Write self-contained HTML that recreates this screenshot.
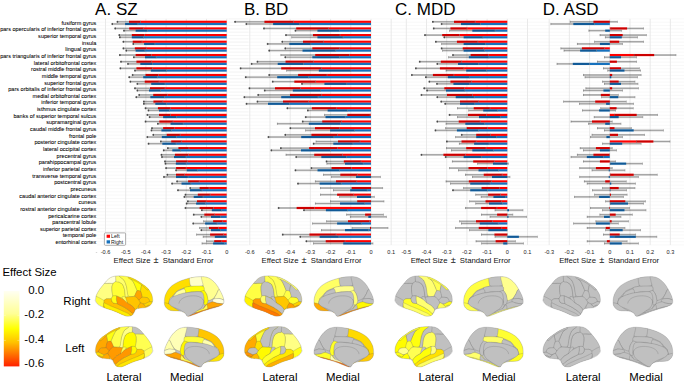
<!DOCTYPE html>
<html><head><meta charset="utf-8"><style>html,body{margin:0;padding:0;background:#fff}body{width:685px;height:385px;overflow:hidden}svg{display:block}text{font-family:"Liberation Sans",sans-serif}</style></head><body>
<svg width="685" height="385" viewBox="0 0 685 385" font-family="Liberation Sans, sans-serif">
<rect width="685" height="385" fill="#fff"/>
<path d="M97 18.9H248M97 22.22H248M97 25.55H248M97 28.88H248M97 32.2H248M97 35.52H248M97 38.85H248M97 42.17H248M97 45.5H248M97 48.83H248M97 52.15H248M97 55.48H248M97 58.8H248M97 62.12H248M97 65.45H248M97 68.78H248M97 72.1H248M97 75.43H248M97 78.75H248M97 82.08H248M97 85.4H248M97 88.72H248M97 92.05H248M97 95.38H248M97 98.7H248M97 102.03H248M97 105.35H248M97 108.68H248M97 112H248M97 115.33H248M97 118.65H248M97 121.97H248M97 125.3H248M97 128.62H248M97 131.95H248M97 135.28H248M97 138.6H248M97 141.93H248M97 145.25H248M97 148.58H248M97 151.9H248M97 155.23H248M97 158.55H248M97 161.88H248M97 165.2H248M97 168.53H248M97 171.85H248M97 175.18H248M97 178.5H248M97 181.83H248M97 185.15H248M97 188.48H248M97 191.8H248M97 195.13H248M97 198.45H248M97 201.78H248M97 205.1H248M97 208.43H248M97 211.75H248M97 215.08H248M97 218.4H248M97 221.73H248M97 225.05H248M97 228.38H248M97 231.7H248M97 235.03H248M97 238.35H248M97 241.68H248M97 245H248" stroke="#f3f3f3" stroke-width="0.6"/>
<path d="M105.5 18.9V245.0M125.7 18.9V245.0M145.9 18.9V245.0M166.1 18.9V245.0M186.3 18.9V245.0M206.5 18.9V245.0M226.7 18.9V245.0" stroke="#e6e6e6" stroke-width="0.9"/>
<rect x="129" y="20.7" width="97.7" height="2.2" fill="#ff0000"/>
<rect x="117.5" y="20.85" width="23" height="1.9" fill="#000" fill-opacity="0.21"/>
<rect x="117.5" y="21.25" width="11.5" height="1.0" fill="#000" fill-opacity="0.2"/>
<rect x="117.25" y="20.7" width="0.5" height="2.2" fill="#666"/>
<rect x="140.25" y="20.7" width="0.5" height="2.2" fill="#888"/>
<rect x="116.6" y="21" width="1.6" height="1.6" fill="#333" fill-opacity="0.8"/>
<rect x="125.1" y="22.9" width="101.6" height="2.2" fill="#1671bd"/>
<rect x="112.3" y="23.05" width="25.6" height="1.9" fill="#000" fill-opacity="0.21"/>
<rect x="112.3" y="23.45" width="12.8" height="1.0" fill="#000" fill-opacity="0.2"/>
<rect x="112.05" y="22.9" width="0.5" height="2.2" fill="#666"/>
<rect x="137.65" y="22.9" width="0.5" height="2.2" fill="#888"/>
<rect x="111.4" y="23.2" width="1.6" height="1.6" fill="#333" fill-opacity="0.8"/>
<rect x="129.2" y="27.35" width="97.5" height="2.2" fill="#ff0000"/>
<rect x="115.2" y="27.5" width="28" height="1.9" fill="#000" fill-opacity="0.21"/>
<rect x="115.2" y="27.9" width="14" height="1.0" fill="#000" fill-opacity="0.2"/>
<rect x="114.95" y="27.35" width="0.5" height="2.2" fill="#666"/>
<rect x="142.95" y="27.35" width="0.5" height="2.2" fill="#888"/>
<rect x="114.3" y="27.65" width="1.6" height="1.6" fill="#333" fill-opacity="0.8"/>
<rect x="135.6" y="29.55" width="91.1" height="2.2" fill="#1671bd"/>
<rect x="124" y="29.7" width="23.2" height="1.9" fill="#000" fill-opacity="0.21"/>
<rect x="124" y="30.1" width="11.6" height="1.0" fill="#000" fill-opacity="0.2"/>
<rect x="123.75" y="29.55" width="0.5" height="2.2" fill="#666"/>
<rect x="146.95" y="29.55" width="0.5" height="2.2" fill="#888"/>
<rect x="123.1" y="29.85" width="1.6" height="1.6" fill="#333" fill-opacity="0.8"/>
<rect x="131.8" y="34" width="94.9" height="2.2" fill="#ff0000"/>
<rect x="119.3" y="34.15" width="25" height="1.9" fill="#000" fill-opacity="0.21"/>
<rect x="119.3" y="34.55" width="12.5" height="1.0" fill="#000" fill-opacity="0.2"/>
<rect x="119.05" y="34" width="0.5" height="2.2" fill="#666"/>
<rect x="144.05" y="34" width="0.5" height="2.2" fill="#888"/>
<rect x="118.4" y="34.3" width="1.6" height="1.6" fill="#333" fill-opacity="0.8"/>
<rect x="131.8" y="36.2" width="94.9" height="2.2" fill="#1671bd"/>
<rect x="119.9" y="36.35" width="23.8" height="1.9" fill="#000" fill-opacity="0.21"/>
<rect x="119.9" y="36.75" width="11.9" height="1.0" fill="#000" fill-opacity="0.2"/>
<rect x="119.65" y="36.2" width="0.5" height="2.2" fill="#666"/>
<rect x="143.45" y="36.2" width="0.5" height="2.2" fill="#888"/>
<rect x="119" y="36.5" width="1.6" height="1.6" fill="#333" fill-opacity="0.8"/>
<rect x="132.7" y="40.65" width="94" height="2.2" fill="#ff0000"/>
<rect x="123.4" y="40.8" width="18.6" height="1.9" fill="#000" fill-opacity="0.21"/>
<rect x="123.4" y="41.2" width="9.3" height="1.0" fill="#000" fill-opacity="0.2"/>
<rect x="123.15" y="40.65" width="0.5" height="2.2" fill="#666"/>
<rect x="141.75" y="40.65" width="0.5" height="2.2" fill="#888"/>
<rect x="122.5" y="40.95" width="1.6" height="1.6" fill="#333" fill-opacity="0.8"/>
<rect x="144.1" y="42.85" width="82.6" height="2.2" fill="#1671bd"/>
<rect x="133.3" y="43" width="21.6" height="1.9" fill="#000" fill-opacity="0.21"/>
<rect x="133.3" y="43.4" width="10.8" height="1.0" fill="#000" fill-opacity="0.2"/>
<rect x="133.05" y="42.85" width="0.5" height="2.2" fill="#666"/>
<rect x="154.65" y="42.85" width="0.5" height="2.2" fill="#888"/>
<rect x="132.4" y="43.15" width="1.6" height="1.6" fill="#333" fill-opacity="0.8"/>
<rect x="134.8" y="47.3" width="91.9" height="2.2" fill="#ff0000"/>
<rect x="123.4" y="47.45" width="22.8" height="1.9" fill="#000" fill-opacity="0.21"/>
<rect x="123.4" y="47.85" width="11.4" height="1.0" fill="#000" fill-opacity="0.2"/>
<rect x="123.15" y="47.3" width="0.5" height="2.2" fill="#666"/>
<rect x="145.95" y="47.3" width="0.5" height="2.2" fill="#888"/>
<rect x="122.5" y="47.6" width="1.6" height="1.6" fill="#333" fill-opacity="0.8"/>
<rect x="135.6" y="49.5" width="91.1" height="2.2" fill="#1671bd"/>
<rect x="126.3" y="49.65" width="18.6" height="1.9" fill="#000" fill-opacity="0.21"/>
<rect x="126.3" y="50.05" width="9.3" height="1.0" fill="#000" fill-opacity="0.2"/>
<rect x="126.05" y="49.5" width="0.5" height="2.2" fill="#666"/>
<rect x="144.65" y="49.5" width="0.5" height="2.2" fill="#888"/>
<rect x="125.4" y="49.8" width="1.6" height="1.6" fill="#333" fill-opacity="0.8"/>
<rect x="135.6" y="53.95" width="91.1" height="2.2" fill="#ff0000"/>
<rect x="119.9" y="54.1" width="31.4" height="1.9" fill="#000" fill-opacity="0.21"/>
<rect x="119.9" y="54.5" width="15.7" height="1.0" fill="#000" fill-opacity="0.2"/>
<rect x="119.65" y="53.95" width="0.5" height="2.2" fill="#666"/>
<rect x="151.05" y="53.95" width="0.5" height="2.2" fill="#888"/>
<rect x="119" y="54.25" width="1.6" height="1.6" fill="#333" fill-opacity="0.8"/>
<rect x="145" y="56.15" width="81.7" height="2.2" fill="#1671bd"/>
<rect x="133.9" y="56.3" width="22.2" height="1.9" fill="#000" fill-opacity="0.21"/>
<rect x="133.9" y="56.7" width="11.1" height="1.0" fill="#000" fill-opacity="0.2"/>
<rect x="133.65" y="56.15" width="0.5" height="2.2" fill="#666"/>
<rect x="155.85" y="56.15" width="0.5" height="2.2" fill="#888"/>
<rect x="133" y="56.45" width="1.6" height="1.6" fill="#333" fill-opacity="0.8"/>
<rect x="136.4" y="60.6" width="90.3" height="2.2" fill="#ff0000"/>
<rect x="121" y="60.75" width="30.8" height="1.9" fill="#000" fill-opacity="0.21"/>
<rect x="121" y="61.15" width="15.4" height="1.0" fill="#000" fill-opacity="0.2"/>
<rect x="120.75" y="60.6" width="0.5" height="2.2" fill="#666"/>
<rect x="151.55" y="60.6" width="0.5" height="2.2" fill="#888"/>
<rect x="120.1" y="60.9" width="1.6" height="1.6" fill="#333" fill-opacity="0.8"/>
<rect x="140.3" y="62.8" width="86.4" height="2.2" fill="#1671bd"/>
<rect x="128" y="62.95" width="24.6" height="1.9" fill="#000" fill-opacity="0.21"/>
<rect x="128" y="63.35" width="12.3" height="1.0" fill="#000" fill-opacity="0.2"/>
<rect x="127.75" y="62.8" width="0.5" height="2.2" fill="#666"/>
<rect x="152.35" y="62.8" width="0.5" height="2.2" fill="#888"/>
<rect x="127.1" y="63.1" width="1.6" height="1.6" fill="#333" fill-opacity="0.8"/>
<rect x="136.4" y="67.25" width="90.3" height="2.2" fill="#ff0000"/>
<rect x="120.4" y="67.4" width="32" height="1.9" fill="#000" fill-opacity="0.21"/>
<rect x="120.4" y="67.8" width="16" height="1.0" fill="#000" fill-opacity="0.2"/>
<rect x="120.15" y="67.25" width="0.5" height="2.2" fill="#666"/>
<rect x="152.15" y="67.25" width="0.5" height="2.2" fill="#888"/>
<rect x="119.5" y="67.55" width="1.6" height="1.6" fill="#333" fill-opacity="0.8"/>
<rect x="150.8" y="69.45" width="75.9" height="2.2" fill="#1671bd"/>
<rect x="135" y="69.6" width="31.6" height="1.9" fill="#000" fill-opacity="0.21"/>
<rect x="135" y="70" width="15.8" height="1.0" fill="#000" fill-opacity="0.2"/>
<rect x="134.75" y="69.45" width="0.5" height="2.2" fill="#666"/>
<rect x="166.35" y="69.45" width="0.5" height="2.2" fill="#888"/>
<rect x="134.1" y="69.75" width="1.6" height="1.6" fill="#333" fill-opacity="0.8"/>
<rect x="145.5" y="73.9" width="81.2" height="2.2" fill="#ff0000"/>
<rect x="132.7" y="74.05" width="25.6" height="1.9" fill="#000" fill-opacity="0.21"/>
<rect x="132.7" y="74.45" width="12.8" height="1.0" fill="#000" fill-opacity="0.2"/>
<rect x="132.45" y="73.9" width="0.5" height="2.2" fill="#666"/>
<rect x="158.05" y="73.9" width="0.5" height="2.2" fill="#888"/>
<rect x="131.8" y="74.2" width="1.6" height="1.6" fill="#333" fill-opacity="0.8"/>
<rect x="143.2" y="76.1" width="83.5" height="2.2" fill="#1671bd"/>
<rect x="129.2" y="76.25" width="28" height="1.9" fill="#000" fill-opacity="0.21"/>
<rect x="129.2" y="76.65" width="14" height="1.0" fill="#000" fill-opacity="0.2"/>
<rect x="128.95" y="76.1" width="0.5" height="2.2" fill="#666"/>
<rect x="156.95" y="76.1" width="0.5" height="2.2" fill="#888"/>
<rect x="128.3" y="76.4" width="1.6" height="1.6" fill="#333" fill-opacity="0.8"/>
<rect x="144.7" y="80.55" width="82" height="2.2" fill="#ff0000"/>
<rect x="130.4" y="80.7" width="28.6" height="1.9" fill="#000" fill-opacity="0.21"/>
<rect x="130.4" y="81.1" width="14.3" height="1.0" fill="#000" fill-opacity="0.2"/>
<rect x="130.15" y="80.55" width="0.5" height="2.2" fill="#666"/>
<rect x="158.75" y="80.55" width="0.5" height="2.2" fill="#888"/>
<rect x="129.5" y="80.85" width="1.6" height="1.6" fill="#333" fill-opacity="0.8"/>
<rect x="151.2" y="82.75" width="75.5" height="2.2" fill="#1671bd"/>
<rect x="137.4" y="82.9" width="27.6" height="1.9" fill="#000" fill-opacity="0.21"/>
<rect x="137.4" y="83.3" width="13.8" height="1.0" fill="#000" fill-opacity="0.2"/>
<rect x="137.15" y="82.75" width="0.5" height="2.2" fill="#666"/>
<rect x="164.75" y="82.75" width="0.5" height="2.2" fill="#888"/>
<rect x="136.5" y="83.05" width="1.6" height="1.6" fill="#333" fill-opacity="0.8"/>
<rect x="150" y="87.2" width="76.7" height="2.2" fill="#ff0000"/>
<rect x="135" y="87.35" width="30" height="1.9" fill="#000" fill-opacity="0.21"/>
<rect x="135" y="87.75" width="15" height="1.0" fill="#000" fill-opacity="0.2"/>
<rect x="134.75" y="87.2" width="0.5" height="2.2" fill="#666"/>
<rect x="164.75" y="87.2" width="0.5" height="2.2" fill="#888"/>
<rect x="134.1" y="87.5" width="1.6" height="1.6" fill="#333" fill-opacity="0.8"/>
<rect x="149" y="89.4" width="77.7" height="2.2" fill="#1671bd"/>
<rect x="137.4" y="89.55" width="23.2" height="1.9" fill="#000" fill-opacity="0.21"/>
<rect x="137.4" y="89.95" width="11.6" height="1.0" fill="#000" fill-opacity="0.2"/>
<rect x="137.15" y="89.4" width="0.5" height="2.2" fill="#666"/>
<rect x="160.35" y="89.4" width="0.5" height="2.2" fill="#888"/>
<rect x="136.5" y="89.7" width="1.6" height="1.6" fill="#333" fill-opacity="0.8"/>
<rect x="153.2" y="93.85" width="73.5" height="2.2" fill="#ff0000"/>
<rect x="139.2" y="94" width="28" height="1.9" fill="#000" fill-opacity="0.21"/>
<rect x="139.2" y="94.4" width="14" height="1.0" fill="#000" fill-opacity="0.2"/>
<rect x="138.95" y="93.85" width="0.5" height="2.2" fill="#666"/>
<rect x="166.95" y="93.85" width="0.5" height="2.2" fill="#888"/>
<rect x="138.3" y="94.15" width="1.6" height="1.6" fill="#333" fill-opacity="0.8"/>
<rect x="150.3" y="96.05" width="76.4" height="2.2" fill="#1671bd"/>
<rect x="136.3" y="96.2" width="28" height="1.9" fill="#000" fill-opacity="0.21"/>
<rect x="136.3" y="96.6" width="14" height="1.0" fill="#000" fill-opacity="0.2"/>
<rect x="136.05" y="96.05" width="0.5" height="2.2" fill="#666"/>
<rect x="164.05" y="96.05" width="0.5" height="2.2" fill="#888"/>
<rect x="135.4" y="96.35" width="1.6" height="1.6" fill="#333" fill-opacity="0.8"/>
<rect x="153.4" y="100.5" width="73.3" height="2.2" fill="#ff0000"/>
<rect x="143.9" y="100.65" width="19" height="1.9" fill="#000" fill-opacity="0.21"/>
<rect x="143.9" y="101.05" width="9.5" height="1.0" fill="#000" fill-opacity="0.2"/>
<rect x="143.65" y="100.5" width="0.5" height="2.2" fill="#666"/>
<rect x="162.65" y="100.5" width="0.5" height="2.2" fill="#888"/>
<rect x="143" y="100.8" width="1.6" height="1.6" fill="#333" fill-opacity="0.8"/>
<rect x="155.3" y="102.7" width="71.4" height="2.2" fill="#1671bd"/>
<rect x="143.9" y="102.85" width="22.8" height="1.9" fill="#000" fill-opacity="0.21"/>
<rect x="143.9" y="103.25" width="11.4" height="1.0" fill="#000" fill-opacity="0.2"/>
<rect x="143.65" y="102.7" width="0.5" height="2.2" fill="#666"/>
<rect x="166.45" y="102.7" width="0.5" height="2.2" fill="#888"/>
<rect x="143" y="103" width="1.6" height="1.6" fill="#333" fill-opacity="0.8"/>
<rect x="157.9" y="107.15" width="68.8" height="2.2" fill="#ff0000"/>
<rect x="145.6" y="107.3" width="24.6" height="1.9" fill="#000" fill-opacity="0.21"/>
<rect x="145.6" y="107.7" width="12.3" height="1.0" fill="#000" fill-opacity="0.2"/>
<rect x="145.35" y="107.15" width="0.5" height="2.2" fill="#666"/>
<rect x="169.95" y="107.15" width="0.5" height="2.2" fill="#888"/>
<rect x="144.7" y="107.45" width="1.6" height="1.6" fill="#333" fill-opacity="0.8"/>
<rect x="159" y="109.35" width="67.7" height="2.2" fill="#1671bd"/>
<rect x="148.5" y="109.5" width="21" height="1.9" fill="#000" fill-opacity="0.21"/>
<rect x="148.5" y="109.9" width="10.5" height="1.0" fill="#000" fill-opacity="0.2"/>
<rect x="148.25" y="109.35" width="0.5" height="2.2" fill="#666"/>
<rect x="169.25" y="109.35" width="0.5" height="2.2" fill="#888"/>
<rect x="147.6" y="109.65" width="1.6" height="1.6" fill="#333" fill-opacity="0.8"/>
<rect x="159" y="113.8" width="67.7" height="2.2" fill="#ff0000"/>
<rect x="147.4" y="113.95" width="23.2" height="1.9" fill="#000" fill-opacity="0.21"/>
<rect x="147.4" y="114.35" width="11.6" height="1.0" fill="#000" fill-opacity="0.2"/>
<rect x="147.15" y="113.8" width="0.5" height="2.2" fill="#666"/>
<rect x="170.35" y="113.8" width="0.5" height="2.2" fill="#888"/>
<rect x="146.5" y="114.1" width="1.6" height="1.6" fill="#333" fill-opacity="0.8"/>
<rect x="163.1" y="116" width="63.6" height="2.2" fill="#1671bd"/>
<rect x="149.7" y="116.15" width="26.8" height="1.9" fill="#000" fill-opacity="0.21"/>
<rect x="149.7" y="116.55" width="13.4" height="1.0" fill="#000" fill-opacity="0.2"/>
<rect x="149.45" y="116" width="0.5" height="2.2" fill="#666"/>
<rect x="176.25" y="116" width="0.5" height="2.2" fill="#888"/>
<rect x="148.8" y="116.3" width="1.6" height="1.6" fill="#333" fill-opacity="0.8"/>
<rect x="159.3" y="120.45" width="67.4" height="2.2" fill="#ff0000"/>
<rect x="145.6" y="120.6" width="27.4" height="1.9" fill="#000" fill-opacity="0.21"/>
<rect x="145.6" y="121" width="13.7" height="1.0" fill="#000" fill-opacity="0.2"/>
<rect x="145.35" y="120.45" width="0.5" height="2.2" fill="#666"/>
<rect x="172.75" y="120.45" width="0.5" height="2.2" fill="#888"/>
<rect x="144.7" y="120.75" width="1.6" height="1.6" fill="#333" fill-opacity="0.8"/>
<rect x="170.5" y="122.65" width="56.2" height="2.2" fill="#1671bd"/>
<rect x="157.9" y="122.8" width="25.2" height="1.9" fill="#000" fill-opacity="0.21"/>
<rect x="157.9" y="123.2" width="12.6" height="1.0" fill="#000" fill-opacity="0.2"/>
<rect x="157.65" y="122.65" width="0.5" height="2.2" fill="#666"/>
<rect x="182.85" y="122.65" width="0.5" height="2.2" fill="#888"/>
<rect x="157" y="122.95" width="1.6" height="1.6" fill="#333" fill-opacity="0.8"/>
<rect x="163.1" y="127.1" width="63.6" height="2.2" fill="#ff0000"/>
<rect x="152" y="127.25" width="22.2" height="1.9" fill="#000" fill-opacity="0.21"/>
<rect x="152" y="127.65" width="11.1" height="1.0" fill="#000" fill-opacity="0.2"/>
<rect x="151.75" y="127.1" width="0.5" height="2.2" fill="#666"/>
<rect x="173.95" y="127.1" width="0.5" height="2.2" fill="#888"/>
<rect x="151.1" y="127.4" width="1.6" height="1.6" fill="#333" fill-opacity="0.8"/>
<rect x="161.4" y="129.3" width="65.3" height="2.2" fill="#1671bd"/>
<rect x="151.5" y="129.45" width="19.8" height="1.9" fill="#000" fill-opacity="0.21"/>
<rect x="151.5" y="129.85" width="9.9" height="1.0" fill="#000" fill-opacity="0.2"/>
<rect x="151.25" y="129.3" width="0.5" height="2.2" fill="#666"/>
<rect x="171.05" y="129.3" width="0.5" height="2.2" fill="#888"/>
<rect x="150.6" y="129.6" width="1.6" height="1.6" fill="#333" fill-opacity="0.8"/>
<rect x="166.7" y="133.75" width="60" height="2.2" fill="#ff0000"/>
<rect x="153.3" y="133.9" width="26.8" height="1.9" fill="#000" fill-opacity="0.21"/>
<rect x="153.3" y="134.3" width="13.4" height="1.0" fill="#000" fill-opacity="0.2"/>
<rect x="153.05" y="133.75" width="0.5" height="2.2" fill="#666"/>
<rect x="179.85" y="133.75" width="0.5" height="2.2" fill="#888"/>
<rect x="152.4" y="134.05" width="1.6" height="1.6" fill="#333" fill-opacity="0.8"/>
<rect x="161.8" y="135.95" width="64.9" height="2.2" fill="#1671bd"/>
<rect x="147.4" y="136.1" width="28.8" height="1.9" fill="#000" fill-opacity="0.21"/>
<rect x="147.4" y="136.5" width="14.4" height="1.0" fill="#000" fill-opacity="0.2"/>
<rect x="147.15" y="135.95" width="0.5" height="2.2" fill="#666"/>
<rect x="175.95" y="135.95" width="0.5" height="2.2" fill="#888"/>
<rect x="146.5" y="136.25" width="1.6" height="1.6" fill="#333" fill-opacity="0.8"/>
<rect x="171.2" y="140.4" width="55.5" height="2.2" fill="#ff0000"/>
<rect x="160.9" y="140.55" width="20.6" height="1.9" fill="#000" fill-opacity="0.21"/>
<rect x="160.9" y="140.95" width="10.3" height="1.0" fill="#000" fill-opacity="0.2"/>
<rect x="160.65" y="140.4" width="0.5" height="2.2" fill="#666"/>
<rect x="181.25" y="140.4" width="0.5" height="2.2" fill="#888"/>
<rect x="160" y="140.7" width="1.6" height="1.6" fill="#333" fill-opacity="0.8"/>
<rect x="162.3" y="142.6" width="64.4" height="2.2" fill="#1671bd"/>
<rect x="148.6" y="142.75" width="27.4" height="1.9" fill="#000" fill-opacity="0.21"/>
<rect x="148.6" y="143.15" width="13.7" height="1.0" fill="#000" fill-opacity="0.2"/>
<rect x="148.35" y="142.6" width="0.5" height="2.2" fill="#666"/>
<rect x="175.75" y="142.6" width="0.5" height="2.2" fill="#888"/>
<rect x="147.7" y="142.9" width="1.6" height="1.6" fill="#333" fill-opacity="0.8"/>
<rect x="178.4" y="147.05" width="48.3" height="2.2" fill="#ff0000"/>
<rect x="167.9" y="147.2" width="21" height="1.9" fill="#000" fill-opacity="0.21"/>
<rect x="167.9" y="147.6" width="10.5" height="1.0" fill="#000" fill-opacity="0.2"/>
<rect x="167.65" y="147.05" width="0.5" height="2.2" fill="#666"/>
<rect x="188.65" y="147.05" width="0.5" height="2.2" fill="#888"/>
<rect x="167" y="147.35" width="1.6" height="1.6" fill="#333" fill-opacity="0.8"/>
<rect x="172.3" y="149.25" width="54.4" height="2.2" fill="#1671bd"/>
<rect x="163.8" y="149.4" width="17" height="1.9" fill="#000" fill-opacity="0.21"/>
<rect x="163.8" y="149.8" width="8.5" height="1.0" fill="#000" fill-opacity="0.2"/>
<rect x="163.55" y="149.25" width="0.5" height="2.2" fill="#666"/>
<rect x="180.55" y="149.25" width="0.5" height="2.2" fill="#888"/>
<rect x="162.9" y="149.55" width="1.6" height="1.6" fill="#333" fill-opacity="0.8"/>
<rect x="174.9" y="153.7" width="51.8" height="2.2" fill="#ff0000"/>
<rect x="161.5" y="153.85" width="26.8" height="1.9" fill="#000" fill-opacity="0.21"/>
<rect x="161.5" y="154.25" width="13.4" height="1.0" fill="#000" fill-opacity="0.2"/>
<rect x="161.25" y="153.7" width="0.5" height="2.2" fill="#666"/>
<rect x="188.05" y="153.7" width="0.5" height="2.2" fill="#888"/>
<rect x="160.6" y="154" width="1.6" height="1.6" fill="#333" fill-opacity="0.8"/>
<rect x="174" y="155.9" width="52.7" height="2.2" fill="#1671bd"/>
<rect x="162" y="156.05" width="24" height="1.9" fill="#000" fill-opacity="0.21"/>
<rect x="162" y="156.45" width="12" height="1.0" fill="#000" fill-opacity="0.2"/>
<rect x="161.75" y="155.9" width="0.5" height="2.2" fill="#666"/>
<rect x="185.75" y="155.9" width="0.5" height="2.2" fill="#888"/>
<rect x="161.1" y="156.2" width="1.6" height="1.6" fill="#333" fill-opacity="0.8"/>
<rect x="176.1" y="160.35" width="50.6" height="2.2" fill="#ff0000"/>
<rect x="165" y="160.5" width="22.2" height="1.9" fill="#000" fill-opacity="0.21"/>
<rect x="165" y="160.9" width="11.1" height="1.0" fill="#000" fill-opacity="0.2"/>
<rect x="164.75" y="160.35" width="0.5" height="2.2" fill="#666"/>
<rect x="186.95" y="160.35" width="0.5" height="2.2" fill="#888"/>
<rect x="164.1" y="160.65" width="1.6" height="1.6" fill="#333" fill-opacity="0.8"/>
<rect x="175.8" y="162.55" width="50.9" height="2.2" fill="#1671bd"/>
<rect x="165.5" y="162.7" width="20.6" height="1.9" fill="#000" fill-opacity="0.21"/>
<rect x="165.5" y="163.1" width="10.3" height="1.0" fill="#000" fill-opacity="0.2"/>
<rect x="165.25" y="162.55" width="0.5" height="2.2" fill="#666"/>
<rect x="185.85" y="162.55" width="0.5" height="2.2" fill="#888"/>
<rect x="164.6" y="162.85" width="1.6" height="1.6" fill="#333" fill-opacity="0.8"/>
<rect x="176.1" y="167" width="50.6" height="2.2" fill="#ff0000"/>
<rect x="166.1" y="167.15" width="20" height="1.9" fill="#000" fill-opacity="0.21"/>
<rect x="166.1" y="167.55" width="10" height="1.0" fill="#000" fill-opacity="0.2"/>
<rect x="165.85" y="167" width="0.5" height="2.2" fill="#666"/>
<rect x="185.85" y="167" width="0.5" height="2.2" fill="#888"/>
<rect x="165.2" y="167.3" width="1.6" height="1.6" fill="#333" fill-opacity="0.8"/>
<rect x="186.8" y="169.2" width="39.9" height="2.2" fill="#1671bd"/>
<rect x="176.1" y="169.35" width="21.4" height="1.9" fill="#000" fill-opacity="0.21"/>
<rect x="176.1" y="169.75" width="10.7" height="1.0" fill="#000" fill-opacity="0.2"/>
<rect x="175.85" y="169.2" width="0.5" height="2.2" fill="#666"/>
<rect x="197.25" y="169.2" width="0.5" height="2.2" fill="#888"/>
<rect x="175.2" y="169.5" width="1.6" height="1.6" fill="#333" fill-opacity="0.8"/>
<rect x="176" y="173.65" width="50.7" height="2.2" fill="#ff0000"/>
<rect x="167.4" y="173.8" width="17.2" height="1.9" fill="#000" fill-opacity="0.21"/>
<rect x="167.4" y="174.2" width="8.6" height="1.0" fill="#000" fill-opacity="0.2"/>
<rect x="167.15" y="173.65" width="0.5" height="2.2" fill="#666"/>
<rect x="184.35" y="173.65" width="0.5" height="2.2" fill="#888"/>
<rect x="166.5" y="173.95" width="1.6" height="1.6" fill="#333" fill-opacity="0.8"/>
<rect x="176" y="175.85" width="50.7" height="2.2" fill="#1671bd"/>
<rect x="164" y="176" width="24" height="1.9" fill="#000" fill-opacity="0.21"/>
<rect x="164" y="176.4" width="12" height="1.0" fill="#000" fill-opacity="0.2"/>
<rect x="163.75" y="175.85" width="0.5" height="2.2" fill="#666"/>
<rect x="187.75" y="175.85" width="0.5" height="2.2" fill="#888"/>
<rect x="163.1" y="176.15" width="1.6" height="1.6" fill="#333" fill-opacity="0.8"/>
<rect x="188.1" y="180.3" width="38.6" height="2.2" fill="#ff0000"/>
<rect x="177.1" y="180.45" width="22" height="1.9" fill="#000" fill-opacity="0.21"/>
<rect x="177.1" y="180.85" width="11" height="1.0" fill="#000" fill-opacity="0.2"/>
<rect x="176.85" y="180.3" width="0.5" height="2.2" fill="#666"/>
<rect x="198.85" y="180.3" width="0.5" height="2.2" fill="#888"/>
<rect x="176.2" y="180.6" width="1.6" height="1.6" fill="#333" fill-opacity="0.8"/>
<rect x="181.5" y="182.5" width="45.2" height="2.2" fill="#1671bd"/>
<rect x="172.1" y="182.65" width="18.8" height="1.9" fill="#000" fill-opacity="0.21"/>
<rect x="172.1" y="183.05" width="9.4" height="1.0" fill="#000" fill-opacity="0.2"/>
<rect x="171.85" y="182.5" width="0.5" height="2.2" fill="#666"/>
<rect x="190.65" y="182.5" width="0.5" height="2.2" fill="#888"/>
<rect x="171.2" y="182.8" width="1.6" height="1.6" fill="#333" fill-opacity="0.8"/>
<rect x="199.6" y="186.95" width="27.1" height="2.2" fill="#ff0000"/>
<rect x="190.2" y="187.1" width="18.8" height="1.9" fill="#000" fill-opacity="0.21"/>
<rect x="190.2" y="187.5" width="9.4" height="1.0" fill="#000" fill-opacity="0.2"/>
<rect x="189.95" y="186.95" width="0.5" height="2.2" fill="#666"/>
<rect x="208.75" y="186.95" width="0.5" height="2.2" fill="#888"/>
<rect x="189.3" y="187.25" width="1.6" height="1.6" fill="#333" fill-opacity="0.8"/>
<rect x="190" y="189.15" width="36.7" height="2.2" fill="#1671bd"/>
<rect x="178" y="189.3" width="24" height="1.9" fill="#000" fill-opacity="0.21"/>
<rect x="178" y="189.7" width="12" height="1.0" fill="#000" fill-opacity="0.2"/>
<rect x="177.75" y="189.15" width="0.5" height="2.2" fill="#666"/>
<rect x="201.75" y="189.15" width="0.5" height="2.2" fill="#888"/>
<rect x="177.1" y="189.45" width="1.6" height="1.6" fill="#333" fill-opacity="0.8"/>
<rect x="197.8" y="193.6" width="28.9" height="2.2" fill="#ff0000"/>
<rect x="185.5" y="193.75" width="24.6" height="1.9" fill="#000" fill-opacity="0.21"/>
<rect x="185.5" y="194.15" width="12.3" height="1.0" fill="#000" fill-opacity="0.2"/>
<rect x="185.25" y="193.6" width="0.5" height="2.2" fill="#666"/>
<rect x="209.85" y="193.6" width="0.5" height="2.2" fill="#888"/>
<rect x="184.6" y="193.9" width="1.6" height="1.6" fill="#333" fill-opacity="0.8"/>
<rect x="193.7" y="195.8" width="33" height="2.2" fill="#1671bd"/>
<rect x="184.4" y="195.95" width="18.6" height="1.9" fill="#000" fill-opacity="0.21"/>
<rect x="184.4" y="196.35" width="9.3" height="1.0" fill="#000" fill-opacity="0.2"/>
<rect x="184.15" y="195.8" width="0.5" height="2.2" fill="#666"/>
<rect x="202.75" y="195.8" width="0.5" height="2.2" fill="#888"/>
<rect x="183.5" y="196.1" width="1.6" height="1.6" fill="#333" fill-opacity="0.8"/>
<rect x="197" y="200.25" width="29.7" height="2.2" fill="#ff0000"/>
<rect x="187.9" y="200.4" width="18.2" height="1.9" fill="#000" fill-opacity="0.21"/>
<rect x="187.9" y="200.8" width="9.1" height="1.0" fill="#000" fill-opacity="0.2"/>
<rect x="187.65" y="200.25" width="0.5" height="2.2" fill="#666"/>
<rect x="205.85" y="200.25" width="0.5" height="2.2" fill="#888"/>
<rect x="187" y="200.55" width="1.6" height="1.6" fill="#333" fill-opacity="0.8"/>
<rect x="196.1" y="202.45" width="30.6" height="2.2" fill="#1671bd"/>
<rect x="186.7" y="202.6" width="18.8" height="1.9" fill="#000" fill-opacity="0.21"/>
<rect x="186.7" y="203" width="9.4" height="1.0" fill="#000" fill-opacity="0.2"/>
<rect x="186.45" y="202.45" width="0.5" height="2.2" fill="#666"/>
<rect x="205.25" y="202.45" width="0.5" height="2.2" fill="#888"/>
<rect x="185.8" y="202.75" width="1.6" height="1.6" fill="#333" fill-opacity="0.8"/>
<rect x="199.6" y="206.9" width="27.1" height="2.2" fill="#ff0000"/>
<rect x="185.5" y="207.05" width="28.2" height="1.9" fill="#000" fill-opacity="0.21"/>
<rect x="185.5" y="207.45" width="14.1" height="1.0" fill="#000" fill-opacity="0.2"/>
<rect x="185.25" y="206.9" width="0.5" height="2.2" fill="#666"/>
<rect x="213.45" y="206.9" width="0.5" height="2.2" fill="#888"/>
<rect x="184.6" y="207.2" width="1.6" height="1.6" fill="#333" fill-opacity="0.8"/>
<rect x="211.8" y="209.1" width="14.9" height="2.2" fill="#1671bd"/>
<rect x="201.9" y="209.25" width="19.8" height="1.9" fill="#000" fill-opacity="0.21"/>
<rect x="201.9" y="209.65" width="9.9" height="1.0" fill="#000" fill-opacity="0.2"/>
<rect x="201.65" y="209.1" width="0.5" height="2.2" fill="#666"/>
<rect x="221.45" y="209.1" width="0.5" height="2.2" fill="#888"/>
<rect x="201" y="209.4" width="1.6" height="1.6" fill="#333" fill-opacity="0.8"/>
<rect x="204.3" y="213.55" width="22.4" height="2.2" fill="#ff0000"/>
<rect x="193.8" y="213.7" width="21" height="1.9" fill="#000" fill-opacity="0.21"/>
<rect x="193.8" y="214.1" width="10.5" height="1.0" fill="#000" fill-opacity="0.2"/>
<rect x="193.55" y="213.55" width="0.5" height="2.2" fill="#666"/>
<rect x="214.55" y="213.55" width="0.5" height="2.2" fill="#888"/>
<rect x="192.9" y="213.85" width="1.6" height="1.6" fill="#333" fill-opacity="0.8"/>
<rect x="211" y="215.75" width="15.7" height="2.2" fill="#1671bd"/>
<rect x="201.4" y="215.9" width="19.2" height="1.9" fill="#000" fill-opacity="0.21"/>
<rect x="201.4" y="216.3" width="9.6" height="1.0" fill="#000" fill-opacity="0.2"/>
<rect x="201.15" y="215.75" width="0.5" height="2.2" fill="#666"/>
<rect x="220.35" y="215.75" width="0.5" height="2.2" fill="#888"/>
<rect x="200.5" y="216.05" width="1.6" height="1.6" fill="#333" fill-opacity="0.8"/>
<rect x="213.1" y="220.2" width="13.6" height="2.2" fill="#ff0000"/>
<rect x="203.7" y="220.35" width="18.8" height="1.9" fill="#000" fill-opacity="0.21"/>
<rect x="203.7" y="220.75" width="9.4" height="1.0" fill="#000" fill-opacity="0.2"/>
<rect x="203.45" y="220.2" width="0.5" height="2.2" fill="#666"/>
<rect x="222.25" y="220.2" width="0.5" height="2.2" fill="#888"/>
<rect x="205.1" y="222.4" width="21.6" height="2.2" fill="#1671bd"/>
<rect x="193.2" y="222.55" width="23.8" height="1.9" fill="#000" fill-opacity="0.21"/>
<rect x="193.2" y="222.95" width="11.9" height="1.0" fill="#000" fill-opacity="0.2"/>
<rect x="192.95" y="222.4" width="0.5" height="2.2" fill="#666"/>
<rect x="216.75" y="222.4" width="0.5" height="2.2" fill="#888"/>
<rect x="192.3" y="222.7" width="1.6" height="1.6" fill="#333" fill-opacity="0.8"/>
<rect x="209" y="226.85" width="17.7" height="2.2" fill="#ff0000"/>
<rect x="199.6" y="227" width="18.8" height="1.9" fill="#000" fill-opacity="0.21"/>
<rect x="199.6" y="227.4" width="9.4" height="1.0" fill="#000" fill-opacity="0.2"/>
<rect x="199.35" y="226.85" width="0.5" height="2.2" fill="#666"/>
<rect x="218.15" y="226.85" width="0.5" height="2.2" fill="#888"/>
<rect x="211" y="229.05" width="15.7" height="2.2" fill="#1671bd"/>
<rect x="201.4" y="229.2" width="19.2" height="1.9" fill="#000" fill-opacity="0.21"/>
<rect x="201.4" y="229.6" width="9.6" height="1.0" fill="#000" fill-opacity="0.2"/>
<rect x="201.15" y="229.05" width="0.5" height="2.2" fill="#666"/>
<rect x="220.35" y="229.05" width="0.5" height="2.2" fill="#888"/>
<rect x="200.5" y="229.35" width="1.6" height="1.6" fill="#333" fill-opacity="0.8"/>
<rect x="210.1" y="233.5" width="16.6" height="2.2" fill="#ff0000"/>
<rect x="196.7" y="233.65" width="26.8" height="1.9" fill="#000" fill-opacity="0.21"/>
<rect x="196.7" y="234.05" width="13.4" height="1.0" fill="#000" fill-opacity="0.2"/>
<rect x="196.45" y="233.5" width="0.5" height="2.2" fill="#666"/>
<rect x="223.25" y="233.5" width="0.5" height="2.2" fill="#888"/>
<rect x="214.8" y="235.7" width="11.9" height="2.2" fill="#1671bd"/>
<rect x="203.1" y="235.85" width="23.4" height="1.9" fill="#000" fill-opacity="0.21"/>
<rect x="203.1" y="236.25" width="11.7" height="1.0" fill="#000" fill-opacity="0.2"/>
<rect x="202.85" y="235.7" width="0.5" height="2.2" fill="#666"/>
<rect x="226.25" y="235.7" width="0.5" height="2.2" fill="#888"/>
<rect x="214.2" y="240.15" width="12.5" height="2.2" fill="#ff0000"/>
<rect x="206.6" y="240.3" width="15.2" height="1.9" fill="#000" fill-opacity="0.21"/>
<rect x="206.6" y="240.7" width="7.6" height="1.0" fill="#000" fill-opacity="0.2"/>
<rect x="206.35" y="240.15" width="0.5" height="2.2" fill="#666"/>
<rect x="221.55" y="240.15" width="0.5" height="2.2" fill="#888"/>
<rect x="213.1" y="242.35" width="13.6" height="2.2" fill="#1671bd"/>
<rect x="202" y="242.5" width="22.2" height="1.9" fill="#000" fill-opacity="0.21"/>
<rect x="202" y="242.9" width="11.1" height="1.0" fill="#000" fill-opacity="0.2"/>
<rect x="201.75" y="242.35" width="0.5" height="2.2" fill="#666"/>
<rect x="223.95" y="242.35" width="0.5" height="2.2" fill="#888"/>
<text x="105.5" y="253.9" font-size="5.6" text-anchor="middle" fill="#222">-0.6</text>
<text x="125.7" y="253.9" font-size="5.6" text-anchor="middle" fill="#222">-0.5</text>
<text x="145.9" y="253.9" font-size="5.6" text-anchor="middle" fill="#222">-0.4</text>
<text x="166.1" y="253.9" font-size="5.6" text-anchor="middle" fill="#222">-0.3</text>
<text x="186.3" y="253.9" font-size="5.6" text-anchor="middle" fill="#222">-0.2</text>
<text x="206.5" y="253.9" font-size="5.6" text-anchor="middle" fill="#222">-0.1</text>
<text x="226.7" y="253.9" font-size="5.6" text-anchor="middle" fill="#222">0</text>
<text y="263.3" font-size="7.75" fill="#111"><tspan x="113.6">Effect Size</tspan><tspan x="153.6" font-size="9.2">±</tspan><tspan x="162.8">Standard Error</tspan></text>
<text x="95.1" y="15.2" font-size="17" fill="#000">A. SZ</text>
<path d="M229 18.9H392M229 22.22H392M229 25.55H392M229 28.88H392M229 32.2H392M229 35.52H392M229 38.85H392M229 42.17H392M229 45.5H392M229 48.83H392M229 52.15H392M229 55.48H392M229 58.8H392M229 62.12H392M229 65.45H392M229 68.78H392M229 72.1H392M229 75.43H392M229 78.75H392M229 82.08H392M229 85.4H392M229 88.72H392M229 92.05H392M229 95.38H392M229 98.7H392M229 102.03H392M229 105.35H392M229 108.68H392M229 112H392M229 115.33H392M229 118.65H392M229 121.97H392M229 125.3H392M229 128.62H392M229 131.95H392M229 135.28H392M229 138.6H392M229 141.93H392M229 145.25H392M229 148.58H392M229 151.9H392M229 155.23H392M229 158.55H392M229 161.88H392M229 165.2H392M229 168.53H392M229 171.85H392M229 175.18H392M229 178.5H392M229 181.83H392M229 185.15H392M229 188.48H392M229 191.8H392M229 195.13H392M229 198.45H392M229 201.78H392M229 205.1H392M229 208.43H392M229 211.75H392M229 215.08H392M229 218.4H392M229 221.73H392M229 225.05H392M229 228.38H392M229 231.7H392M229 235.03H392M229 238.35H392M229 241.68H392M229 245H392" stroke="#f3f3f3" stroke-width="0.6"/>
<path d="M249.8 18.9V245.0M270 18.9V245.0M290.2 18.9V245.0M310.4 18.9V245.0M330.6 18.9V245.0M350.8 18.9V245.0M371 18.9V245.0M391.2 18.9V245.0" stroke="#e6e6e6" stroke-width="0.9"/>
<rect x="264.4" y="20.7" width="106.6" height="2.2" fill="#ff0000"/>
<rect x="235.1" y="20.85" width="58.6" height="1.9" fill="#000" fill-opacity="0.21"/>
<rect x="235.1" y="21.25" width="29.3" height="1.0" fill="#000" fill-opacity="0.2"/>
<rect x="234.85" y="20.7" width="0.5" height="2.2" fill="#666"/>
<rect x="293.45" y="20.7" width="0.5" height="2.2" fill="#888"/>
<rect x="234.2" y="21" width="1.6" height="1.6" fill="#333" fill-opacity="0.8"/>
<rect x="273.1" y="22.9" width="97.9" height="2.2" fill="#1671bd"/>
<rect x="246.4" y="23.05" width="53.4" height="1.9" fill="#000" fill-opacity="0.21"/>
<rect x="246.4" y="23.45" width="26.7" height="1.0" fill="#000" fill-opacity="0.2"/>
<rect x="246.15" y="22.9" width="0.5" height="2.2" fill="#666"/>
<rect x="299.55" y="22.9" width="0.5" height="2.2" fill="#888"/>
<rect x="245.5" y="23.2" width="1.6" height="1.6" fill="#333" fill-opacity="0.8"/>
<rect x="296.2" y="27.35" width="74.8" height="2.2" fill="#ff0000"/>
<rect x="264" y="27.5" width="64.4" height="1.9" fill="#000" fill-opacity="0.21"/>
<rect x="264" y="27.9" width="32.2" height="1.0" fill="#000" fill-opacity="0.2"/>
<rect x="263.75" y="27.35" width="0.5" height="2.2" fill="#666"/>
<rect x="328.15" y="27.35" width="0.5" height="2.2" fill="#888"/>
<rect x="263.1" y="27.65" width="1.6" height="1.6" fill="#333" fill-opacity="0.8"/>
<rect x="317.4" y="29.55" width="53.6" height="2.2" fill="#1671bd"/>
<rect x="295.5" y="29.7" width="43.8" height="1.9" fill="#000" fill-opacity="0.21"/>
<rect x="295.5" y="30.1" width="21.9" height="1.0" fill="#000" fill-opacity="0.2"/>
<rect x="295.25" y="29.55" width="0.5" height="2.2" fill="#666"/>
<rect x="339.05" y="29.55" width="0.5" height="2.2" fill="#888"/>
<rect x="294.6" y="29.85" width="1.6" height="1.6" fill="#333" fill-opacity="0.8"/>
<rect x="313" y="34" width="58" height="2.2" fill="#ff0000"/>
<rect x="286" y="34.15" width="54" height="1.9" fill="#000" fill-opacity="0.21"/>
<rect x="286" y="34.55" width="27" height="1.0" fill="#000" fill-opacity="0.2"/>
<rect x="285.75" y="34" width="0.5" height="2.2" fill="#666"/>
<rect x="339.75" y="34" width="0.5" height="2.2" fill="#888"/>
<rect x="285.1" y="34.3" width="1.6" height="1.6" fill="#333" fill-opacity="0.8"/>
<rect x="317.4" y="36.2" width="53.6" height="2.2" fill="#1671bd"/>
<rect x="291.8" y="36.35" width="51.2" height="1.9" fill="#000" fill-opacity="0.21"/>
<rect x="291.8" y="36.75" width="25.6" height="1.0" fill="#000" fill-opacity="0.2"/>
<rect x="291.55" y="36.2" width="0.5" height="2.2" fill="#666"/>
<rect x="342.75" y="36.2" width="0.5" height="2.2" fill="#888"/>
<rect x="303" y="40.65" width="68" height="2.2" fill="#ff0000"/>
<rect x="282.3" y="40.8" width="41.4" height="1.9" fill="#000" fill-opacity="0.21"/>
<rect x="282.3" y="41.2" width="20.7" height="1.0" fill="#000" fill-opacity="0.2"/>
<rect x="282.05" y="40.65" width="0.5" height="2.2" fill="#666"/>
<rect x="323.45" y="40.65" width="0.5" height="2.2" fill="#888"/>
<rect x="281.4" y="40.95" width="1.6" height="1.6" fill="#333" fill-opacity="0.8"/>
<rect x="289.3" y="42.85" width="81.7" height="2.2" fill="#1671bd"/>
<rect x="267.7" y="43" width="43.2" height="1.9" fill="#000" fill-opacity="0.21"/>
<rect x="267.7" y="43.4" width="21.6" height="1.0" fill="#000" fill-opacity="0.2"/>
<rect x="267.45" y="42.85" width="0.5" height="2.2" fill="#666"/>
<rect x="310.65" y="42.85" width="0.5" height="2.2" fill="#888"/>
<rect x="266.8" y="43.15" width="1.6" height="1.6" fill="#333" fill-opacity="0.8"/>
<rect x="312.3" y="47.3" width="58.7" height="2.2" fill="#ff0000"/>
<rect x="285.3" y="47.45" width="54" height="1.9" fill="#000" fill-opacity="0.21"/>
<rect x="285.3" y="47.85" width="27" height="1.0" fill="#000" fill-opacity="0.2"/>
<rect x="285.05" y="47.3" width="0.5" height="2.2" fill="#666"/>
<rect x="339.05" y="47.3" width="0.5" height="2.2" fill="#888"/>
<rect x="284.4" y="47.6" width="1.6" height="1.6" fill="#333" fill-opacity="0.8"/>
<rect x="302.5" y="49.5" width="68.5" height="2.2" fill="#1671bd"/>
<rect x="269.2" y="49.65" width="66.6" height="1.9" fill="#000" fill-opacity="0.21"/>
<rect x="269.2" y="50.05" width="33.3" height="1.0" fill="#000" fill-opacity="0.2"/>
<rect x="268.95" y="49.5" width="0.5" height="2.2" fill="#666"/>
<rect x="335.55" y="49.5" width="0.5" height="2.2" fill="#888"/>
<rect x="268.3" y="49.8" width="1.6" height="1.6" fill="#333" fill-opacity="0.8"/>
<rect x="315.2" y="53.95" width="55.8" height="2.2" fill="#ff0000"/>
<rect x="280.9" y="54.1" width="68.6" height="1.9" fill="#000" fill-opacity="0.21"/>
<rect x="280.9" y="54.5" width="34.3" height="1.0" fill="#000" fill-opacity="0.2"/>
<rect x="280.65" y="53.95" width="0.5" height="2.2" fill="#666"/>
<rect x="349.25" y="53.95" width="0.5" height="2.2" fill="#888"/>
<rect x="312.3" y="56.15" width="58.7" height="2.2" fill="#1671bd"/>
<rect x="285.3" y="56.3" width="54" height="1.9" fill="#000" fill-opacity="0.21"/>
<rect x="285.3" y="56.7" width="27" height="1.0" fill="#000" fill-opacity="0.2"/>
<rect x="285.05" y="56.15" width="0.5" height="2.2" fill="#666"/>
<rect x="339.05" y="56.15" width="0.5" height="2.2" fill="#888"/>
<rect x="284.4" y="56.45" width="1.6" height="1.6" fill="#333" fill-opacity="0.8"/>
<rect x="285.5" y="60.6" width="85.5" height="2.2" fill="#ff0000"/>
<rect x="257.5" y="60.75" width="56" height="1.9" fill="#000" fill-opacity="0.21"/>
<rect x="257.5" y="61.15" width="28" height="1.0" fill="#000" fill-opacity="0.2"/>
<rect x="257.25" y="60.6" width="0.5" height="2.2" fill="#666"/>
<rect x="313.25" y="60.6" width="0.5" height="2.2" fill="#888"/>
<rect x="256.6" y="60.9" width="1.6" height="1.6" fill="#333" fill-opacity="0.8"/>
<rect x="277.7" y="62.8" width="93.3" height="2.2" fill="#1671bd"/>
<rect x="251.7" y="62.95" width="52" height="1.9" fill="#000" fill-opacity="0.21"/>
<rect x="251.7" y="63.35" width="26" height="1.0" fill="#000" fill-opacity="0.2"/>
<rect x="251.45" y="62.8" width="0.5" height="2.2" fill="#666"/>
<rect x="303.45" y="62.8" width="0.5" height="2.2" fill="#888"/>
<rect x="250.8" y="63.1" width="1.6" height="1.6" fill="#333" fill-opacity="0.8"/>
<rect x="281.2" y="67.25" width="89.8" height="2.2" fill="#ff0000"/>
<rect x="240.7" y="67.4" width="81" height="1.9" fill="#000" fill-opacity="0.21"/>
<rect x="240.7" y="67.8" width="40.5" height="1.0" fill="#000" fill-opacity="0.2"/>
<rect x="240.45" y="67.25" width="0.5" height="2.2" fill="#666"/>
<rect x="321.45" y="67.25" width="0.5" height="2.2" fill="#888"/>
<rect x="239.8" y="67.55" width="1.6" height="1.6" fill="#333" fill-opacity="0.8"/>
<rect x="318.8" y="69.45" width="52.2" height="2.2" fill="#1671bd"/>
<rect x="286.7" y="69.6" width="64.2" height="1.9" fill="#000" fill-opacity="0.21"/>
<rect x="286.7" y="70" width="32.1" height="1.0" fill="#000" fill-opacity="0.2"/>
<rect x="286.45" y="69.45" width="0.5" height="2.2" fill="#666"/>
<rect x="350.65" y="69.45" width="0.5" height="2.2" fill="#888"/>
<rect x="298.1" y="73.9" width="72.9" height="2.2" fill="#ff0000"/>
<rect x="269.2" y="74.05" width="57.8" height="1.9" fill="#000" fill-opacity="0.21"/>
<rect x="269.2" y="74.45" width="28.9" height="1.0" fill="#000" fill-opacity="0.2"/>
<rect x="268.95" y="73.9" width="0.5" height="2.2" fill="#666"/>
<rect x="326.75" y="73.9" width="0.5" height="2.2" fill="#888"/>
<rect x="268.3" y="74.2" width="1.6" height="1.6" fill="#333" fill-opacity="0.8"/>
<rect x="277.2" y="76.1" width="93.8" height="2.2" fill="#1671bd"/>
<rect x="245.8" y="76.25" width="62.8" height="1.9" fill="#000" fill-opacity="0.21"/>
<rect x="245.8" y="76.65" width="31.4" height="1.0" fill="#000" fill-opacity="0.2"/>
<rect x="245.55" y="76.1" width="0.5" height="2.2" fill="#666"/>
<rect x="308.35" y="76.1" width="0.5" height="2.2" fill="#888"/>
<rect x="244.9" y="76.4" width="1.6" height="1.6" fill="#333" fill-opacity="0.8"/>
<rect x="294.3" y="80.55" width="76.7" height="2.2" fill="#ff0000"/>
<rect x="272.8" y="80.7" width="43" height="1.9" fill="#000" fill-opacity="0.21"/>
<rect x="272.8" y="81.1" width="21.5" height="1.0" fill="#000" fill-opacity="0.2"/>
<rect x="272.55" y="80.55" width="0.5" height="2.2" fill="#666"/>
<rect x="315.55" y="80.55" width="0.5" height="2.2" fill="#888"/>
<rect x="271.9" y="80.85" width="1.6" height="1.6" fill="#333" fill-opacity="0.8"/>
<rect x="324.4" y="82.75" width="46.6" height="2.2" fill="#1671bd"/>
<rect x="302" y="82.9" width="44.8" height="1.9" fill="#000" fill-opacity="0.21"/>
<rect x="302" y="83.3" width="22.4" height="1.0" fill="#000" fill-opacity="0.2"/>
<rect x="301.75" y="82.75" width="0.5" height="2.2" fill="#666"/>
<rect x="346.55" y="82.75" width="0.5" height="2.2" fill="#888"/>
<rect x="301.1" y="83.05" width="1.6" height="1.6" fill="#333" fill-opacity="0.8"/>
<rect x="275" y="87.2" width="96" height="2.2" fill="#ff0000"/>
<rect x="249.5" y="87.35" width="51" height="1.9" fill="#000" fill-opacity="0.21"/>
<rect x="249.5" y="87.75" width="25.5" height="1.0" fill="#000" fill-opacity="0.2"/>
<rect x="249.25" y="87.2" width="0.5" height="2.2" fill="#666"/>
<rect x="300.25" y="87.2" width="0.5" height="2.2" fill="#888"/>
<rect x="248.6" y="87.5" width="1.6" height="1.6" fill="#333" fill-opacity="0.8"/>
<rect x="292.8" y="89.4" width="78.2" height="2.2" fill="#1671bd"/>
<rect x="264.8" y="89.55" width="56" height="1.9" fill="#000" fill-opacity="0.21"/>
<rect x="264.8" y="89.95" width="28" height="1.0" fill="#000" fill-opacity="0.2"/>
<rect x="264.55" y="89.4" width="0.5" height="2.2" fill="#666"/>
<rect x="320.55" y="89.4" width="0.5" height="2.2" fill="#888"/>
<rect x="263.9" y="89.7" width="1.6" height="1.6" fill="#333" fill-opacity="0.8"/>
<rect x="290" y="93.85" width="81" height="2.2" fill="#ff0000"/>
<rect x="258.2" y="94" width="63.6" height="1.9" fill="#000" fill-opacity="0.21"/>
<rect x="258.2" y="94.4" width="31.8" height="1.0" fill="#000" fill-opacity="0.2"/>
<rect x="257.95" y="93.85" width="0.5" height="2.2" fill="#666"/>
<rect x="321.55" y="93.85" width="0.5" height="2.2" fill="#888"/>
<rect x="257.3" y="94.15" width="1.6" height="1.6" fill="#333" fill-opacity="0.8"/>
<rect x="281.2" y="96.05" width="89.8" height="2.2" fill="#1671bd"/>
<rect x="244.4" y="96.2" width="73.6" height="1.9" fill="#000" fill-opacity="0.21"/>
<rect x="244.4" y="96.6" width="36.8" height="1.0" fill="#000" fill-opacity="0.2"/>
<rect x="244.15" y="96.05" width="0.5" height="2.2" fill="#666"/>
<rect x="317.75" y="96.05" width="0.5" height="2.2" fill="#888"/>
<rect x="243.5" y="96.35" width="1.6" height="1.6" fill="#333" fill-opacity="0.8"/>
<rect x="283" y="100.5" width="88" height="2.2" fill="#ff0000"/>
<rect x="257.5" y="100.65" width="51" height="1.9" fill="#000" fill-opacity="0.21"/>
<rect x="257.5" y="101.05" width="25.5" height="1.0" fill="#000" fill-opacity="0.2"/>
<rect x="257.25" y="100.5" width="0.5" height="2.2" fill="#666"/>
<rect x="308.25" y="100.5" width="0.5" height="2.2" fill="#888"/>
<rect x="256.6" y="100.8" width="1.6" height="1.6" fill="#333" fill-opacity="0.8"/>
<rect x="268" y="102.7" width="103" height="2.2" fill="#1671bd"/>
<rect x="246.6" y="102.85" width="42.8" height="1.9" fill="#000" fill-opacity="0.21"/>
<rect x="246.6" y="103.25" width="21.4" height="1.0" fill="#000" fill-opacity="0.2"/>
<rect x="246.35" y="102.7" width="0.5" height="2.2" fill="#666"/>
<rect x="289.15" y="102.7" width="0.5" height="2.2" fill="#888"/>
<rect x="245.7" y="103" width="1.6" height="1.6" fill="#333" fill-opacity="0.8"/>
<rect x="311.8" y="107.15" width="59.2" height="2.2" fill="#ff0000"/>
<rect x="287.4" y="107.3" width="48.8" height="1.9" fill="#000" fill-opacity="0.21"/>
<rect x="287.4" y="107.7" width="24.4" height="1.0" fill="#000" fill-opacity="0.2"/>
<rect x="287.15" y="107.15" width="0.5" height="2.2" fill="#666"/>
<rect x="335.95" y="107.15" width="0.5" height="2.2" fill="#888"/>
<rect x="286.5" y="107.45" width="1.6" height="1.6" fill="#333" fill-opacity="0.8"/>
<rect x="327.6" y="109.35" width="43.4" height="2.2" fill="#1671bd"/>
<rect x="307.9" y="109.5" width="39.4" height="1.9" fill="#000" fill-opacity="0.21"/>
<rect x="307.9" y="109.9" width="19.7" height="1.0" fill="#000" fill-opacity="0.2"/>
<rect x="307.65" y="109.35" width="0.5" height="2.2" fill="#666"/>
<rect x="347.05" y="109.35" width="0.5" height="2.2" fill="#888"/>
<rect x="307" y="109.65" width="1.6" height="1.6" fill="#333" fill-opacity="0.8"/>
<rect x="347.3" y="113.8" width="23.7" height="2.2" fill="#ff0000"/>
<rect x="324.5" y="113.95" width="45.6" height="1.9" fill="#000" fill-opacity="0.21"/>
<rect x="324.5" y="114.35" width="22.8" height="1.0" fill="#000" fill-opacity="0.2"/>
<rect x="324.25" y="113.8" width="0.5" height="2.2" fill="#666"/>
<rect x="369.85" y="113.8" width="0.5" height="2.2" fill="#888"/>
<rect x="325.5" y="116" width="45.5" height="2.2" fill="#1671bd"/>
<rect x="305.8" y="116.15" width="39.4" height="1.9" fill="#000" fill-opacity="0.21"/>
<rect x="305.8" y="116.55" width="19.7" height="1.0" fill="#000" fill-opacity="0.2"/>
<rect x="305.55" y="116" width="0.5" height="2.2" fill="#666"/>
<rect x="344.95" y="116" width="0.5" height="2.2" fill="#888"/>
<rect x="304.9" y="116.3" width="1.6" height="1.6" fill="#333" fill-opacity="0.8"/>
<rect x="322.2" y="120.45" width="48.8" height="2.2" fill="#ff0000"/>
<rect x="302.8" y="120.6" width="38.8" height="1.9" fill="#000" fill-opacity="0.21"/>
<rect x="302.8" y="121" width="19.4" height="1.0" fill="#000" fill-opacity="0.2"/>
<rect x="302.55" y="120.45" width="0.5" height="2.2" fill="#666"/>
<rect x="341.35" y="120.45" width="0.5" height="2.2" fill="#888"/>
<rect x="301.9" y="120.75" width="1.6" height="1.6" fill="#333" fill-opacity="0.8"/>
<rect x="308.8" y="122.65" width="62.2" height="2.2" fill="#1671bd"/>
<rect x="277.2" y="122.8" width="63.2" height="1.9" fill="#000" fill-opacity="0.21"/>
<rect x="277.2" y="123.2" width="31.6" height="1.0" fill="#000" fill-opacity="0.2"/>
<rect x="276.95" y="122.65" width="0.5" height="2.2" fill="#666"/>
<rect x="340.15" y="122.65" width="0.5" height="2.2" fill="#888"/>
<rect x="315" y="127.1" width="56" height="2.2" fill="#ff0000"/>
<rect x="290.4" y="127.25" width="49.2" height="1.9" fill="#000" fill-opacity="0.21"/>
<rect x="290.4" y="127.65" width="24.6" height="1.0" fill="#000" fill-opacity="0.2"/>
<rect x="290.15" y="127.1" width="0.5" height="2.2" fill="#666"/>
<rect x="339.35" y="127.1" width="0.5" height="2.2" fill="#888"/>
<rect x="289.5" y="127.4" width="1.6" height="1.6" fill="#333" fill-opacity="0.8"/>
<rect x="330.1" y="129.3" width="40.9" height="2.2" fill="#1671bd"/>
<rect x="305.7" y="129.45" width="48.8" height="1.9" fill="#000" fill-opacity="0.21"/>
<rect x="305.7" y="129.85" width="24.4" height="1.0" fill="#000" fill-opacity="0.2"/>
<rect x="305.45" y="129.3" width="0.5" height="2.2" fill="#666"/>
<rect x="354.25" y="129.3" width="0.5" height="2.2" fill="#888"/>
<rect x="311.4" y="133.75" width="59.6" height="2.2" fill="#ff0000"/>
<rect x="285.3" y="133.9" width="52.2" height="1.9" fill="#000" fill-opacity="0.21"/>
<rect x="285.3" y="134.3" width="26.1" height="1.0" fill="#000" fill-opacity="0.2"/>
<rect x="285.05" y="133.75" width="0.5" height="2.2" fill="#666"/>
<rect x="337.25" y="133.75" width="0.5" height="2.2" fill="#888"/>
<rect x="284.4" y="134.05" width="1.6" height="1.6" fill="#333" fill-opacity="0.8"/>
<rect x="301.2" y="135.95" width="69.8" height="2.2" fill="#1671bd"/>
<rect x="268.5" y="136.1" width="65.4" height="1.9" fill="#000" fill-opacity="0.21"/>
<rect x="268.5" y="136.5" width="32.7" height="1.0" fill="#000" fill-opacity="0.2"/>
<rect x="268.25" y="135.95" width="0.5" height="2.2" fill="#666"/>
<rect x="333.65" y="135.95" width="0.5" height="2.2" fill="#888"/>
<rect x="267.6" y="136.25" width="1.6" height="1.6" fill="#333" fill-opacity="0.8"/>
<rect x="338" y="140.4" width="33" height="2.2" fill="#ff0000"/>
<rect x="316" y="140.55" width="44" height="1.9" fill="#000" fill-opacity="0.21"/>
<rect x="316" y="140.95" width="22" height="1.0" fill="#000" fill-opacity="0.2"/>
<rect x="315.75" y="140.4" width="0.5" height="2.2" fill="#666"/>
<rect x="359.75" y="140.4" width="0.5" height="2.2" fill="#888"/>
<rect x="333.3" y="142.6" width="37.7" height="2.2" fill="#1671bd"/>
<rect x="313.7" y="142.75" width="39.2" height="1.9" fill="#000" fill-opacity="0.21"/>
<rect x="313.7" y="143.15" width="19.6" height="1.0" fill="#000" fill-opacity="0.2"/>
<rect x="313.45" y="142.6" width="0.5" height="2.2" fill="#666"/>
<rect x="352.65" y="142.6" width="0.5" height="2.2" fill="#888"/>
<rect x="312.8" y="142.9" width="1.6" height="1.6" fill="#333" fill-opacity="0.8"/>
<rect x="309.1" y="147.05" width="61.9" height="2.2" fill="#ff0000"/>
<rect x="280.9" y="147.2" width="56.4" height="1.9" fill="#000" fill-opacity="0.21"/>
<rect x="280.9" y="147.6" width="28.2" height="1.0" fill="#000" fill-opacity="0.2"/>
<rect x="280.65" y="147.05" width="0.5" height="2.2" fill="#666"/>
<rect x="337.05" y="147.05" width="0.5" height="2.2" fill="#888"/>
<rect x="280" y="147.35" width="1.6" height="1.6" fill="#333" fill-opacity="0.8"/>
<rect x="301" y="149.25" width="70" height="2.2" fill="#1671bd"/>
<rect x="271.4" y="149.4" width="59.2" height="1.9" fill="#000" fill-opacity="0.21"/>
<rect x="271.4" y="149.8" width="29.6" height="1.0" fill="#000" fill-opacity="0.2"/>
<rect x="271.15" y="149.25" width="0.5" height="2.2" fill="#666"/>
<rect x="330.35" y="149.25" width="0.5" height="2.2" fill="#888"/>
<rect x="270.5" y="149.55" width="1.6" height="1.6" fill="#333" fill-opacity="0.8"/>
<rect x="314.2" y="153.7" width="56.8" height="2.2" fill="#ff0000"/>
<rect x="286" y="153.85" width="56.4" height="1.9" fill="#000" fill-opacity="0.21"/>
<rect x="286" y="154.25" width="28.2" height="1.0" fill="#000" fill-opacity="0.2"/>
<rect x="285.75" y="153.7" width="0.5" height="2.2" fill="#666"/>
<rect x="342.15" y="153.7" width="0.5" height="2.2" fill="#888"/>
<rect x="321.3" y="155.9" width="49.7" height="2.2" fill="#1671bd"/>
<rect x="296.2" y="156.05" width="50.2" height="1.9" fill="#000" fill-opacity="0.21"/>
<rect x="296.2" y="156.45" width="25.1" height="1.0" fill="#000" fill-opacity="0.2"/>
<rect x="295.95" y="155.9" width="0.5" height="2.2" fill="#666"/>
<rect x="346.15" y="155.9" width="0.5" height="2.2" fill="#888"/>
<rect x="295.3" y="156.2" width="1.6" height="1.6" fill="#333" fill-opacity="0.8"/>
<rect x="343.8" y="160.35" width="27.2" height="2.2" fill="#ff0000"/>
<rect x="326.6" y="160.5" width="34.4" height="1.9" fill="#000" fill-opacity="0.21"/>
<rect x="326.6" y="160.9" width="17.2" height="1.0" fill="#000" fill-opacity="0.2"/>
<rect x="326.35" y="160.35" width="0.5" height="2.2" fill="#666"/>
<rect x="360.75" y="160.35" width="0.5" height="2.2" fill="#888"/>
<rect x="325.7" y="160.65" width="1.6" height="1.6" fill="#333" fill-opacity="0.8"/>
<rect x="345" y="162.55" width="26" height="2.2" fill="#1671bd"/>
<rect x="326.9" y="162.7" width="36.2" height="1.9" fill="#000" fill-opacity="0.21"/>
<rect x="326.9" y="163.1" width="18.1" height="1.0" fill="#000" fill-opacity="0.2"/>
<rect x="326.65" y="162.55" width="0.5" height="2.2" fill="#666"/>
<rect x="362.85" y="162.55" width="0.5" height="2.2" fill="#888"/>
<rect x="331.5" y="167" width="39.5" height="2.2" fill="#ff0000"/>
<rect x="311.5" y="167.15" width="40" height="1.9" fill="#000" fill-opacity="0.21"/>
<rect x="311.5" y="167.55" width="20" height="1.0" fill="#000" fill-opacity="0.2"/>
<rect x="311.25" y="167" width="0.5" height="2.2" fill="#666"/>
<rect x="351.25" y="167" width="0.5" height="2.2" fill="#888"/>
<rect x="310.6" y="167.3" width="1.6" height="1.6" fill="#333" fill-opacity="0.8"/>
<rect x="317.5" y="169.2" width="53.5" height="2.2" fill="#1671bd"/>
<rect x="295.5" y="169.35" width="44" height="1.9" fill="#000" fill-opacity="0.21"/>
<rect x="295.5" y="169.75" width="22" height="1.0" fill="#000" fill-opacity="0.2"/>
<rect x="295.25" y="169.2" width="0.5" height="2.2" fill="#666"/>
<rect x="339.25" y="169.2" width="0.5" height="2.2" fill="#888"/>
<rect x="294.6" y="169.5" width="1.6" height="1.6" fill="#333" fill-opacity="0.8"/>
<rect x="340.3" y="173.65" width="30.7" height="2.2" fill="#ff0000"/>
<rect x="323.4" y="173.8" width="33.8" height="1.9" fill="#000" fill-opacity="0.21"/>
<rect x="323.4" y="174.2" width="16.9" height="1.0" fill="#000" fill-opacity="0.2"/>
<rect x="323.15" y="173.65" width="0.5" height="2.2" fill="#666"/>
<rect x="356.95" y="173.65" width="0.5" height="2.2" fill="#888"/>
<rect x="356" y="175.85" width="15" height="2.2" fill="#1671bd"/>
<rect x="331.5" y="176" width="49" height="1.9" fill="#000" fill-opacity="0.21"/>
<rect x="331.5" y="176.4" width="24.5" height="1.0" fill="#000" fill-opacity="0.2"/>
<rect x="371" y="176.4" width="9.5" height="1.0" fill="#000" fill-opacity="0.2"/>
<rect x="331.25" y="175.85" width="0.5" height="2.2" fill="#666"/>
<rect x="380.25" y="175.85" width="0.5" height="2.2" fill="#888"/>
<rect x="336" y="180.3" width="35" height="2.2" fill="#ff0000"/>
<rect x="315.2" y="180.45" width="41.6" height="1.9" fill="#000" fill-opacity="0.21"/>
<rect x="315.2" y="180.85" width="20.8" height="1.0" fill="#000" fill-opacity="0.2"/>
<rect x="314.95" y="180.3" width="0.5" height="2.2" fill="#666"/>
<rect x="356.55" y="180.3" width="0.5" height="2.2" fill="#888"/>
<rect x="319.6" y="182.5" width="51.4" height="2.2" fill="#1671bd"/>
<rect x="298" y="182.65" width="43.2" height="1.9" fill="#000" fill-opacity="0.21"/>
<rect x="298" y="183.05" width="21.6" height="1.0" fill="#000" fill-opacity="0.2"/>
<rect x="297.75" y="182.5" width="0.5" height="2.2" fill="#666"/>
<rect x="340.95" y="182.5" width="0.5" height="2.2" fill="#888"/>
<rect x="297.1" y="182.8" width="1.6" height="1.6" fill="#333" fill-opacity="0.8"/>
<rect x="351.6" y="186.95" width="19.4" height="2.2" fill="#ff0000"/>
<rect x="320.4" y="187.1" width="62.4" height="1.9" fill="#000" fill-opacity="0.21"/>
<rect x="320.4" y="187.5" width="31.2" height="1.0" fill="#000" fill-opacity="0.2"/>
<rect x="371" y="187.5" width="11.8" height="1.0" fill="#000" fill-opacity="0.2"/>
<rect x="320.15" y="186.95" width="0.5" height="2.2" fill="#666"/>
<rect x="382.55" y="186.95" width="0.5" height="2.2" fill="#888"/>
<rect x="350.2" y="189.15" width="20.8" height="2.2" fill="#1671bd"/>
<rect x="333.3" y="189.3" width="33.8" height="1.9" fill="#000" fill-opacity="0.21"/>
<rect x="333.3" y="189.7" width="16.9" height="1.0" fill="#000" fill-opacity="0.2"/>
<rect x="333.05" y="189.15" width="0.5" height="2.2" fill="#666"/>
<rect x="366.85" y="189.15" width="0.5" height="2.2" fill="#888"/>
<rect x="337.1" y="193.6" width="33.9" height="2.2" fill="#ff0000"/>
<rect x="320.4" y="193.75" width="33.4" height="1.9" fill="#000" fill-opacity="0.21"/>
<rect x="320.4" y="194.15" width="16.7" height="1.0" fill="#000" fill-opacity="0.2"/>
<rect x="320.15" y="193.6" width="0.5" height="2.2" fill="#666"/>
<rect x="353.55" y="193.6" width="0.5" height="2.2" fill="#888"/>
<rect x="357" y="195.8" width="14" height="2.2" fill="#1671bd"/>
<rect x="339.7" y="195.95" width="34.6" height="1.9" fill="#000" fill-opacity="0.21"/>
<rect x="339.7" y="196.35" width="17.3" height="1.0" fill="#000" fill-opacity="0.2"/>
<rect x="371" y="196.35" width="3.3" height="1.0" fill="#000" fill-opacity="0.2"/>
<rect x="339.45" y="195.8" width="0.5" height="2.2" fill="#666"/>
<rect x="374.05" y="195.8" width="0.5" height="2.2" fill="#888"/>
<rect x="357.2" y="200.25" width="13.8" height="2.2" fill="#ff0000"/>
<rect x="330.4" y="200.4" width="53.6" height="1.9" fill="#000" fill-opacity="0.21"/>
<rect x="330.4" y="200.8" width="26.8" height="1.0" fill="#000" fill-opacity="0.2"/>
<rect x="371" y="200.8" width="13" height="1.0" fill="#000" fill-opacity="0.2"/>
<rect x="330.15" y="200.25" width="0.5" height="2.2" fill="#666"/>
<rect x="383.75" y="200.25" width="0.5" height="2.2" fill="#888"/>
<rect x="340" y="202.45" width="31" height="2.2" fill="#1671bd"/>
<rect x="315.2" y="202.6" width="49.6" height="1.9" fill="#000" fill-opacity="0.21"/>
<rect x="315.2" y="203" width="24.8" height="1.0" fill="#000" fill-opacity="0.2"/>
<rect x="314.95" y="202.45" width="0.5" height="2.2" fill="#666"/>
<rect x="364.55" y="202.45" width="0.5" height="2.2" fill="#888"/>
<rect x="296.6" y="206.9" width="74.4" height="2.2" fill="#ff0000"/>
<rect x="278.7" y="207.05" width="35.8" height="1.9" fill="#000" fill-opacity="0.21"/>
<rect x="278.7" y="207.45" width="17.9" height="1.0" fill="#000" fill-opacity="0.2"/>
<rect x="278.45" y="206.9" width="0.5" height="2.2" fill="#666"/>
<rect x="314.25" y="206.9" width="0.5" height="2.2" fill="#888"/>
<rect x="277.8" y="207.2" width="1.6" height="1.6" fill="#333" fill-opacity="0.8"/>
<rect x="325.9" y="209.1" width="45.1" height="2.2" fill="#1671bd"/>
<rect x="304" y="209.25" width="43.8" height="1.9" fill="#000" fill-opacity="0.21"/>
<rect x="304" y="209.65" width="21.9" height="1.0" fill="#000" fill-opacity="0.2"/>
<rect x="303.75" y="209.1" width="0.5" height="2.2" fill="#666"/>
<rect x="347.55" y="209.1" width="0.5" height="2.2" fill="#888"/>
<rect x="303.1" y="209.4" width="1.6" height="1.6" fill="#333" fill-opacity="0.8"/>
<rect x="365.1" y="213.55" width="5.9" height="2.2" fill="#ff0000"/>
<rect x="346.7" y="213.7" width="36.8" height="1.9" fill="#000" fill-opacity="0.21"/>
<rect x="346.7" y="214.1" width="18.4" height="1.0" fill="#000" fill-opacity="0.2"/>
<rect x="371" y="214.1" width="12.5" height="1.0" fill="#000" fill-opacity="0.2"/>
<rect x="346.45" y="213.55" width="0.5" height="2.2" fill="#666"/>
<rect x="383.25" y="213.55" width="0.5" height="2.2" fill="#888"/>
<rect x="368.3" y="215.75" width="2.7" height="2.2" fill="#1671bd"/>
<rect x="350.2" y="215.9" width="36.2" height="1.9" fill="#000" fill-opacity="0.21"/>
<rect x="350.2" y="216.3" width="18.1" height="1.0" fill="#000" fill-opacity="0.2"/>
<rect x="371" y="216.3" width="15.4" height="1.0" fill="#000" fill-opacity="0.2"/>
<rect x="349.95" y="215.75" width="0.5" height="2.2" fill="#666"/>
<rect x="386.15" y="215.75" width="0.5" height="2.2" fill="#888"/>
<rect x="348" y="220.2" width="23" height="2.2" fill="#ff0000"/>
<rect x="326.6" y="220.35" width="42.8" height="1.9" fill="#000" fill-opacity="0.21"/>
<rect x="326.6" y="220.75" width="21.4" height="1.0" fill="#000" fill-opacity="0.2"/>
<rect x="326.35" y="220.2" width="0.5" height="2.2" fill="#666"/>
<rect x="369.15" y="220.2" width="0.5" height="2.2" fill="#888"/>
<rect x="337.1" y="222.4" width="33.9" height="2.2" fill="#1671bd"/>
<rect x="312.6" y="222.55" width="49" height="1.9" fill="#000" fill-opacity="0.21"/>
<rect x="312.6" y="222.95" width="24.5" height="1.0" fill="#000" fill-opacity="0.2"/>
<rect x="312.35" y="222.4" width="0.5" height="2.2" fill="#666"/>
<rect x="361.35" y="222.4" width="0.5" height="2.2" fill="#888"/>
<rect x="370" y="226.85" width="1" height="2.2" fill="#ff0000"/>
<rect x="352" y="227" width="36" height="1.9" fill="#000" fill-opacity="0.21"/>
<rect x="352" y="227.4" width="18" height="1.0" fill="#000" fill-opacity="0.2"/>
<rect x="371" y="227.4" width="17" height="1.0" fill="#000" fill-opacity="0.2"/>
<rect x="351.75" y="226.85" width="0.5" height="2.2" fill="#666"/>
<rect x="387.75" y="226.85" width="0.5" height="2.2" fill="#888"/>
<rect x="345" y="229.05" width="26" height="2.2" fill="#1671bd"/>
<rect x="321.3" y="229.2" width="47.4" height="1.9" fill="#000" fill-opacity="0.21"/>
<rect x="321.3" y="229.6" width="23.7" height="1.0" fill="#000" fill-opacity="0.2"/>
<rect x="321.05" y="229.05" width="0.5" height="2.2" fill="#666"/>
<rect x="368.45" y="229.05" width="0.5" height="2.2" fill="#888"/>
<rect x="309.4" y="233.5" width="61.6" height="2.2" fill="#ff0000"/>
<rect x="282.8" y="233.65" width="53.2" height="1.9" fill="#000" fill-opacity="0.21"/>
<rect x="282.8" y="234.05" width="26.6" height="1.0" fill="#000" fill-opacity="0.2"/>
<rect x="282.55" y="233.5" width="0.5" height="2.2" fill="#666"/>
<rect x="335.75" y="233.5" width="0.5" height="2.2" fill="#888"/>
<rect x="281.9" y="233.8" width="1.6" height="1.6" fill="#333" fill-opacity="0.8"/>
<rect x="319.6" y="235.7" width="51.4" height="2.2" fill="#1671bd"/>
<rect x="300.3" y="235.85" width="38.6" height="1.9" fill="#000" fill-opacity="0.21"/>
<rect x="300.3" y="236.25" width="19.3" height="1.0" fill="#000" fill-opacity="0.2"/>
<rect x="300.05" y="235.7" width="0.5" height="2.2" fill="#666"/>
<rect x="338.65" y="235.7" width="0.5" height="2.2" fill="#888"/>
<rect x="299.4" y="236" width="1.6" height="1.6" fill="#333" fill-opacity="0.8"/>
<rect x="325.7" y="240.15" width="45.3" height="2.2" fill="#ff0000"/>
<rect x="306.4" y="240.3" width="38.6" height="1.9" fill="#000" fill-opacity="0.21"/>
<rect x="306.4" y="240.7" width="19.3" height="1.0" fill="#000" fill-opacity="0.2"/>
<rect x="306.15" y="240.15" width="0.5" height="2.2" fill="#666"/>
<rect x="344.75" y="240.15" width="0.5" height="2.2" fill="#888"/>
<rect x="305.5" y="240.45" width="1.6" height="1.6" fill="#333" fill-opacity="0.8"/>
<rect x="343.2" y="242.35" width="27.8" height="2.2" fill="#1671bd"/>
<rect x="313.4" y="242.5" width="59.6" height="1.9" fill="#000" fill-opacity="0.21"/>
<rect x="313.4" y="242.9" width="29.8" height="1.0" fill="#000" fill-opacity="0.2"/>
<rect x="371" y="242.9" width="2" height="1.0" fill="#000" fill-opacity="0.2"/>
<rect x="313.15" y="242.35" width="0.5" height="2.2" fill="#666"/>
<rect x="372.75" y="242.35" width="0.5" height="2.2" fill="#888"/>
<text x="249.8" y="253.9" font-size="5.6" text-anchor="middle" fill="#222">-0.6</text>
<text x="270" y="253.9" font-size="5.6" text-anchor="middle" fill="#222">-0.5</text>
<text x="290.2" y="253.9" font-size="5.6" text-anchor="middle" fill="#222">-0.4</text>
<text x="310.4" y="253.9" font-size="5.6" text-anchor="middle" fill="#222">-0.3</text>
<text x="330.6" y="253.9" font-size="5.6" text-anchor="middle" fill="#222">-0.2</text>
<text x="350.8" y="253.9" font-size="5.6" text-anchor="middle" fill="#222">-0.1</text>
<text x="371" y="253.9" font-size="5.6" text-anchor="middle" fill="#222">0</text>
<text x="391.2" y="253.9" font-size="5.6" text-anchor="middle" fill="#222">0.1</text>
<text y="263.3" font-size="7.75" fill="#111"><tspan x="261.55">Effect Size</tspan><tspan x="301.55" font-size="9.2">±</tspan><tspan x="310.75">Standard Error</tspan></text>
<text x="244" y="15.2" font-size="17" fill="#000">B. BD</text>
<path d="M392 18.9H538M392 22.22H538M392 25.55H538M392 28.88H538M392 32.2H538M392 35.52H538M392 38.85H538M392 42.17H538M392 45.5H538M392 48.83H538M392 52.15H538M392 55.48H538M392 58.8H538M392 62.12H538M392 65.45H538M392 68.78H538M392 72.1H538M392 75.43H538M392 78.75H538M392 82.08H538M392 85.4H538M392 88.72H538M392 92.05H538M392 95.38H538M392 98.7H538M392 102.03H538M392 105.35H538M392 108.68H538M392 112H538M392 115.33H538M392 118.65H538M392 121.97H538M392 125.3H538M392 128.62H538M392 131.95H538M392 135.28H538M392 138.6H538M392 141.93H538M392 145.25H538M392 148.58H538M392 151.9H538M392 155.23H538M392 158.55H538M392 161.88H538M392 165.2H538M392 168.53H538M392 171.85H538M392 175.18H538M392 178.5H538M392 181.83H538M392 185.15H538M392 188.48H538M392 191.8H538M392 195.13H538M392 198.45H538M392 201.78H538M392 205.1H538M392 208.43H538M392 211.75H538M392 215.08H538M392 218.4H538M392 221.73H538M392 225.05H538M392 228.38H538M392 231.7H538M392 235.03H538M392 238.35H538M392 241.68H538M392 245H538" stroke="#f3f3f3" stroke-width="0.6"/>
<path d="M406.3 18.9V245.0M426.5 18.9V245.0M446.7 18.9V245.0M466.9 18.9V245.0M487.1 18.9V245.0M507.3 18.9V245.0M527.5 18.9V245.0" stroke="#e6e6e6" stroke-width="0.9"/>
<rect x="454" y="20.7" width="53.3" height="2.2" fill="#ff0000"/>
<rect x="432.9" y="20.85" width="42.2" height="1.9" fill="#000" fill-opacity="0.21"/>
<rect x="432.9" y="21.25" width="21.1" height="1.0" fill="#000" fill-opacity="0.2"/>
<rect x="432.65" y="20.7" width="0.5" height="2.2" fill="#666"/>
<rect x="474.85" y="20.7" width="0.5" height="2.2" fill="#888"/>
<rect x="432" y="21" width="1.6" height="1.6" fill="#333" fill-opacity="0.8"/>
<rect x="461" y="22.9" width="46.3" height="2.2" fill="#1671bd"/>
<rect x="441.7" y="23.05" width="38.6" height="1.9" fill="#000" fill-opacity="0.21"/>
<rect x="441.7" y="23.45" width="19.3" height="1.0" fill="#000" fill-opacity="0.2"/>
<rect x="441.45" y="22.9" width="0.5" height="2.2" fill="#666"/>
<rect x="480.05" y="22.9" width="0.5" height="2.2" fill="#888"/>
<rect x="440.8" y="23.2" width="1.6" height="1.6" fill="#333" fill-opacity="0.8"/>
<rect x="450.4" y="27.35" width="56.9" height="2.2" fill="#ff0000"/>
<rect x="433.8" y="27.5" width="33.2" height="1.9" fill="#000" fill-opacity="0.21"/>
<rect x="433.8" y="27.9" width="16.6" height="1.0" fill="#000" fill-opacity="0.2"/>
<rect x="433.55" y="27.35" width="0.5" height="2.2" fill="#666"/>
<rect x="466.75" y="27.35" width="0.5" height="2.2" fill="#888"/>
<rect x="432.9" y="27.65" width="1.6" height="1.6" fill="#333" fill-opacity="0.8"/>
<rect x="472.3" y="29.55" width="35" height="2.2" fill="#1671bd"/>
<rect x="449.6" y="29.7" width="45.4" height="1.9" fill="#000" fill-opacity="0.21"/>
<rect x="449.6" y="30.1" width="22.7" height="1.0" fill="#000" fill-opacity="0.2"/>
<rect x="449.35" y="29.55" width="0.5" height="2.2" fill="#666"/>
<rect x="494.75" y="29.55" width="0.5" height="2.2" fill="#888"/>
<rect x="442.2" y="34" width="65.1" height="2.2" fill="#ff0000"/>
<rect x="425" y="34.15" width="34.4" height="1.9" fill="#000" fill-opacity="0.21"/>
<rect x="425" y="34.55" width="17.2" height="1.0" fill="#000" fill-opacity="0.2"/>
<rect x="424.75" y="34" width="0.5" height="2.2" fill="#666"/>
<rect x="459.15" y="34" width="0.5" height="2.2" fill="#888"/>
<rect x="424.1" y="34.3" width="1.6" height="1.6" fill="#333" fill-opacity="0.8"/>
<rect x="463.6" y="36.2" width="43.7" height="2.2" fill="#1671bd"/>
<rect x="444.3" y="36.35" width="38.6" height="1.9" fill="#000" fill-opacity="0.21"/>
<rect x="444.3" y="36.75" width="19.3" height="1.0" fill="#000" fill-opacity="0.2"/>
<rect x="444.05" y="36.2" width="0.5" height="2.2" fill="#666"/>
<rect x="482.65" y="36.2" width="0.5" height="2.2" fill="#888"/>
<rect x="443.4" y="36.5" width="1.6" height="1.6" fill="#333" fill-opacity="0.8"/>
<rect x="456.9" y="40.65" width="50.4" height="2.2" fill="#ff0000"/>
<rect x="435.9" y="40.8" width="42" height="1.9" fill="#000" fill-opacity="0.21"/>
<rect x="435.9" y="41.2" width="21" height="1.0" fill="#000" fill-opacity="0.2"/>
<rect x="435.65" y="40.65" width="0.5" height="2.2" fill="#666"/>
<rect x="477.65" y="40.65" width="0.5" height="2.2" fill="#888"/>
<rect x="435" y="40.95" width="1.6" height="1.6" fill="#333" fill-opacity="0.8"/>
<rect x="463.6" y="42.85" width="43.7" height="2.2" fill="#1671bd"/>
<rect x="441.7" y="43" width="43.8" height="1.9" fill="#000" fill-opacity="0.21"/>
<rect x="441.7" y="43.4" width="21.9" height="1.0" fill="#000" fill-opacity="0.2"/>
<rect x="441.45" y="42.85" width="0.5" height="2.2" fill="#666"/>
<rect x="485.25" y="42.85" width="0.5" height="2.2" fill="#888"/>
<rect x="462.7" y="47.3" width="44.6" height="2.2" fill="#ff0000"/>
<rect x="441.7" y="47.45" width="42" height="1.9" fill="#000" fill-opacity="0.21"/>
<rect x="441.7" y="47.85" width="21" height="1.0" fill="#000" fill-opacity="0.2"/>
<rect x="441.45" y="47.3" width="0.5" height="2.2" fill="#666"/>
<rect x="483.45" y="47.3" width="0.5" height="2.2" fill="#888"/>
<rect x="440.8" y="47.6" width="1.6" height="1.6" fill="#333" fill-opacity="0.8"/>
<rect x="463.6" y="49.5" width="43.7" height="2.2" fill="#1671bd"/>
<rect x="442.6" y="49.65" width="42" height="1.9" fill="#000" fill-opacity="0.21"/>
<rect x="442.6" y="50.05" width="21" height="1.0" fill="#000" fill-opacity="0.2"/>
<rect x="442.35" y="49.5" width="0.5" height="2.2" fill="#666"/>
<rect x="484.35" y="49.5" width="0.5" height="2.2" fill="#888"/>
<rect x="470.6" y="53.95" width="36.7" height="2.2" fill="#ff0000"/>
<rect x="453" y="54.1" width="35.2" height="1.9" fill="#000" fill-opacity="0.21"/>
<rect x="453" y="54.5" width="17.6" height="1.0" fill="#000" fill-opacity="0.2"/>
<rect x="452.75" y="53.95" width="0.5" height="2.2" fill="#666"/>
<rect x="487.95" y="53.95" width="0.5" height="2.2" fill="#888"/>
<rect x="452.1" y="54.25" width="1.6" height="1.6" fill="#333" fill-opacity="0.8"/>
<rect x="468.8" y="56.15" width="38.5" height="2.2" fill="#1671bd"/>
<rect x="448.7" y="56.3" width="40.2" height="1.9" fill="#000" fill-opacity="0.21"/>
<rect x="448.7" y="56.7" width="20.1" height="1.0" fill="#000" fill-opacity="0.2"/>
<rect x="448.45" y="56.15" width="0.5" height="2.2" fill="#666"/>
<rect x="488.65" y="56.15" width="0.5" height="2.2" fill="#888"/>
<rect x="440.8" y="60.6" width="66.5" height="2.2" fill="#ff0000"/>
<rect x="419.8" y="60.75" width="42" height="1.9" fill="#000" fill-opacity="0.21"/>
<rect x="419.8" y="61.15" width="21" height="1.0" fill="#000" fill-opacity="0.2"/>
<rect x="419.55" y="60.6" width="0.5" height="2.2" fill="#666"/>
<rect x="461.55" y="60.6" width="0.5" height="2.2" fill="#888"/>
<rect x="418.9" y="60.9" width="1.6" height="1.6" fill="#333" fill-opacity="0.8"/>
<rect x="458" y="62.8" width="49.3" height="2.2" fill="#1671bd"/>
<rect x="437.3" y="62.95" width="41.4" height="1.9" fill="#000" fill-opacity="0.21"/>
<rect x="437.3" y="63.35" width="20.7" height="1.0" fill="#000" fill-opacity="0.2"/>
<rect x="437.05" y="62.8" width="0.5" height="2.2" fill="#666"/>
<rect x="478.45" y="62.8" width="0.5" height="2.2" fill="#888"/>
<rect x="436.4" y="63.1" width="1.6" height="1.6" fill="#333" fill-opacity="0.8"/>
<rect x="439.9" y="67.25" width="67.4" height="2.2" fill="#ff0000"/>
<rect x="415.9" y="67.4" width="48" height="1.9" fill="#000" fill-opacity="0.21"/>
<rect x="415.9" y="67.8" width="24" height="1.0" fill="#000" fill-opacity="0.2"/>
<rect x="415.65" y="67.25" width="0.5" height="2.2" fill="#666"/>
<rect x="463.65" y="67.25" width="0.5" height="2.2" fill="#888"/>
<rect x="415" y="67.55" width="1.6" height="1.6" fill="#333" fill-opacity="0.8"/>
<rect x="466.2" y="69.45" width="41.1" height="2.2" fill="#1671bd"/>
<rect x="446" y="69.6" width="40.4" height="1.9" fill="#000" fill-opacity="0.21"/>
<rect x="446" y="70" width="20.2" height="1.0" fill="#000" fill-opacity="0.2"/>
<rect x="445.75" y="69.45" width="0.5" height="2.2" fill="#666"/>
<rect x="486.15" y="69.45" width="0.5" height="2.2" fill="#888"/>
<rect x="432.9" y="73.9" width="74.4" height="2.2" fill="#ff0000"/>
<rect x="411.9" y="74.05" width="42" height="1.9" fill="#000" fill-opacity="0.21"/>
<rect x="411.9" y="74.45" width="21" height="1.0" fill="#000" fill-opacity="0.2"/>
<rect x="411.65" y="73.9" width="0.5" height="2.2" fill="#666"/>
<rect x="453.65" y="73.9" width="0.5" height="2.2" fill="#888"/>
<rect x="411" y="74.2" width="1.6" height="1.6" fill="#333" fill-opacity="0.8"/>
<rect x="447.8" y="76.1" width="59.5" height="2.2" fill="#1671bd"/>
<rect x="425.9" y="76.25" width="43.8" height="1.9" fill="#000" fill-opacity="0.21"/>
<rect x="425.9" y="76.65" width="21.9" height="1.0" fill="#000" fill-opacity="0.2"/>
<rect x="425.65" y="76.1" width="0.5" height="2.2" fill="#666"/>
<rect x="469.45" y="76.1" width="0.5" height="2.2" fill="#888"/>
<rect x="425" y="76.4" width="1.6" height="1.6" fill="#333" fill-opacity="0.8"/>
<rect x="450.4" y="80.55" width="56.9" height="2.2" fill="#ff0000"/>
<rect x="429.4" y="80.7" width="42" height="1.9" fill="#000" fill-opacity="0.21"/>
<rect x="429.4" y="81.1" width="21" height="1.0" fill="#000" fill-opacity="0.2"/>
<rect x="429.15" y="80.55" width="0.5" height="2.2" fill="#666"/>
<rect x="471.15" y="80.55" width="0.5" height="2.2" fill="#888"/>
<rect x="428.5" y="80.85" width="1.6" height="1.6" fill="#333" fill-opacity="0.8"/>
<rect x="453.4" y="82.75" width="53.9" height="2.2" fill="#1671bd"/>
<rect x="437" y="82.9" width="32.8" height="1.9" fill="#000" fill-opacity="0.21"/>
<rect x="437" y="83.3" width="16.4" height="1.0" fill="#000" fill-opacity="0.2"/>
<rect x="436.75" y="82.75" width="0.5" height="2.2" fill="#666"/>
<rect x="469.55" y="82.75" width="0.5" height="2.2" fill="#888"/>
<rect x="436.1" y="83.05" width="1.6" height="1.6" fill="#333" fill-opacity="0.8"/>
<rect x="444.3" y="87.2" width="63" height="2.2" fill="#ff0000"/>
<rect x="424.2" y="87.35" width="40.2" height="1.9" fill="#000" fill-opacity="0.21"/>
<rect x="424.2" y="87.75" width="20.1" height="1.0" fill="#000" fill-opacity="0.2"/>
<rect x="423.95" y="87.2" width="0.5" height="2.2" fill="#666"/>
<rect x="464.15" y="87.2" width="0.5" height="2.2" fill="#888"/>
<rect x="423.3" y="87.5" width="1.6" height="1.6" fill="#333" fill-opacity="0.8"/>
<rect x="446" y="89.4" width="61.3" height="2.2" fill="#1671bd"/>
<rect x="427.1" y="89.55" width="37.8" height="1.9" fill="#000" fill-opacity="0.21"/>
<rect x="427.1" y="89.95" width="18.9" height="1.0" fill="#000" fill-opacity="0.2"/>
<rect x="426.85" y="89.4" width="0.5" height="2.2" fill="#666"/>
<rect x="464.65" y="89.4" width="0.5" height="2.2" fill="#888"/>
<rect x="426.2" y="89.7" width="1.6" height="1.6" fill="#333" fill-opacity="0.8"/>
<rect x="447" y="93.85" width="60.3" height="2.2" fill="#ff0000"/>
<rect x="421.5" y="94" width="51" height="1.9" fill="#000" fill-opacity="0.21"/>
<rect x="421.5" y="94.4" width="25.5" height="1.0" fill="#000" fill-opacity="0.2"/>
<rect x="421.25" y="93.85" width="0.5" height="2.2" fill="#666"/>
<rect x="472.25" y="93.85" width="0.5" height="2.2" fill="#888"/>
<rect x="420.6" y="94.15" width="1.6" height="1.6" fill="#333" fill-opacity="0.8"/>
<rect x="455.7" y="96.05" width="51.6" height="2.2" fill="#1671bd"/>
<rect x="437.3" y="96.2" width="36.8" height="1.9" fill="#000" fill-opacity="0.21"/>
<rect x="437.3" y="96.6" width="18.4" height="1.0" fill="#000" fill-opacity="0.2"/>
<rect x="437.05" y="96.05" width="0.5" height="2.2" fill="#666"/>
<rect x="473.85" y="96.05" width="0.5" height="2.2" fill="#888"/>
<rect x="436.4" y="96.35" width="1.6" height="1.6" fill="#333" fill-opacity="0.8"/>
<rect x="460" y="100.5" width="47.3" height="2.2" fill="#ff0000"/>
<rect x="441.2" y="100.65" width="37.6" height="1.9" fill="#000" fill-opacity="0.21"/>
<rect x="441.2" y="101.05" width="18.8" height="1.0" fill="#000" fill-opacity="0.2"/>
<rect x="440.95" y="100.5" width="0.5" height="2.2" fill="#666"/>
<rect x="478.55" y="100.5" width="0.5" height="2.2" fill="#888"/>
<rect x="440.3" y="100.8" width="1.6" height="1.6" fill="#333" fill-opacity="0.8"/>
<rect x="460" y="102.7" width="47.3" height="2.2" fill="#1671bd"/>
<rect x="445.2" y="102.85" width="29.6" height="1.9" fill="#000" fill-opacity="0.21"/>
<rect x="445.2" y="103.25" width="14.8" height="1.0" fill="#000" fill-opacity="0.2"/>
<rect x="444.95" y="102.7" width="0.5" height="2.2" fill="#666"/>
<rect x="474.55" y="102.7" width="0.5" height="2.2" fill="#888"/>
<rect x="444.3" y="103" width="1.6" height="1.6" fill="#333" fill-opacity="0.8"/>
<rect x="473.7" y="107.15" width="33.6" height="2.2" fill="#ff0000"/>
<rect x="457.4" y="107.3" width="32.6" height="1.9" fill="#000" fill-opacity="0.21"/>
<rect x="457.4" y="107.7" width="16.3" height="1.0" fill="#000" fill-opacity="0.2"/>
<rect x="457.15" y="107.15" width="0.5" height="2.2" fill="#666"/>
<rect x="489.75" y="107.15" width="0.5" height="2.2" fill="#888"/>
<rect x="483.2" y="109.35" width="24.1" height="2.2" fill="#1671bd"/>
<rect x="468.8" y="109.5" width="28.8" height="1.9" fill="#000" fill-opacity="0.21"/>
<rect x="468.8" y="109.9" width="14.4" height="1.0" fill="#000" fill-opacity="0.2"/>
<rect x="468.55" y="109.35" width="0.5" height="2.2" fill="#666"/>
<rect x="497.35" y="109.35" width="0.5" height="2.2" fill="#888"/>
<rect x="468" y="113.8" width="39.3" height="2.2" fill="#ff0000"/>
<rect x="449.6" y="113.95" width="36.8" height="1.9" fill="#000" fill-opacity="0.21"/>
<rect x="449.6" y="114.35" width="18.4" height="1.0" fill="#000" fill-opacity="0.2"/>
<rect x="449.35" y="113.8" width="0.5" height="2.2" fill="#666"/>
<rect x="486.15" y="113.8" width="0.5" height="2.2" fill="#888"/>
<rect x="448.7" y="114.1" width="1.6" height="1.6" fill="#333" fill-opacity="0.8"/>
<rect x="479" y="116" width="28.3" height="2.2" fill="#1671bd"/>
<rect x="457.4" y="116.15" width="43.2" height="1.9" fill="#000" fill-opacity="0.21"/>
<rect x="457.4" y="116.55" width="21.6" height="1.0" fill="#000" fill-opacity="0.2"/>
<rect x="457.15" y="116" width="0.5" height="2.2" fill="#666"/>
<rect x="500.35" y="116" width="0.5" height="2.2" fill="#888"/>
<rect x="458.7" y="120.45" width="48.6" height="2.2" fill="#ff0000"/>
<rect x="437.3" y="120.6" width="42.8" height="1.9" fill="#000" fill-opacity="0.21"/>
<rect x="437.3" y="121" width="21.4" height="1.0" fill="#000" fill-opacity="0.2"/>
<rect x="437.05" y="120.45" width="0.5" height="2.2" fill="#666"/>
<rect x="479.85" y="120.45" width="0.5" height="2.2" fill="#888"/>
<rect x="436.4" y="120.75" width="1.6" height="1.6" fill="#333" fill-opacity="0.8"/>
<rect x="465.3" y="122.65" width="42" height="2.2" fill="#1671bd"/>
<rect x="446" y="122.8" width="38.6" height="1.9" fill="#000" fill-opacity="0.21"/>
<rect x="446" y="123.2" width="19.3" height="1.0" fill="#000" fill-opacity="0.2"/>
<rect x="445.75" y="122.65" width="0.5" height="2.2" fill="#666"/>
<rect x="484.35" y="122.65" width="0.5" height="2.2" fill="#888"/>
<rect x="466.7" y="127.1" width="40.6" height="2.2" fill="#ff0000"/>
<rect x="445.7" y="127.25" width="42" height="1.9" fill="#000" fill-opacity="0.21"/>
<rect x="445.7" y="127.65" width="21" height="1.0" fill="#000" fill-opacity="0.2"/>
<rect x="445.45" y="127.1" width="0.5" height="2.2" fill="#666"/>
<rect x="487.45" y="127.1" width="0.5" height="2.2" fill="#888"/>
<rect x="456.9" y="129.3" width="50.4" height="2.2" fill="#1671bd"/>
<rect x="435.5" y="129.45" width="42.8" height="1.9" fill="#000" fill-opacity="0.21"/>
<rect x="435.5" y="129.85" width="21.4" height="1.0" fill="#000" fill-opacity="0.2"/>
<rect x="435.25" y="129.3" width="0.5" height="2.2" fill="#666"/>
<rect x="478.05" y="129.3" width="0.5" height="2.2" fill="#888"/>
<rect x="434.6" y="129.6" width="1.6" height="1.6" fill="#333" fill-opacity="0.8"/>
<rect x="476.2" y="133.75" width="31.1" height="2.2" fill="#ff0000"/>
<rect x="461.8" y="133.9" width="28.8" height="1.9" fill="#000" fill-opacity="0.21"/>
<rect x="461.8" y="134.3" width="14.4" height="1.0" fill="#000" fill-opacity="0.2"/>
<rect x="461.55" y="133.75" width="0.5" height="2.2" fill="#666"/>
<rect x="490.35" y="133.75" width="0.5" height="2.2" fill="#888"/>
<rect x="460.9" y="134.05" width="1.6" height="1.6" fill="#333" fill-opacity="0.8"/>
<rect x="476.2" y="135.95" width="31.1" height="2.2" fill="#1671bd"/>
<rect x="455.7" y="136.1" width="41" height="1.9" fill="#000" fill-opacity="0.21"/>
<rect x="455.7" y="136.5" width="20.5" height="1.0" fill="#000" fill-opacity="0.2"/>
<rect x="455.45" y="135.95" width="0.5" height="2.2" fill="#666"/>
<rect x="496.45" y="135.95" width="0.5" height="2.2" fill="#888"/>
<rect x="461.5" y="140.4" width="45.8" height="2.2" fill="#ff0000"/>
<rect x="446.9" y="140.55" width="29.2" height="1.9" fill="#000" fill-opacity="0.21"/>
<rect x="446.9" y="140.95" width="14.6" height="1.0" fill="#000" fill-opacity="0.2"/>
<rect x="446.65" y="140.4" width="0.5" height="2.2" fill="#666"/>
<rect x="475.85" y="140.4" width="0.5" height="2.2" fill="#888"/>
<rect x="446" y="140.7" width="1.6" height="1.6" fill="#333" fill-opacity="0.8"/>
<rect x="474.1" y="142.6" width="33.2" height="2.2" fill="#1671bd"/>
<rect x="459.2" y="142.75" width="29.8" height="1.9" fill="#000" fill-opacity="0.21"/>
<rect x="459.2" y="143.15" width="14.9" height="1.0" fill="#000" fill-opacity="0.2"/>
<rect x="458.95" y="142.6" width="0.5" height="2.2" fill="#666"/>
<rect x="488.75" y="142.6" width="0.5" height="2.2" fill="#888"/>
<rect x="466.2" y="147.05" width="41.1" height="2.2" fill="#ff0000"/>
<rect x="446.4" y="147.2" width="39.6" height="1.9" fill="#000" fill-opacity="0.21"/>
<rect x="446.4" y="147.6" width="19.8" height="1.0" fill="#000" fill-opacity="0.2"/>
<rect x="446.15" y="147.05" width="0.5" height="2.2" fill="#666"/>
<rect x="485.75" y="147.05" width="0.5" height="2.2" fill="#888"/>
<rect x="472.3" y="149.25" width="35" height="2.2" fill="#1671bd"/>
<rect x="451.3" y="149.4" width="42" height="1.9" fill="#000" fill-opacity="0.21"/>
<rect x="451.3" y="149.8" width="21" height="1.0" fill="#000" fill-opacity="0.2"/>
<rect x="451.05" y="149.25" width="0.5" height="2.2" fill="#666"/>
<rect x="493.05" y="149.25" width="0.5" height="2.2" fill="#888"/>
<rect x="443.4" y="153.7" width="63.9" height="2.2" fill="#ff0000"/>
<rect x="421.5" y="153.85" width="43.8" height="1.9" fill="#000" fill-opacity="0.21"/>
<rect x="421.5" y="154.25" width="21.9" height="1.0" fill="#000" fill-opacity="0.2"/>
<rect x="421.25" y="153.7" width="0.5" height="2.2" fill="#666"/>
<rect x="465.05" y="153.7" width="0.5" height="2.2" fill="#888"/>
<rect x="420.6" y="154" width="1.6" height="1.6" fill="#333" fill-opacity="0.8"/>
<rect x="463.6" y="155.9" width="43.7" height="2.2" fill="#1671bd"/>
<rect x="445.7" y="156.05" width="35.8" height="1.9" fill="#000" fill-opacity="0.21"/>
<rect x="445.7" y="156.45" width="17.9" height="1.0" fill="#000" fill-opacity="0.2"/>
<rect x="445.45" y="155.9" width="0.5" height="2.2" fill="#666"/>
<rect x="481.25" y="155.9" width="0.5" height="2.2" fill="#888"/>
<rect x="444.8" y="156.2" width="1.6" height="1.6" fill="#333" fill-opacity="0.8"/>
<rect x="473.2" y="160.35" width="34.1" height="2.2" fill="#ff0000"/>
<rect x="452.2" y="160.5" width="42" height="1.9" fill="#000" fill-opacity="0.21"/>
<rect x="452.2" y="160.9" width="21" height="1.0" fill="#000" fill-opacity="0.2"/>
<rect x="451.95" y="160.35" width="0.5" height="2.2" fill="#666"/>
<rect x="493.95" y="160.35" width="0.5" height="2.2" fill="#888"/>
<rect x="493" y="162.55" width="14.3" height="2.2" fill="#1671bd"/>
<rect x="477.6" y="162.7" width="30.8" height="1.9" fill="#000" fill-opacity="0.21"/>
<rect x="477.6" y="163.1" width="15.4" height="1.0" fill="#000" fill-opacity="0.2"/>
<rect x="507.3" y="163.1" width="1.1" height="1.0" fill="#000" fill-opacity="0.2"/>
<rect x="477.35" y="162.55" width="0.5" height="2.2" fill="#666"/>
<rect x="508.15" y="162.55" width="0.5" height="2.2" fill="#888"/>
<rect x="468.5" y="167" width="38.8" height="2.2" fill="#ff0000"/>
<rect x="449.6" y="167.15" width="37.8" height="1.9" fill="#000" fill-opacity="0.21"/>
<rect x="449.6" y="167.55" width="18.9" height="1.0" fill="#000" fill-opacity="0.2"/>
<rect x="449.35" y="167" width="0.5" height="2.2" fill="#666"/>
<rect x="487.15" y="167" width="0.5" height="2.2" fill="#888"/>
<rect x="478.5" y="169.2" width="28.8" height="2.2" fill="#1671bd"/>
<rect x="458.3" y="169.35" width="40.4" height="1.9" fill="#000" fill-opacity="0.21"/>
<rect x="458.3" y="169.75" width="20.2" height="1.0" fill="#000" fill-opacity="0.2"/>
<rect x="458.05" y="169.2" width="0.5" height="2.2" fill="#666"/>
<rect x="498.45" y="169.2" width="0.5" height="2.2" fill="#888"/>
<rect x="483.7" y="173.65" width="23.6" height="2.2" fill="#ff0000"/>
<rect x="465.3" y="173.8" width="36.8" height="1.9" fill="#000" fill-opacity="0.21"/>
<rect x="465.3" y="174.2" width="18.4" height="1.0" fill="#000" fill-opacity="0.2"/>
<rect x="465.05" y="173.65" width="0.5" height="2.2" fill="#666"/>
<rect x="501.85" y="173.65" width="0.5" height="2.2" fill="#888"/>
<rect x="492" y="175.85" width="15.3" height="2.2" fill="#1671bd"/>
<rect x="472.3" y="176" width="37.7" height="1.9" fill="#000" fill-opacity="0.21"/>
<rect x="472.3" y="176.4" width="19.7" height="1.0" fill="#000" fill-opacity="0.2"/>
<rect x="507.3" y="176.4" width="2.7" height="1.0" fill="#000" fill-opacity="0.2"/>
<rect x="472.05" y="175.85" width="0.5" height="2.2" fill="#666"/>
<rect x="509.75" y="175.85" width="0.5" height="2.2" fill="#888"/>
<rect x="468.8" y="180.3" width="38.5" height="2.2" fill="#ff0000"/>
<rect x="446" y="180.45" width="45.6" height="1.9" fill="#000" fill-opacity="0.21"/>
<rect x="446" y="180.85" width="22.8" height="1.0" fill="#000" fill-opacity="0.2"/>
<rect x="445.75" y="180.3" width="0.5" height="2.2" fill="#666"/>
<rect x="491.35" y="180.3" width="0.5" height="2.2" fill="#888"/>
<rect x="470.2" y="182.5" width="37.1" height="2.2" fill="#1671bd"/>
<rect x="450.4" y="182.65" width="39.6" height="1.9" fill="#000" fill-opacity="0.21"/>
<rect x="450.4" y="183.05" width="19.8" height="1.0" fill="#000" fill-opacity="0.2"/>
<rect x="450.15" y="182.5" width="0.5" height="2.2" fill="#666"/>
<rect x="489.75" y="182.5" width="0.5" height="2.2" fill="#888"/>
<rect x="481.5" y="186.95" width="25.8" height="2.2" fill="#ff0000"/>
<rect x="463.6" y="187.1" width="35.8" height="1.9" fill="#000" fill-opacity="0.21"/>
<rect x="463.6" y="187.5" width="17.9" height="1.0" fill="#000" fill-opacity="0.2"/>
<rect x="463.35" y="186.95" width="0.5" height="2.2" fill="#666"/>
<rect x="499.15" y="186.95" width="0.5" height="2.2" fill="#888"/>
<rect x="470.2" y="189.15" width="37.1" height="2.2" fill="#1671bd"/>
<rect x="453" y="189.3" width="34.4" height="1.9" fill="#000" fill-opacity="0.21"/>
<rect x="453" y="189.7" width="17.2" height="1.0" fill="#000" fill-opacity="0.2"/>
<rect x="452.75" y="189.15" width="0.5" height="2.2" fill="#666"/>
<rect x="487.15" y="189.15" width="0.5" height="2.2" fill="#888"/>
<rect x="452.1" y="189.45" width="1.6" height="1.6" fill="#333" fill-opacity="0.8"/>
<rect x="488.1" y="193.6" width="19.2" height="2.2" fill="#ff0000"/>
<rect x="475.8" y="193.75" width="24.6" height="1.9" fill="#000" fill-opacity="0.21"/>
<rect x="475.8" y="194.15" width="12.3" height="1.0" fill="#000" fill-opacity="0.2"/>
<rect x="475.55" y="193.6" width="0.5" height="2.2" fill="#666"/>
<rect x="500.15" y="193.6" width="0.5" height="2.2" fill="#888"/>
<rect x="493.4" y="195.8" width="13.9" height="2.2" fill="#1671bd"/>
<rect x="481.1" y="195.95" width="24.6" height="1.9" fill="#000" fill-opacity="0.21"/>
<rect x="481.1" y="196.35" width="12.3" height="1.0" fill="#000" fill-opacity="0.2"/>
<rect x="480.85" y="195.8" width="0.5" height="2.2" fill="#666"/>
<rect x="505.45" y="195.8" width="0.5" height="2.2" fill="#888"/>
<rect x="485.5" y="200.25" width="21.8" height="2.2" fill="#ff0000"/>
<rect x="469.7" y="200.4" width="31.6" height="1.9" fill="#000" fill-opacity="0.21"/>
<rect x="469.7" y="200.8" width="15.8" height="1.0" fill="#000" fill-opacity="0.2"/>
<rect x="469.45" y="200.25" width="0.5" height="2.2" fill="#666"/>
<rect x="501.05" y="200.25" width="0.5" height="2.2" fill="#888"/>
<rect x="489" y="202.45" width="18.3" height="2.2" fill="#1671bd"/>
<rect x="475.8" y="202.6" width="26.4" height="1.9" fill="#000" fill-opacity="0.21"/>
<rect x="475.8" y="203" width="13.2" height="1.0" fill="#000" fill-opacity="0.2"/>
<rect x="475.55" y="202.45" width="0.5" height="2.2" fill="#666"/>
<rect x="501.95" y="202.45" width="0.5" height="2.2" fill="#888"/>
<rect x="481.1" y="206.9" width="26.2" height="2.2" fill="#ff0000"/>
<rect x="465.3" y="207.05" width="31.6" height="1.9" fill="#000" fill-opacity="0.21"/>
<rect x="465.3" y="207.45" width="15.8" height="1.0" fill="#000" fill-opacity="0.2"/>
<rect x="465.05" y="206.9" width="0.5" height="2.2" fill="#666"/>
<rect x="496.65" y="206.9" width="0.5" height="2.2" fill="#888"/>
<rect x="507.3" y="209.1" width="1.7" height="2.2" fill="#1671bd"/>
<rect x="495" y="209.25" width="28" height="1.9" fill="#000" fill-opacity="0.21"/>
<rect x="495" y="209.65" width="12.3" height="1.0" fill="#000" fill-opacity="0.2"/>
<rect x="509" y="209.65" width="14" height="1.0" fill="#000" fill-opacity="0.2"/>
<rect x="494.75" y="209.1" width="0.5" height="2.2" fill="#666"/>
<rect x="522.75" y="209.1" width="0.5" height="2.2" fill="#888"/>
<rect x="497.1" y="213.55" width="10.2" height="2.2" fill="#ff0000"/>
<rect x="481.3" y="213.7" width="31.6" height="1.9" fill="#000" fill-opacity="0.21"/>
<rect x="481.3" y="214.1" width="15.8" height="1.0" fill="#000" fill-opacity="0.2"/>
<rect x="507.3" y="214.1" width="5.6" height="1.0" fill="#000" fill-opacity="0.2"/>
<rect x="481.05" y="213.55" width="0.5" height="2.2" fill="#666"/>
<rect x="512.65" y="213.55" width="0.5" height="2.2" fill="#888"/>
<rect x="507.3" y="215.75" width="1.2" height="2.2" fill="#1671bd"/>
<rect x="490" y="215.9" width="36.7" height="1.9" fill="#000" fill-opacity="0.21"/>
<rect x="490" y="216.3" width="17.3" height="1.0" fill="#000" fill-opacity="0.2"/>
<rect x="508.5" y="216.3" width="18.2" height="1.0" fill="#000" fill-opacity="0.2"/>
<rect x="489.75" y="215.75" width="0.5" height="2.2" fill="#666"/>
<rect x="526.45" y="215.75" width="0.5" height="2.2" fill="#888"/>
<rect x="476" y="220.2" width="31.3" height="2.2" fill="#ff0000"/>
<rect x="459.7" y="220.35" width="32.6" height="1.9" fill="#000" fill-opacity="0.21"/>
<rect x="459.7" y="220.75" width="16.3" height="1.0" fill="#000" fill-opacity="0.2"/>
<rect x="459.45" y="220.2" width="0.5" height="2.2" fill="#666"/>
<rect x="492.05" y="220.2" width="0.5" height="2.2" fill="#888"/>
<rect x="479.7" y="222.4" width="27.6" height="2.2" fill="#1671bd"/>
<rect x="461.3" y="222.55" width="36.8" height="1.9" fill="#000" fill-opacity="0.21"/>
<rect x="461.3" y="222.95" width="18.4" height="1.0" fill="#000" fill-opacity="0.2"/>
<rect x="461.05" y="222.4" width="0.5" height="2.2" fill="#666"/>
<rect x="497.85" y="222.4" width="0.5" height="2.2" fill="#888"/>
<rect x="478.7" y="226.85" width="28.6" height="2.2" fill="#ff0000"/>
<rect x="455.6" y="227" width="46.2" height="1.9" fill="#000" fill-opacity="0.21"/>
<rect x="455.6" y="227.4" width="23.1" height="1.0" fill="#000" fill-opacity="0.2"/>
<rect x="455.35" y="226.85" width="0.5" height="2.2" fill="#666"/>
<rect x="501.55" y="226.85" width="0.5" height="2.2" fill="#888"/>
<rect x="488.3" y="229.05" width="19" height="2.2" fill="#1671bd"/>
<rect x="469.5" y="229.2" width="37.6" height="1.9" fill="#000" fill-opacity="0.21"/>
<rect x="469.5" y="229.6" width="18.8" height="1.0" fill="#000" fill-opacity="0.2"/>
<rect x="469.25" y="229.05" width="0.5" height="2.2" fill="#666"/>
<rect x="506.85" y="229.05" width="0.5" height="2.2" fill="#888"/>
<rect x="494.4" y="233.5" width="12.9" height="2.2" fill="#ff0000"/>
<rect x="481.3" y="233.65" width="26.2" height="1.9" fill="#000" fill-opacity="0.21"/>
<rect x="481.3" y="234.05" width="13.1" height="1.0" fill="#000" fill-opacity="0.2"/>
<rect x="507.3" y="234.05" width="0.2" height="1.0" fill="#000" fill-opacity="0.2"/>
<rect x="481.05" y="233.5" width="0.5" height="2.2" fill="#666"/>
<rect x="507.25" y="233.5" width="0.5" height="2.2" fill="#888"/>
<rect x="507.3" y="235.7" width="11.6" height="2.2" fill="#1671bd"/>
<rect x="495" y="235.85" width="42.3" height="1.9" fill="#000" fill-opacity="0.21"/>
<rect x="495" y="236.25" width="12.3" height="1.0" fill="#000" fill-opacity="0.2"/>
<rect x="518.9" y="236.25" width="18.4" height="1.0" fill="#000" fill-opacity="0.2"/>
<rect x="494.75" y="235.7" width="0.5" height="2.2" fill="#666"/>
<rect x="537.05" y="235.7" width="0.5" height="2.2" fill="#888"/>
<rect x="495.6" y="240.15" width="11.7" height="2.2" fill="#ff0000"/>
<rect x="476" y="240.3" width="39.5" height="1.9" fill="#000" fill-opacity="0.21"/>
<rect x="476" y="240.7" width="19.6" height="1.0" fill="#000" fill-opacity="0.2"/>
<rect x="507.3" y="240.7" width="8.2" height="1.0" fill="#000" fill-opacity="0.2"/>
<rect x="475.75" y="240.15" width="0.5" height="2.2" fill="#666"/>
<rect x="515.25" y="240.15" width="0.5" height="2.2" fill="#888"/>
<rect x="503.2" y="242.35" width="4.1" height="2.2" fill="#1671bd"/>
<rect x="481.7" y="242.5" width="41.9" height="1.9" fill="#000" fill-opacity="0.21"/>
<rect x="481.7" y="242.9" width="21.5" height="1.0" fill="#000" fill-opacity="0.2"/>
<rect x="507.3" y="242.9" width="16.3" height="1.0" fill="#000" fill-opacity="0.2"/>
<rect x="481.45" y="242.35" width="0.5" height="2.2" fill="#666"/>
<rect x="523.35" y="242.35" width="0.5" height="2.2" fill="#888"/>
<text x="406.3" y="253.9" font-size="5.6" text-anchor="middle" fill="#222">-0.5</text>
<text x="426.5" y="253.9" font-size="5.6" text-anchor="middle" fill="#222">-0.4</text>
<text x="446.7" y="253.9" font-size="5.6" text-anchor="middle" fill="#222">-0.3</text>
<text x="466.9" y="253.9" font-size="5.6" text-anchor="middle" fill="#222">-0.2</text>
<text x="487.1" y="253.9" font-size="5.6" text-anchor="middle" fill="#222">-0.1</text>
<text x="507.3" y="253.9" font-size="5.6" text-anchor="middle" fill="#222">0</text>
<text x="527.5" y="253.9" font-size="5.6" text-anchor="middle" fill="#222">0.1</text>
<text y="263.3" font-size="7.75" fill="#111"><tspan x="410.65">Effect Size</tspan><tspan x="450.65" font-size="9.2">±</tspan><tspan x="459.85">Standard Error</tspan></text>
<text x="395" y="15.2" font-size="17" fill="#000">C. MDD</text>
<path d="M538 18.9H684M538 22.22H684M538 25.55H684M538 28.88H684M538 32.2H684M538 35.52H684M538 38.85H684M538 42.17H684M538 45.5H684M538 48.83H684M538 52.15H684M538 55.48H684M538 58.8H684M538 62.12H684M538 65.45H684M538 68.78H684M538 72.1H684M538 75.43H684M538 78.75H684M538 82.08H684M538 85.4H684M538 88.72H684M538 92.05H684M538 95.38H684M538 98.7H684M538 102.03H684M538 105.35H684M538 108.68H684M538 112H684M538 115.33H684M538 118.65H684M538 121.97H684M538 125.3H684M538 128.62H684M538 131.95H684M538 135.28H684M538 138.6H684M538 141.93H684M538 145.25H684M538 148.58H684M538 151.9H684M538 155.23H684M538 158.55H684M538 161.88H684M538 165.2H684M538 168.53H684M538 171.85H684M538 175.18H684M538 178.5H684M538 181.83H684M538 185.15H684M538 188.48H684M538 191.8H684M538 195.13H684M538 198.45H684M538 201.78H684M538 205.1H684M538 208.43H684M538 211.75H684M538 215.08H684M538 218.4H684M538 221.73H684M538 225.05H684M538 228.38H684M538 231.7H684M538 235.03H684M538 238.35H684M538 241.68H684M538 245H684" stroke="#f3f3f3" stroke-width="0.6"/>
<path d="M549.2 18.9V245.0M569.4 18.9V245.0M589.6 18.9V245.0M609.8 18.9V245.0M630 18.9V245.0M650.2 18.9V245.0M670.4 18.9V245.0" stroke="#e6e6e6" stroke-width="0.9"/>
<rect x="593.4" y="20.7" width="16.4" height="2.2" fill="#ff0000"/>
<rect x="570.1" y="20.85" width="47.3" height="1.9" fill="#000" fill-opacity="0.21"/>
<rect x="570.1" y="21.25" width="23.3" height="1.0" fill="#000" fill-opacity="0.2"/>
<rect x="609.8" y="21.25" width="7.6" height="1.0" fill="#000" fill-opacity="0.2"/>
<rect x="569.85" y="20.7" width="0.5" height="2.2" fill="#666"/>
<rect x="617.15" y="20.7" width="0.5" height="2.2" fill="#888"/>
<rect x="573.3" y="22.9" width="36.5" height="2.2" fill="#1671bd"/>
<rect x="550.9" y="23.05" width="43.8" height="1.9" fill="#000" fill-opacity="0.21"/>
<rect x="550.9" y="23.45" width="22.4" height="1.0" fill="#000" fill-opacity="0.2"/>
<rect x="550.65" y="22.9" width="0.5" height="2.2" fill="#666"/>
<rect x="594.45" y="22.9" width="0.5" height="2.2" fill="#888"/>
<rect x="609.8" y="27.35" width="17.3" height="2.2" fill="#ff0000"/>
<rect x="611" y="27.5" width="32.7" height="1.9" fill="#000" fill-opacity="0.21"/>
<rect x="611" y="27.9" width="0" height="1.0" fill="#000" fill-opacity="0.2"/>
<rect x="627.1" y="27.9" width="16.6" height="1.0" fill="#000" fill-opacity="0.2"/>
<rect x="610.75" y="27.35" width="0.5" height="2.2" fill="#666"/>
<rect x="643.45" y="27.35" width="0.5" height="2.2" fill="#888"/>
<rect x="605.2" y="29.55" width="4.6" height="2.2" fill="#1671bd"/>
<rect x="588.9" y="29.7" width="32.9" height="1.9" fill="#000" fill-opacity="0.21"/>
<rect x="588.9" y="30.1" width="16.3" height="1.0" fill="#000" fill-opacity="0.2"/>
<rect x="609.8" y="30.1" width="12" height="1.0" fill="#000" fill-opacity="0.2"/>
<rect x="588.65" y="29.55" width="0.5" height="2.2" fill="#666"/>
<rect x="621.55" y="29.55" width="0.5" height="2.2" fill="#888"/>
<rect x="609.8" y="34" width="12.9" height="2.2" fill="#ff0000"/>
<rect x="600" y="34.15" width="46.4" height="1.9" fill="#000" fill-opacity="0.21"/>
<rect x="600" y="34.55" width="9.8" height="1.0" fill="#000" fill-opacity="0.2"/>
<rect x="622.7" y="34.55" width="23.7" height="1.0" fill="#000" fill-opacity="0.2"/>
<rect x="599.75" y="34" width="0.5" height="2.2" fill="#666"/>
<rect x="646.15" y="34" width="0.5" height="2.2" fill="#888"/>
<rect x="609.8" y="36.2" width="12" height="2.2" fill="#1671bd"/>
<rect x="605.2" y="36.35" width="32.4" height="1.9" fill="#000" fill-opacity="0.21"/>
<rect x="605.2" y="36.75" width="4.6" height="1.0" fill="#000" fill-opacity="0.2"/>
<rect x="621.8" y="36.75" width="15.8" height="1.0" fill="#000" fill-opacity="0.2"/>
<rect x="604.95" y="36.2" width="0.5" height="2.2" fill="#666"/>
<rect x="637.35" y="36.2" width="0.5" height="2.2" fill="#888"/>
<rect x="609.8" y="40.65" width="9.4" height="2.2" fill="#ff0000"/>
<rect x="594.7" y="40.8" width="49" height="1.9" fill="#000" fill-opacity="0.21"/>
<rect x="594.7" y="41.2" width="15.1" height="1.0" fill="#000" fill-opacity="0.2"/>
<rect x="619.2" y="41.2" width="24.5" height="1.0" fill="#000" fill-opacity="0.2"/>
<rect x="594.45" y="40.65" width="0.5" height="2.2" fill="#666"/>
<rect x="643.45" y="40.65" width="0.5" height="2.2" fill="#888"/>
<rect x="599.9" y="42.85" width="9.9" height="2.2" fill="#1671bd"/>
<rect x="577.2" y="43" width="45.5" height="1.9" fill="#000" fill-opacity="0.21"/>
<rect x="577.2" y="43.4" width="22.7" height="1.0" fill="#000" fill-opacity="0.2"/>
<rect x="609.8" y="43.4" width="12.9" height="1.0" fill="#000" fill-opacity="0.2"/>
<rect x="576.95" y="42.85" width="0.5" height="2.2" fill="#666"/>
<rect x="622.45" y="42.85" width="0.5" height="2.2" fill="#888"/>
<rect x="581.9" y="47.3" width="27.9" height="2.2" fill="#ff0000"/>
<rect x="560.9" y="47.45" width="43.4" height="1.9" fill="#000" fill-opacity="0.21"/>
<rect x="560.9" y="47.85" width="21" height="1.0" fill="#000" fill-opacity="0.2"/>
<rect x="560.65" y="47.3" width="0.5" height="2.2" fill="#666"/>
<rect x="604.05" y="47.3" width="0.5" height="2.2" fill="#888"/>
<rect x="580.1" y="49.5" width="29.7" height="2.2" fill="#1671bd"/>
<rect x="564" y="49.65" width="32.4" height="1.9" fill="#000" fill-opacity="0.21"/>
<rect x="564" y="50.05" width="16.1" height="1.0" fill="#000" fill-opacity="0.2"/>
<rect x="563.75" y="49.5" width="0.5" height="2.2" fill="#666"/>
<rect x="596.15" y="49.5" width="0.5" height="2.2" fill="#888"/>
<rect x="609.8" y="53.95" width="44.4" height="2.2" fill="#ff0000"/>
<rect x="634.1" y="54.1" width="41.9" height="1.9" fill="#000" fill-opacity="0.21"/>
<rect x="634.1" y="54.5" width="0" height="1.0" fill="#000" fill-opacity="0.2"/>
<rect x="654.2" y="54.5" width="21.8" height="1.0" fill="#000" fill-opacity="0.2"/>
<rect x="633.85" y="53.95" width="0.5" height="2.2" fill="#666"/>
<rect x="675.75" y="53.95" width="0.5" height="2.2" fill="#888"/>
<rect x="609.8" y="56.15" width="11.2" height="2.2" fill="#1671bd"/>
<rect x="604.3" y="56.3" width="32.4" height="1.9" fill="#000" fill-opacity="0.21"/>
<rect x="604.3" y="56.7" width="5.5" height="1.0" fill="#000" fill-opacity="0.2"/>
<rect x="621" y="56.7" width="15.7" height="1.0" fill="#000" fill-opacity="0.2"/>
<rect x="604.05" y="56.15" width="0.5" height="2.2" fill="#666"/>
<rect x="636.45" y="56.15" width="0.5" height="2.2" fill="#888"/>
<rect x="609.8" y="60.6" width="7.1" height="2.2" fill="#ff0000"/>
<rect x="597.3" y="60.75" width="39.4" height="1.9" fill="#000" fill-opacity="0.21"/>
<rect x="597.3" y="61.15" width="12.5" height="1.0" fill="#000" fill-opacity="0.2"/>
<rect x="616.9" y="61.15" width="19.8" height="1.0" fill="#000" fill-opacity="0.2"/>
<rect x="597.05" y="60.6" width="0.5" height="2.2" fill="#666"/>
<rect x="636.45" y="60.6" width="0.5" height="2.2" fill="#888"/>
<rect x="572.8" y="62.8" width="37" height="2.2" fill="#1671bd"/>
<rect x="557" y="62.95" width="32.4" height="1.9" fill="#000" fill-opacity="0.21"/>
<rect x="557" y="63.35" width="15.8" height="1.0" fill="#000" fill-opacity="0.2"/>
<rect x="556.75" y="62.8" width="0.5" height="2.2" fill="#666"/>
<rect x="589.15" y="62.8" width="0.5" height="2.2" fill="#888"/>
<rect x="609.8" y="67.25" width="11.2" height="2.2" fill="#ff0000"/>
<rect x="603.4" y="67.4" width="35.9" height="1.9" fill="#000" fill-opacity="0.21"/>
<rect x="603.4" y="67.8" width="6.4" height="1.0" fill="#000" fill-opacity="0.2"/>
<rect x="621" y="67.8" width="18.3" height="1.0" fill="#000" fill-opacity="0.2"/>
<rect x="603.15" y="67.25" width="0.5" height="2.2" fill="#666"/>
<rect x="639.05" y="67.25" width="0.5" height="2.2" fill="#888"/>
<rect x="609.8" y="69.45" width="14.7" height="2.2" fill="#1671bd"/>
<rect x="607.8" y="69.6" width="32.9" height="1.9" fill="#000" fill-opacity="0.21"/>
<rect x="607.8" y="70" width="2" height="1.0" fill="#000" fill-opacity="0.2"/>
<rect x="624.5" y="70" width="16.2" height="1.0" fill="#000" fill-opacity="0.2"/>
<rect x="607.55" y="69.45" width="0.5" height="2.2" fill="#666"/>
<rect x="640.45" y="69.45" width="0.5" height="2.2" fill="#888"/>
<rect x="609.8" y="73.9" width="2.4" height="2.2" fill="#ff0000"/>
<rect x="583.3" y="74.05" width="57.8" height="1.9" fill="#000" fill-opacity="0.21"/>
<rect x="583.3" y="74.45" width="26.5" height="1.0" fill="#000" fill-opacity="0.2"/>
<rect x="612.2" y="74.45" width="28.9" height="1.0" fill="#000" fill-opacity="0.2"/>
<rect x="583.05" y="73.9" width="0.5" height="2.2" fill="#666"/>
<rect x="640.85" y="73.9" width="0.5" height="2.2" fill="#888"/>
<rect x="609.8" y="76.1" width="1.5" height="2.2" fill="#1671bd"/>
<rect x="585" y="76.25" width="52.6" height="1.9" fill="#000" fill-opacity="0.21"/>
<rect x="585" y="76.65" width="24.8" height="1.0" fill="#000" fill-opacity="0.2"/>
<rect x="611.3" y="76.65" width="26.3" height="1.0" fill="#000" fill-opacity="0.2"/>
<rect x="584.75" y="76.1" width="0.5" height="2.2" fill="#666"/>
<rect x="637.35" y="76.1" width="0.5" height="2.2" fill="#888"/>
<rect x="609.8" y="80.55" width="8.9" height="2.2" fill="#ff0000"/>
<rect x="602.6" y="80.7" width="32.4" height="1.9" fill="#000" fill-opacity="0.21"/>
<rect x="602.6" y="81.1" width="7.2" height="1.0" fill="#000" fill-opacity="0.2"/>
<rect x="618.7" y="81.1" width="16.3" height="1.0" fill="#000" fill-opacity="0.2"/>
<rect x="602.35" y="80.55" width="0.5" height="2.2" fill="#666"/>
<rect x="634.75" y="80.55" width="0.5" height="2.2" fill="#888"/>
<rect x="609.8" y="82.75" width="11.2" height="2.2" fill="#1671bd"/>
<rect x="604.3" y="82.9" width="33.7" height="1.9" fill="#000" fill-opacity="0.21"/>
<rect x="604.3" y="83.3" width="5.5" height="1.0" fill="#000" fill-opacity="0.2"/>
<rect x="621" y="83.3" width="17" height="1.0" fill="#000" fill-opacity="0.2"/>
<rect x="604.05" y="82.75" width="0.5" height="2.2" fill="#666"/>
<rect x="637.75" y="82.75" width="0.5" height="2.2" fill="#888"/>
<rect x="609.8" y="87.2" width="2.4" height="2.2" fill="#ff0000"/>
<rect x="585.9" y="87.35" width="52.6" height="1.9" fill="#000" fill-opacity="0.21"/>
<rect x="585.9" y="87.75" width="23.9" height="1.0" fill="#000" fill-opacity="0.2"/>
<rect x="612.2" y="87.75" width="26.3" height="1.0" fill="#000" fill-opacity="0.2"/>
<rect x="585.65" y="87.2" width="0.5" height="2.2" fill="#666"/>
<rect x="638.25" y="87.2" width="0.5" height="2.2" fill="#888"/>
<rect x="603.4" y="89.4" width="6.4" height="2.2" fill="#1671bd"/>
<rect x="583.3" y="89.55" width="39.4" height="1.9" fill="#000" fill-opacity="0.21"/>
<rect x="583.3" y="89.95" width="20.1" height="1.0" fill="#000" fill-opacity="0.2"/>
<rect x="609.8" y="89.95" width="12.9" height="1.0" fill="#000" fill-opacity="0.2"/>
<rect x="583.05" y="89.4" width="0.5" height="2.2" fill="#666"/>
<rect x="622.45" y="89.4" width="0.5" height="2.2" fill="#888"/>
<rect x="600.8" y="93.85" width="9" height="2.2" fill="#ff0000"/>
<rect x="583.3" y="94" width="35" height="1.9" fill="#000" fill-opacity="0.21"/>
<rect x="583.3" y="94.4" width="17.5" height="1.0" fill="#000" fill-opacity="0.2"/>
<rect x="609.8" y="94.4" width="8.5" height="1.0" fill="#000" fill-opacity="0.2"/>
<rect x="583.05" y="93.85" width="0.5" height="2.2" fill="#666"/>
<rect x="618.05" y="93.85" width="0.5" height="2.2" fill="#888"/>
<rect x="609.8" y="96.05" width="8.5" height="2.2" fill="#1671bd"/>
<rect x="601.7" y="96.2" width="33.3" height="1.9" fill="#000" fill-opacity="0.21"/>
<rect x="601.7" y="96.6" width="8.1" height="1.0" fill="#000" fill-opacity="0.2"/>
<rect x="618.3" y="96.6" width="16.7" height="1.0" fill="#000" fill-opacity="0.2"/>
<rect x="601.45" y="96.05" width="0.5" height="2.2" fill="#666"/>
<rect x="634.75" y="96.05" width="0.5" height="2.2" fill="#888"/>
<rect x="595.2" y="100.5" width="14.6" height="2.2" fill="#ff0000"/>
<rect x="563.7" y="100.65" width="62.5" height="1.9" fill="#000" fill-opacity="0.21"/>
<rect x="563.7" y="101.05" width="31.5" height="1.0" fill="#000" fill-opacity="0.2"/>
<rect x="609.8" y="101.05" width="16.4" height="1.0" fill="#000" fill-opacity="0.2"/>
<rect x="563.45" y="100.5" width="0.5" height="2.2" fill="#666"/>
<rect x="625.95" y="100.5" width="0.5" height="2.2" fill="#888"/>
<rect x="606.1" y="102.7" width="3.7" height="2.2" fill="#1671bd"/>
<rect x="579.4" y="102.85" width="54.3" height="1.9" fill="#000" fill-opacity="0.21"/>
<rect x="579.4" y="103.25" width="26.7" height="1.0" fill="#000" fill-opacity="0.2"/>
<rect x="609.8" y="103.25" width="23.9" height="1.0" fill="#000" fill-opacity="0.2"/>
<rect x="579.15" y="102.7" width="0.5" height="2.2" fill="#666"/>
<rect x="633.45" y="102.7" width="0.5" height="2.2" fill="#888"/>
<rect x="609.8" y="107.15" width="6.8" height="2.2" fill="#ff0000"/>
<rect x="600.8" y="107.3" width="32.4" height="1.9" fill="#000" fill-opacity="0.21"/>
<rect x="600.8" y="107.7" width="9" height="1.0" fill="#000" fill-opacity="0.2"/>
<rect x="616.6" y="107.7" width="16.6" height="1.0" fill="#000" fill-opacity="0.2"/>
<rect x="600.55" y="107.15" width="0.5" height="2.2" fill="#666"/>
<rect x="632.95" y="107.15" width="0.5" height="2.2" fill="#888"/>
<rect x="599.1" y="109.35" width="10.7" height="2.2" fill="#1671bd"/>
<rect x="582.4" y="109.5" width="33.3" height="1.9" fill="#000" fill-opacity="0.21"/>
<rect x="582.4" y="109.9" width="16.7" height="1.0" fill="#000" fill-opacity="0.2"/>
<rect x="609.8" y="109.9" width="5.9" height="1.0" fill="#000" fill-opacity="0.2"/>
<rect x="582.15" y="109.35" width="0.5" height="2.2" fill="#666"/>
<rect x="615.45" y="109.35" width="0.5" height="2.2" fill="#888"/>
<rect x="609.8" y="113.8" width="26.9" height="2.2" fill="#ff0000"/>
<rect x="614.8" y="113.95" width="42.9" height="1.9" fill="#000" fill-opacity="0.21"/>
<rect x="614.8" y="114.35" width="0" height="1.0" fill="#000" fill-opacity="0.2"/>
<rect x="636.7" y="114.35" width="21" height="1.0" fill="#000" fill-opacity="0.2"/>
<rect x="614.55" y="113.8" width="0.5" height="2.2" fill="#666"/>
<rect x="657.45" y="113.8" width="0.5" height="2.2" fill="#888"/>
<rect x="609.8" y="116" width="8.9" height="2.2" fill="#1671bd"/>
<rect x="594.1" y="116.15" width="48.8" height="1.9" fill="#000" fill-opacity="0.21"/>
<rect x="594.1" y="116.55" width="15.7" height="1.0" fill="#000" fill-opacity="0.2"/>
<rect x="618.7" y="116.55" width="24.2" height="1.0" fill="#000" fill-opacity="0.2"/>
<rect x="593.85" y="116" width="0.5" height="2.2" fill="#666"/>
<rect x="642.65" y="116" width="0.5" height="2.2" fill="#888"/>
<rect x="592" y="120.45" width="17.8" height="2.2" fill="#ff0000"/>
<rect x="571" y="120.6" width="41.2" height="1.9" fill="#000" fill-opacity="0.21"/>
<rect x="571" y="121" width="21" height="1.0" fill="#000" fill-opacity="0.2"/>
<rect x="609.8" y="121" width="2.4" height="1.0" fill="#000" fill-opacity="0.2"/>
<rect x="570.75" y="120.45" width="0.5" height="2.2" fill="#666"/>
<rect x="611.95" y="120.45" width="0.5" height="2.2" fill="#888"/>
<rect x="605.2" y="122.65" width="4.6" height="2.2" fill="#1671bd"/>
<rect x="588.5" y="122.8" width="32.5" height="1.9" fill="#000" fill-opacity="0.21"/>
<rect x="588.5" y="123.2" width="16.7" height="1.0" fill="#000" fill-opacity="0.2"/>
<rect x="609.8" y="123.2" width="11.2" height="1.0" fill="#000" fill-opacity="0.2"/>
<rect x="588.25" y="122.65" width="0.5" height="2.2" fill="#666"/>
<rect x="620.75" y="122.65" width="0.5" height="2.2" fill="#888"/>
<rect x="609.8" y="127.1" width="4.7" height="2.2" fill="#ff0000"/>
<rect x="597.3" y="127.25" width="34.2" height="1.9" fill="#000" fill-opacity="0.21"/>
<rect x="597.3" y="127.65" width="12.5" height="1.0" fill="#000" fill-opacity="0.2"/>
<rect x="614.5" y="127.65" width="17" height="1.0" fill="#000" fill-opacity="0.2"/>
<rect x="597.05" y="127.1" width="0.5" height="2.2" fill="#666"/>
<rect x="631.25" y="127.1" width="0.5" height="2.2" fill="#888"/>
<rect x="609.8" y="129.3" width="23.9" height="2.2" fill="#1671bd"/>
<rect x="604.3" y="129.45" width="59.2" height="1.9" fill="#000" fill-opacity="0.21"/>
<rect x="604.3" y="129.85" width="5.5" height="1.0" fill="#000" fill-opacity="0.2"/>
<rect x="633.7" y="129.85" width="29.8" height="1.0" fill="#000" fill-opacity="0.2"/>
<rect x="604.05" y="129.3" width="0.5" height="2.2" fill="#666"/>
<rect x="663.25" y="129.3" width="0.5" height="2.2" fill="#888"/>
<rect x="609.8" y="133.75" width="8.2" height="2.2" fill="#ff0000"/>
<rect x="592" y="133.9" width="52.6" height="1.9" fill="#000" fill-opacity="0.21"/>
<rect x="592" y="134.3" width="17.8" height="1.0" fill="#000" fill-opacity="0.2"/>
<rect x="618" y="134.3" width="26.6" height="1.0" fill="#000" fill-opacity="0.2"/>
<rect x="591.75" y="133.75" width="0.5" height="2.2" fill="#666"/>
<rect x="644.35" y="133.75" width="0.5" height="2.2" fill="#888"/>
<rect x="606.4" y="135.95" width="3.4" height="2.2" fill="#1671bd"/>
<rect x="590.3" y="136.1" width="32.4" height="1.9" fill="#000" fill-opacity="0.21"/>
<rect x="590.3" y="136.5" width="16.1" height="1.0" fill="#000" fill-opacity="0.2"/>
<rect x="609.8" y="136.5" width="12.9" height="1.0" fill="#000" fill-opacity="0.2"/>
<rect x="590.05" y="135.95" width="0.5" height="2.2" fill="#666"/>
<rect x="622.45" y="135.95" width="0.5" height="2.2" fill="#888"/>
<rect x="609.8" y="140.4" width="43.6" height="2.2" fill="#ff0000"/>
<rect x="636.7" y="140.55" width="33.3" height="1.9" fill="#000" fill-opacity="0.21"/>
<rect x="636.7" y="140.95" width="0" height="1.0" fill="#000" fill-opacity="0.2"/>
<rect x="653.4" y="140.95" width="16.6" height="1.0" fill="#000" fill-opacity="0.2"/>
<rect x="636.45" y="140.4" width="0.5" height="2.2" fill="#666"/>
<rect x="669.75" y="140.4" width="0.5" height="2.2" fill="#888"/>
<rect x="609.8" y="142.6" width="12.4" height="2.2" fill="#1671bd"/>
<rect x="602.6" y="142.75" width="38.5" height="1.9" fill="#000" fill-opacity="0.21"/>
<rect x="602.6" y="143.15" width="7.2" height="1.0" fill="#000" fill-opacity="0.2"/>
<rect x="622.2" y="143.15" width="18.9" height="1.0" fill="#000" fill-opacity="0.2"/>
<rect x="602.35" y="142.6" width="0.5" height="2.2" fill="#666"/>
<rect x="640.85" y="142.6" width="0.5" height="2.2" fill="#888"/>
<rect x="595.9" y="147.05" width="13.9" height="2.2" fill="#ff0000"/>
<rect x="580.1" y="147.2" width="32.1" height="1.9" fill="#000" fill-opacity="0.21"/>
<rect x="580.1" y="147.6" width="15.8" height="1.0" fill="#000" fill-opacity="0.2"/>
<rect x="609.8" y="147.6" width="2.4" height="1.0" fill="#000" fill-opacity="0.2"/>
<rect x="579.85" y="147.05" width="0.5" height="2.2" fill="#666"/>
<rect x="611.95" y="147.05" width="0.5" height="2.2" fill="#888"/>
<rect x="599.9" y="149.25" width="9.9" height="2.2" fill="#1671bd"/>
<rect x="583.3" y="149.4" width="33.3" height="1.9" fill="#000" fill-opacity="0.21"/>
<rect x="583.3" y="149.8" width="16.6" height="1.0" fill="#000" fill-opacity="0.2"/>
<rect x="609.8" y="149.8" width="6.8" height="1.0" fill="#000" fill-opacity="0.2"/>
<rect x="583.05" y="149.25" width="0.5" height="2.2" fill="#666"/>
<rect x="616.35" y="149.25" width="0.5" height="2.2" fill="#888"/>
<rect x="593.4" y="153.7" width="16.4" height="2.2" fill="#ff0000"/>
<rect x="577.2" y="153.85" width="32.4" height="1.9" fill="#000" fill-opacity="0.21"/>
<rect x="577.2" y="154.25" width="16.2" height="1.0" fill="#000" fill-opacity="0.2"/>
<rect x="576.95" y="153.7" width="0.5" height="2.2" fill="#666"/>
<rect x="609.35" y="153.7" width="0.5" height="2.2" fill="#888"/>
<rect x="586.8" y="155.9" width="23" height="2.2" fill="#1671bd"/>
<rect x="571" y="156.05" width="32.4" height="1.9" fill="#000" fill-opacity="0.21"/>
<rect x="571" y="156.45" width="15.8" height="1.0" fill="#000" fill-opacity="0.2"/>
<rect x="570.75" y="155.9" width="0.5" height="2.2" fill="#666"/>
<rect x="603.15" y="155.9" width="0.5" height="2.2" fill="#888"/>
<rect x="599.9" y="160.35" width="9.9" height="2.2" fill="#ff0000"/>
<rect x="583.3" y="160.5" width="32.4" height="1.9" fill="#000" fill-opacity="0.21"/>
<rect x="583.3" y="160.9" width="16.6" height="1.0" fill="#000" fill-opacity="0.2"/>
<rect x="609.8" y="160.9" width="5.9" height="1.0" fill="#000" fill-opacity="0.2"/>
<rect x="583.05" y="160.35" width="0.5" height="2.2" fill="#666"/>
<rect x="615.45" y="160.35" width="0.5" height="2.2" fill="#888"/>
<rect x="609.8" y="162.55" width="16.4" height="2.2" fill="#1671bd"/>
<rect x="610.4" y="162.7" width="32.1" height="1.9" fill="#000" fill-opacity="0.21"/>
<rect x="610.4" y="163.1" width="0" height="1.0" fill="#000" fill-opacity="0.2"/>
<rect x="626.2" y="163.1" width="16.3" height="1.0" fill="#000" fill-opacity="0.2"/>
<rect x="610.15" y="162.55" width="0.5" height="2.2" fill="#666"/>
<rect x="642.25" y="162.55" width="0.5" height="2.2" fill="#888"/>
<rect x="595.9" y="167" width="13.9" height="2.2" fill="#ff0000"/>
<rect x="579.8" y="167.15" width="32.4" height="1.9" fill="#000" fill-opacity="0.21"/>
<rect x="579.8" y="167.55" width="16.1" height="1.0" fill="#000" fill-opacity="0.2"/>
<rect x="609.8" y="167.55" width="2.4" height="1.0" fill="#000" fill-opacity="0.2"/>
<rect x="579.55" y="167" width="0.5" height="2.2" fill="#666"/>
<rect x="611.95" y="167" width="0.5" height="2.2" fill="#888"/>
<rect x="608.7" y="169.2" width="1.1" height="2.2" fill="#1671bd"/>
<rect x="592" y="169.35" width="33" height="1.9" fill="#000" fill-opacity="0.21"/>
<rect x="592" y="169.75" width="16.7" height="1.0" fill="#000" fill-opacity="0.2"/>
<rect x="609.8" y="169.75" width="15.2" height="1.0" fill="#000" fill-opacity="0.2"/>
<rect x="591.75" y="169.2" width="0.5" height="2.2" fill="#666"/>
<rect x="624.75" y="169.2" width="0.5" height="2.2" fill="#888"/>
<rect x="609.8" y="173.65" width="23.9" height="2.2" fill="#ff0000"/>
<rect x="610.4" y="173.8" width="46.8" height="1.9" fill="#000" fill-opacity="0.21"/>
<rect x="610.4" y="174.2" width="0" height="1.0" fill="#000" fill-opacity="0.2"/>
<rect x="633.7" y="174.2" width="23.5" height="1.0" fill="#000" fill-opacity="0.2"/>
<rect x="610.15" y="173.65" width="0.5" height="2.2" fill="#666"/>
<rect x="656.95" y="173.65" width="0.5" height="2.2" fill="#888"/>
<rect x="608.7" y="175.85" width="1.1" height="2.2" fill="#1671bd"/>
<rect x="579.8" y="176" width="58.7" height="1.9" fill="#000" fill-opacity="0.21"/>
<rect x="579.8" y="176.4" width="28.9" height="1.0" fill="#000" fill-opacity="0.2"/>
<rect x="609.8" y="176.4" width="28.7" height="1.0" fill="#000" fill-opacity="0.2"/>
<rect x="579.55" y="175.85" width="0.5" height="2.2" fill="#666"/>
<rect x="638.25" y="175.85" width="0.5" height="2.2" fill="#888"/>
<rect x="605.2" y="180.3" width="4.6" height="2.2" fill="#ff0000"/>
<rect x="584.2" y="180.45" width="42" height="1.9" fill="#000" fill-opacity="0.21"/>
<rect x="584.2" y="180.85" width="21" height="1.0" fill="#000" fill-opacity="0.2"/>
<rect x="609.8" y="180.85" width="16.4" height="1.0" fill="#000" fill-opacity="0.2"/>
<rect x="583.95" y="180.3" width="0.5" height="2.2" fill="#666"/>
<rect x="625.95" y="180.3" width="0.5" height="2.2" fill="#888"/>
<rect x="609.8" y="182.5" width="1.5" height="2.2" fill="#1671bd"/>
<rect x="587.1" y="182.65" width="48.4" height="1.9" fill="#000" fill-opacity="0.21"/>
<rect x="587.1" y="183.05" width="22.7" height="1.0" fill="#000" fill-opacity="0.2"/>
<rect x="611.3" y="183.05" width="24.2" height="1.0" fill="#000" fill-opacity="0.2"/>
<rect x="586.85" y="182.5" width="0.5" height="2.2" fill="#666"/>
<rect x="635.25" y="182.5" width="0.5" height="2.2" fill="#888"/>
<rect x="609.8" y="186.95" width="8.9" height="2.2" fill="#ff0000"/>
<rect x="602.6" y="187.1" width="32.4" height="1.9" fill="#000" fill-opacity="0.21"/>
<rect x="602.6" y="187.5" width="7.2" height="1.0" fill="#000" fill-opacity="0.2"/>
<rect x="618.7" y="187.5" width="16.3" height="1.0" fill="#000" fill-opacity="0.2"/>
<rect x="602.35" y="186.95" width="0.5" height="2.2" fill="#666"/>
<rect x="634.75" y="186.95" width="0.5" height="2.2" fill="#888"/>
<rect x="609.8" y="189.15" width="0.7" height="2.2" fill="#1671bd"/>
<rect x="592.4" y="189.3" width="34.3" height="1.9" fill="#000" fill-opacity="0.21"/>
<rect x="592.4" y="189.7" width="17.4" height="1.0" fill="#000" fill-opacity="0.2"/>
<rect x="610.5" y="189.7" width="16.2" height="1.0" fill="#000" fill-opacity="0.2"/>
<rect x="592.15" y="189.15" width="0.5" height="2.2" fill="#666"/>
<rect x="626.45" y="189.15" width="0.5" height="2.2" fill="#888"/>
<rect x="609.8" y="193.6" width="1.2" height="2.2" fill="#ff0000"/>
<rect x="594.7" y="193.75" width="32.4" height="1.9" fill="#000" fill-opacity="0.21"/>
<rect x="594.7" y="194.15" width="15.1" height="1.0" fill="#000" fill-opacity="0.2"/>
<rect x="611" y="194.15" width="16.1" height="1.0" fill="#000" fill-opacity="0.2"/>
<rect x="594.45" y="193.6" width="0.5" height="2.2" fill="#666"/>
<rect x="626.85" y="193.6" width="0.5" height="2.2" fill="#888"/>
<rect x="599.1" y="195.8" width="10.7" height="2.2" fill="#1671bd"/>
<rect x="574.5" y="195.95" width="49.1" height="1.9" fill="#000" fill-opacity="0.21"/>
<rect x="574.5" y="196.35" width="24.6" height="1.0" fill="#000" fill-opacity="0.2"/>
<rect x="609.8" y="196.35" width="13.8" height="1.0" fill="#000" fill-opacity="0.2"/>
<rect x="574.25" y="195.8" width="0.5" height="2.2" fill="#666"/>
<rect x="623.35" y="195.8" width="0.5" height="2.2" fill="#888"/>
<rect x="609.8" y="200.25" width="15.5" height="2.2" fill="#ff0000"/>
<rect x="605.7" y="200.4" width="39.8" height="1.9" fill="#000" fill-opacity="0.21"/>
<rect x="605.7" y="200.8" width="4.1" height="1.0" fill="#000" fill-opacity="0.2"/>
<rect x="625.3" y="200.8" width="20.2" height="1.0" fill="#000" fill-opacity="0.2"/>
<rect x="605.45" y="200.25" width="0.5" height="2.2" fill="#666"/>
<rect x="645.25" y="200.25" width="0.5" height="2.2" fill="#888"/>
<rect x="609.8" y="202.45" width="18.2" height="2.2" fill="#1671bd"/>
<rect x="610.4" y="202.6" width="33.3" height="1.9" fill="#000" fill-opacity="0.21"/>
<rect x="610.4" y="203" width="0" height="1.0" fill="#000" fill-opacity="0.2"/>
<rect x="628" y="203" width="15.7" height="1.0" fill="#000" fill-opacity="0.2"/>
<rect x="610.15" y="202.45" width="0.5" height="2.2" fill="#666"/>
<rect x="643.45" y="202.45" width="0.5" height="2.2" fill="#888"/>
<rect x="609.2" y="206.9" width="0.6" height="2.2" fill="#ff0000"/>
<rect x="590.3" y="207.05" width="39.4" height="1.9" fill="#000" fill-opacity="0.21"/>
<rect x="590.3" y="207.45" width="18.9" height="1.0" fill="#000" fill-opacity="0.2"/>
<rect x="609.8" y="207.45" width="19.9" height="1.0" fill="#000" fill-opacity="0.2"/>
<rect x="590.05" y="206.9" width="0.5" height="2.2" fill="#666"/>
<rect x="629.45" y="206.9" width="0.5" height="2.2" fill="#888"/>
<rect x="609.8" y="209.1" width="14.7" height="2.2" fill="#1671bd"/>
<rect x="602.6" y="209.25" width="43.4" height="1.9" fill="#000" fill-opacity="0.21"/>
<rect x="602.6" y="209.65" width="7.2" height="1.0" fill="#000" fill-opacity="0.2"/>
<rect x="624.5" y="209.65" width="21.5" height="1.0" fill="#000" fill-opacity="0.2"/>
<rect x="602.35" y="209.1" width="0.5" height="2.2" fill="#666"/>
<rect x="645.75" y="209.1" width="0.5" height="2.2" fill="#888"/>
<rect x="609.8" y="213.55" width="5.9" height="2.2" fill="#ff0000"/>
<rect x="599.9" y="213.7" width="32.4" height="1.9" fill="#000" fill-opacity="0.21"/>
<rect x="599.9" y="214.1" width="9.9" height="1.0" fill="#000" fill-opacity="0.2"/>
<rect x="615.7" y="214.1" width="16.6" height="1.0" fill="#000" fill-opacity="0.2"/>
<rect x="599.65" y="213.55" width="0.5" height="2.2" fill="#666"/>
<rect x="632.05" y="213.55" width="0.5" height="2.2" fill="#888"/>
<rect x="604" y="215.75" width="5.8" height="2.2" fill="#1671bd"/>
<rect x="587.1" y="215.9" width="33.9" height="1.9" fill="#000" fill-opacity="0.21"/>
<rect x="587.1" y="216.3" width="16.9" height="1.0" fill="#000" fill-opacity="0.2"/>
<rect x="609.8" y="216.3" width="11.2" height="1.0" fill="#000" fill-opacity="0.2"/>
<rect x="586.85" y="215.75" width="0.5" height="2.2" fill="#666"/>
<rect x="620.75" y="215.75" width="0.5" height="2.2" fill="#888"/>
<rect x="609.8" y="220.2" width="1.9" height="2.2" fill="#ff0000"/>
<rect x="595.9" y="220.35" width="32.6" height="1.9" fill="#000" fill-opacity="0.21"/>
<rect x="595.9" y="220.75" width="13.9" height="1.0" fill="#000" fill-opacity="0.2"/>
<rect x="611.7" y="220.75" width="16.8" height="1.0" fill="#000" fill-opacity="0.2"/>
<rect x="595.65" y="220.2" width="0.5" height="2.2" fill="#666"/>
<rect x="628.25" y="220.2" width="0.5" height="2.2" fill="#888"/>
<rect x="595.9" y="222.4" width="13.9" height="2.2" fill="#1671bd"/>
<rect x="573.7" y="222.55" width="44.6" height="1.9" fill="#000" fill-opacity="0.21"/>
<rect x="573.7" y="222.95" width="22.2" height="1.0" fill="#000" fill-opacity="0.2"/>
<rect x="609.8" y="222.95" width="8.5" height="1.0" fill="#000" fill-opacity="0.2"/>
<rect x="573.45" y="222.4" width="0.5" height="2.2" fill="#666"/>
<rect x="618.05" y="222.4" width="0.5" height="2.2" fill="#888"/>
<rect x="605.7" y="226.85" width="4.1" height="2.2" fill="#ff0000"/>
<rect x="587.1" y="227" width="37.9" height="1.9" fill="#000" fill-opacity="0.21"/>
<rect x="587.1" y="227.4" width="18.6" height="1.0" fill="#000" fill-opacity="0.2"/>
<rect x="609.8" y="227.4" width="15.2" height="1.0" fill="#000" fill-opacity="0.2"/>
<rect x="586.85" y="226.85" width="0.5" height="2.2" fill="#666"/>
<rect x="624.75" y="226.85" width="0.5" height="2.2" fill="#888"/>
<rect x="609.8" y="229.05" width="12.9" height="2.2" fill="#1671bd"/>
<rect x="605.7" y="229.2" width="35" height="1.9" fill="#000" fill-opacity="0.21"/>
<rect x="605.7" y="229.6" width="4.1" height="1.0" fill="#000" fill-opacity="0.2"/>
<rect x="622.7" y="229.6" width="18" height="1.0" fill="#000" fill-opacity="0.2"/>
<rect x="605.45" y="229.05" width="0.5" height="2.2" fill="#666"/>
<rect x="640.45" y="229.05" width="0.5" height="2.2" fill="#888"/>
<rect x="609.8" y="233.5" width="9.9" height="2.2" fill="#ff0000"/>
<rect x="603.4" y="233.65" width="32.4" height="1.9" fill="#000" fill-opacity="0.21"/>
<rect x="603.4" y="234.05" width="6.4" height="1.0" fill="#000" fill-opacity="0.2"/>
<rect x="619.7" y="234.05" width="16.1" height="1.0" fill="#000" fill-opacity="0.2"/>
<rect x="603.15" y="233.5" width="0.5" height="2.2" fill="#666"/>
<rect x="635.55" y="233.5" width="0.5" height="2.2" fill="#888"/>
<rect x="609.8" y="235.7" width="26" height="2.2" fill="#1671bd"/>
<rect x="615" y="235.85" width="41.9" height="1.9" fill="#000" fill-opacity="0.21"/>
<rect x="615" y="236.25" width="0" height="1.0" fill="#000" fill-opacity="0.2"/>
<rect x="635.8" y="236.25" width="21.1" height="1.0" fill="#000" fill-opacity="0.2"/>
<rect x="614.75" y="235.7" width="0.5" height="2.2" fill="#666"/>
<rect x="656.65" y="235.7" width="0.5" height="2.2" fill="#888"/>
<rect x="606.9" y="240.15" width="2.9" height="2.2" fill="#ff0000"/>
<rect x="587.1" y="240.3" width="40" height="1.9" fill="#000" fill-opacity="0.21"/>
<rect x="587.1" y="240.7" width="19.8" height="1.0" fill="#000" fill-opacity="0.2"/>
<rect x="609.8" y="240.7" width="17.3" height="1.0" fill="#000" fill-opacity="0.2"/>
<rect x="586.85" y="240.15" width="0.5" height="2.2" fill="#666"/>
<rect x="626.85" y="240.15" width="0.5" height="2.2" fill="#888"/>
<rect x="609.8" y="242.35" width="12" height="2.2" fill="#1671bd"/>
<rect x="604.3" y="242.5" width="34.2" height="1.9" fill="#000" fill-opacity="0.21"/>
<rect x="604.3" y="242.9" width="5.5" height="1.0" fill="#000" fill-opacity="0.2"/>
<rect x="621.8" y="242.9" width="16.7" height="1.0" fill="#000" fill-opacity="0.2"/>
<rect x="604.05" y="242.35" width="0.5" height="2.2" fill="#666"/>
<rect x="638.25" y="242.35" width="0.5" height="2.2" fill="#888"/>
<text x="549.2" y="253.9" font-size="5.6" text-anchor="middle" fill="#222">-0.3</text>
<text x="569.4" y="253.9" font-size="5.6" text-anchor="middle" fill="#222">-0.2</text>
<text x="589.6" y="253.9" font-size="5.6" text-anchor="middle" fill="#222">-0.1</text>
<text x="609.8" y="253.9" font-size="5.6" text-anchor="middle" fill="#222">0</text>
<text x="630" y="253.9" font-size="5.6" text-anchor="middle" fill="#222">0.1</text>
<text x="650.2" y="253.9" font-size="5.6" text-anchor="middle" fill="#222">0.2</text>
<text x="670.4" y="253.9" font-size="5.6" text-anchor="middle" fill="#222">0.3</text>
<text y="263.3" font-size="7.75" fill="#111"><tspan x="559.15">Effect Size</tspan><tspan x="599.15" font-size="9.2">±</tspan><tspan x="608.35">Standard Error</tspan></text>
<text x="542.8" y="15.2" font-size="17" fill="#000">D. ASD</text>
<g opacity="0.999">
<text x="96.4" y="24.65" font-size="5.55" text-anchor="end" fill="#000" stroke="#000" stroke-width="0.06">fusiform gyrus</text>
<text x="96.4" y="31.3" font-size="5.55" text-anchor="end" fill="#000" stroke="#000" stroke-width="0.06">pars opercularis of inferior frontal gyrus</text>
<text x="96.4" y="37.95" font-size="5.55" text-anchor="end" fill="#000" stroke="#000" stroke-width="0.06">superior temporal gyrus</text>
<text x="96.4" y="44.6" font-size="5.55" text-anchor="end" fill="#000" stroke="#000" stroke-width="0.06">insula</text>
<text x="96.4" y="51.25" font-size="5.55" text-anchor="end" fill="#000" stroke="#000" stroke-width="0.06">lingual gyrus</text>
<text x="96.4" y="57.9" font-size="5.55" text-anchor="end" fill="#000" stroke="#000" stroke-width="0.06">pars triangularis of inferior frontal gyrus</text>
<text x="96.4" y="64.55" font-size="5.55" text-anchor="end" fill="#000" stroke="#000" stroke-width="0.06">lateral orbitofrontal cortex</text>
<text x="96.4" y="71.2" font-size="5.55" text-anchor="end" fill="#000" stroke="#000" stroke-width="0.06">rostral middle frontal gyrus</text>
<text x="96.4" y="77.85" font-size="5.55" text-anchor="end" fill="#000" stroke="#000" stroke-width="0.06">middle temporal gyrus</text>
<text x="96.4" y="84.5" font-size="5.55" text-anchor="end" fill="#000" stroke="#000" stroke-width="0.06">superior frontal gyrus</text>
<text x="96.4" y="91.15" font-size="5.55" text-anchor="end" fill="#000" stroke="#000" stroke-width="0.06">pars orbitalis of inferior frontal gyrus</text>
<text x="96.4" y="97.8" font-size="5.55" text-anchor="end" fill="#000" stroke="#000" stroke-width="0.06">medial orbitofrontal cortex</text>
<text x="96.4" y="104.45" font-size="5.55" text-anchor="end" fill="#000" stroke="#000" stroke-width="0.06">inferior temporal gyrus</text>
<text x="96.4" y="111.1" font-size="5.55" text-anchor="end" fill="#000" stroke="#000" stroke-width="0.06">isthmus cingulate cortex</text>
<text x="96.4" y="117.75" font-size="5.55" text-anchor="end" fill="#000" stroke="#000" stroke-width="0.06">banks of superior temporal sulcus</text>
<text x="96.4" y="124.4" font-size="5.55" text-anchor="end" fill="#000" stroke="#000" stroke-width="0.06">supramarginal gyrus</text>
<text x="96.4" y="131.05" font-size="5.55" text-anchor="end" fill="#000" stroke="#000" stroke-width="0.06">caudal middle frontal gyrus</text>
<text x="96.4" y="137.7" font-size="5.55" text-anchor="end" fill="#000" stroke="#000" stroke-width="0.06">frontal pole</text>
<text x="96.4" y="144.35" font-size="5.55" text-anchor="end" fill="#000" stroke="#000" stroke-width="0.06">posterior cingulate cortex</text>
<text x="96.4" y="151" font-size="5.55" text-anchor="end" fill="#000" stroke="#000" stroke-width="0.06">lateral occipital cortex</text>
<text x="96.4" y="157.65" font-size="5.55" text-anchor="end" fill="#000" stroke="#000" stroke-width="0.06">precentral gyrus</text>
<text x="96.4" y="164.3" font-size="5.55" text-anchor="end" fill="#000" stroke="#000" stroke-width="0.06">parahippocampal gyrus</text>
<text x="96.4" y="170.95" font-size="5.55" text-anchor="end" fill="#000" stroke="#000" stroke-width="0.06">inferior parietal cortex</text>
<text x="96.4" y="177.6" font-size="5.55" text-anchor="end" fill="#000" stroke="#000" stroke-width="0.06">transverse temporal gyrus</text>
<text x="96.4" y="184.25" font-size="5.55" text-anchor="end" fill="#000" stroke="#000" stroke-width="0.06">postcentral gyrus</text>
<text x="96.4" y="190.9" font-size="5.55" text-anchor="end" fill="#000" stroke="#000" stroke-width="0.06">precuneus</text>
<text x="96.4" y="197.55" font-size="5.55" text-anchor="end" fill="#000" stroke="#000" stroke-width="0.06">caudal anterior cingulate cortex</text>
<text x="96.4" y="204.2" font-size="5.55" text-anchor="end" fill="#000" stroke="#000" stroke-width="0.06">cuneus</text>
<text x="96.4" y="210.85" font-size="5.55" text-anchor="end" fill="#000" stroke="#000" stroke-width="0.06">rostral anterior cingulate cortex</text>
<text x="96.4" y="217.5" font-size="5.55" text-anchor="end" fill="#000" stroke="#000" stroke-width="0.06">pericalcarine cortex</text>
<text x="96.4" y="224.15" font-size="5.55" text-anchor="end" fill="#000" stroke="#000" stroke-width="0.06">paracentral lobule</text>
<text x="96.4" y="230.8" font-size="5.55" text-anchor="end" fill="#000" stroke="#000" stroke-width="0.06">superior parietal cortex</text>
<text x="96.4" y="237.45" font-size="5.55" text-anchor="end" fill="#000" stroke="#000" stroke-width="0.06">temporal pole</text>
<text x="96.4" y="244.1" font-size="5.55" text-anchor="end" fill="#000" stroke="#000" stroke-width="0.06">entorhinal cortex</text>
</g>
<rect x="95.8" y="252.2" width="1.4" height="0.6" fill="#bbb"/>
<rect x="104.4" y="232.9" width="21.2" height="12.4" rx="1" fill="#fff" stroke="#9a9a9a" stroke-width="0.8"/>
<rect x="106.6" y="234.7" width="3.4" height="3.1" fill="#ff0000"/>
<rect x="106.6" y="240.3" width="3.4" height="3.2" fill="#1671bd"/>
<text x="111" y="238.1" font-size="5.2" fill="#111">Left</text>
<text x="111" y="243.5" font-size="5.2" fill="#111">Right</text>
<g transform="translate(92.031,272.032) scale(0.12477)">
<clipPath id="c1"><path d="M28.0,215.0C29.3,207.2 29.7,197.5 35.0,185.0C40.3,172.5 49.2,155.8 60.0,140.0C70.8,124.2 88.3,103.8 100.0,90.0C111.7,76.2 119.2,65.8 130.0,57.0C140.8,48.2 151.7,41.3 165.0,37.0C178.3,32.7 194.8,31.7 210.0,31.0C225.2,30.3 241.7,31.5 256.0,33.0C270.3,34.5 281.0,35.5 296.0,40.0C311.0,44.5 328.5,50.8 346.0,60.0C363.5,69.2 384.3,83.3 401.0,95.0C417.7,106.7 433.5,116.7 446.0,130.0C458.5,143.3 469.3,160.8 476.0,175.0C482.7,189.2 484.7,204.2 486.0,215.0C487.3,225.8 487.3,231.3 484.0,240.0C480.7,248.7 474.8,259.5 466.0,267.0C457.2,274.5 445.2,281.2 431.0,285.0C416.8,288.8 394.3,287.5 381.0,290.0C367.7,292.5 358.0,294.7 351.0,300.0C344.0,305.3 344.0,314.2 339.0,322.0C334.0,329.8 329.8,341.5 321.0,347.0C312.2,352.5 296.8,355.0 286.0,355.0C275.2,355.0 274.5,354.2 256.0,347.0C237.5,339.8 201.0,322.0 175.0,312.0C149.0,302.0 120.8,295.3 100.0,287.0C79.2,278.7 62.2,271.2 50.0,262.0C37.8,252.8 30.7,239.8 27.0,232.0C23.3,224.2 26.7,222.8 28.0,215.0Z"/></clipPath>
<g clip-path="url(#c1)">
<path d="M28.0,215.0C29.3,207.2 29.7,197.5 35.0,185.0C40.3,172.5 49.2,155.8 60.0,140.0C70.8,124.2 88.3,103.8 100.0,90.0C111.7,76.2 119.2,65.8 130.0,57.0C140.8,48.2 151.7,41.3 165.0,37.0C178.3,32.7 194.8,31.7 210.0,31.0C225.2,30.3 241.7,31.5 256.0,33.0C270.3,34.5 281.0,35.5 296.0,40.0C311.0,44.5 328.5,50.8 346.0,60.0C363.5,69.2 384.3,83.3 401.0,95.0C417.7,106.7 433.5,116.7 446.0,130.0C458.5,143.3 469.3,160.8 476.0,175.0C482.7,189.2 484.7,204.2 486.0,215.0C487.3,225.8 487.3,231.3 484.0,240.0C480.7,248.7 474.8,259.5 466.0,267.0C457.2,274.5 445.2,281.2 431.0,285.0C416.8,288.8 394.3,287.5 381.0,290.0C367.7,292.5 358.0,294.7 351.0,300.0C344.0,305.3 344.0,314.2 339.0,322.0C334.0,329.8 329.8,341.5 321.0,347.0C312.2,352.5 296.8,355.0 286.0,355.0C275.2,355.0 274.5,354.2 256.0,347.0C237.5,339.8 201.0,322.0 175.0,312.0C149.0,302.0 120.8,295.3 100.0,287.0C79.2,278.7 62.2,271.2 50.0,262.0C37.8,252.8 30.7,239.8 27.0,232.0C23.3,224.2 26.7,222.8 28.0,215.0Z" fill="#ffff3f"/>
<path d="M0.0,190.0C3.1,200.7 20.0,190.0 27.0,192.0C34.0,194.0 51.8,202.9 60.0,207.0C68.2,211.1 90.6,226.1 97.0,227.0C103.4,227.9 108.8,216.4 115.0,215.0C121.2,213.6 143.9,217.7 150.0,215.0C156.1,212.3 165.8,199.6 167.0,192.0C168.2,184.4 160.8,159.0 160.0,150.0C159.2,141.0 158.8,122.0 160.0,115.0C161.2,108.0 172.3,92.9 170.0,90.0C167.7,87.1 148.2,90.0 140.0,90.0C131.8,90.0 109.3,93.5 100.0,90.0C90.7,86.5 71.7,58.8 60.0,60.0C48.3,61.2 7.0,84.8 0.0,100.0C-7.0,115.2 -3.1,179.3 0.0,190.0Z" fill="#ffff82" stroke="#5a5a5a" stroke-opacity="0.55" stroke-width="0.4" vector-effect="non-scaling-stroke" stroke-linejoin="round"/>
<path d="M60.0,60.0C57.7,70.5 90.7,86.5 100.0,90.0C109.3,93.5 131.8,90.0 140.0,90.0C148.2,90.0 163.9,91.8 170.0,90.0C176.1,88.2 189.7,85.5 192.0,75.0C194.3,64.5 198.4,8.8 190.0,0.0C181.6,-8.8 135.2,-7.0 120.0,0.0C104.8,7.0 62.3,49.5 60.0,60.0Z" fill="#ffffdd" stroke="#5a5a5a" stroke-opacity="0.55" stroke-width="0.4" vector-effect="non-scaling-stroke" stroke-linejoin="round"/>
<path d="M170.0,90.0C173.7,85.3 186.8,76.2 192.0,75.0C197.2,73.8 208.8,77.1 215.0,80.0C221.2,82.9 239.8,93.0 245.0,100.0C250.2,107.0 257.6,129.5 260.0,140.0C262.4,150.5 264.7,182.8 266.0,190.0C267.3,197.2 272.2,199.4 271.0,202.0C269.8,204.6 261.9,212.0 256.0,212.0C250.1,212.0 227.1,204.3 220.0,202.0C212.9,199.7 201.2,193.2 195.0,192.0C188.8,190.8 171.1,196.9 167.0,192.0C162.9,187.1 160.8,159.0 160.0,150.0C159.2,141.0 158.8,122.0 160.0,115.0C161.2,108.0 166.3,94.7 170.0,90.0Z" fill="#ffff36" stroke="#5a5a5a" stroke-opacity="0.55" stroke-width="0.4" vector-effect="non-scaling-stroke" stroke-linejoin="round"/>
<path d="M190.0,0.0C192.7,-8.8 212.1,-3.6 215.0,0.0C217.9,3.6 210.2,23.4 215.0,31.0C219.8,38.6 248.9,55.2 256.0,65.0C263.1,74.8 271.9,100.2 276.0,115.0C280.1,129.8 291.6,181.8 291.0,192.0C290.4,202.2 273.9,202.2 271.0,202.0C268.1,201.8 267.3,197.2 266.0,190.0C264.7,182.8 262.4,150.5 260.0,140.0C257.6,129.5 250.2,107.0 245.0,100.0C239.8,93.0 221.2,82.9 215.0,80.0C208.8,77.1 194.9,84.3 192.0,75.0C189.1,65.7 187.3,8.8 190.0,0.0Z" fill="#ffff6a" stroke="#5a5a5a" stroke-opacity="0.55" stroke-width="0.4" vector-effect="non-scaling-stroke" stroke-linejoin="round"/>
<path d="M215.0,0.0C225.0,-3.6 291.0,-4.9 301.0,0.0C311.0,4.9 297.5,32.7 301.0,42.0C304.5,51.3 324.6,69.2 331.0,80.0C337.4,90.8 352.5,126.8 356.0,135.0C359.5,143.2 362.8,143.3 361.0,150.0C359.2,156.7 349.2,187.1 341.0,192.0C332.8,196.9 298.6,201.0 291.0,192.0C283.4,183.0 280.1,129.8 276.0,115.0C271.9,100.2 263.1,74.8 256.0,65.0C248.9,55.2 219.8,38.6 215.0,31.0C210.2,23.4 205.0,3.6 215.0,0.0Z" fill="#ffff47" stroke="#5a5a5a" stroke-opacity="0.55" stroke-width="0.4" vector-effect="non-scaling-stroke" stroke-linejoin="round"/>
<path d="M301.0,0.0C314.9,-4.9 406.1,-9.3 420.0,0.0C433.9,9.3 422.2,68.9 420.0,80.0C417.8,91.1 404.4,88.6 401.0,95.0C397.6,101.4 392.4,128.0 391.0,135.0C389.6,142.0 392.5,153.2 389.0,155.0C385.5,156.8 364.9,152.3 361.0,150.0C357.1,147.7 359.5,143.2 356.0,135.0C352.5,126.8 337.4,90.8 331.0,80.0C324.6,69.2 304.5,51.3 301.0,42.0C297.5,32.7 287.1,4.9 301.0,0.0Z" fill="#ffff07" stroke="#5a5a5a" stroke-opacity="0.55" stroke-width="0.4" vector-effect="non-scaling-stroke" stroke-linejoin="round"/>
<path d="M420.0,0.0C441.0,-9.3 579.0,-30.3 600.0,0.0C621.0,30.3 613.5,232.0 600.0,260.0C586.5,288.0 500.2,242.7 484.0,240.0C467.8,237.3 465.4,240.8 461.0,237.0C456.6,233.2 453.0,211.1 446.0,207.0C439.0,202.9 407.6,208.1 401.0,202.0C394.4,195.9 390.2,162.8 389.0,155.0C387.8,147.2 389.6,142.0 391.0,135.0C392.4,128.0 397.6,101.4 401.0,95.0C404.4,88.6 417.8,91.1 420.0,80.0C422.2,68.9 399.0,9.3 420.0,0.0Z" fill="#ffdd00" stroke="#5a5a5a" stroke-opacity="0.55" stroke-width="0.4" vector-effect="non-scaling-stroke" stroke-linejoin="round"/>
<path d="M290.0,0.0C316.8,-4.7 493.2,-14.0 520.0,0.0C546.8,14.0 527.6,103.7 520.0,120.0C512.4,136.3 464.3,137.4 455.0,140.0C445.7,142.6 446.3,146.0 440.0,142.0C433.7,138.0 412.0,114.2 401.0,106.0C390.0,97.8 358.2,78.3 346.0,72.0C333.8,65.7 302.5,55.7 296.0,52.0C289.5,48.3 290.7,46.1 290.0,40.0C289.3,33.9 263.2,4.7 290.0,0.0Z" fill="#ffde00" stroke="#5a5a5a" stroke-opacity="0.55" stroke-width="0.4" vector-effect="non-scaling-stroke" stroke-linejoin="round"/>
<path d="M361.0,150.0C366.6,145.7 384.3,148.9 389.0,155.0C393.7,161.1 402.5,193.6 401.0,202.0C399.5,210.4 382.4,227.6 376.0,227.0C369.6,226.4 350.1,201.1 346.0,197.0C341.9,192.9 339.2,197.5 341.0,192.0C342.8,186.5 355.4,154.3 361.0,150.0Z" fill="#ffa500" stroke="#5a5a5a" stroke-opacity="0.55" stroke-width="0.4" vector-effect="non-scaling-stroke" stroke-linejoin="round"/>
<path d="M376.0,227.0C377.8,221.8 392.8,204.3 401.0,202.0C409.2,199.7 439.0,202.9 446.0,207.0C453.0,211.1 463.9,231.2 461.0,237.0C458.1,242.8 429.8,255.8 421.0,257.0C412.2,258.2 391.2,250.5 386.0,247.0C380.8,243.5 374.2,232.2 376.0,227.0Z" fill="#ffc700" stroke="#5a5a5a" stroke-opacity="0.55" stroke-width="0.4" vector-effect="non-scaling-stroke" stroke-linejoin="round"/>
<path d="M411.0,257.0C409.8,254.7 415.2,259.3 421.0,257.0C426.8,254.7 453.6,239.0 461.0,237.0C468.4,235.0 467.8,238.5 484.0,240.0C500.2,241.5 586.5,243.0 600.0,250.0C613.5,257.0 615.6,298.0 600.0,300.0C584.4,302.0 485.7,269.7 466.0,267.0C446.3,264.3 437.4,278.2 431.0,277.0C424.6,275.8 412.2,259.3 411.0,257.0Z" fill="#ffd600" stroke="#5a5a5a" stroke-opacity="0.55" stroke-width="0.4" vector-effect="non-scaling-stroke" stroke-linejoin="round"/>
<path d="M371.0,272.0C371.6,254.2 381.3,248.8 386.0,247.0C390.7,245.2 405.8,253.5 411.0,257.0C416.2,260.5 424.6,275.8 431.0,277.0C437.4,278.2 446.3,264.3 466.0,267.0C485.7,269.7 584.4,284.5 600.0,300.0C615.6,315.5 625.5,388.3 600.0,400.0C574.5,411.7 407.7,414.9 381.0,400.0C354.3,385.1 370.4,289.9 371.0,272.0Z" fill="#ffb600" stroke="#5a5a5a" stroke-opacity="0.55" stroke-width="0.4" vector-effect="non-scaling-stroke" stroke-linejoin="round"/>
<path d="M97.0,227.0C99.3,223.3 108.2,216.4 115.0,215.0C121.8,213.6 149.8,212.7 155.0,215.0C160.2,217.3 158.2,231.3 160.0,235.0C161.8,238.7 165.3,245.0 170.0,247.0C174.7,249.0 190.0,248.0 200.0,252.0C210.0,256.0 244.8,274.6 256.0,281.0C267.2,287.4 287.8,301.1 296.0,307.0C304.2,312.9 320.9,321.1 326.0,332.0C331.1,342.9 366.9,392.1 340.0,400.0C313.1,407.9 123.6,417.9 95.0,400.0C66.4,382.1 94.8,267.2 95.0,247.0C95.2,226.8 94.7,230.7 97.0,227.0Z" fill="#ffc100" stroke="#5a5a5a" stroke-opacity="0.55" stroke-width="0.4" vector-effect="non-scaling-stroke" stroke-linejoin="round"/>
<path d="M95.0,247.0C101.4,246.7 137.8,266.8 150.0,272.0C162.2,277.2 187.6,286.8 200.0,292.0C212.4,297.2 244.3,311.4 256.0,317.0C267.7,322.6 290.2,330.3 300.0,340.0C309.8,349.7 363.3,393.0 340.0,400.0C316.7,407.0 128.0,413.2 100.0,400.0C72.0,386.8 100.6,301.6 100.0,287.0C99.4,272.4 95.6,279.7 95.0,275.0C94.4,270.3 88.6,247.3 95.0,247.0Z" fill="#ffed00" stroke="#5a5a5a" stroke-opacity="0.55" stroke-width="0.4" vector-effect="non-scaling-stroke" stroke-linejoin="round"/>
<path d="M256.0,222.0C254.8,216.8 260.5,204.9 271.0,202.0C281.5,199.1 333.8,194.1 346.0,197.0C358.2,199.9 371.3,221.2 376.0,227.0C380.7,232.8 386.6,241.8 386.0,247.0C385.4,252.2 373.9,266.8 371.0,272.0C368.1,277.2 364.1,288.7 361.0,292.0C357.9,295.3 348.7,302.3 344.0,300.0C339.3,297.7 328.4,278.2 321.0,272.0C313.6,265.8 288.6,252.8 281.0,247.0C273.4,241.2 257.2,227.2 256.0,222.0Z" fill="#ffc400" stroke="#5a5a5a" stroke-opacity="0.55" stroke-width="0.4" vector-effect="non-scaling-stroke" stroke-linejoin="round"/>
<path d="M240.0,200.0C240.0,193.9 261.2,194.5 266.0,200.0C270.8,205.5 281.0,240.9 281.0,247.0C281.0,253.1 270.8,257.5 266.0,252.0C261.2,246.5 240.0,206.1 240.0,200.0Z" fill="#ffff51" stroke="#5a5a5a" stroke-opacity="0.55" stroke-width="0.4" vector-effect="non-scaling-stroke" stroke-linejoin="round"/>
<path d="M195.0,192.0C197.9,189.7 212.9,198.5 220.0,202.0C227.1,205.5 248.9,216.8 256.0,222.0C263.1,227.2 273.4,241.2 281.0,247.0C288.6,252.8 313.6,265.8 321.0,272.0C328.4,278.2 341.9,294.2 344.0,300.0C346.1,305.8 341.1,318.3 339.0,322.0C336.9,325.7 331.0,333.8 326.0,332.0C321.0,330.2 304.2,312.9 296.0,307.0C287.8,301.1 267.2,287.4 256.0,281.0C244.8,274.6 207.1,258.9 200.0,252.0C192.9,245.1 195.6,229.0 195.0,222.0C194.4,215.0 192.1,194.3 195.0,192.0Z" fill="#ff9700" stroke="#5a5a5a" stroke-opacity="0.55" stroke-width="0.4" vector-effect="non-scaling-stroke" stroke-linejoin="round"/>
<path d="M155.0,215.0C155.8,210.0 162.3,194.7 167.0,192.0C171.7,189.3 191.7,188.5 195.0,192.0C198.3,195.5 194.4,215.0 195.0,222.0C195.6,229.0 202.9,249.1 200.0,252.0C197.1,254.9 174.7,249.0 170.0,247.0C165.3,245.0 161.8,238.7 160.0,235.0C158.2,231.3 154.2,220.0 155.0,215.0Z" fill="#ffff10" stroke="#5a5a5a" stroke-opacity="0.55" stroke-width="0.4" vector-effect="non-scaling-stroke" stroke-linejoin="round"/>
</g>
<path d="M28.0,215.0C29.3,207.2 29.7,197.5 35.0,185.0C40.3,172.5 49.2,155.8 60.0,140.0C70.8,124.2 88.3,103.8 100.0,90.0C111.7,76.2 119.2,65.8 130.0,57.0C140.8,48.2 151.7,41.3 165.0,37.0C178.3,32.7 194.8,31.7 210.0,31.0C225.2,30.3 241.7,31.5 256.0,33.0C270.3,34.5 281.0,35.5 296.0,40.0C311.0,44.5 328.5,50.8 346.0,60.0C363.5,69.2 384.3,83.3 401.0,95.0C417.7,106.7 433.5,116.7 446.0,130.0C458.5,143.3 469.3,160.8 476.0,175.0C482.7,189.2 484.7,204.2 486.0,215.0C487.3,225.8 487.3,231.3 484.0,240.0C480.7,248.7 474.8,259.5 466.0,267.0C457.2,274.5 445.2,281.2 431.0,285.0C416.8,288.8 394.3,287.5 381.0,290.0C367.7,292.5 358.0,294.7 351.0,300.0C344.0,305.3 344.0,314.2 339.0,322.0C334.0,329.8 329.8,341.5 321.0,347.0C312.2,352.5 296.8,355.0 286.0,355.0C275.2,355.0 274.5,354.2 256.0,347.0C237.5,339.8 201.0,322.0 175.0,312.0C149.0,302.0 120.8,295.3 100.0,287.0C79.2,278.7 62.2,271.2 50.0,262.0C37.8,252.8 30.7,239.8 27.0,232.0C23.3,224.2 26.7,222.8 28.0,215.0Z" fill="none" stroke="#8a8a8a" stroke-opacity="0.7" stroke-width="0.45" vector-effect="non-scaling-stroke"/>
</g>
<g transform="translate(160.986,271.961) scale(0.13256)">
<clipPath id="c2"><path d="M25.0,225.0C25.0,209.2 27.5,188.3 35.0,170.0C42.5,151.7 54.2,130.8 70.0,115.0C85.8,99.2 105.0,86.7 130.0,75.0C155.0,63.3 191.7,51.7 220.0,45.0C248.3,38.3 276.7,35.0 300.0,35.0C323.3,35.0 341.7,36.7 360.0,45.0C378.3,53.3 396.7,70.8 410.0,85.0C423.3,99.2 430.8,114.2 440.0,130.0C449.2,145.8 459.2,165.0 465.0,180.0C470.8,195.0 475.0,209.2 475.0,220.0C475.0,230.8 474.2,237.5 465.0,245.0C455.8,252.5 439.2,258.3 420.0,265.0C400.8,271.7 371.7,278.3 350.0,285.0C328.3,291.7 308.3,298.3 290.0,305.0C271.7,311.7 255.0,320.0 240.0,325.0C225.0,330.0 210.0,337.5 200.0,335.0C190.0,332.5 190.0,316.7 180.0,310.0C170.0,303.3 158.3,298.3 140.0,295.0C121.7,291.7 87.5,295.0 70.0,290.0C52.5,285.0 42.5,275.8 35.0,265.0C27.5,254.2 25.0,240.8 25.0,225.0Z"/></clipPath>
<g clip-path="url(#c2)">
<path d="M25.0,225.0C25.0,209.2 27.5,188.3 35.0,170.0C42.5,151.7 54.2,130.8 70.0,115.0C85.8,99.2 105.0,86.7 130.0,75.0C155.0,63.3 191.7,51.7 220.0,45.0C248.3,38.3 276.7,35.0 300.0,35.0C323.3,35.0 341.7,36.7 360.0,45.0C378.3,53.3 396.7,70.8 410.0,85.0C423.3,99.2 430.8,114.2 440.0,130.0C449.2,145.8 459.2,165.0 465.0,180.0C470.8,195.0 475.0,209.2 475.0,220.0C475.0,230.8 474.2,237.5 465.0,245.0C455.8,252.5 439.2,258.3 420.0,265.0C400.8,271.7 371.7,278.3 350.0,285.0C328.3,291.7 308.3,298.3 290.0,305.0C271.7,311.7 255.0,320.0 240.0,325.0C225.0,330.0 210.0,337.5 200.0,335.0C190.0,332.5 190.0,316.7 180.0,310.0C170.0,303.3 158.3,298.3 140.0,295.0C121.7,291.7 87.5,295.0 70.0,290.0C52.5,285.0 42.5,275.8 35.0,265.0C27.5,254.2 25.0,240.8 25.0,225.0Z" fill="#c0c0c0"/>
<path d="M0.0,0.0C25.7,-28.0 193.8,-11.7 220.0,0.0C246.2,11.7 230.2,86.0 225.0,100.0C219.8,114.0 187.2,114.8 175.0,120.0C162.8,125.2 129.9,138.0 120.0,145.0C110.1,152.0 95.8,173.6 90.0,180.0C84.2,186.4 73.5,193.0 70.0,200.0C66.5,207.0 68.2,235.3 60.0,240.0C51.8,244.7 7.0,268.0 0.0,240.0C-7.0,212.0 -25.7,28.0 0.0,0.0Z" fill="#ffde00" stroke="#5a5a5a" stroke-opacity="0.55" stroke-width="0.4" vector-effect="non-scaling-stroke" stroke-linejoin="round"/>
<path d="M220.0,0.0C230.2,-12.2 300.6,-11.7 312.0,0.0C323.4,11.7 328.1,87.8 318.0,100.0C307.9,112.2 236.4,116.7 225.0,105.0C213.6,93.3 209.8,12.2 220.0,0.0Z" fill="#ffffca" stroke="#5a5a5a" stroke-opacity="0.55" stroke-width="0.4" vector-effect="non-scaling-stroke" stroke-linejoin="round"/>
<path d="M312.0,0.0C335.6,-11.7 495.7,-11.7 520.0,0.0C544.3,11.7 529.3,84.8 520.0,100.0C510.7,115.2 451.7,122.4 440.0,130.0C428.3,137.6 425.2,156.8 420.0,165.0C414.8,173.2 402.6,194.2 395.0,200.0C387.4,205.8 360.8,218.5 355.0,215.0C349.2,211.5 348.5,178.8 345.0,170.0C341.5,161.2 328.1,148.2 325.0,140.0C321.9,131.8 319.5,116.3 318.0,100.0C316.5,83.7 288.4,11.7 312.0,0.0Z" fill="#ffff90" stroke="#5a5a5a" stroke-opacity="0.55" stroke-width="0.4" vector-effect="non-scaling-stroke" stroke-linejoin="round"/>
<path d="M440.0,130.0C451.7,122.4 510.7,90.1 520.0,100.0C529.3,109.9 525.8,202.2 520.0,215.0C514.2,227.8 479.3,211.8 470.0,210.0C460.7,208.2 448.2,200.6 440.0,200.0C431.8,199.4 402.3,209.1 400.0,205.0C397.7,200.9 415.3,173.8 420.0,165.0C424.7,156.2 428.3,137.6 440.0,130.0Z" fill="#ffffa9" stroke="#5a5a5a" stroke-opacity="0.55" stroke-width="0.4" vector-effect="non-scaling-stroke" stroke-linejoin="round"/>
<path d="M395.0,205.0C400.8,202.1 431.2,199.4 440.0,200.0C448.8,200.6 460.7,208.2 470.0,210.0C479.3,211.8 514.2,211.5 520.0,215.0C525.8,218.5 527.0,237.1 520.0,240.0C513.0,242.9 471.7,240.6 460.0,240.0C448.3,239.4 428.2,236.8 420.0,235.0C411.8,233.2 392.9,228.5 390.0,225.0C387.1,221.5 389.2,207.9 395.0,205.0Z" fill="#ffffdd" stroke="#5a5a5a" stroke-opacity="0.55" stroke-width="0.4" vector-effect="non-scaling-stroke" stroke-linejoin="round"/>
<path d="M340.0,245.0C348.2,238.6 380.7,226.2 390.0,225.0C399.3,223.8 411.8,233.2 420.0,235.0C428.2,236.8 448.3,239.4 460.0,240.0C471.7,240.6 513.0,233.0 520.0,240.0C527.0,247.0 531.7,297.1 520.0,300.0C508.3,302.9 439.8,266.8 420.0,265.0C400.2,263.2 361.7,283.2 350.0,285.0C338.3,286.8 321.2,284.7 320.0,280.0C318.8,275.3 331.8,251.4 340.0,245.0Z" fill="#ffa500" stroke="#5a5a5a" stroke-opacity="0.55" stroke-width="0.4" vector-effect="non-scaling-stroke" stroke-linejoin="round"/>
<path d="M175.0,120.0C179.7,113.9 208.3,109.4 225.0,108.0C241.7,106.6 306.3,104.3 318.0,108.0C329.7,111.7 327.1,135.1 325.0,140.0C322.9,144.9 311.1,148.8 300.0,150.0C288.9,151.2 243.4,148.8 230.0,150.0C216.6,151.2 191.4,163.5 185.0,160.0C178.6,156.5 170.3,126.1 175.0,120.0Z" fill="#ffff0c" stroke="#5a5a5a" stroke-opacity="0.55" stroke-width="0.4" vector-effect="non-scaling-stroke" stroke-linejoin="round"/>
<path d="M95.0,185.0C96.2,179.8 110.7,156.7 120.0,150.0C129.3,143.3 167.4,126.8 175.0,128.0C182.6,129.2 190.2,154.5 185.0,160.0C179.8,165.5 138.8,170.9 130.0,175.0C121.2,179.1 114.1,193.8 110.0,195.0C105.9,196.2 93.8,190.2 95.0,185.0Z" fill="#ffff9f" stroke="#5a5a5a" stroke-opacity="0.55" stroke-width="0.4" vector-effect="non-scaling-stroke" stroke-linejoin="round"/>
<path d="M60.0,240.0C58.2,233.6 65.9,206.4 70.0,200.0C74.1,193.6 90.3,185.6 95.0,185.0C99.7,184.4 109.4,189.8 110.0,195.0C110.6,200.2 102.9,223.0 100.0,230.0C97.1,237.0 89.7,253.8 85.0,255.0C80.3,256.2 61.8,246.4 60.0,240.0Z" fill="#ffffdf" stroke="#5a5a5a" stroke-opacity="0.55" stroke-width="0.4" vector-effect="non-scaling-stroke" stroke-linejoin="round"/>
<path d="M0.0,240.0C7.0,221.3 50.1,238.2 60.0,240.0C69.9,241.8 80.3,251.5 85.0,255.0C89.7,258.5 92.4,264.8 100.0,270.0C107.6,275.2 140.7,295.3 150.0,300.0C159.3,304.7 176.5,298.3 180.0,310.0C183.5,321.7 201.0,389.5 180.0,400.0C159.0,410.5 21.0,418.7 0.0,400.0C-21.0,381.3 -7.0,258.7 0.0,240.0Z" fill="#ffdb00" stroke="#5a5a5a" stroke-opacity="0.55" stroke-width="0.4" vector-effect="non-scaling-stroke" stroke-linejoin="round"/>
<path d="M295.0,150.0C297.9,147.1 319.2,137.7 325.0,140.0C330.8,142.3 341.5,161.2 345.0,170.0C348.5,178.8 355.0,206.2 355.0,215.0C355.0,223.8 348.5,241.5 345.0,245.0C341.5,248.5 327.9,250.2 325.0,245.0C322.1,239.8 322.9,209.3 320.0,200.0C317.1,190.7 302.9,170.8 300.0,165.0C297.1,159.2 292.1,152.9 295.0,150.0Z" fill="#fffb00" stroke="#5a5a5a" stroke-opacity="0.55" stroke-width="0.4" vector-effect="non-scaling-stroke" stroke-linejoin="round"/>
<path d="M250.0,300.0C253.5,296.5 308.9,281.4 320.0,275.0C331.1,268.6 341.5,243.8 345.0,245.0C348.5,246.2 356.4,278.0 350.0,285.0C343.6,292.0 301.7,303.2 290.0,305.0C278.3,306.8 246.5,303.5 250.0,300.0Z" fill="#ffff50" stroke="#5a5a5a" stroke-opacity="0.55" stroke-width="0.4" vector-effect="non-scaling-stroke" stroke-linejoin="round"/>
<path d="M190.0,345.0C195.8,335.4 228.3,323.5 240.0,318.0C251.7,312.5 277.2,302.4 290.0,298.0C302.8,293.6 334.8,284.2 350.0,280.0C365.2,275.8 400.2,264.9 420.0,262.0C439.8,259.1 508.3,238.9 520.0,255.0C531.7,271.1 558.5,383.1 520.0,400.0C481.5,416.9 228.5,406.4 190.0,400.0C151.5,393.6 184.2,354.6 190.0,345.0Z" fill="#ff7e00" stroke="#5a5a5a" stroke-opacity="0.55" stroke-width="0.4" vector-effect="non-scaling-stroke" stroke-linejoin="round"/>
<path d="M60.0,232.0C60.0,221.5 70.0,204.5 80.0,195.0C90.0,185.5 105.0,180.8 120.0,175.0C135.0,169.2 151.7,163.8 170.0,160.0C188.3,156.2 210.0,154.0 230.0,152.0C250.0,150.0 275.8,146.7 290.0,148.0C304.2,149.3 309.2,151.3 315.0,160.0C320.8,168.7 324.2,186.7 325.0,200.0C325.8,213.3 323.3,228.3 320.0,240.0C316.7,251.7 313.3,260.8 305.0,270.0C296.7,279.2 280.8,287.5 270.0,295.0C259.2,302.5 251.7,308.3 240.0,315.0C228.3,321.7 210.0,335.5 200.0,335.0C190.0,334.5 188.3,319.5 180.0,312.0C171.7,304.5 161.7,296.7 150.0,290.0C138.3,283.3 121.7,277.3 110.0,272.0C98.3,266.7 88.3,264.7 80.0,258.0C71.7,251.3 60.0,242.5 60.0,232.0Z" fill="#c0c0c0" stroke="#5a5a5a" stroke-opacity="0.55" stroke-width="0.4" vector-effect="non-scaling-stroke"/>
<path d="M135,238 C140,200 190,178 250,180 C300,182 325,205 325,235" fill="none" stroke="#5a5a5a" stroke-opacity="0.55" stroke-width="0.4" vector-effect="non-scaling-stroke"/>
</g>
<path d="M25.0,225.0C25.0,209.2 27.5,188.3 35.0,170.0C42.5,151.7 54.2,130.8 70.0,115.0C85.8,99.2 105.0,86.7 130.0,75.0C155.0,63.3 191.7,51.7 220.0,45.0C248.3,38.3 276.7,35.0 300.0,35.0C323.3,35.0 341.7,36.7 360.0,45.0C378.3,53.3 396.7,70.8 410.0,85.0C423.3,99.2 430.8,114.2 440.0,130.0C449.2,145.8 459.2,165.0 465.0,180.0C470.8,195.0 475.0,209.2 475.0,220.0C475.0,230.8 474.2,237.5 465.0,245.0C455.8,252.5 439.2,258.3 420.0,265.0C400.8,271.7 371.7,278.3 350.0,285.0C328.3,291.7 308.3,298.3 290.0,305.0C271.7,311.7 255.0,320.0 240.0,325.0C225.0,330.0 210.0,337.5 200.0,335.0C190.0,332.5 190.0,316.7 180.0,310.0C170.0,303.3 158.3,298.3 140.0,295.0C121.7,291.7 87.5,295.0 70.0,290.0C52.5,285.0 42.5,275.8 35.0,265.0C27.5,254.2 25.0,240.8 25.0,225.0Z" fill="none" stroke="#8a8a8a" stroke-opacity="0.7" stroke-width="0.45" vector-effect="non-scaling-stroke"/>
</g>
<g transform="translate(156.036,322.632) scale(-0.12477,0.12477)">
<clipPath id="c3"><path d="M28.0,215.0C29.3,207.2 29.7,197.5 35.0,185.0C40.3,172.5 49.2,155.8 60.0,140.0C70.8,124.2 88.3,103.8 100.0,90.0C111.7,76.2 119.2,65.8 130.0,57.0C140.8,48.2 151.7,41.3 165.0,37.0C178.3,32.7 194.8,31.7 210.0,31.0C225.2,30.3 241.7,31.5 256.0,33.0C270.3,34.5 281.0,35.5 296.0,40.0C311.0,44.5 328.5,50.8 346.0,60.0C363.5,69.2 384.3,83.3 401.0,95.0C417.7,106.7 433.5,116.7 446.0,130.0C458.5,143.3 469.3,160.8 476.0,175.0C482.7,189.2 484.7,204.2 486.0,215.0C487.3,225.8 487.3,231.3 484.0,240.0C480.7,248.7 474.8,259.5 466.0,267.0C457.2,274.5 445.2,281.2 431.0,285.0C416.8,288.8 394.3,287.5 381.0,290.0C367.7,292.5 358.0,294.7 351.0,300.0C344.0,305.3 344.0,314.2 339.0,322.0C334.0,329.8 329.8,341.5 321.0,347.0C312.2,352.5 296.8,355.0 286.0,355.0C275.2,355.0 274.5,354.2 256.0,347.0C237.5,339.8 201.0,322.0 175.0,312.0C149.0,302.0 120.8,295.3 100.0,287.0C79.2,278.7 62.2,271.2 50.0,262.0C37.8,252.8 30.7,239.8 27.0,232.0C23.3,224.2 26.7,222.8 28.0,215.0Z"/></clipPath>
<g clip-path="url(#c3)">
<path d="M28.0,215.0C29.3,207.2 29.7,197.5 35.0,185.0C40.3,172.5 49.2,155.8 60.0,140.0C70.8,124.2 88.3,103.8 100.0,90.0C111.7,76.2 119.2,65.8 130.0,57.0C140.8,48.2 151.7,41.3 165.0,37.0C178.3,32.7 194.8,31.7 210.0,31.0C225.2,30.3 241.7,31.5 256.0,33.0C270.3,34.5 281.0,35.5 296.0,40.0C311.0,44.5 328.5,50.8 346.0,60.0C363.5,69.2 384.3,83.3 401.0,95.0C417.7,106.7 433.5,116.7 446.0,130.0C458.5,143.3 469.3,160.8 476.0,175.0C482.7,189.2 484.7,204.2 486.0,215.0C487.3,225.8 487.3,231.3 484.0,240.0C480.7,248.7 474.8,259.5 466.0,267.0C457.2,274.5 445.2,281.2 431.0,285.0C416.8,288.8 394.3,287.5 381.0,290.0C367.7,292.5 358.0,294.7 351.0,300.0C344.0,305.3 344.0,314.2 339.0,322.0C334.0,329.8 329.8,341.5 321.0,347.0C312.2,352.5 296.8,355.0 286.0,355.0C275.2,355.0 274.5,354.2 256.0,347.0C237.5,339.8 201.0,322.0 175.0,312.0C149.0,302.0 120.8,295.3 100.0,287.0C79.2,278.7 62.2,271.2 50.0,262.0C37.8,252.8 30.7,239.8 27.0,232.0C23.3,224.2 26.7,222.8 28.0,215.0Z" fill="#ffff5c"/>
<path d="M0.0,190.0C3.1,200.7 20.0,190.0 27.0,192.0C34.0,194.0 51.8,202.9 60.0,207.0C68.2,211.1 90.6,226.1 97.0,227.0C103.4,227.9 108.8,216.4 115.0,215.0C121.2,213.6 143.9,217.7 150.0,215.0C156.1,212.3 165.8,199.6 167.0,192.0C168.2,184.4 160.8,159.0 160.0,150.0C159.2,141.0 158.8,122.0 160.0,115.0C161.2,108.0 172.3,92.9 170.0,90.0C167.7,87.1 148.2,90.0 140.0,90.0C131.8,90.0 109.3,93.5 100.0,90.0C90.7,86.5 71.7,58.8 60.0,60.0C48.3,61.2 7.0,84.8 0.0,100.0C-7.0,115.2 -3.1,179.3 0.0,190.0Z" fill="#ffff51" stroke="#5a5a5a" stroke-opacity="0.55" stroke-width="0.4" vector-effect="non-scaling-stroke" stroke-linejoin="round"/>
<path d="M60.0,60.0C57.7,70.5 90.7,86.5 100.0,90.0C109.3,93.5 131.8,90.0 140.0,90.0C148.2,90.0 163.9,91.8 170.0,90.0C176.1,88.2 189.7,85.5 192.0,75.0C194.3,64.5 198.4,8.8 190.0,0.0C181.6,-8.8 135.2,-7.0 120.0,0.0C104.8,7.0 62.3,49.5 60.0,60.0Z" fill="#c0c0c0" stroke="#5a5a5a" stroke-opacity="0.55" stroke-width="0.4" vector-effect="non-scaling-stroke" stroke-linejoin="round"/>
<path d="M170.0,90.0C173.7,85.3 186.8,76.2 192.0,75.0C197.2,73.8 208.8,77.1 215.0,80.0C221.2,82.9 239.8,93.0 245.0,100.0C250.2,107.0 257.6,129.5 260.0,140.0C262.4,150.5 264.7,182.8 266.0,190.0C267.3,197.2 272.2,199.4 271.0,202.0C269.8,204.6 261.9,212.0 256.0,212.0C250.1,212.0 227.1,204.3 220.0,202.0C212.9,199.7 201.2,193.2 195.0,192.0C188.8,190.8 171.1,196.9 167.0,192.0C162.9,187.1 160.8,159.0 160.0,150.0C159.2,141.0 158.8,122.0 160.0,115.0C161.2,108.0 166.3,94.7 170.0,90.0Z" fill="#fffc00" stroke="#5a5a5a" stroke-opacity="0.55" stroke-width="0.4" vector-effect="non-scaling-stroke" stroke-linejoin="round"/>
<path d="M190.0,0.0C192.7,-8.8 212.1,-3.6 215.0,0.0C217.9,3.6 210.2,23.4 215.0,31.0C219.8,38.6 248.9,55.2 256.0,65.0C263.1,74.8 271.9,100.2 276.0,115.0C280.1,129.8 291.6,181.8 291.0,192.0C290.4,202.2 273.9,202.2 271.0,202.0C268.1,201.8 267.3,197.2 266.0,190.0C264.7,182.8 262.4,150.5 260.0,140.0C257.6,129.5 250.2,107.0 245.0,100.0C239.8,93.0 221.2,82.9 215.0,80.0C208.8,77.1 194.9,84.3 192.0,75.0C189.1,65.7 187.3,8.8 190.0,0.0Z" fill="#ffff88" stroke="#5a5a5a" stroke-opacity="0.55" stroke-width="0.4" vector-effect="non-scaling-stroke" stroke-linejoin="round"/>
<path d="M215.0,0.0C225.0,-3.6 291.0,-4.9 301.0,0.0C311.0,4.9 297.5,32.7 301.0,42.0C304.5,51.3 324.6,69.2 331.0,80.0C337.4,90.8 352.5,126.8 356.0,135.0C359.5,143.2 362.8,143.3 361.0,150.0C359.2,156.7 349.2,187.1 341.0,192.0C332.8,196.9 298.6,201.0 291.0,192.0C283.4,183.0 280.1,129.8 276.0,115.0C271.9,100.2 263.1,74.8 256.0,65.0C248.9,55.2 219.8,38.6 215.0,31.0C210.2,23.4 205.0,3.6 215.0,0.0Z" fill="#ffff4b" stroke="#5a5a5a" stroke-opacity="0.55" stroke-width="0.4" vector-effect="non-scaling-stroke" stroke-linejoin="round"/>
<path d="M301.0,0.0C314.9,-4.9 406.1,-9.3 420.0,0.0C433.9,9.3 422.2,68.9 420.0,80.0C417.8,91.1 404.4,88.6 401.0,95.0C397.6,101.4 392.4,128.0 391.0,135.0C389.6,142.0 392.5,153.2 389.0,155.0C385.5,156.8 364.9,152.3 361.0,150.0C357.1,147.7 359.5,143.2 356.0,135.0C352.5,126.8 337.4,90.8 331.0,80.0C324.6,69.2 304.5,51.3 301.0,42.0C297.5,32.7 287.1,4.9 301.0,0.0Z" fill="#ffff10" stroke="#5a5a5a" stroke-opacity="0.55" stroke-width="0.4" vector-effect="non-scaling-stroke" stroke-linejoin="round"/>
<path d="M420.0,0.0C441.0,-9.3 579.0,-30.3 600.0,0.0C621.0,30.3 613.5,232.0 600.0,260.0C586.5,288.0 500.2,242.7 484.0,240.0C467.8,237.3 465.4,240.8 461.0,237.0C456.6,233.2 453.0,211.1 446.0,207.0C439.0,202.9 407.6,208.1 401.0,202.0C394.4,195.9 390.2,162.8 389.0,155.0C387.8,147.2 389.6,142.0 391.0,135.0C392.4,128.0 397.6,101.4 401.0,95.0C404.4,88.6 417.8,91.1 420.0,80.0C422.2,68.9 399.0,9.3 420.0,0.0Z" fill="#ffa800" stroke="#5a5a5a" stroke-opacity="0.55" stroke-width="0.4" vector-effect="non-scaling-stroke" stroke-linejoin="round"/>
<path d="M290.0,0.0C316.8,-4.7 493.2,-14.0 520.0,0.0C546.8,14.0 527.6,103.7 520.0,120.0C512.4,136.3 464.3,137.4 455.0,140.0C445.7,142.6 446.3,146.0 440.0,142.0C433.7,138.0 412.0,114.2 401.0,106.0C390.0,97.8 358.2,78.3 346.0,72.0C333.8,65.7 302.5,55.7 296.0,52.0C289.5,48.3 290.7,46.1 290.0,40.0C289.3,33.9 263.2,4.7 290.0,0.0Z" fill="#ffc600" stroke="#5a5a5a" stroke-opacity="0.55" stroke-width="0.4" vector-effect="non-scaling-stroke" stroke-linejoin="round"/>
<path d="M361.0,150.0C366.6,145.7 384.3,148.9 389.0,155.0C393.7,161.1 402.5,193.6 401.0,202.0C399.5,210.4 382.4,227.6 376.0,227.0C369.6,226.4 350.1,201.1 346.0,197.0C341.9,192.9 339.2,197.5 341.0,192.0C342.8,186.5 355.4,154.3 361.0,150.0Z" fill="#ff8d00" stroke="#5a5a5a" stroke-opacity="0.55" stroke-width="0.4" vector-effect="non-scaling-stroke" stroke-linejoin="round"/>
<path d="M376.0,227.0C377.8,221.8 392.8,204.3 401.0,202.0C409.2,199.7 439.0,202.9 446.0,207.0C453.0,211.1 463.9,231.2 461.0,237.0C458.1,242.8 429.8,255.8 421.0,257.0C412.2,258.2 391.2,250.5 386.0,247.0C380.8,243.5 374.2,232.2 376.0,227.0Z" fill="#ffa500" stroke="#5a5a5a" stroke-opacity="0.55" stroke-width="0.4" vector-effect="non-scaling-stroke" stroke-linejoin="round"/>
<path d="M411.0,257.0C409.8,254.7 415.2,259.3 421.0,257.0C426.8,254.7 453.6,239.0 461.0,237.0C468.4,235.0 467.8,238.5 484.0,240.0C500.2,241.5 586.5,243.0 600.0,250.0C613.5,257.0 615.6,298.0 600.0,300.0C584.4,302.0 485.7,269.7 466.0,267.0C446.3,264.3 437.4,278.2 431.0,277.0C424.6,275.8 412.2,259.3 411.0,257.0Z" fill="#ffda00" stroke="#5a5a5a" stroke-opacity="0.55" stroke-width="0.4" vector-effect="non-scaling-stroke" stroke-linejoin="round"/>
<path d="M371.0,272.0C371.6,254.2 381.3,248.8 386.0,247.0C390.7,245.2 405.8,253.5 411.0,257.0C416.2,260.5 424.6,275.8 431.0,277.0C437.4,278.2 446.3,264.3 466.0,267.0C485.7,269.7 584.4,284.5 600.0,300.0C615.6,315.5 625.5,388.3 600.0,400.0C574.5,411.7 407.7,414.9 381.0,400.0C354.3,385.1 370.4,289.9 371.0,272.0Z" fill="#ffa800" stroke="#5a5a5a" stroke-opacity="0.55" stroke-width="0.4" vector-effect="non-scaling-stroke" stroke-linejoin="round"/>
<path d="M97.0,227.0C99.3,223.3 108.2,216.4 115.0,215.0C121.8,213.6 149.8,212.7 155.0,215.0C160.2,217.3 158.2,231.3 160.0,235.0C161.8,238.7 165.3,245.0 170.0,247.0C174.7,249.0 190.0,248.0 200.0,252.0C210.0,256.0 244.8,274.6 256.0,281.0C267.2,287.4 287.8,301.1 296.0,307.0C304.2,312.9 320.9,321.1 326.0,332.0C331.1,342.9 366.9,392.1 340.0,400.0C313.1,407.9 123.6,417.9 95.0,400.0C66.4,382.1 94.8,267.2 95.0,247.0C95.2,226.8 94.7,230.7 97.0,227.0Z" fill="#ffc900" stroke="#5a5a5a" stroke-opacity="0.55" stroke-width="0.4" vector-effect="non-scaling-stroke" stroke-linejoin="round"/>
<path d="M95.0,247.0C101.4,246.7 137.8,266.8 150.0,272.0C162.2,277.2 187.6,286.8 200.0,292.0C212.4,297.2 244.3,311.4 256.0,317.0C267.7,322.6 290.2,330.3 300.0,340.0C309.8,349.7 363.3,393.0 340.0,400.0C316.7,407.0 128.0,413.2 100.0,400.0C72.0,386.8 100.6,301.6 100.0,287.0C99.4,272.4 95.6,279.7 95.0,275.0C94.4,270.3 88.6,247.3 95.0,247.0Z" fill="#ffe600" stroke="#5a5a5a" stroke-opacity="0.55" stroke-width="0.4" vector-effect="non-scaling-stroke" stroke-linejoin="round"/>
<path d="M256.0,222.0C254.8,216.8 260.5,204.9 271.0,202.0C281.5,199.1 333.8,194.1 346.0,197.0C358.2,199.9 371.3,221.2 376.0,227.0C380.7,232.8 386.6,241.8 386.0,247.0C385.4,252.2 373.9,266.8 371.0,272.0C368.1,277.2 364.1,288.7 361.0,292.0C357.9,295.3 348.7,302.3 344.0,300.0C339.3,297.7 328.4,278.2 321.0,272.0C313.6,265.8 288.6,252.8 281.0,247.0C273.4,241.2 257.2,227.2 256.0,222.0Z" fill="#ff9a00" stroke="#5a5a5a" stroke-opacity="0.55" stroke-width="0.4" vector-effect="non-scaling-stroke" stroke-linejoin="round"/>
<path d="M240.0,200.0C240.0,193.9 261.2,194.5 266.0,200.0C270.8,205.5 281.0,240.9 281.0,247.0C281.0,253.1 270.8,257.5 266.0,252.0C261.2,246.5 240.0,206.1 240.0,200.0Z" fill="#ffff51" stroke="#5a5a5a" stroke-opacity="0.55" stroke-width="0.4" vector-effect="non-scaling-stroke" stroke-linejoin="round"/>
<path d="M195.0,192.0C197.9,189.7 212.9,198.5 220.0,202.0C227.1,205.5 248.9,216.8 256.0,222.0C263.1,227.2 273.4,241.2 281.0,247.0C288.6,252.8 313.6,265.8 321.0,272.0C328.4,278.2 341.9,294.2 344.0,300.0C346.1,305.8 341.1,318.3 339.0,322.0C336.9,325.7 331.0,333.8 326.0,332.0C321.0,330.2 304.2,312.9 296.0,307.0C287.8,301.1 267.2,287.4 256.0,281.0C244.8,274.6 207.1,258.9 200.0,252.0C192.9,245.1 195.6,229.0 195.0,222.0C194.4,215.0 192.1,194.3 195.0,192.0Z" fill="#ff9700" stroke="#5a5a5a" stroke-opacity="0.55" stroke-width="0.4" vector-effect="non-scaling-stroke" stroke-linejoin="round"/>
<path d="M155.0,215.0C155.8,210.0 162.3,194.7 167.0,192.0C171.7,189.3 191.7,188.5 195.0,192.0C198.3,195.5 194.4,215.0 195.0,222.0C195.6,229.0 202.9,249.1 200.0,252.0C197.1,254.9 174.7,249.0 170.0,247.0C165.3,245.0 161.8,238.7 160.0,235.0C158.2,231.3 154.2,220.0 155.0,215.0Z" fill="#fffb00" stroke="#5a5a5a" stroke-opacity="0.55" stroke-width="0.4" vector-effect="non-scaling-stroke" stroke-linejoin="round"/>
</g>
<path d="M28.0,215.0C29.3,207.2 29.7,197.5 35.0,185.0C40.3,172.5 49.2,155.8 60.0,140.0C70.8,124.2 88.3,103.8 100.0,90.0C111.7,76.2 119.2,65.8 130.0,57.0C140.8,48.2 151.7,41.3 165.0,37.0C178.3,32.7 194.8,31.7 210.0,31.0C225.2,30.3 241.7,31.5 256.0,33.0C270.3,34.5 281.0,35.5 296.0,40.0C311.0,44.5 328.5,50.8 346.0,60.0C363.5,69.2 384.3,83.3 401.0,95.0C417.7,106.7 433.5,116.7 446.0,130.0C458.5,143.3 469.3,160.8 476.0,175.0C482.7,189.2 484.7,204.2 486.0,215.0C487.3,225.8 487.3,231.3 484.0,240.0C480.7,248.7 474.8,259.5 466.0,267.0C457.2,274.5 445.2,281.2 431.0,285.0C416.8,288.8 394.3,287.5 381.0,290.0C367.7,292.5 358.0,294.7 351.0,300.0C344.0,305.3 344.0,314.2 339.0,322.0C334.0,329.8 329.8,341.5 321.0,347.0C312.2,352.5 296.8,355.0 286.0,355.0C275.2,355.0 274.5,354.2 256.0,347.0C237.5,339.8 201.0,322.0 175.0,312.0C149.0,302.0 120.8,295.3 100.0,287.0C79.2,278.7 62.2,271.2 50.0,262.0C37.8,252.8 30.7,239.8 27.0,232.0C23.3,224.2 26.7,222.8 28.0,215.0Z" fill="none" stroke="#8a8a8a" stroke-opacity="0.7" stroke-width="0.45" vector-effect="non-scaling-stroke"/>
</g>
<g transform="translate(227.264,322.561) scale(-0.13256,0.13256)">
<clipPath id="c4"><path d="M25.0,225.0C25.0,209.2 27.5,188.3 35.0,170.0C42.5,151.7 54.2,130.8 70.0,115.0C85.8,99.2 105.0,86.7 130.0,75.0C155.0,63.3 191.7,51.7 220.0,45.0C248.3,38.3 276.7,35.0 300.0,35.0C323.3,35.0 341.7,36.7 360.0,45.0C378.3,53.3 396.7,70.8 410.0,85.0C423.3,99.2 430.8,114.2 440.0,130.0C449.2,145.8 459.2,165.0 465.0,180.0C470.8,195.0 475.0,209.2 475.0,220.0C475.0,230.8 474.2,237.5 465.0,245.0C455.8,252.5 439.2,258.3 420.0,265.0C400.8,271.7 371.7,278.3 350.0,285.0C328.3,291.7 308.3,298.3 290.0,305.0C271.7,311.7 255.0,320.0 240.0,325.0C225.0,330.0 210.0,337.5 200.0,335.0C190.0,332.5 190.0,316.7 180.0,310.0C170.0,303.3 158.3,298.3 140.0,295.0C121.7,291.7 87.5,295.0 70.0,290.0C52.5,285.0 42.5,275.8 35.0,265.0C27.5,254.2 25.0,240.8 25.0,225.0Z"/></clipPath>
<g clip-path="url(#c4)">
<path d="M25.0,225.0C25.0,209.2 27.5,188.3 35.0,170.0C42.5,151.7 54.2,130.8 70.0,115.0C85.8,99.2 105.0,86.7 130.0,75.0C155.0,63.3 191.7,51.7 220.0,45.0C248.3,38.3 276.7,35.0 300.0,35.0C323.3,35.0 341.7,36.7 360.0,45.0C378.3,53.3 396.7,70.8 410.0,85.0C423.3,99.2 430.8,114.2 440.0,130.0C449.2,145.8 459.2,165.0 465.0,180.0C470.8,195.0 475.0,209.2 475.0,220.0C475.0,230.8 474.2,237.5 465.0,245.0C455.8,252.5 439.2,258.3 420.0,265.0C400.8,271.7 371.7,278.3 350.0,285.0C328.3,291.7 308.3,298.3 290.0,305.0C271.7,311.7 255.0,320.0 240.0,325.0C225.0,330.0 210.0,337.5 200.0,335.0C190.0,332.5 190.0,316.7 180.0,310.0C170.0,303.3 158.3,298.3 140.0,295.0C121.7,291.7 87.5,295.0 70.0,290.0C52.5,285.0 42.5,275.8 35.0,265.0C27.5,254.2 25.0,240.8 25.0,225.0Z" fill="#c0c0c0"/>
<path d="M0.0,0.0C25.7,-28.0 193.8,-11.7 220.0,0.0C246.2,11.7 230.2,86.0 225.0,100.0C219.8,114.0 187.2,114.8 175.0,120.0C162.8,125.2 129.9,138.0 120.0,145.0C110.1,152.0 95.8,173.6 90.0,180.0C84.2,186.4 73.5,193.0 70.0,200.0C66.5,207.0 68.2,235.3 60.0,240.0C51.8,244.7 7.0,268.0 0.0,240.0C-7.0,212.0 -25.7,28.0 0.0,0.0Z" fill="#ffc600" stroke="#5a5a5a" stroke-opacity="0.55" stroke-width="0.4" vector-effect="non-scaling-stroke" stroke-linejoin="round"/>
<path d="M220.0,0.0C230.2,-12.2 300.6,-11.7 312.0,0.0C323.4,11.7 328.1,87.8 318.0,100.0C307.9,112.2 236.4,116.7 225.0,105.0C213.6,93.3 209.8,12.2 220.0,0.0Z" fill="#c0c0c0" stroke="#5a5a5a" stroke-opacity="0.55" stroke-width="0.4" vector-effect="non-scaling-stroke" stroke-linejoin="round"/>
<path d="M312.0,0.0C335.6,-11.7 495.7,-11.7 520.0,0.0C544.3,11.7 529.3,84.8 520.0,100.0C510.7,115.2 451.7,122.4 440.0,130.0C428.3,137.6 425.2,156.8 420.0,165.0C414.8,173.2 402.6,194.2 395.0,200.0C387.4,205.8 360.8,218.5 355.0,215.0C349.2,211.5 348.5,178.8 345.0,170.0C341.5,161.2 328.1,148.2 325.0,140.0C321.9,131.8 319.5,116.3 318.0,100.0C316.5,83.7 288.4,11.7 312.0,0.0Z" fill="#ffffb6" stroke="#5a5a5a" stroke-opacity="0.55" stroke-width="0.4" vector-effect="non-scaling-stroke" stroke-linejoin="round"/>
<path d="M440.0,130.0C451.7,122.4 510.7,90.1 520.0,100.0C529.3,109.9 525.8,202.2 520.0,215.0C514.2,227.8 479.3,211.8 470.0,210.0C460.7,208.2 448.2,200.6 440.0,200.0C431.8,199.4 402.3,209.1 400.0,205.0C397.7,200.9 415.3,173.8 420.0,165.0C424.7,156.2 428.3,137.6 440.0,130.0Z" fill="#ffffac" stroke="#5a5a5a" stroke-opacity="0.55" stroke-width="0.4" vector-effect="non-scaling-stroke" stroke-linejoin="round"/>
<path d="M395.0,205.0C400.8,202.1 431.2,199.4 440.0,200.0C448.8,200.6 460.7,208.2 470.0,210.0C479.3,211.8 514.2,211.5 520.0,215.0C525.8,218.5 527.0,237.1 520.0,240.0C513.0,242.9 471.7,240.6 460.0,240.0C448.3,239.4 428.2,236.8 420.0,235.0C411.8,233.2 392.9,228.5 390.0,225.0C387.1,221.5 389.2,207.9 395.0,205.0Z" fill="#ffffc7" stroke="#5a5a5a" stroke-opacity="0.55" stroke-width="0.4" vector-effect="non-scaling-stroke" stroke-linejoin="round"/>
<path d="M340.0,245.0C348.2,238.6 380.7,226.2 390.0,225.0C399.3,223.8 411.8,233.2 420.0,235.0C428.2,236.8 448.3,239.4 460.0,240.0C471.7,240.6 513.0,233.0 520.0,240.0C527.0,247.0 531.7,297.1 520.0,300.0C508.3,302.9 439.8,266.8 420.0,265.0C400.2,263.2 361.7,283.2 350.0,285.0C338.3,286.8 321.2,284.7 320.0,280.0C318.8,275.3 331.8,251.4 340.0,245.0Z" fill="#ffa200" stroke="#5a5a5a" stroke-opacity="0.55" stroke-width="0.4" vector-effect="non-scaling-stroke" stroke-linejoin="round"/>
<path d="M175.0,120.0C179.7,113.9 208.3,109.4 225.0,108.0C241.7,106.6 306.3,104.3 318.0,108.0C329.7,111.7 327.1,135.1 325.0,140.0C322.9,144.9 311.1,148.8 300.0,150.0C288.9,151.2 243.4,148.8 230.0,150.0C216.6,151.2 191.4,163.5 185.0,160.0C178.6,156.5 170.3,126.1 175.0,120.0Z" fill="#ffff39" stroke="#5a5a5a" stroke-opacity="0.55" stroke-width="0.4" vector-effect="non-scaling-stroke" stroke-linejoin="round"/>
<path d="M95.0,185.0C96.2,179.8 110.7,156.7 120.0,150.0C129.3,143.3 167.4,126.8 175.0,128.0C182.6,129.2 190.2,154.5 185.0,160.0C179.8,165.5 138.8,170.9 130.0,175.0C121.2,179.1 114.1,193.8 110.0,195.0C105.9,196.2 93.8,190.2 95.0,185.0Z" fill="#ffffaf" stroke="#5a5a5a" stroke-opacity="0.55" stroke-width="0.4" vector-effect="non-scaling-stroke" stroke-linejoin="round"/>
<path d="M60.0,240.0C58.2,233.6 65.9,206.4 70.0,200.0C74.1,193.6 90.3,185.6 95.0,185.0C99.7,184.4 109.4,189.8 110.0,195.0C110.6,200.2 102.9,223.0 100.0,230.0C97.1,237.0 89.7,253.8 85.0,255.0C80.3,256.2 61.8,246.4 60.0,240.0Z" fill="#ffffb6" stroke="#5a5a5a" stroke-opacity="0.55" stroke-width="0.4" vector-effect="non-scaling-stroke" stroke-linejoin="round"/>
<path d="M0.0,240.0C7.0,221.3 50.1,238.2 60.0,240.0C69.9,241.8 80.3,251.5 85.0,255.0C89.7,258.5 92.4,264.8 100.0,270.0C107.6,275.2 140.7,295.3 150.0,300.0C159.3,304.7 176.5,298.3 180.0,310.0C183.5,321.7 201.0,389.5 180.0,400.0C159.0,410.5 21.0,418.7 0.0,400.0C-21.0,381.3 -7.0,258.7 0.0,240.0Z" fill="#ffe500" stroke="#5a5a5a" stroke-opacity="0.55" stroke-width="0.4" vector-effect="non-scaling-stroke" stroke-linejoin="round"/>
<path d="M295.0,150.0C297.9,147.1 319.2,137.7 325.0,140.0C330.8,142.3 341.5,161.2 345.0,170.0C348.5,178.8 355.0,206.2 355.0,215.0C355.0,223.8 348.5,241.5 345.0,245.0C341.5,248.5 327.9,250.2 325.0,245.0C322.1,239.8 322.9,209.3 320.0,200.0C317.1,190.7 302.9,170.8 300.0,165.0C297.1,159.2 292.1,152.9 295.0,150.0Z" fill="#fff700" stroke="#5a5a5a" stroke-opacity="0.55" stroke-width="0.4" vector-effect="non-scaling-stroke" stroke-linejoin="round"/>
<path d="M250.0,300.0C253.5,296.5 308.9,281.4 320.0,275.0C331.1,268.6 341.5,243.8 345.0,245.0C348.5,246.2 356.4,278.0 350.0,285.0C343.6,292.0 301.7,303.2 290.0,305.0C278.3,306.8 246.5,303.5 250.0,300.0Z" fill="#ffff51" stroke="#5a5a5a" stroke-opacity="0.55" stroke-width="0.4" vector-effect="non-scaling-stroke" stroke-linejoin="round"/>
<path d="M190.0,345.0C195.8,335.4 228.3,323.5 240.0,318.0C251.7,312.5 277.2,302.4 290.0,298.0C302.8,293.6 334.8,284.2 350.0,280.0C365.2,275.8 400.2,264.9 420.0,262.0C439.8,259.1 508.3,238.9 520.0,255.0C531.7,271.1 558.5,383.1 520.0,400.0C481.5,416.9 228.5,406.4 190.0,400.0C151.5,393.6 184.2,354.6 190.0,345.0Z" fill="#ff8d00" stroke="#5a5a5a" stroke-opacity="0.55" stroke-width="0.4" vector-effect="non-scaling-stroke" stroke-linejoin="round"/>
<path d="M60.0,232.0C60.0,221.5 70.0,204.5 80.0,195.0C90.0,185.5 105.0,180.8 120.0,175.0C135.0,169.2 151.7,163.8 170.0,160.0C188.3,156.2 210.0,154.0 230.0,152.0C250.0,150.0 275.8,146.7 290.0,148.0C304.2,149.3 309.2,151.3 315.0,160.0C320.8,168.7 324.2,186.7 325.0,200.0C325.8,213.3 323.3,228.3 320.0,240.0C316.7,251.7 313.3,260.8 305.0,270.0C296.7,279.2 280.8,287.5 270.0,295.0C259.2,302.5 251.7,308.3 240.0,315.0C228.3,321.7 210.0,335.5 200.0,335.0C190.0,334.5 188.3,319.5 180.0,312.0C171.7,304.5 161.7,296.7 150.0,290.0C138.3,283.3 121.7,277.3 110.0,272.0C98.3,266.7 88.3,264.7 80.0,258.0C71.7,251.3 60.0,242.5 60.0,232.0Z" fill="#c0c0c0" stroke="#5a5a5a" stroke-opacity="0.55" stroke-width="0.4" vector-effect="non-scaling-stroke"/>
<path d="M135,238 C140,200 190,178 250,180 C300,182 325,205 325,235" fill="none" stroke="#5a5a5a" stroke-opacity="0.55" stroke-width="0.4" vector-effect="non-scaling-stroke"/>
</g>
<path d="M25.0,225.0C25.0,209.2 27.5,188.3 35.0,170.0C42.5,151.7 54.2,130.8 70.0,115.0C85.8,99.2 105.0,86.7 130.0,75.0C155.0,63.3 191.7,51.7 220.0,45.0C248.3,38.3 276.7,35.0 300.0,35.0C323.3,35.0 341.7,36.7 360.0,45.0C378.3,53.3 396.7,70.8 410.0,85.0C423.3,99.2 430.8,114.2 440.0,130.0C449.2,145.8 459.2,165.0 465.0,180.0C470.8,195.0 475.0,209.2 475.0,220.0C475.0,230.8 474.2,237.5 465.0,245.0C455.8,252.5 439.2,258.3 420.0,265.0C400.8,271.7 371.7,278.3 350.0,285.0C328.3,291.7 308.3,298.3 290.0,305.0C271.7,311.7 255.0,320.0 240.0,325.0C225.0,330.0 210.0,337.5 200.0,335.0C190.0,332.5 190.0,316.7 180.0,310.0C170.0,303.3 158.3,298.3 140.0,295.0C121.7,291.7 87.5,295.0 70.0,290.0C52.5,285.0 42.5,275.8 35.0,265.0C27.5,254.2 25.0,240.8 25.0,225.0Z" fill="none" stroke="#8a8a8a" stroke-opacity="0.7" stroke-width="0.45" vector-effect="non-scaling-stroke"/>
</g>
<g transform="translate(241.131,272.032) scale(0.12477)">
<clipPath id="c5"><path d="M28.0,215.0C29.3,207.2 29.7,197.5 35.0,185.0C40.3,172.5 49.2,155.8 60.0,140.0C70.8,124.2 88.3,103.8 100.0,90.0C111.7,76.2 119.2,65.8 130.0,57.0C140.8,48.2 151.7,41.3 165.0,37.0C178.3,32.7 194.8,31.7 210.0,31.0C225.2,30.3 241.7,31.5 256.0,33.0C270.3,34.5 281.0,35.5 296.0,40.0C311.0,44.5 328.5,50.8 346.0,60.0C363.5,69.2 384.3,83.3 401.0,95.0C417.7,106.7 433.5,116.7 446.0,130.0C458.5,143.3 469.3,160.8 476.0,175.0C482.7,189.2 484.7,204.2 486.0,215.0C487.3,225.8 487.3,231.3 484.0,240.0C480.7,248.7 474.8,259.5 466.0,267.0C457.2,274.5 445.2,281.2 431.0,285.0C416.8,288.8 394.3,287.5 381.0,290.0C367.7,292.5 358.0,294.7 351.0,300.0C344.0,305.3 344.0,314.2 339.0,322.0C334.0,329.8 329.8,341.5 321.0,347.0C312.2,352.5 296.8,355.0 286.0,355.0C275.2,355.0 274.5,354.2 256.0,347.0C237.5,339.8 201.0,322.0 175.0,312.0C149.0,302.0 120.8,295.3 100.0,287.0C79.2,278.7 62.2,271.2 50.0,262.0C37.8,252.8 30.7,239.8 27.0,232.0C23.3,224.2 26.7,222.8 28.0,215.0Z"/></clipPath>
<g clip-path="url(#c5)">
<path d="M28.0,215.0C29.3,207.2 29.7,197.5 35.0,185.0C40.3,172.5 49.2,155.8 60.0,140.0C70.8,124.2 88.3,103.8 100.0,90.0C111.7,76.2 119.2,65.8 130.0,57.0C140.8,48.2 151.7,41.3 165.0,37.0C178.3,32.7 194.8,31.7 210.0,31.0C225.2,30.3 241.7,31.5 256.0,33.0C270.3,34.5 281.0,35.5 296.0,40.0C311.0,44.5 328.5,50.8 346.0,60.0C363.5,69.2 384.3,83.3 401.0,95.0C417.7,106.7 433.5,116.7 446.0,130.0C458.5,143.3 469.3,160.8 476.0,175.0C482.7,189.2 484.7,204.2 486.0,215.0C487.3,225.8 487.3,231.3 484.0,240.0C480.7,248.7 474.8,259.5 466.0,267.0C457.2,274.5 445.2,281.2 431.0,285.0C416.8,288.8 394.3,287.5 381.0,290.0C367.7,292.5 358.0,294.7 351.0,300.0C344.0,305.3 344.0,314.2 339.0,322.0C334.0,329.8 329.8,341.5 321.0,347.0C312.2,352.5 296.8,355.0 286.0,355.0C275.2,355.0 274.5,354.2 256.0,347.0C237.5,339.8 201.0,322.0 175.0,312.0C149.0,302.0 120.8,295.3 100.0,287.0C79.2,278.7 62.2,271.2 50.0,262.0C37.8,252.8 30.7,239.8 27.0,232.0C23.3,224.2 26.7,222.8 28.0,215.0Z" fill="#fff200"/>
<path d="M0.0,190.0C3.1,200.7 20.0,190.0 27.0,192.0C34.0,194.0 51.8,202.9 60.0,207.0C68.2,211.1 90.6,226.1 97.0,227.0C103.4,227.9 108.8,216.4 115.0,215.0C121.2,213.6 143.9,217.7 150.0,215.0C156.1,212.3 165.8,199.6 167.0,192.0C168.2,184.4 160.8,159.0 160.0,150.0C159.2,141.0 158.8,122.0 160.0,115.0C161.2,108.0 172.3,92.9 170.0,90.0C167.7,87.1 148.2,90.0 140.0,90.0C131.8,90.0 109.3,93.5 100.0,90.0C90.7,86.5 71.7,58.8 60.0,60.0C48.3,61.2 7.0,84.8 0.0,100.0C-7.0,115.2 -3.1,179.3 0.0,190.0Z" fill="#ffff43" stroke="#5a5a5a" stroke-opacity="0.55" stroke-width="0.4" vector-effect="non-scaling-stroke" stroke-linejoin="round"/>
<path d="M60.0,60.0C57.7,70.5 90.7,86.5 100.0,90.0C109.3,93.5 131.8,90.0 140.0,90.0C148.2,90.0 163.9,91.8 170.0,90.0C176.1,88.2 189.7,85.5 192.0,75.0C194.3,64.5 198.4,8.8 190.0,0.0C181.6,-8.8 135.2,-7.0 120.0,0.0C104.8,7.0 62.3,49.5 60.0,60.0Z" fill="#c0c0c0" stroke="#5a5a5a" stroke-opacity="0.55" stroke-width="0.4" vector-effect="non-scaling-stroke" stroke-linejoin="round"/>
<path d="M170.0,90.0C173.7,85.3 186.8,76.2 192.0,75.0C197.2,73.8 208.8,77.1 215.0,80.0C221.2,82.9 239.8,93.0 245.0,100.0C250.2,107.0 257.6,129.5 260.0,140.0C262.4,150.5 264.7,182.8 266.0,190.0C267.3,197.2 272.2,199.4 271.0,202.0C269.8,204.6 261.9,212.0 256.0,212.0C250.1,212.0 227.1,204.3 220.0,202.0C212.9,199.7 201.2,193.2 195.0,192.0C188.8,190.8 171.1,196.9 167.0,192.0C162.9,187.1 160.8,159.0 160.0,150.0C159.2,141.0 158.8,122.0 160.0,115.0C161.2,108.0 166.3,94.7 170.0,90.0Z" fill="#c0c0c0" stroke="#5a5a5a" stroke-opacity="0.55" stroke-width="0.4" vector-effect="non-scaling-stroke" stroke-linejoin="round"/>
<path d="M190.0,0.0C192.7,-8.8 212.1,-3.6 215.0,0.0C217.9,3.6 210.2,23.4 215.0,31.0C219.8,38.6 248.9,55.2 256.0,65.0C263.1,74.8 271.9,100.2 276.0,115.0C280.1,129.8 291.6,181.8 291.0,192.0C290.4,202.2 273.9,202.2 271.0,202.0C268.1,201.8 267.3,197.2 266.0,190.0C264.7,182.8 262.4,150.5 260.0,140.0C257.6,129.5 250.2,107.0 245.0,100.0C239.8,93.0 221.2,82.9 215.0,80.0C208.8,77.1 194.9,84.3 192.0,75.0C189.1,65.7 187.3,8.8 190.0,0.0Z" fill="#ffff4d" stroke="#5a5a5a" stroke-opacity="0.55" stroke-width="0.4" vector-effect="non-scaling-stroke" stroke-linejoin="round"/>
<path d="M215.0,0.0C225.0,-3.6 291.0,-4.9 301.0,0.0C311.0,4.9 297.5,32.7 301.0,42.0C304.5,51.3 324.6,69.2 331.0,80.0C337.4,90.8 352.5,126.8 356.0,135.0C359.5,143.2 362.8,143.3 361.0,150.0C359.2,156.7 349.2,187.1 341.0,192.0C332.8,196.9 298.6,201.0 291.0,192.0C283.4,183.0 280.1,129.8 276.0,115.0C271.9,100.2 263.1,74.8 256.0,65.0C248.9,55.2 219.8,38.6 215.0,31.0C210.2,23.4 205.0,3.6 215.0,0.0Z" fill="#ffff55" stroke="#5a5a5a" stroke-opacity="0.55" stroke-width="0.4" vector-effect="non-scaling-stroke" stroke-linejoin="round"/>
<path d="M301.0,0.0C314.9,-4.9 406.1,-9.3 420.0,0.0C433.9,9.3 422.2,68.9 420.0,80.0C417.8,91.1 404.4,88.6 401.0,95.0C397.6,101.4 392.4,128.0 391.0,135.0C389.6,142.0 392.5,153.2 389.0,155.0C385.5,156.8 364.9,152.3 361.0,150.0C357.1,147.7 359.5,143.2 356.0,135.0C352.5,126.8 337.4,90.8 331.0,80.0C324.6,69.2 304.5,51.3 301.0,42.0C297.5,32.7 287.1,4.9 301.0,0.0Z" fill="#c0c0c0" stroke="#5a5a5a" stroke-opacity="0.55" stroke-width="0.4" vector-effect="non-scaling-stroke" stroke-linejoin="round"/>
<path d="M420.0,0.0C441.0,-9.3 579.0,-30.3 600.0,0.0C621.0,30.3 613.5,232.0 600.0,260.0C586.5,288.0 500.2,242.7 484.0,240.0C467.8,237.3 465.4,240.8 461.0,237.0C456.6,233.2 453.0,211.1 446.0,207.0C439.0,202.9 407.6,208.1 401.0,202.0C394.4,195.9 390.2,162.8 389.0,155.0C387.8,147.2 389.6,142.0 391.0,135.0C392.4,128.0 397.6,101.4 401.0,95.0C404.4,88.6 417.8,91.1 420.0,80.0C422.2,68.9 399.0,9.3 420.0,0.0Z" fill="#c0c0c0" stroke="#5a5a5a" stroke-opacity="0.55" stroke-width="0.4" vector-effect="non-scaling-stroke" stroke-linejoin="round"/>
<path d="M290.0,0.0C316.8,-4.7 493.2,-14.0 520.0,0.0C546.8,14.0 527.6,103.7 520.0,120.0C512.4,136.3 464.3,137.4 455.0,140.0C445.7,142.6 446.3,146.0 440.0,142.0C433.7,138.0 412.0,114.2 401.0,106.0C390.0,97.8 358.2,78.3 346.0,72.0C333.8,65.7 302.5,55.7 296.0,52.0C289.5,48.3 290.7,46.1 290.0,40.0C289.3,33.9 263.2,4.7 290.0,0.0Z" fill="#ffff64" stroke="#5a5a5a" stroke-opacity="0.55" stroke-width="0.4" vector-effect="non-scaling-stroke" stroke-linejoin="round"/>
<path d="M361.0,150.0C366.6,145.7 384.3,148.9 389.0,155.0C393.7,161.1 402.5,193.6 401.0,202.0C399.5,210.4 382.4,227.6 376.0,227.0C369.6,226.4 350.1,201.1 346.0,197.0C341.9,192.9 339.2,197.5 341.0,192.0C342.8,186.5 355.4,154.3 361.0,150.0Z" fill="#ffff43" stroke="#5a5a5a" stroke-opacity="0.55" stroke-width="0.4" vector-effect="non-scaling-stroke" stroke-linejoin="round"/>
<path d="M376.0,227.0C377.8,221.8 392.8,204.3 401.0,202.0C409.2,199.7 439.0,202.9 446.0,207.0C453.0,211.1 463.9,231.2 461.0,237.0C458.1,242.8 429.8,255.8 421.0,257.0C412.2,258.2 391.2,250.5 386.0,247.0C380.8,243.5 374.2,232.2 376.0,227.0Z" fill="#ffff29" stroke="#5a5a5a" stroke-opacity="0.55" stroke-width="0.4" vector-effect="non-scaling-stroke" stroke-linejoin="round"/>
<path d="M411.0,257.0C409.8,254.7 415.2,259.3 421.0,257.0C426.8,254.7 453.6,239.0 461.0,237.0C468.4,235.0 467.8,238.5 484.0,240.0C500.2,241.5 586.5,243.0 600.0,250.0C613.5,257.0 615.6,298.0 600.0,300.0C584.4,302.0 485.7,269.7 466.0,267.0C446.3,264.3 437.4,278.2 431.0,277.0C424.6,275.8 412.2,259.3 411.0,257.0Z" fill="#ffd400" stroke="#5a5a5a" stroke-opacity="0.55" stroke-width="0.4" vector-effect="non-scaling-stroke" stroke-linejoin="round"/>
<path d="M371.0,272.0C371.6,254.2 381.3,248.8 386.0,247.0C390.7,245.2 405.8,253.5 411.0,257.0C416.2,260.5 424.6,275.8 431.0,277.0C437.4,278.2 446.3,264.3 466.0,267.0C485.7,269.7 584.4,284.5 600.0,300.0C615.6,315.5 625.5,388.3 600.0,400.0C574.5,411.7 407.7,414.9 381.0,400.0C354.3,385.1 370.4,289.9 371.0,272.0Z" fill="#ff9d00" stroke="#5a5a5a" stroke-opacity="0.55" stroke-width="0.4" vector-effect="non-scaling-stroke" stroke-linejoin="round"/>
<path d="M97.0,227.0C99.3,223.3 108.2,216.4 115.0,215.0C121.8,213.6 149.8,212.7 155.0,215.0C160.2,217.3 158.2,231.3 160.0,235.0C161.8,238.7 165.3,245.0 170.0,247.0C174.7,249.0 190.0,248.0 200.0,252.0C210.0,256.0 244.8,274.6 256.0,281.0C267.2,287.4 287.8,301.1 296.0,307.0C304.2,312.9 320.9,321.1 326.0,332.0C331.1,342.9 366.9,392.1 340.0,400.0C313.1,407.9 123.6,417.9 95.0,400.0C66.4,382.1 94.8,267.2 95.0,247.0C95.2,226.8 94.7,230.7 97.0,227.0Z" fill="#ff9b00" stroke="#5a5a5a" stroke-opacity="0.55" stroke-width="0.4" vector-effect="non-scaling-stroke" stroke-linejoin="round"/>
<path d="M95.0,247.0C101.4,246.7 137.8,266.8 150.0,272.0C162.2,277.2 187.6,286.8 200.0,292.0C212.4,297.2 244.3,311.4 256.0,317.0C267.7,322.6 290.2,330.3 300.0,340.0C309.8,349.7 363.3,393.0 340.0,400.0C316.7,407.0 128.0,413.2 100.0,400.0C72.0,386.8 100.6,301.6 100.0,287.0C99.4,272.4 95.6,279.7 95.0,275.0C94.4,270.3 88.6,247.3 95.0,247.0Z" fill="#ff7900" stroke="#5a5a5a" stroke-opacity="0.55" stroke-width="0.4" vector-effect="non-scaling-stroke" stroke-linejoin="round"/>
<path d="M256.0,222.0C254.8,216.8 260.5,204.9 271.0,202.0C281.5,199.1 333.8,194.1 346.0,197.0C358.2,199.9 371.3,221.2 376.0,227.0C380.7,232.8 386.6,241.8 386.0,247.0C385.4,252.2 373.9,266.8 371.0,272.0C368.1,277.2 364.1,288.7 361.0,292.0C357.9,295.3 348.7,302.3 344.0,300.0C339.3,297.7 328.4,278.2 321.0,272.0C313.6,265.8 288.6,252.8 281.0,247.0C273.4,241.2 257.2,227.2 256.0,222.0Z" fill="#ffc700" stroke="#5a5a5a" stroke-opacity="0.55" stroke-width="0.4" vector-effect="non-scaling-stroke" stroke-linejoin="round"/>
<path d="M240.0,200.0C240.0,193.9 261.2,194.5 266.0,200.0C270.8,205.5 281.0,240.9 281.0,247.0C281.0,253.1 270.8,257.5 266.0,252.0C261.2,246.5 240.0,206.1 240.0,200.0Z" fill="#c0c0c0" stroke="#5a5a5a" stroke-opacity="0.55" stroke-width="0.4" vector-effect="non-scaling-stroke" stroke-linejoin="round"/>
<path d="M195.0,192.0C197.9,189.7 212.9,198.5 220.0,202.0C227.1,205.5 248.9,216.8 256.0,222.0C263.1,227.2 273.4,241.2 281.0,247.0C288.6,252.8 313.6,265.8 321.0,272.0C328.4,278.2 341.9,294.2 344.0,300.0C346.1,305.8 341.1,318.3 339.0,322.0C336.9,325.7 331.0,333.8 326.0,332.0C321.0,330.2 304.2,312.9 296.0,307.0C287.8,301.1 267.2,287.4 256.0,281.0C244.8,274.6 207.1,258.9 200.0,252.0C192.9,245.1 195.6,229.0 195.0,222.0C194.4,215.0 192.1,194.3 195.0,192.0Z" fill="#c0c0c0" stroke="#5a5a5a" stroke-opacity="0.55" stroke-width="0.4" vector-effect="non-scaling-stroke" stroke-linejoin="round"/>
<path d="M155.0,215.0C155.8,210.0 162.3,194.7 167.0,192.0C171.7,189.3 191.7,188.5 195.0,192.0C198.3,195.5 194.4,215.0 195.0,222.0C195.6,229.0 202.9,249.1 200.0,252.0C197.1,254.9 174.7,249.0 170.0,247.0C165.3,245.0 161.8,238.7 160.0,235.0C158.2,231.3 154.2,220.0 155.0,215.0Z" fill="#ffff69" stroke="#5a5a5a" stroke-opacity="0.55" stroke-width="0.4" vector-effect="non-scaling-stroke" stroke-linejoin="round"/>
</g>
<path d="M28.0,215.0C29.3,207.2 29.7,197.5 35.0,185.0C40.3,172.5 49.2,155.8 60.0,140.0C70.8,124.2 88.3,103.8 100.0,90.0C111.7,76.2 119.2,65.8 130.0,57.0C140.8,48.2 151.7,41.3 165.0,37.0C178.3,32.7 194.8,31.7 210.0,31.0C225.2,30.3 241.7,31.5 256.0,33.0C270.3,34.5 281.0,35.5 296.0,40.0C311.0,44.5 328.5,50.8 346.0,60.0C363.5,69.2 384.3,83.3 401.0,95.0C417.7,106.7 433.5,116.7 446.0,130.0C458.5,143.3 469.3,160.8 476.0,175.0C482.7,189.2 484.7,204.2 486.0,215.0C487.3,225.8 487.3,231.3 484.0,240.0C480.7,248.7 474.8,259.5 466.0,267.0C457.2,274.5 445.2,281.2 431.0,285.0C416.8,288.8 394.3,287.5 381.0,290.0C367.7,292.5 358.0,294.7 351.0,300.0C344.0,305.3 344.0,314.2 339.0,322.0C334.0,329.8 329.8,341.5 321.0,347.0C312.2,352.5 296.8,355.0 286.0,355.0C275.2,355.0 274.5,354.2 256.0,347.0C237.5,339.8 201.0,322.0 175.0,312.0C149.0,302.0 120.8,295.3 100.0,287.0C79.2,278.7 62.2,271.2 50.0,262.0C37.8,252.8 30.7,239.8 27.0,232.0C23.3,224.2 26.7,222.8 28.0,215.0Z" fill="none" stroke="#8a8a8a" stroke-opacity="0.7" stroke-width="0.45" vector-effect="non-scaling-stroke"/>
</g>
<g transform="translate(310.686,271.961) scale(0.13256)">
<clipPath id="c6"><path d="M25.0,225.0C25.0,209.2 27.5,188.3 35.0,170.0C42.5,151.7 54.2,130.8 70.0,115.0C85.8,99.2 105.0,86.7 130.0,75.0C155.0,63.3 191.7,51.7 220.0,45.0C248.3,38.3 276.7,35.0 300.0,35.0C323.3,35.0 341.7,36.7 360.0,45.0C378.3,53.3 396.7,70.8 410.0,85.0C423.3,99.2 430.8,114.2 440.0,130.0C449.2,145.8 459.2,165.0 465.0,180.0C470.8,195.0 475.0,209.2 475.0,220.0C475.0,230.8 474.2,237.5 465.0,245.0C455.8,252.5 439.2,258.3 420.0,265.0C400.8,271.7 371.7,278.3 350.0,285.0C328.3,291.7 308.3,298.3 290.0,305.0C271.7,311.7 255.0,320.0 240.0,325.0C225.0,330.0 210.0,337.5 200.0,335.0C190.0,332.5 190.0,316.7 180.0,310.0C170.0,303.3 158.3,298.3 140.0,295.0C121.7,291.7 87.5,295.0 70.0,290.0C52.5,285.0 42.5,275.8 35.0,265.0C27.5,254.2 25.0,240.8 25.0,225.0Z"/></clipPath>
<g clip-path="url(#c6)">
<path d="M25.0,225.0C25.0,209.2 27.5,188.3 35.0,170.0C42.5,151.7 54.2,130.8 70.0,115.0C85.8,99.2 105.0,86.7 130.0,75.0C155.0,63.3 191.7,51.7 220.0,45.0C248.3,38.3 276.7,35.0 300.0,35.0C323.3,35.0 341.7,36.7 360.0,45.0C378.3,53.3 396.7,70.8 410.0,85.0C423.3,99.2 430.8,114.2 440.0,130.0C449.2,145.8 459.2,165.0 465.0,180.0C470.8,195.0 475.0,209.2 475.0,220.0C475.0,230.8 474.2,237.5 465.0,245.0C455.8,252.5 439.2,258.3 420.0,265.0C400.8,271.7 371.7,278.3 350.0,285.0C328.3,291.7 308.3,298.3 290.0,305.0C271.7,311.7 255.0,320.0 240.0,325.0C225.0,330.0 210.0,337.5 200.0,335.0C190.0,332.5 190.0,316.7 180.0,310.0C170.0,303.3 158.3,298.3 140.0,295.0C121.7,291.7 87.5,295.0 70.0,290.0C52.5,285.0 42.5,275.8 35.0,265.0C27.5,254.2 25.0,240.8 25.0,225.0Z" fill="#c0c0c0"/>
<path d="M0.0,0.0C25.7,-28.0 193.8,-11.7 220.0,0.0C246.2,11.7 230.2,86.0 225.0,100.0C219.8,114.0 187.2,114.8 175.0,120.0C162.8,125.2 129.9,138.0 120.0,145.0C110.1,152.0 95.8,173.6 90.0,180.0C84.2,186.4 73.5,193.0 70.0,200.0C66.5,207.0 68.2,235.3 60.0,240.0C51.8,244.7 7.0,268.0 0.0,240.0C-7.0,212.0 -25.7,28.0 0.0,0.0Z" fill="#ffff64" stroke="#5a5a5a" stroke-opacity="0.55" stroke-width="0.4" vector-effect="non-scaling-stroke" stroke-linejoin="round"/>
<path d="M220.0,0.0C230.2,-12.2 300.6,-11.7 312.0,0.0C323.4,11.7 328.1,87.8 318.0,100.0C307.9,112.2 236.4,116.7 225.0,105.0C213.6,93.3 209.8,12.2 220.0,0.0Z" fill="#c0c0c0" stroke="#5a5a5a" stroke-opacity="0.55" stroke-width="0.4" vector-effect="non-scaling-stroke" stroke-linejoin="round"/>
<path d="M312.0,0.0C335.6,-11.7 495.7,-11.7 520.0,0.0C544.3,11.7 529.3,84.8 520.0,100.0C510.7,115.2 451.7,122.4 440.0,130.0C428.3,137.6 425.2,156.8 420.0,165.0C414.8,173.2 402.6,194.2 395.0,200.0C387.4,205.8 360.8,218.5 355.0,215.0C349.2,211.5 348.5,178.8 345.0,170.0C341.5,161.2 328.1,148.2 325.0,140.0C321.9,131.8 319.5,116.3 318.0,100.0C316.5,83.7 288.4,11.7 312.0,0.0Z" fill="#c0c0c0" stroke="#5a5a5a" stroke-opacity="0.55" stroke-width="0.4" vector-effect="non-scaling-stroke" stroke-linejoin="round"/>
<path d="M440.0,130.0C451.7,122.4 510.7,90.1 520.0,100.0C529.3,109.9 525.8,202.2 520.0,215.0C514.2,227.8 479.3,211.8 470.0,210.0C460.7,208.2 448.2,200.6 440.0,200.0C431.8,199.4 402.3,209.1 400.0,205.0C397.7,200.9 415.3,173.8 420.0,165.0C424.7,156.2 428.3,137.6 440.0,130.0Z" fill="#c0c0c0" stroke="#5a5a5a" stroke-opacity="0.55" stroke-width="0.4" vector-effect="non-scaling-stroke" stroke-linejoin="round"/>
<path d="M395.0,205.0C400.8,202.1 431.2,199.4 440.0,200.0C448.8,200.6 460.7,208.2 470.0,210.0C479.3,211.8 514.2,211.5 520.0,215.0C525.8,218.5 527.0,237.1 520.0,240.0C513.0,242.9 471.7,240.6 460.0,240.0C448.3,239.4 428.2,236.8 420.0,235.0C411.8,233.2 392.9,228.5 390.0,225.0C387.1,221.5 389.2,207.9 395.0,205.0Z" fill="#c0c0c0" stroke="#5a5a5a" stroke-opacity="0.55" stroke-width="0.4" vector-effect="non-scaling-stroke" stroke-linejoin="round"/>
<path d="M340.0,245.0C348.2,238.6 380.7,226.2 390.0,225.0C399.3,223.8 411.8,233.2 420.0,235.0C428.2,236.8 448.3,239.4 460.0,240.0C471.7,240.6 513.0,233.0 520.0,240.0C527.0,247.0 531.7,297.1 520.0,300.0C508.3,302.9 439.8,266.8 420.0,265.0C400.2,263.2 361.7,283.2 350.0,285.0C338.3,286.8 321.2,284.7 320.0,280.0C318.8,275.3 331.8,251.4 340.0,245.0Z" fill="#fff800" stroke="#5a5a5a" stroke-opacity="0.55" stroke-width="0.4" vector-effect="non-scaling-stroke" stroke-linejoin="round"/>
<path d="M175.0,120.0C179.7,113.9 208.3,109.4 225.0,108.0C241.7,106.6 306.3,104.3 318.0,108.0C329.7,111.7 327.1,135.1 325.0,140.0C322.9,144.9 311.1,148.8 300.0,150.0C288.9,151.2 243.4,148.8 230.0,150.0C216.6,151.2 191.4,163.5 185.0,160.0C178.6,156.5 170.3,126.1 175.0,120.0Z" fill="#ffff8c" stroke="#5a5a5a" stroke-opacity="0.55" stroke-width="0.4" vector-effect="non-scaling-stroke" stroke-linejoin="round"/>
<path d="M95.0,185.0C96.2,179.8 110.7,156.7 120.0,150.0C129.3,143.3 167.4,126.8 175.0,128.0C182.6,129.2 190.2,154.5 185.0,160.0C179.8,165.5 138.8,170.9 130.0,175.0C121.2,179.1 114.1,193.8 110.0,195.0C105.9,196.2 93.8,190.2 95.0,185.0Z" fill="#c0c0c0" stroke="#5a5a5a" stroke-opacity="0.55" stroke-width="0.4" vector-effect="non-scaling-stroke" stroke-linejoin="round"/>
<path d="M60.0,240.0C58.2,233.6 65.9,206.4 70.0,200.0C74.1,193.6 90.3,185.6 95.0,185.0C99.7,184.4 109.4,189.8 110.0,195.0C110.6,200.2 102.9,223.0 100.0,230.0C97.1,237.0 89.7,253.8 85.0,255.0C80.3,256.2 61.8,246.4 60.0,240.0Z" fill="#ffff6b" stroke="#5a5a5a" stroke-opacity="0.55" stroke-width="0.4" vector-effect="non-scaling-stroke" stroke-linejoin="round"/>
<path d="M0.0,240.0C7.0,221.3 50.1,238.2 60.0,240.0C69.9,241.8 80.3,251.5 85.0,255.0C89.7,258.5 92.4,264.8 100.0,270.0C107.6,275.2 140.7,295.3 150.0,300.0C159.3,304.7 176.5,298.3 180.0,310.0C183.5,321.7 201.0,389.5 180.0,400.0C159.0,410.5 21.0,418.7 0.0,400.0C-21.0,381.3 -7.0,258.7 0.0,240.0Z" fill="#ffaa00" stroke="#5a5a5a" stroke-opacity="0.55" stroke-width="0.4" vector-effect="non-scaling-stroke" stroke-linejoin="round"/>
<path d="M295.0,150.0C297.9,147.1 319.2,137.7 325.0,140.0C330.8,142.3 341.5,161.2 345.0,170.0C348.5,178.8 355.0,206.2 355.0,215.0C355.0,223.8 348.5,241.5 345.0,245.0C341.5,248.5 327.9,250.2 325.0,245.0C322.1,239.8 322.9,209.3 320.0,200.0C317.1,190.7 302.9,170.8 300.0,165.0C297.1,159.2 292.1,152.9 295.0,150.0Z" fill="#ffff73" stroke="#5a5a5a" stroke-opacity="0.55" stroke-width="0.4" vector-effect="non-scaling-stroke" stroke-linejoin="round"/>
<path d="M250.0,300.0C253.5,296.5 308.9,281.4 320.0,275.0C331.1,268.6 341.5,243.8 345.0,245.0C348.5,246.2 356.4,278.0 350.0,285.0C343.6,292.0 301.7,303.2 290.0,305.0C278.3,306.8 246.5,303.5 250.0,300.0Z" fill="#c0c0c0" stroke="#5a5a5a" stroke-opacity="0.55" stroke-width="0.4" vector-effect="non-scaling-stroke" stroke-linejoin="round"/>
<path d="M190.0,345.0C195.8,335.4 228.3,323.5 240.0,318.0C251.7,312.5 277.2,302.4 290.0,298.0C302.8,293.6 334.8,284.2 350.0,280.0C365.2,275.8 400.2,264.9 420.0,262.0C439.8,259.1 508.3,238.9 520.0,255.0C531.7,271.1 558.5,383.1 520.0,400.0C481.5,416.9 228.5,406.4 190.0,400.0C151.5,393.6 184.2,354.6 190.0,345.0Z" fill="#ff8c00" stroke="#5a5a5a" stroke-opacity="0.55" stroke-width="0.4" vector-effect="non-scaling-stroke" stroke-linejoin="round"/>
<path d="M60.0,232.0C60.0,221.5 70.0,204.5 80.0,195.0C90.0,185.5 105.0,180.8 120.0,175.0C135.0,169.2 151.7,163.8 170.0,160.0C188.3,156.2 210.0,154.0 230.0,152.0C250.0,150.0 275.8,146.7 290.0,148.0C304.2,149.3 309.2,151.3 315.0,160.0C320.8,168.7 324.2,186.7 325.0,200.0C325.8,213.3 323.3,228.3 320.0,240.0C316.7,251.7 313.3,260.8 305.0,270.0C296.7,279.2 280.8,287.5 270.0,295.0C259.2,302.5 251.7,308.3 240.0,315.0C228.3,321.7 210.0,335.5 200.0,335.0C190.0,334.5 188.3,319.5 180.0,312.0C171.7,304.5 161.7,296.7 150.0,290.0C138.3,283.3 121.7,277.3 110.0,272.0C98.3,266.7 88.3,264.7 80.0,258.0C71.7,251.3 60.0,242.5 60.0,232.0Z" fill="#c0c0c0" stroke="#5a5a5a" stroke-opacity="0.55" stroke-width="0.4" vector-effect="non-scaling-stroke"/>
<path d="M135,238 C140,200 190,178 250,180 C300,182 325,205 325,235" fill="none" stroke="#5a5a5a" stroke-opacity="0.55" stroke-width="0.4" vector-effect="non-scaling-stroke"/>
</g>
<path d="M25.0,225.0C25.0,209.2 27.5,188.3 35.0,170.0C42.5,151.7 54.2,130.8 70.0,115.0C85.8,99.2 105.0,86.7 130.0,75.0C155.0,63.3 191.7,51.7 220.0,45.0C248.3,38.3 276.7,35.0 300.0,35.0C323.3,35.0 341.7,36.7 360.0,45.0C378.3,53.3 396.7,70.8 410.0,85.0C423.3,99.2 430.8,114.2 440.0,130.0C449.2,145.8 459.2,165.0 465.0,180.0C470.8,195.0 475.0,209.2 475.0,220.0C475.0,230.8 474.2,237.5 465.0,245.0C455.8,252.5 439.2,258.3 420.0,265.0C400.8,271.7 371.7,278.3 350.0,285.0C328.3,291.7 308.3,298.3 290.0,305.0C271.7,311.7 255.0,320.0 240.0,325.0C225.0,330.0 210.0,337.5 200.0,335.0C190.0,332.5 190.0,316.7 180.0,310.0C170.0,303.3 158.3,298.3 140.0,295.0C121.7,291.7 87.5,295.0 70.0,290.0C52.5,285.0 42.5,275.8 35.0,265.0C27.5,254.2 25.0,240.8 25.0,225.0Z" fill="none" stroke="#8a8a8a" stroke-opacity="0.7" stroke-width="0.45" vector-effect="non-scaling-stroke"/>
</g>
<g transform="translate(305.136,322.632) scale(-0.12477,0.12477)">
<clipPath id="c7"><path d="M28.0,215.0C29.3,207.2 29.7,197.5 35.0,185.0C40.3,172.5 49.2,155.8 60.0,140.0C70.8,124.2 88.3,103.8 100.0,90.0C111.7,76.2 119.2,65.8 130.0,57.0C140.8,48.2 151.7,41.3 165.0,37.0C178.3,32.7 194.8,31.7 210.0,31.0C225.2,30.3 241.7,31.5 256.0,33.0C270.3,34.5 281.0,35.5 296.0,40.0C311.0,44.5 328.5,50.8 346.0,60.0C363.5,69.2 384.3,83.3 401.0,95.0C417.7,106.7 433.5,116.7 446.0,130.0C458.5,143.3 469.3,160.8 476.0,175.0C482.7,189.2 484.7,204.2 486.0,215.0C487.3,225.8 487.3,231.3 484.0,240.0C480.7,248.7 474.8,259.5 466.0,267.0C457.2,274.5 445.2,281.2 431.0,285.0C416.8,288.8 394.3,287.5 381.0,290.0C367.7,292.5 358.0,294.7 351.0,300.0C344.0,305.3 344.0,314.2 339.0,322.0C334.0,329.8 329.8,341.5 321.0,347.0C312.2,352.5 296.8,355.0 286.0,355.0C275.2,355.0 274.5,354.2 256.0,347.0C237.5,339.8 201.0,322.0 175.0,312.0C149.0,302.0 120.8,295.3 100.0,287.0C79.2,278.7 62.2,271.2 50.0,262.0C37.8,252.8 30.7,239.8 27.0,232.0C23.3,224.2 26.7,222.8 28.0,215.0Z"/></clipPath>
<g clip-path="url(#c7)">
<path d="M28.0,215.0C29.3,207.2 29.7,197.5 35.0,185.0C40.3,172.5 49.2,155.8 60.0,140.0C70.8,124.2 88.3,103.8 100.0,90.0C111.7,76.2 119.2,65.8 130.0,57.0C140.8,48.2 151.7,41.3 165.0,37.0C178.3,32.7 194.8,31.7 210.0,31.0C225.2,30.3 241.7,31.5 256.0,33.0C270.3,34.5 281.0,35.5 296.0,40.0C311.0,44.5 328.5,50.8 346.0,60.0C363.5,69.2 384.3,83.3 401.0,95.0C417.7,106.7 433.5,116.7 446.0,130.0C458.5,143.3 469.3,160.8 476.0,175.0C482.7,189.2 484.7,204.2 486.0,215.0C487.3,225.8 487.3,231.3 484.0,240.0C480.7,248.7 474.8,259.5 466.0,267.0C457.2,274.5 445.2,281.2 431.0,285.0C416.8,288.8 394.3,287.5 381.0,290.0C367.7,292.5 358.0,294.7 351.0,300.0C344.0,305.3 344.0,314.2 339.0,322.0C334.0,329.8 329.8,341.5 321.0,347.0C312.2,352.5 296.8,355.0 286.0,355.0C275.2,355.0 274.5,354.2 256.0,347.0C237.5,339.8 201.0,322.0 175.0,312.0C149.0,302.0 120.8,295.3 100.0,287.0C79.2,278.7 62.2,271.2 50.0,262.0C37.8,252.8 30.7,239.8 27.0,232.0C23.3,224.2 26.7,222.8 28.0,215.0Z" fill="#ffff19"/>
<path d="M0.0,190.0C3.1,200.7 20.0,190.0 27.0,192.0C34.0,194.0 51.8,202.9 60.0,207.0C68.2,211.1 90.6,226.1 97.0,227.0C103.4,227.9 108.8,216.4 115.0,215.0C121.2,213.6 143.9,217.7 150.0,215.0C156.1,212.3 165.8,199.6 167.0,192.0C168.2,184.4 160.8,159.0 160.0,150.0C159.2,141.0 158.8,122.0 160.0,115.0C161.2,108.0 172.3,92.9 170.0,90.0C167.7,87.1 148.2,90.0 140.0,90.0C131.8,90.0 109.3,93.5 100.0,90.0C90.7,86.5 71.7,58.8 60.0,60.0C48.3,61.2 7.0,84.8 0.0,100.0C-7.0,115.2 -3.1,179.3 0.0,190.0Z" fill="#ffff84" stroke="#5a5a5a" stroke-opacity="0.55" stroke-width="0.4" vector-effect="non-scaling-stroke" stroke-linejoin="round"/>
<path d="M60.0,60.0C57.7,70.5 90.7,86.5 100.0,90.0C109.3,93.5 131.8,90.0 140.0,90.0C148.2,90.0 163.9,91.8 170.0,90.0C176.1,88.2 189.7,85.5 192.0,75.0C194.3,64.5 198.4,8.8 190.0,0.0C181.6,-8.8 135.2,-7.0 120.0,0.0C104.8,7.0 62.3,49.5 60.0,60.0Z" fill="#c0c0c0" stroke="#5a5a5a" stroke-opacity="0.55" stroke-width="0.4" vector-effect="non-scaling-stroke" stroke-linejoin="round"/>
<path d="M170.0,90.0C173.7,85.3 186.8,76.2 192.0,75.0C197.2,73.8 208.8,77.1 215.0,80.0C221.2,82.9 239.8,93.0 245.0,100.0C250.2,107.0 257.6,129.5 260.0,140.0C262.4,150.5 264.7,182.8 266.0,190.0C267.3,197.2 272.2,199.4 271.0,202.0C269.8,204.6 261.9,212.0 256.0,212.0C250.1,212.0 227.1,204.3 220.0,202.0C212.9,199.7 201.2,193.2 195.0,192.0C188.8,190.8 171.1,196.9 167.0,192.0C162.9,187.1 160.8,159.0 160.0,150.0C159.2,141.0 158.8,122.0 160.0,115.0C161.2,108.0 166.3,94.7 170.0,90.0Z" fill="#ffff5a" stroke="#5a5a5a" stroke-opacity="0.55" stroke-width="0.4" vector-effect="non-scaling-stroke" stroke-linejoin="round"/>
<path d="M190.0,0.0C192.7,-8.8 212.1,-3.6 215.0,0.0C217.9,3.6 210.2,23.4 215.0,31.0C219.8,38.6 248.9,55.2 256.0,65.0C263.1,74.8 271.9,100.2 276.0,115.0C280.1,129.8 291.6,181.8 291.0,192.0C290.4,202.2 273.9,202.2 271.0,202.0C268.1,201.8 267.3,197.2 266.0,190.0C264.7,182.8 262.4,150.5 260.0,140.0C257.6,129.5 250.2,107.0 245.0,100.0C239.8,93.0 221.2,82.9 215.0,80.0C208.8,77.1 194.9,84.3 192.0,75.0C189.1,65.7 187.3,8.8 190.0,0.0Z" fill="#c0c0c0" stroke="#5a5a5a" stroke-opacity="0.55" stroke-width="0.4" vector-effect="non-scaling-stroke" stroke-linejoin="round"/>
<path d="M215.0,0.0C225.0,-3.6 291.0,-4.9 301.0,0.0C311.0,4.9 297.5,32.7 301.0,42.0C304.5,51.3 324.6,69.2 331.0,80.0C337.4,90.8 352.5,126.8 356.0,135.0C359.5,143.2 362.8,143.3 361.0,150.0C359.2,156.7 349.2,187.1 341.0,192.0C332.8,196.9 298.6,201.0 291.0,192.0C283.4,183.0 280.1,129.8 276.0,115.0C271.9,100.2 263.1,74.8 256.0,65.0C248.9,55.2 219.8,38.6 215.0,31.0C210.2,23.4 205.0,3.6 215.0,0.0Z" fill="#c0c0c0" stroke="#5a5a5a" stroke-opacity="0.55" stroke-width="0.4" vector-effect="non-scaling-stroke" stroke-linejoin="round"/>
<path d="M301.0,0.0C314.9,-4.9 406.1,-9.3 420.0,0.0C433.9,9.3 422.2,68.9 420.0,80.0C417.8,91.1 404.4,88.6 401.0,95.0C397.6,101.4 392.4,128.0 391.0,135.0C389.6,142.0 392.5,153.2 389.0,155.0C385.5,156.8 364.9,152.3 361.0,150.0C357.1,147.7 359.5,143.2 356.0,135.0C352.5,126.8 337.4,90.8 331.0,80.0C324.6,69.2 304.5,51.3 301.0,42.0C297.5,32.7 287.1,4.9 301.0,0.0Z" fill="#ffff37" stroke="#5a5a5a" stroke-opacity="0.55" stroke-width="0.4" vector-effect="non-scaling-stroke" stroke-linejoin="round"/>
<path d="M420.0,0.0C441.0,-9.3 579.0,-30.3 600.0,0.0C621.0,30.3 613.5,232.0 600.0,260.0C586.5,288.0 500.2,242.7 484.0,240.0C467.8,237.3 465.4,240.8 461.0,237.0C456.6,233.2 453.0,211.1 446.0,207.0C439.0,202.9 407.6,208.1 401.0,202.0C394.4,195.9 390.2,162.8 389.0,155.0C387.8,147.2 389.6,142.0 391.0,135.0C392.4,128.0 397.6,101.4 401.0,95.0C404.4,88.6 417.8,91.1 420.0,80.0C422.2,68.9 399.0,9.3 420.0,0.0Z" fill="#ffaa00" stroke="#5a5a5a" stroke-opacity="0.55" stroke-width="0.4" vector-effect="non-scaling-stroke" stroke-linejoin="round"/>
<path d="M290.0,0.0C316.8,-4.7 493.2,-14.0 520.0,0.0C546.8,14.0 527.6,103.7 520.0,120.0C512.4,136.3 464.3,137.4 455.0,140.0C445.7,142.6 446.3,146.0 440.0,142.0C433.7,138.0 412.0,114.2 401.0,106.0C390.0,97.8 358.2,78.3 346.0,72.0C333.8,65.7 302.5,55.7 296.0,52.0C289.5,48.3 290.7,46.1 290.0,40.0C289.3,33.9 263.2,4.7 290.0,0.0Z" fill="#ffda00" stroke="#5a5a5a" stroke-opacity="0.55" stroke-width="0.4" vector-effect="non-scaling-stroke" stroke-linejoin="round"/>
<path d="M361.0,150.0C366.6,145.7 384.3,148.9 389.0,155.0C393.7,161.1 402.5,193.6 401.0,202.0C399.5,210.4 382.4,227.6 376.0,227.0C369.6,226.4 350.1,201.1 346.0,197.0C341.9,192.9 339.2,197.5 341.0,192.0C342.8,186.5 355.4,154.3 361.0,150.0Z" fill="#ffe100" stroke="#5a5a5a" stroke-opacity="0.55" stroke-width="0.4" vector-effect="non-scaling-stroke" stroke-linejoin="round"/>
<path d="M376.0,227.0C377.8,221.8 392.8,204.3 401.0,202.0C409.2,199.7 439.0,202.9 446.0,207.0C453.0,211.1 463.9,231.2 461.0,237.0C458.1,242.8 429.8,255.8 421.0,257.0C412.2,258.2 391.2,250.5 386.0,247.0C380.8,243.5 374.2,232.2 376.0,227.0Z" fill="#c0c0c0" stroke="#5a5a5a" stroke-opacity="0.55" stroke-width="0.4" vector-effect="non-scaling-stroke" stroke-linejoin="round"/>
<path d="M411.0,257.0C409.8,254.7 415.2,259.3 421.0,257.0C426.8,254.7 453.6,239.0 461.0,237.0C468.4,235.0 467.8,238.5 484.0,240.0C500.2,241.5 586.5,243.0 600.0,250.0C613.5,257.0 615.6,298.0 600.0,300.0C584.4,302.0 485.7,269.7 466.0,267.0C446.3,264.3 437.4,278.2 431.0,277.0C424.6,275.8 412.2,259.3 411.0,257.0Z" fill="#ff9300" stroke="#5a5a5a" stroke-opacity="0.55" stroke-width="0.4" vector-effect="non-scaling-stroke" stroke-linejoin="round"/>
<path d="M371.0,272.0C371.6,254.2 381.3,248.8 386.0,247.0C390.7,245.2 405.8,253.5 411.0,257.0C416.2,260.5 424.6,275.8 431.0,277.0C437.4,278.2 446.3,264.3 466.0,267.0C485.7,269.7 584.4,284.5 600.0,300.0C615.6,315.5 625.5,388.3 600.0,400.0C574.5,411.7 407.7,414.9 381.0,400.0C354.3,385.1 370.4,289.9 371.0,272.0Z" fill="#ffb900" stroke="#5a5a5a" stroke-opacity="0.55" stroke-width="0.4" vector-effect="non-scaling-stroke" stroke-linejoin="round"/>
<path d="M97.0,227.0C99.3,223.3 108.2,216.4 115.0,215.0C121.8,213.6 149.8,212.7 155.0,215.0C160.2,217.3 158.2,231.3 160.0,235.0C161.8,238.7 165.3,245.0 170.0,247.0C174.7,249.0 190.0,248.0 200.0,252.0C210.0,256.0 244.8,274.6 256.0,281.0C267.2,287.4 287.8,301.1 296.0,307.0C304.2,312.9 320.9,321.1 326.0,332.0C331.1,342.9 366.9,392.1 340.0,400.0C313.1,407.9 123.6,417.9 95.0,400.0C66.4,382.1 94.8,267.2 95.0,247.0C95.2,226.8 94.7,230.7 97.0,227.0Z" fill="#ffe800" stroke="#5a5a5a" stroke-opacity="0.55" stroke-width="0.4" vector-effect="non-scaling-stroke" stroke-linejoin="round"/>
<path d="M95.0,247.0C101.4,246.7 137.8,266.8 150.0,272.0C162.2,277.2 187.6,286.8 200.0,292.0C212.4,297.2 244.3,311.4 256.0,317.0C267.7,322.6 290.2,330.3 300.0,340.0C309.8,349.7 363.3,393.0 340.0,400.0C316.7,407.0 128.0,413.2 100.0,400.0C72.0,386.8 100.6,301.6 100.0,287.0C99.4,272.4 95.6,279.7 95.0,275.0C94.4,270.3 88.6,247.3 95.0,247.0Z" fill="#ffb000" stroke="#5a5a5a" stroke-opacity="0.55" stroke-width="0.4" vector-effect="non-scaling-stroke" stroke-linejoin="round"/>
<path d="M256.0,222.0C254.8,216.8 260.5,204.9 271.0,202.0C281.5,199.1 333.8,194.1 346.0,197.0C358.2,199.9 371.3,221.2 376.0,227.0C380.7,232.8 386.6,241.8 386.0,247.0C385.4,252.2 373.9,266.8 371.0,272.0C368.1,277.2 364.1,288.7 361.0,292.0C357.9,295.3 348.7,302.3 344.0,300.0C339.3,297.7 328.4,278.2 321.0,272.0C313.6,265.8 288.6,252.8 281.0,247.0C273.4,241.2 257.2,227.2 256.0,222.0Z" fill="#fffa00" stroke="#5a5a5a" stroke-opacity="0.55" stroke-width="0.4" vector-effect="non-scaling-stroke" stroke-linejoin="round"/>
<path d="M240.0,200.0C240.0,193.9 261.2,194.5 266.0,200.0C270.8,205.5 281.0,240.9 281.0,247.0C281.0,253.1 270.8,257.5 266.0,252.0C261.2,246.5 240.0,206.1 240.0,200.0Z" fill="#c0c0c0" stroke="#5a5a5a" stroke-opacity="0.55" stroke-width="0.4" vector-effect="non-scaling-stroke" stroke-linejoin="round"/>
<path d="M195.0,192.0C197.9,189.7 212.9,198.5 220.0,202.0C227.1,205.5 248.9,216.8 256.0,222.0C263.1,227.2 273.4,241.2 281.0,247.0C288.6,252.8 313.6,265.8 321.0,272.0C328.4,278.2 341.9,294.2 344.0,300.0C346.1,305.8 341.1,318.3 339.0,322.0C336.9,325.7 331.0,333.8 326.0,332.0C321.0,330.2 304.2,312.9 296.0,307.0C287.8,301.1 267.2,287.4 256.0,281.0C244.8,274.6 207.1,258.9 200.0,252.0C192.9,245.1 195.6,229.0 195.0,222.0C194.4,215.0 192.1,194.3 195.0,192.0Z" fill="#ffff2d" stroke="#5a5a5a" stroke-opacity="0.55" stroke-width="0.4" vector-effect="non-scaling-stroke" stroke-linejoin="round"/>
<path d="M155.0,215.0C155.8,210.0 162.3,194.7 167.0,192.0C171.7,189.3 191.7,188.5 195.0,192.0C198.3,195.5 194.4,215.0 195.0,222.0C195.6,229.0 202.9,249.1 200.0,252.0C197.1,254.9 174.7,249.0 170.0,247.0C165.3,245.0 161.8,238.7 160.0,235.0C158.2,231.3 154.2,220.0 155.0,215.0Z" fill="#c0c0c0" stroke="#5a5a5a" stroke-opacity="0.55" stroke-width="0.4" vector-effect="non-scaling-stroke" stroke-linejoin="round"/>
</g>
<path d="M28.0,215.0C29.3,207.2 29.7,197.5 35.0,185.0C40.3,172.5 49.2,155.8 60.0,140.0C70.8,124.2 88.3,103.8 100.0,90.0C111.7,76.2 119.2,65.8 130.0,57.0C140.8,48.2 151.7,41.3 165.0,37.0C178.3,32.7 194.8,31.7 210.0,31.0C225.2,30.3 241.7,31.5 256.0,33.0C270.3,34.5 281.0,35.5 296.0,40.0C311.0,44.5 328.5,50.8 346.0,60.0C363.5,69.2 384.3,83.3 401.0,95.0C417.7,106.7 433.5,116.7 446.0,130.0C458.5,143.3 469.3,160.8 476.0,175.0C482.7,189.2 484.7,204.2 486.0,215.0C487.3,225.8 487.3,231.3 484.0,240.0C480.7,248.7 474.8,259.5 466.0,267.0C457.2,274.5 445.2,281.2 431.0,285.0C416.8,288.8 394.3,287.5 381.0,290.0C367.7,292.5 358.0,294.7 351.0,300.0C344.0,305.3 344.0,314.2 339.0,322.0C334.0,329.8 329.8,341.5 321.0,347.0C312.2,352.5 296.8,355.0 286.0,355.0C275.2,355.0 274.5,354.2 256.0,347.0C237.5,339.8 201.0,322.0 175.0,312.0C149.0,302.0 120.8,295.3 100.0,287.0C79.2,278.7 62.2,271.2 50.0,262.0C37.8,252.8 30.7,239.8 27.0,232.0C23.3,224.2 26.7,222.8 28.0,215.0Z" fill="none" stroke="#8a8a8a" stroke-opacity="0.7" stroke-width="0.45" vector-effect="non-scaling-stroke"/>
</g>
<g transform="translate(376.964,322.561) scale(-0.13256,0.13256)">
<clipPath id="c8"><path d="M25.0,225.0C25.0,209.2 27.5,188.3 35.0,170.0C42.5,151.7 54.2,130.8 70.0,115.0C85.8,99.2 105.0,86.7 130.0,75.0C155.0,63.3 191.7,51.7 220.0,45.0C248.3,38.3 276.7,35.0 300.0,35.0C323.3,35.0 341.7,36.7 360.0,45.0C378.3,53.3 396.7,70.8 410.0,85.0C423.3,99.2 430.8,114.2 440.0,130.0C449.2,145.8 459.2,165.0 465.0,180.0C470.8,195.0 475.0,209.2 475.0,220.0C475.0,230.8 474.2,237.5 465.0,245.0C455.8,252.5 439.2,258.3 420.0,265.0C400.8,271.7 371.7,278.3 350.0,285.0C328.3,291.7 308.3,298.3 290.0,305.0C271.7,311.7 255.0,320.0 240.0,325.0C225.0,330.0 210.0,337.5 200.0,335.0C190.0,332.5 190.0,316.7 180.0,310.0C170.0,303.3 158.3,298.3 140.0,295.0C121.7,291.7 87.5,295.0 70.0,290.0C52.5,285.0 42.5,275.8 35.0,265.0C27.5,254.2 25.0,240.8 25.0,225.0Z"/></clipPath>
<g clip-path="url(#c8)">
<path d="M25.0,225.0C25.0,209.2 27.5,188.3 35.0,170.0C42.5,151.7 54.2,130.8 70.0,115.0C85.8,99.2 105.0,86.7 130.0,75.0C155.0,63.3 191.7,51.7 220.0,45.0C248.3,38.3 276.7,35.0 300.0,35.0C323.3,35.0 341.7,36.7 360.0,45.0C378.3,53.3 396.7,70.8 410.0,85.0C423.3,99.2 430.8,114.2 440.0,130.0C449.2,145.8 459.2,165.0 465.0,180.0C470.8,195.0 475.0,209.2 475.0,220.0C475.0,230.8 474.2,237.5 465.0,245.0C455.8,252.5 439.2,258.3 420.0,265.0C400.8,271.7 371.7,278.3 350.0,285.0C328.3,291.7 308.3,298.3 290.0,305.0C271.7,311.7 255.0,320.0 240.0,325.0C225.0,330.0 210.0,337.5 200.0,335.0C190.0,332.5 190.0,316.7 180.0,310.0C170.0,303.3 158.3,298.3 140.0,295.0C121.7,291.7 87.5,295.0 70.0,290.0C52.5,285.0 42.5,275.8 35.0,265.0C27.5,254.2 25.0,240.8 25.0,225.0Z" fill="#c0c0c0"/>
<path d="M0.0,0.0C25.7,-28.0 193.8,-11.7 220.0,0.0C246.2,11.7 230.2,86.0 225.0,100.0C219.8,114.0 187.2,114.8 175.0,120.0C162.8,125.2 129.9,138.0 120.0,145.0C110.1,152.0 95.8,173.6 90.0,180.0C84.2,186.4 73.5,193.0 70.0,200.0C66.5,207.0 68.2,235.3 60.0,240.0C51.8,244.7 7.0,268.0 0.0,240.0C-7.0,212.0 -25.7,28.0 0.0,0.0Z" fill="#ffda00" stroke="#5a5a5a" stroke-opacity="0.55" stroke-width="0.4" vector-effect="non-scaling-stroke" stroke-linejoin="round"/>
<path d="M220.0,0.0C230.2,-12.2 300.6,-11.7 312.0,0.0C323.4,11.7 328.1,87.8 318.0,100.0C307.9,112.2 236.4,116.7 225.0,105.0C213.6,93.3 209.8,12.2 220.0,0.0Z" fill="#c0c0c0" stroke="#5a5a5a" stroke-opacity="0.55" stroke-width="0.4" vector-effect="non-scaling-stroke" stroke-linejoin="round"/>
<path d="M312.0,0.0C335.6,-11.7 495.7,-11.7 520.0,0.0C544.3,11.7 529.3,84.8 520.0,100.0C510.7,115.2 451.7,122.4 440.0,130.0C428.3,137.6 425.2,156.8 420.0,165.0C414.8,173.2 402.6,194.2 395.0,200.0C387.4,205.8 360.8,218.5 355.0,215.0C349.2,211.5 348.5,178.8 345.0,170.0C341.5,161.2 328.1,148.2 325.0,140.0C321.9,131.8 319.5,116.3 318.0,100.0C316.5,83.7 288.4,11.7 312.0,0.0Z" fill="#c0c0c0" stroke="#5a5a5a" stroke-opacity="0.55" stroke-width="0.4" vector-effect="non-scaling-stroke" stroke-linejoin="round"/>
<path d="M440.0,130.0C451.7,122.4 510.7,90.1 520.0,100.0C529.3,109.9 525.8,202.2 520.0,215.0C514.2,227.8 479.3,211.8 470.0,210.0C460.7,208.2 448.2,200.6 440.0,200.0C431.8,199.4 402.3,209.1 400.0,205.0C397.7,200.9 415.3,173.8 420.0,165.0C424.7,156.2 428.3,137.6 440.0,130.0Z" fill="#c0c0c0" stroke="#5a5a5a" stroke-opacity="0.55" stroke-width="0.4" vector-effect="non-scaling-stroke" stroke-linejoin="round"/>
<path d="M395.0,205.0C400.8,202.1 431.2,199.4 440.0,200.0C448.8,200.6 460.7,208.2 470.0,210.0C479.3,211.8 514.2,211.5 520.0,215.0C525.8,218.5 527.0,237.1 520.0,240.0C513.0,242.9 471.7,240.6 460.0,240.0C448.3,239.4 428.2,236.8 420.0,235.0C411.8,233.2 392.9,228.5 390.0,225.0C387.1,221.5 389.2,207.9 395.0,205.0Z" fill="#c0c0c0" stroke="#5a5a5a" stroke-opacity="0.55" stroke-width="0.4" vector-effect="non-scaling-stroke" stroke-linejoin="round"/>
<path d="M340.0,245.0C348.2,238.6 380.7,226.2 390.0,225.0C399.3,223.8 411.8,233.2 420.0,235.0C428.2,236.8 448.3,239.4 460.0,240.0C471.7,240.6 513.0,233.0 520.0,240.0C527.0,247.0 531.7,297.1 520.0,300.0C508.3,302.9 439.8,266.8 420.0,265.0C400.2,263.2 361.7,283.2 350.0,285.0C338.3,286.8 321.2,284.7 320.0,280.0C318.8,275.3 331.8,251.4 340.0,245.0Z" fill="#ffff29" stroke="#5a5a5a" stroke-opacity="0.55" stroke-width="0.4" vector-effect="non-scaling-stroke" stroke-linejoin="round"/>
<path d="M175.0,120.0C179.7,113.9 208.3,109.4 225.0,108.0C241.7,106.6 306.3,104.3 318.0,108.0C329.7,111.7 327.1,135.1 325.0,140.0C322.9,144.9 311.1,148.8 300.0,150.0C288.9,151.2 243.4,148.8 230.0,150.0C216.6,151.2 191.4,163.5 185.0,160.0C178.6,156.5 170.3,126.1 175.0,120.0Z" fill="#c0c0c0" stroke="#5a5a5a" stroke-opacity="0.55" stroke-width="0.4" vector-effect="non-scaling-stroke" stroke-linejoin="round"/>
<path d="M95.0,185.0C96.2,179.8 110.7,156.7 120.0,150.0C129.3,143.3 167.4,126.8 175.0,128.0C182.6,129.2 190.2,154.5 185.0,160.0C179.8,165.5 138.8,170.9 130.0,175.0C121.2,179.1 114.1,193.8 110.0,195.0C105.9,196.2 93.8,190.2 95.0,185.0Z" fill="#c0c0c0" stroke="#5a5a5a" stroke-opacity="0.55" stroke-width="0.4" vector-effect="non-scaling-stroke" stroke-linejoin="round"/>
<path d="M60.0,240.0C58.2,233.6 65.9,206.4 70.0,200.0C74.1,193.6 90.3,185.6 95.0,185.0C99.7,184.4 109.4,189.8 110.0,195.0C110.6,200.2 102.9,223.0 100.0,230.0C97.1,237.0 89.7,253.8 85.0,255.0C80.3,256.2 61.8,246.4 60.0,240.0Z" fill="#ffe200" stroke="#5a5a5a" stroke-opacity="0.55" stroke-width="0.4" vector-effect="non-scaling-stroke" stroke-linejoin="round"/>
<path d="M0.0,240.0C7.0,221.3 50.1,238.2 60.0,240.0C69.9,241.8 80.3,251.5 85.0,255.0C89.7,258.5 92.4,264.8 100.0,270.0C107.6,275.2 140.7,295.3 150.0,300.0C159.3,304.7 176.5,298.3 180.0,310.0C183.5,321.7 201.0,389.5 180.0,400.0C159.0,410.5 21.0,418.7 0.0,400.0C-21.0,381.3 -7.0,258.7 0.0,240.0Z" fill="#ffca00" stroke="#5a5a5a" stroke-opacity="0.55" stroke-width="0.4" vector-effect="non-scaling-stroke" stroke-linejoin="round"/>
<path d="M295.0,150.0C297.9,147.1 319.2,137.7 325.0,140.0C330.8,142.3 341.5,161.2 345.0,170.0C348.5,178.8 355.0,206.2 355.0,215.0C355.0,223.8 348.5,241.5 345.0,245.0C341.5,248.5 327.9,250.2 325.0,245.0C322.1,239.8 322.9,209.3 320.0,200.0C317.1,190.7 302.9,170.8 300.0,165.0C297.1,159.2 292.1,152.9 295.0,150.0Z" fill="#ffff27" stroke="#5a5a5a" stroke-opacity="0.55" stroke-width="0.4" vector-effect="non-scaling-stroke" stroke-linejoin="round"/>
<path d="M250.0,300.0C253.5,296.5 308.9,281.4 320.0,275.0C331.1,268.6 341.5,243.8 345.0,245.0C348.5,246.2 356.4,278.0 350.0,285.0C343.6,292.0 301.7,303.2 290.0,305.0C278.3,306.8 246.5,303.5 250.0,300.0Z" fill="#ffffb6" stroke="#5a5a5a" stroke-opacity="0.55" stroke-width="0.4" vector-effect="non-scaling-stroke" stroke-linejoin="round"/>
<path d="M190.0,345.0C195.8,335.4 228.3,323.5 240.0,318.0C251.7,312.5 277.2,302.4 290.0,298.0C302.8,293.6 334.8,284.2 350.0,280.0C365.2,275.8 400.2,264.9 420.0,262.0C439.8,259.1 508.3,238.9 520.0,255.0C531.7,271.1 558.5,383.1 520.0,400.0C481.5,416.9 228.5,406.4 190.0,400.0C151.5,393.6 184.2,354.6 190.0,345.0Z" fill="#ff6c00" stroke="#5a5a5a" stroke-opacity="0.55" stroke-width="0.4" vector-effect="non-scaling-stroke" stroke-linejoin="round"/>
<path d="M60.0,232.0C60.0,221.5 70.0,204.5 80.0,195.0C90.0,185.5 105.0,180.8 120.0,175.0C135.0,169.2 151.7,163.8 170.0,160.0C188.3,156.2 210.0,154.0 230.0,152.0C250.0,150.0 275.8,146.7 290.0,148.0C304.2,149.3 309.2,151.3 315.0,160.0C320.8,168.7 324.2,186.7 325.0,200.0C325.8,213.3 323.3,228.3 320.0,240.0C316.7,251.7 313.3,260.8 305.0,270.0C296.7,279.2 280.8,287.5 270.0,295.0C259.2,302.5 251.7,308.3 240.0,315.0C228.3,321.7 210.0,335.5 200.0,335.0C190.0,334.5 188.3,319.5 180.0,312.0C171.7,304.5 161.7,296.7 150.0,290.0C138.3,283.3 121.7,277.3 110.0,272.0C98.3,266.7 88.3,264.7 80.0,258.0C71.7,251.3 60.0,242.5 60.0,232.0Z" fill="#c0c0c0" stroke="#5a5a5a" stroke-opacity="0.55" stroke-width="0.4" vector-effect="non-scaling-stroke"/>
<path d="M135,238 C140,200 190,178 250,180 C300,182 325,205 325,235" fill="none" stroke="#5a5a5a" stroke-opacity="0.55" stroke-width="0.4" vector-effect="non-scaling-stroke"/>
</g>
<path d="M25.0,225.0C25.0,209.2 27.5,188.3 35.0,170.0C42.5,151.7 54.2,130.8 70.0,115.0C85.8,99.2 105.0,86.7 130.0,75.0C155.0,63.3 191.7,51.7 220.0,45.0C248.3,38.3 276.7,35.0 300.0,35.0C323.3,35.0 341.7,36.7 360.0,45.0C378.3,53.3 396.7,70.8 410.0,85.0C423.3,99.2 430.8,114.2 440.0,130.0C449.2,145.8 459.2,165.0 465.0,180.0C470.8,195.0 475.0,209.2 475.0,220.0C475.0,230.8 474.2,237.5 465.0,245.0C455.8,252.5 439.2,258.3 420.0,265.0C400.8,271.7 371.7,278.3 350.0,285.0C328.3,291.7 308.3,298.3 290.0,305.0C271.7,311.7 255.0,320.0 240.0,325.0C225.0,330.0 210.0,337.5 200.0,335.0C190.0,332.5 190.0,316.7 180.0,310.0C170.0,303.3 158.3,298.3 140.0,295.0C121.7,291.7 87.5,295.0 70.0,290.0C52.5,285.0 42.5,275.8 35.0,265.0C27.5,254.2 25.0,240.8 25.0,225.0Z" fill="none" stroke="#8a8a8a" stroke-opacity="0.7" stroke-width="0.45" vector-effect="non-scaling-stroke"/>
</g>
<g transform="translate(391.631,272.032) scale(0.12477)">
<clipPath id="c9"><path d="M28.0,215.0C29.3,207.2 29.7,197.5 35.0,185.0C40.3,172.5 49.2,155.8 60.0,140.0C70.8,124.2 88.3,103.8 100.0,90.0C111.7,76.2 119.2,65.8 130.0,57.0C140.8,48.2 151.7,41.3 165.0,37.0C178.3,32.7 194.8,31.7 210.0,31.0C225.2,30.3 241.7,31.5 256.0,33.0C270.3,34.5 281.0,35.5 296.0,40.0C311.0,44.5 328.5,50.8 346.0,60.0C363.5,69.2 384.3,83.3 401.0,95.0C417.7,106.7 433.5,116.7 446.0,130.0C458.5,143.3 469.3,160.8 476.0,175.0C482.7,189.2 484.7,204.2 486.0,215.0C487.3,225.8 487.3,231.3 484.0,240.0C480.7,248.7 474.8,259.5 466.0,267.0C457.2,274.5 445.2,281.2 431.0,285.0C416.8,288.8 394.3,287.5 381.0,290.0C367.7,292.5 358.0,294.7 351.0,300.0C344.0,305.3 344.0,314.2 339.0,322.0C334.0,329.8 329.8,341.5 321.0,347.0C312.2,352.5 296.8,355.0 286.0,355.0C275.2,355.0 274.5,354.2 256.0,347.0C237.5,339.8 201.0,322.0 175.0,312.0C149.0,302.0 120.8,295.3 100.0,287.0C79.2,278.7 62.2,271.2 50.0,262.0C37.8,252.8 30.7,239.8 27.0,232.0C23.3,224.2 26.7,222.8 28.0,215.0Z"/></clipPath>
<g clip-path="url(#c9)">
<path d="M28.0,215.0C29.3,207.2 29.7,197.5 35.0,185.0C40.3,172.5 49.2,155.8 60.0,140.0C70.8,124.2 88.3,103.8 100.0,90.0C111.7,76.2 119.2,65.8 130.0,57.0C140.8,48.2 151.7,41.3 165.0,37.0C178.3,32.7 194.8,31.7 210.0,31.0C225.2,30.3 241.7,31.5 256.0,33.0C270.3,34.5 281.0,35.5 296.0,40.0C311.0,44.5 328.5,50.8 346.0,60.0C363.5,69.2 384.3,83.3 401.0,95.0C417.7,106.7 433.5,116.7 446.0,130.0C458.5,143.3 469.3,160.8 476.0,175.0C482.7,189.2 484.7,204.2 486.0,215.0C487.3,225.8 487.3,231.3 484.0,240.0C480.7,248.7 474.8,259.5 466.0,267.0C457.2,274.5 445.2,281.2 431.0,285.0C416.8,288.8 394.3,287.5 381.0,290.0C367.7,292.5 358.0,294.7 351.0,300.0C344.0,305.3 344.0,314.2 339.0,322.0C334.0,329.8 329.8,341.5 321.0,347.0C312.2,352.5 296.8,355.0 286.0,355.0C275.2,355.0 274.5,354.2 256.0,347.0C237.5,339.8 201.0,322.0 175.0,312.0C149.0,302.0 120.8,295.3 100.0,287.0C79.2,278.7 62.2,271.2 50.0,262.0C37.8,252.8 30.7,239.8 27.0,232.0C23.3,224.2 26.7,222.8 28.0,215.0Z" fill="#c0c0c0"/>
<path d="M0.0,190.0C3.1,200.7 20.0,190.0 27.0,192.0C34.0,194.0 51.8,202.9 60.0,207.0C68.2,211.1 90.6,226.1 97.0,227.0C103.4,227.9 108.8,216.4 115.0,215.0C121.2,213.6 143.9,217.7 150.0,215.0C156.1,212.3 165.8,199.6 167.0,192.0C168.2,184.4 160.8,159.0 160.0,150.0C159.2,141.0 158.8,122.0 160.0,115.0C161.2,108.0 172.3,92.9 170.0,90.0C167.7,87.1 148.2,90.0 140.0,90.0C131.8,90.0 109.3,93.5 100.0,90.0C90.7,86.5 71.7,58.8 60.0,60.0C48.3,61.2 7.0,84.8 0.0,100.0C-7.0,115.2 -3.1,179.3 0.0,190.0Z" fill="#c0c0c0" stroke="#5a5a5a" stroke-opacity="0.55" stroke-width="0.4" vector-effect="non-scaling-stroke" stroke-linejoin="round"/>
<path d="M60.0,60.0C57.7,70.5 90.7,86.5 100.0,90.0C109.3,93.5 131.8,90.0 140.0,90.0C148.2,90.0 163.9,91.8 170.0,90.0C176.1,88.2 189.7,85.5 192.0,75.0C194.3,64.5 198.4,8.8 190.0,0.0C181.6,-8.8 135.2,-7.0 120.0,0.0C104.8,7.0 62.3,49.5 60.0,60.0Z" fill="#c0c0c0" stroke="#5a5a5a" stroke-opacity="0.55" stroke-width="0.4" vector-effect="non-scaling-stroke" stroke-linejoin="round"/>
<path d="M170.0,90.0C173.7,85.3 186.8,76.2 192.0,75.0C197.2,73.8 208.8,77.1 215.0,80.0C221.2,82.9 239.8,93.0 245.0,100.0C250.2,107.0 257.6,129.5 260.0,140.0C262.4,150.5 264.7,182.8 266.0,190.0C267.3,197.2 272.2,199.4 271.0,202.0C269.8,204.6 261.9,212.0 256.0,212.0C250.1,212.0 227.1,204.3 220.0,202.0C212.9,199.7 201.2,193.2 195.0,192.0C188.8,190.8 171.1,196.9 167.0,192.0C162.9,187.1 160.8,159.0 160.0,150.0C159.2,141.0 158.8,122.0 160.0,115.0C161.2,108.0 166.3,94.7 170.0,90.0Z" fill="#c0c0c0" stroke="#5a5a5a" stroke-opacity="0.55" stroke-width="0.4" vector-effect="non-scaling-stroke" stroke-linejoin="round"/>
<path d="M190.0,0.0C192.7,-8.8 212.1,-3.6 215.0,0.0C217.9,3.6 210.2,23.4 215.0,31.0C219.8,38.6 248.9,55.2 256.0,65.0C263.1,74.8 271.9,100.2 276.0,115.0C280.1,129.8 291.6,181.8 291.0,192.0C290.4,202.2 273.9,202.2 271.0,202.0C268.1,201.8 267.3,197.2 266.0,190.0C264.7,182.8 262.4,150.5 260.0,140.0C257.6,129.5 250.2,107.0 245.0,100.0C239.8,93.0 221.2,82.9 215.0,80.0C208.8,77.1 194.9,84.3 192.0,75.0C189.1,65.7 187.3,8.8 190.0,0.0Z" fill="#c0c0c0" stroke="#5a5a5a" stroke-opacity="0.55" stroke-width="0.4" vector-effect="non-scaling-stroke" stroke-linejoin="round"/>
<path d="M215.0,0.0C225.0,-3.6 291.0,-4.9 301.0,0.0C311.0,4.9 297.5,32.7 301.0,42.0C304.5,51.3 324.6,69.2 331.0,80.0C337.4,90.8 352.5,126.8 356.0,135.0C359.5,143.2 362.8,143.3 361.0,150.0C359.2,156.7 349.2,187.1 341.0,192.0C332.8,196.9 298.6,201.0 291.0,192.0C283.4,183.0 280.1,129.8 276.0,115.0C271.9,100.2 263.1,74.8 256.0,65.0C248.9,55.2 219.8,38.6 215.0,31.0C210.2,23.4 205.0,3.6 215.0,0.0Z" fill="#ffff71" stroke="#5a5a5a" stroke-opacity="0.55" stroke-width="0.4" vector-effect="non-scaling-stroke" stroke-linejoin="round"/>
<path d="M301.0,0.0C314.9,-4.9 406.1,-9.3 420.0,0.0C433.9,9.3 422.2,68.9 420.0,80.0C417.8,91.1 404.4,88.6 401.0,95.0C397.6,101.4 392.4,128.0 391.0,135.0C389.6,142.0 392.5,153.2 389.0,155.0C385.5,156.8 364.9,152.3 361.0,150.0C357.1,147.7 359.5,143.2 356.0,135.0C352.5,126.8 337.4,90.8 331.0,80.0C324.6,69.2 304.5,51.3 301.0,42.0C297.5,32.7 287.1,4.9 301.0,0.0Z" fill="#ffff52" stroke="#5a5a5a" stroke-opacity="0.55" stroke-width="0.4" vector-effect="non-scaling-stroke" stroke-linejoin="round"/>
<path d="M420.0,0.0C441.0,-9.3 579.0,-30.3 600.0,0.0C621.0,30.3 613.5,232.0 600.0,260.0C586.5,288.0 500.2,242.7 484.0,240.0C467.8,237.3 465.4,240.8 461.0,237.0C456.6,233.2 453.0,211.1 446.0,207.0C439.0,202.9 407.6,208.1 401.0,202.0C394.4,195.9 390.2,162.8 389.0,155.0C387.8,147.2 389.6,142.0 391.0,135.0C392.4,128.0 397.6,101.4 401.0,95.0C404.4,88.6 417.8,91.1 420.0,80.0C422.2,68.9 399.0,9.3 420.0,0.0Z" fill="#c0c0c0" stroke="#5a5a5a" stroke-opacity="0.55" stroke-width="0.4" vector-effect="non-scaling-stroke" stroke-linejoin="round"/>
<path d="M290.0,0.0C316.8,-4.7 493.2,-14.0 520.0,0.0C546.8,14.0 527.6,103.7 520.0,120.0C512.4,136.3 464.3,137.4 455.0,140.0C445.7,142.6 446.3,146.0 440.0,142.0C433.7,138.0 412.0,114.2 401.0,106.0C390.0,97.8 358.2,78.3 346.0,72.0C333.8,65.7 302.5,55.7 296.0,52.0C289.5,48.3 290.7,46.1 290.0,40.0C289.3,33.9 263.2,4.7 290.0,0.0Z" fill="#ffff41" stroke="#5a5a5a" stroke-opacity="0.55" stroke-width="0.4" vector-effect="non-scaling-stroke" stroke-linejoin="round"/>
<path d="M361.0,150.0C366.6,145.7 384.3,148.9 389.0,155.0C393.7,161.1 402.5,193.6 401.0,202.0C399.5,210.4 382.4,227.6 376.0,227.0C369.6,226.4 350.1,201.1 346.0,197.0C341.9,192.9 339.2,197.5 341.0,192.0C342.8,186.5 355.4,154.3 361.0,150.0Z" fill="#c0c0c0" stroke="#5a5a5a" stroke-opacity="0.55" stroke-width="0.4" vector-effect="non-scaling-stroke" stroke-linejoin="round"/>
<path d="M376.0,227.0C377.8,221.8 392.8,204.3 401.0,202.0C409.2,199.7 439.0,202.9 446.0,207.0C453.0,211.1 463.9,231.2 461.0,237.0C458.1,242.8 429.8,255.8 421.0,257.0C412.2,258.2 391.2,250.5 386.0,247.0C380.8,243.5 374.2,232.2 376.0,227.0Z" fill="#c0c0c0" stroke="#5a5a5a" stroke-opacity="0.55" stroke-width="0.4" vector-effect="non-scaling-stroke" stroke-linejoin="round"/>
<path d="M411.0,257.0C409.8,254.7 415.2,259.3 421.0,257.0C426.8,254.7 453.6,239.0 461.0,237.0C468.4,235.0 467.8,238.5 484.0,240.0C500.2,241.5 586.5,243.0 600.0,250.0C613.5,257.0 615.6,298.0 600.0,300.0C584.4,302.0 485.7,269.7 466.0,267.0C446.3,264.3 437.4,278.2 431.0,277.0C424.6,275.8 412.2,259.3 411.0,257.0Z" fill="#ffff1c" stroke="#5a5a5a" stroke-opacity="0.55" stroke-width="0.4" vector-effect="non-scaling-stroke" stroke-linejoin="round"/>
<path d="M371.0,272.0C371.6,254.2 381.3,248.8 386.0,247.0C390.7,245.2 405.8,253.5 411.0,257.0C416.2,260.5 424.6,275.8 431.0,277.0C437.4,278.2 446.3,264.3 466.0,267.0C485.7,269.7 584.4,284.5 600.0,300.0C615.6,315.5 625.5,388.3 600.0,400.0C574.5,411.7 407.7,414.9 381.0,400.0C354.3,385.1 370.4,289.9 371.0,272.0Z" fill="#ffff57" stroke="#5a5a5a" stroke-opacity="0.55" stroke-width="0.4" vector-effect="non-scaling-stroke" stroke-linejoin="round"/>
<path d="M97.0,227.0C99.3,223.3 108.2,216.4 115.0,215.0C121.8,213.6 149.8,212.7 155.0,215.0C160.2,217.3 158.2,231.3 160.0,235.0C161.8,238.7 165.3,245.0 170.0,247.0C174.7,249.0 190.0,248.0 200.0,252.0C210.0,256.0 244.8,274.6 256.0,281.0C267.2,287.4 287.8,301.1 296.0,307.0C304.2,312.9 320.9,321.1 326.0,332.0C331.1,342.9 366.9,392.1 340.0,400.0C313.1,407.9 123.6,417.9 95.0,400.0C66.4,382.1 94.8,267.2 95.0,247.0C95.2,226.8 94.7,230.7 97.0,227.0Z" fill="#ffff25" stroke="#5a5a5a" stroke-opacity="0.55" stroke-width="0.4" vector-effect="non-scaling-stroke" stroke-linejoin="round"/>
<path d="M95.0,247.0C101.4,246.7 137.8,266.8 150.0,272.0C162.2,277.2 187.6,286.8 200.0,292.0C212.4,297.2 244.3,311.4 256.0,317.0C267.7,322.6 290.2,330.3 300.0,340.0C309.8,349.7 363.3,393.0 340.0,400.0C316.7,407.0 128.0,413.2 100.0,400.0C72.0,386.8 100.6,301.6 100.0,287.0C99.4,272.4 95.6,279.7 95.0,275.0C94.4,270.3 88.6,247.3 95.0,247.0Z" fill="#ffff61" stroke="#5a5a5a" stroke-opacity="0.55" stroke-width="0.4" vector-effect="non-scaling-stroke" stroke-linejoin="round"/>
<path d="M256.0,222.0C254.8,216.8 260.5,204.9 271.0,202.0C281.5,199.1 333.8,194.1 346.0,197.0C358.2,199.9 371.3,221.2 376.0,227.0C380.7,232.8 386.6,241.8 386.0,247.0C385.4,252.2 373.9,266.8 371.0,272.0C368.1,277.2 364.1,288.7 361.0,292.0C357.9,295.3 348.7,302.3 344.0,300.0C339.3,297.7 328.4,278.2 321.0,272.0C313.6,265.8 288.6,252.8 281.0,247.0C273.4,241.2 257.2,227.2 256.0,222.0Z" fill="#c0c0c0" stroke="#5a5a5a" stroke-opacity="0.55" stroke-width="0.4" vector-effect="non-scaling-stroke" stroke-linejoin="round"/>
<path d="M240.0,200.0C240.0,193.9 261.2,194.5 266.0,200.0C270.8,205.5 281.0,240.9 281.0,247.0C281.0,253.1 270.8,257.5 266.0,252.0C261.2,246.5 240.0,206.1 240.0,200.0Z" fill="#c0c0c0" stroke="#5a5a5a" stroke-opacity="0.55" stroke-width="0.4" vector-effect="non-scaling-stroke" stroke-linejoin="round"/>
<path d="M195.0,192.0C197.9,189.7 212.9,198.5 220.0,202.0C227.1,205.5 248.9,216.8 256.0,222.0C263.1,227.2 273.4,241.2 281.0,247.0C288.6,252.8 313.6,265.8 321.0,272.0C328.4,278.2 341.9,294.2 344.0,300.0C346.1,305.8 341.1,318.3 339.0,322.0C336.9,325.7 331.0,333.8 326.0,332.0C321.0,330.2 304.2,312.9 296.0,307.0C287.8,301.1 267.2,287.4 256.0,281.0C244.8,274.6 207.1,258.9 200.0,252.0C192.9,245.1 195.6,229.0 195.0,222.0C194.4,215.0 192.1,194.3 195.0,192.0Z" fill="#ffff71" stroke="#5a5a5a" stroke-opacity="0.55" stroke-width="0.4" vector-effect="non-scaling-stroke" stroke-linejoin="round"/>
<path d="M155.0,215.0C155.8,210.0 162.3,194.7 167.0,192.0C171.7,189.3 191.7,188.5 195.0,192.0C198.3,195.5 194.4,215.0 195.0,222.0C195.6,229.0 202.9,249.1 200.0,252.0C197.1,254.9 174.7,249.0 170.0,247.0C165.3,245.0 161.8,238.7 160.0,235.0C158.2,231.3 154.2,220.0 155.0,215.0Z" fill="#c0c0c0" stroke="#5a5a5a" stroke-opacity="0.55" stroke-width="0.4" vector-effect="non-scaling-stroke" stroke-linejoin="round"/>
</g>
<path d="M28.0,215.0C29.3,207.2 29.7,197.5 35.0,185.0C40.3,172.5 49.2,155.8 60.0,140.0C70.8,124.2 88.3,103.8 100.0,90.0C111.7,76.2 119.2,65.8 130.0,57.0C140.8,48.2 151.7,41.3 165.0,37.0C178.3,32.7 194.8,31.7 210.0,31.0C225.2,30.3 241.7,31.5 256.0,33.0C270.3,34.5 281.0,35.5 296.0,40.0C311.0,44.5 328.5,50.8 346.0,60.0C363.5,69.2 384.3,83.3 401.0,95.0C417.7,106.7 433.5,116.7 446.0,130.0C458.5,143.3 469.3,160.8 476.0,175.0C482.7,189.2 484.7,204.2 486.0,215.0C487.3,225.8 487.3,231.3 484.0,240.0C480.7,248.7 474.8,259.5 466.0,267.0C457.2,274.5 445.2,281.2 431.0,285.0C416.8,288.8 394.3,287.5 381.0,290.0C367.7,292.5 358.0,294.7 351.0,300.0C344.0,305.3 344.0,314.2 339.0,322.0C334.0,329.8 329.8,341.5 321.0,347.0C312.2,352.5 296.8,355.0 286.0,355.0C275.2,355.0 274.5,354.2 256.0,347.0C237.5,339.8 201.0,322.0 175.0,312.0C149.0,302.0 120.8,295.3 100.0,287.0C79.2,278.7 62.2,271.2 50.0,262.0C37.8,252.8 30.7,239.8 27.0,232.0C23.3,224.2 26.7,222.8 28.0,215.0Z" fill="none" stroke="#8a8a8a" stroke-opacity="0.7" stroke-width="0.45" vector-effect="non-scaling-stroke"/>
</g>
<g transform="translate(460.286,271.961) scale(0.13256)">
<clipPath id="c10"><path d="M25.0,225.0C25.0,209.2 27.5,188.3 35.0,170.0C42.5,151.7 54.2,130.8 70.0,115.0C85.8,99.2 105.0,86.7 130.0,75.0C155.0,63.3 191.7,51.7 220.0,45.0C248.3,38.3 276.7,35.0 300.0,35.0C323.3,35.0 341.7,36.7 360.0,45.0C378.3,53.3 396.7,70.8 410.0,85.0C423.3,99.2 430.8,114.2 440.0,130.0C449.2,145.8 459.2,165.0 465.0,180.0C470.8,195.0 475.0,209.2 475.0,220.0C475.0,230.8 474.2,237.5 465.0,245.0C455.8,252.5 439.2,258.3 420.0,265.0C400.8,271.7 371.7,278.3 350.0,285.0C328.3,291.7 308.3,298.3 290.0,305.0C271.7,311.7 255.0,320.0 240.0,325.0C225.0,330.0 210.0,337.5 200.0,335.0C190.0,332.5 190.0,316.7 180.0,310.0C170.0,303.3 158.3,298.3 140.0,295.0C121.7,291.7 87.5,295.0 70.0,290.0C52.5,285.0 42.5,275.8 35.0,265.0C27.5,254.2 25.0,240.8 25.0,225.0Z"/></clipPath>
<g clip-path="url(#c10)">
<path d="M25.0,225.0C25.0,209.2 27.5,188.3 35.0,170.0C42.5,151.7 54.2,130.8 70.0,115.0C85.8,99.2 105.0,86.7 130.0,75.0C155.0,63.3 191.7,51.7 220.0,45.0C248.3,38.3 276.7,35.0 300.0,35.0C323.3,35.0 341.7,36.7 360.0,45.0C378.3,53.3 396.7,70.8 410.0,85.0C423.3,99.2 430.8,114.2 440.0,130.0C449.2,145.8 459.2,165.0 465.0,180.0C470.8,195.0 475.0,209.2 475.0,220.0C475.0,230.8 474.2,237.5 465.0,245.0C455.8,252.5 439.2,258.3 420.0,265.0C400.8,271.7 371.7,278.3 350.0,285.0C328.3,291.7 308.3,298.3 290.0,305.0C271.7,311.7 255.0,320.0 240.0,325.0C225.0,330.0 210.0,337.5 200.0,335.0C190.0,332.5 190.0,316.7 180.0,310.0C170.0,303.3 158.3,298.3 140.0,295.0C121.7,291.7 87.5,295.0 70.0,290.0C52.5,285.0 42.5,275.8 35.0,265.0C27.5,254.2 25.0,240.8 25.0,225.0Z" fill="#c0c0c0"/>
<path d="M0.0,0.0C25.7,-28.0 193.8,-11.7 220.0,0.0C246.2,11.7 230.2,86.0 225.0,100.0C219.8,114.0 187.2,114.8 175.0,120.0C162.8,125.2 129.9,138.0 120.0,145.0C110.1,152.0 95.8,173.6 90.0,180.0C84.2,186.4 73.5,193.0 70.0,200.0C66.5,207.0 68.2,235.3 60.0,240.0C51.8,244.7 7.0,268.0 0.0,240.0C-7.0,212.0 -25.7,28.0 0.0,0.0Z" fill="#ffff41" stroke="#5a5a5a" stroke-opacity="0.55" stroke-width="0.4" vector-effect="non-scaling-stroke" stroke-linejoin="round"/>
<path d="M220.0,0.0C230.2,-12.2 300.6,-11.7 312.0,0.0C323.4,11.7 328.1,87.8 318.0,100.0C307.9,112.2 236.4,116.7 225.0,105.0C213.6,93.3 209.8,12.2 220.0,0.0Z" fill="#c0c0c0" stroke="#5a5a5a" stroke-opacity="0.55" stroke-width="0.4" vector-effect="non-scaling-stroke" stroke-linejoin="round"/>
<path d="M312.0,0.0C335.6,-11.7 495.7,-11.7 520.0,0.0C544.3,11.7 529.3,84.8 520.0,100.0C510.7,115.2 451.7,122.4 440.0,130.0C428.3,137.6 425.2,156.8 420.0,165.0C414.8,173.2 402.6,194.2 395.0,200.0C387.4,205.8 360.8,218.5 355.0,215.0C349.2,211.5 348.5,178.8 345.0,170.0C341.5,161.2 328.1,148.2 325.0,140.0C321.9,131.8 319.5,116.3 318.0,100.0C316.5,83.7 288.4,11.7 312.0,0.0Z" fill="#ffff8e" stroke="#5a5a5a" stroke-opacity="0.55" stroke-width="0.4" vector-effect="non-scaling-stroke" stroke-linejoin="round"/>
<path d="M440.0,130.0C451.7,122.4 510.7,90.1 520.0,100.0C529.3,109.9 525.8,202.2 520.0,215.0C514.2,227.8 479.3,211.8 470.0,210.0C460.7,208.2 448.2,200.6 440.0,200.0C431.8,199.4 402.3,209.1 400.0,205.0C397.7,200.9 415.3,173.8 420.0,165.0C424.7,156.2 428.3,137.6 440.0,130.0Z" fill="#c0c0c0" stroke="#5a5a5a" stroke-opacity="0.55" stroke-width="0.4" vector-effect="non-scaling-stroke" stroke-linejoin="round"/>
<path d="M395.0,205.0C400.8,202.1 431.2,199.4 440.0,200.0C448.8,200.6 460.7,208.2 470.0,210.0C479.3,211.8 514.2,211.5 520.0,215.0C525.8,218.5 527.0,237.1 520.0,240.0C513.0,242.9 471.7,240.6 460.0,240.0C448.3,239.4 428.2,236.8 420.0,235.0C411.8,233.2 392.9,228.5 390.0,225.0C387.1,221.5 389.2,207.9 395.0,205.0Z" fill="#c0c0c0" stroke="#5a5a5a" stroke-opacity="0.55" stroke-width="0.4" vector-effect="non-scaling-stroke" stroke-linejoin="round"/>
<path d="M340.0,245.0C348.2,238.6 380.7,226.2 390.0,225.0C399.3,223.8 411.8,233.2 420.0,235.0C428.2,236.8 448.3,239.4 460.0,240.0C471.7,240.6 513.0,233.0 520.0,240.0C527.0,247.0 531.7,297.1 520.0,300.0C508.3,302.9 439.8,266.8 420.0,265.0C400.2,263.2 361.7,283.2 350.0,285.0C338.3,286.8 321.2,284.7 320.0,280.0C318.8,275.3 331.8,251.4 340.0,245.0Z" fill="#c0c0c0" stroke="#5a5a5a" stroke-opacity="0.55" stroke-width="0.4" vector-effect="non-scaling-stroke" stroke-linejoin="round"/>
<path d="M175.0,120.0C179.7,113.9 208.3,109.4 225.0,108.0C241.7,106.6 306.3,104.3 318.0,108.0C329.7,111.7 327.1,135.1 325.0,140.0C322.9,144.9 311.1,148.8 300.0,150.0C288.9,151.2 243.4,148.8 230.0,150.0C216.6,151.2 191.4,163.5 185.0,160.0C178.6,156.5 170.3,126.1 175.0,120.0Z" fill="#c0c0c0" stroke="#5a5a5a" stroke-opacity="0.55" stroke-width="0.4" vector-effect="non-scaling-stroke" stroke-linejoin="round"/>
<path d="M95.0,185.0C96.2,179.8 110.7,156.7 120.0,150.0C129.3,143.3 167.4,126.8 175.0,128.0C182.6,129.2 190.2,154.5 185.0,160.0C179.8,165.5 138.8,170.9 130.0,175.0C121.2,179.1 114.1,193.8 110.0,195.0C105.9,196.2 93.8,190.2 95.0,185.0Z" fill="#c0c0c0" stroke="#5a5a5a" stroke-opacity="0.55" stroke-width="0.4" vector-effect="non-scaling-stroke" stroke-linejoin="round"/>
<path d="M60.0,240.0C58.2,233.6 65.9,206.4 70.0,200.0C74.1,193.6 90.3,185.6 95.0,185.0C99.7,184.4 109.4,189.8 110.0,195.0C110.6,200.2 102.9,223.0 100.0,230.0C97.1,237.0 89.7,253.8 85.0,255.0C80.3,256.2 61.8,246.4 60.0,240.0Z" fill="#c0c0c0" stroke="#5a5a5a" stroke-opacity="0.55" stroke-width="0.4" vector-effect="non-scaling-stroke" stroke-linejoin="round"/>
<path d="M0.0,240.0C7.0,221.3 50.1,238.2 60.0,240.0C69.9,241.8 80.3,251.5 85.0,255.0C89.7,258.5 92.4,264.8 100.0,270.0C107.6,275.2 140.7,295.3 150.0,300.0C159.3,304.7 176.5,298.3 180.0,310.0C183.5,321.7 201.0,389.5 180.0,400.0C159.0,410.5 21.0,418.7 0.0,400.0C-21.0,381.3 -7.0,258.7 0.0,240.0Z" fill="#ffff4c" stroke="#5a5a5a" stroke-opacity="0.55" stroke-width="0.4" vector-effect="non-scaling-stroke" stroke-linejoin="round"/>
<path d="M295.0,150.0C297.9,147.1 319.2,137.7 325.0,140.0C330.8,142.3 341.5,161.2 345.0,170.0C348.5,178.8 355.0,206.2 355.0,215.0C355.0,223.8 348.5,241.5 345.0,245.0C341.5,248.5 327.9,250.2 325.0,245.0C322.1,239.8 322.9,209.3 320.0,200.0C317.1,190.7 302.9,170.8 300.0,165.0C297.1,159.2 292.1,152.9 295.0,150.0Z" fill="#c0c0c0" stroke="#5a5a5a" stroke-opacity="0.55" stroke-width="0.4" vector-effect="non-scaling-stroke" stroke-linejoin="round"/>
<path d="M250.0,300.0C253.5,296.5 308.9,281.4 320.0,275.0C331.1,268.6 341.5,243.8 345.0,245.0C348.5,246.2 356.4,278.0 350.0,285.0C343.6,292.0 301.7,303.2 290.0,305.0C278.3,306.8 246.5,303.5 250.0,300.0Z" fill="#c0c0c0" stroke="#5a5a5a" stroke-opacity="0.55" stroke-width="0.4" vector-effect="non-scaling-stroke" stroke-linejoin="round"/>
<path d="M190.0,345.0C195.8,335.4 228.3,323.5 240.0,318.0C251.7,312.5 277.2,302.4 290.0,298.0C302.8,293.6 334.8,284.2 350.0,280.0C365.2,275.8 400.2,264.9 420.0,262.0C439.8,259.1 508.3,238.9 520.0,255.0C531.7,271.1 558.5,383.1 520.0,400.0C481.5,416.9 228.5,406.4 190.0,400.0C151.5,393.6 184.2,354.6 190.0,345.0Z" fill="#ffff65" stroke="#5a5a5a" stroke-opacity="0.55" stroke-width="0.4" vector-effect="non-scaling-stroke" stroke-linejoin="round"/>
<path d="M60.0,232.0C60.0,221.5 70.0,204.5 80.0,195.0C90.0,185.5 105.0,180.8 120.0,175.0C135.0,169.2 151.7,163.8 170.0,160.0C188.3,156.2 210.0,154.0 230.0,152.0C250.0,150.0 275.8,146.7 290.0,148.0C304.2,149.3 309.2,151.3 315.0,160.0C320.8,168.7 324.2,186.7 325.0,200.0C325.8,213.3 323.3,228.3 320.0,240.0C316.7,251.7 313.3,260.8 305.0,270.0C296.7,279.2 280.8,287.5 270.0,295.0C259.2,302.5 251.7,308.3 240.0,315.0C228.3,321.7 210.0,335.5 200.0,335.0C190.0,334.5 188.3,319.5 180.0,312.0C171.7,304.5 161.7,296.7 150.0,290.0C138.3,283.3 121.7,277.3 110.0,272.0C98.3,266.7 88.3,264.7 80.0,258.0C71.7,251.3 60.0,242.5 60.0,232.0Z" fill="#c0c0c0" stroke="#5a5a5a" stroke-opacity="0.55" stroke-width="0.4" vector-effect="non-scaling-stroke"/>
<path d="M135,238 C140,200 190,178 250,180 C300,182 325,205 325,235" fill="none" stroke="#5a5a5a" stroke-opacity="0.55" stroke-width="0.4" vector-effect="non-scaling-stroke"/>
</g>
<path d="M25.0,225.0C25.0,209.2 27.5,188.3 35.0,170.0C42.5,151.7 54.2,130.8 70.0,115.0C85.8,99.2 105.0,86.7 130.0,75.0C155.0,63.3 191.7,51.7 220.0,45.0C248.3,38.3 276.7,35.0 300.0,35.0C323.3,35.0 341.7,36.7 360.0,45.0C378.3,53.3 396.7,70.8 410.0,85.0C423.3,99.2 430.8,114.2 440.0,130.0C449.2,145.8 459.2,165.0 465.0,180.0C470.8,195.0 475.0,209.2 475.0,220.0C475.0,230.8 474.2,237.5 465.0,245.0C455.8,252.5 439.2,258.3 420.0,265.0C400.8,271.7 371.7,278.3 350.0,285.0C328.3,291.7 308.3,298.3 290.0,305.0C271.7,311.7 255.0,320.0 240.0,325.0C225.0,330.0 210.0,337.5 200.0,335.0C190.0,332.5 190.0,316.7 180.0,310.0C170.0,303.3 158.3,298.3 140.0,295.0C121.7,291.7 87.5,295.0 70.0,290.0C52.5,285.0 42.5,275.8 35.0,265.0C27.5,254.2 25.0,240.8 25.0,225.0Z" fill="none" stroke="#8a8a8a" stroke-opacity="0.7" stroke-width="0.45" vector-effect="non-scaling-stroke"/>
</g>
<g transform="translate(455.636,322.632) scale(-0.12477,0.12477)">
<clipPath id="c11"><path d="M28.0,215.0C29.3,207.2 29.7,197.5 35.0,185.0C40.3,172.5 49.2,155.8 60.0,140.0C70.8,124.2 88.3,103.8 100.0,90.0C111.7,76.2 119.2,65.8 130.0,57.0C140.8,48.2 151.7,41.3 165.0,37.0C178.3,32.7 194.8,31.7 210.0,31.0C225.2,30.3 241.7,31.5 256.0,33.0C270.3,34.5 281.0,35.5 296.0,40.0C311.0,44.5 328.5,50.8 346.0,60.0C363.5,69.2 384.3,83.3 401.0,95.0C417.7,106.7 433.5,116.7 446.0,130.0C458.5,143.3 469.3,160.8 476.0,175.0C482.7,189.2 484.7,204.2 486.0,215.0C487.3,225.8 487.3,231.3 484.0,240.0C480.7,248.7 474.8,259.5 466.0,267.0C457.2,274.5 445.2,281.2 431.0,285.0C416.8,288.8 394.3,287.5 381.0,290.0C367.7,292.5 358.0,294.7 351.0,300.0C344.0,305.3 344.0,314.2 339.0,322.0C334.0,329.8 329.8,341.5 321.0,347.0C312.2,352.5 296.8,355.0 286.0,355.0C275.2,355.0 274.5,354.2 256.0,347.0C237.5,339.8 201.0,322.0 175.0,312.0C149.0,302.0 120.8,295.3 100.0,287.0C79.2,278.7 62.2,271.2 50.0,262.0C37.8,252.8 30.7,239.8 27.0,232.0C23.3,224.2 26.7,222.8 28.0,215.0Z"/></clipPath>
<g clip-path="url(#c11)">
<path d="M28.0,215.0C29.3,207.2 29.7,197.5 35.0,185.0C40.3,172.5 49.2,155.8 60.0,140.0C70.8,124.2 88.3,103.8 100.0,90.0C111.7,76.2 119.2,65.8 130.0,57.0C140.8,48.2 151.7,41.3 165.0,37.0C178.3,32.7 194.8,31.7 210.0,31.0C225.2,30.3 241.7,31.5 256.0,33.0C270.3,34.5 281.0,35.5 296.0,40.0C311.0,44.5 328.5,50.8 346.0,60.0C363.5,69.2 384.3,83.3 401.0,95.0C417.7,106.7 433.5,116.7 446.0,130.0C458.5,143.3 469.3,160.8 476.0,175.0C482.7,189.2 484.7,204.2 486.0,215.0C487.3,225.8 487.3,231.3 484.0,240.0C480.7,248.7 474.8,259.5 466.0,267.0C457.2,274.5 445.2,281.2 431.0,285.0C416.8,288.8 394.3,287.5 381.0,290.0C367.7,292.5 358.0,294.7 351.0,300.0C344.0,305.3 344.0,314.2 339.0,322.0C334.0,329.8 329.8,341.5 321.0,347.0C312.2,352.5 296.8,355.0 286.0,355.0C275.2,355.0 274.5,354.2 256.0,347.0C237.5,339.8 201.0,322.0 175.0,312.0C149.0,302.0 120.8,295.3 100.0,287.0C79.2,278.7 62.2,271.2 50.0,262.0C37.8,252.8 30.7,239.8 27.0,232.0C23.3,224.2 26.7,222.8 28.0,215.0Z" fill="#c0c0c0"/>
<path d="M0.0,190.0C3.1,200.7 20.0,190.0 27.0,192.0C34.0,194.0 51.8,202.9 60.0,207.0C68.2,211.1 90.6,226.1 97.0,227.0C103.4,227.9 108.8,216.4 115.0,215.0C121.2,213.6 143.9,217.7 150.0,215.0C156.1,212.3 165.8,199.6 167.0,192.0C168.2,184.4 160.8,159.0 160.0,150.0C159.2,141.0 158.8,122.0 160.0,115.0C161.2,108.0 172.3,92.9 170.0,90.0C167.7,87.1 148.2,90.0 140.0,90.0C131.8,90.0 109.3,93.5 100.0,90.0C90.7,86.5 71.7,58.8 60.0,60.0C48.3,61.2 7.0,84.8 0.0,100.0C-7.0,115.2 -3.1,179.3 0.0,190.0Z" fill="#c0c0c0" stroke="#5a5a5a" stroke-opacity="0.55" stroke-width="0.4" vector-effect="non-scaling-stroke" stroke-linejoin="round"/>
<path d="M60.0,60.0C57.7,70.5 90.7,86.5 100.0,90.0C109.3,93.5 131.8,90.0 140.0,90.0C148.2,90.0 163.9,91.8 170.0,90.0C176.1,88.2 189.7,85.5 192.0,75.0C194.3,64.5 198.4,8.8 190.0,0.0C181.6,-8.8 135.2,-7.0 120.0,0.0C104.8,7.0 62.3,49.5 60.0,60.0Z" fill="#c0c0c0" stroke="#5a5a5a" stroke-opacity="0.55" stroke-width="0.4" vector-effect="non-scaling-stroke" stroke-linejoin="round"/>
<path d="M170.0,90.0C173.7,85.3 186.8,76.2 192.0,75.0C197.2,73.8 208.8,77.1 215.0,80.0C221.2,82.9 239.8,93.0 245.0,100.0C250.2,107.0 257.6,129.5 260.0,140.0C262.4,150.5 264.7,182.8 266.0,190.0C267.3,197.2 272.2,199.4 271.0,202.0C269.8,204.6 261.9,212.0 256.0,212.0C250.1,212.0 227.1,204.3 220.0,202.0C212.9,199.7 201.2,193.2 195.0,192.0C188.8,190.8 171.1,196.9 167.0,192.0C162.9,187.1 160.8,159.0 160.0,150.0C159.2,141.0 158.8,122.0 160.0,115.0C161.2,108.0 166.3,94.7 170.0,90.0Z" fill="#ffff5b" stroke="#5a5a5a" stroke-opacity="0.55" stroke-width="0.4" vector-effect="non-scaling-stroke" stroke-linejoin="round"/>
<path d="M190.0,0.0C192.7,-8.8 212.1,-3.6 215.0,0.0C217.9,3.6 210.2,23.4 215.0,31.0C219.8,38.6 248.9,55.2 256.0,65.0C263.1,74.8 271.9,100.2 276.0,115.0C280.1,129.8 291.6,181.8 291.0,192.0C290.4,202.2 273.9,202.2 271.0,202.0C268.1,201.8 267.3,197.2 266.0,190.0C264.7,182.8 262.4,150.5 260.0,140.0C257.6,129.5 250.2,107.0 245.0,100.0C239.8,93.0 221.2,82.9 215.0,80.0C208.8,77.1 194.9,84.3 192.0,75.0C189.1,65.7 187.3,8.8 190.0,0.0Z" fill="#c0c0c0" stroke="#5a5a5a" stroke-opacity="0.55" stroke-width="0.4" vector-effect="non-scaling-stroke" stroke-linejoin="round"/>
<path d="M215.0,0.0C225.0,-3.6 291.0,-4.9 301.0,0.0C311.0,4.9 297.5,32.7 301.0,42.0C304.5,51.3 324.6,69.2 331.0,80.0C337.4,90.8 352.5,126.8 356.0,135.0C359.5,143.2 362.8,143.3 361.0,150.0C359.2,156.7 349.2,187.1 341.0,192.0C332.8,196.9 298.6,201.0 291.0,192.0C283.4,183.0 280.1,129.8 276.0,115.0C271.9,100.2 263.1,74.8 256.0,65.0C248.9,55.2 219.8,38.6 215.0,31.0C210.2,23.4 205.0,3.6 215.0,0.0Z" fill="#ffff0e" stroke="#5a5a5a" stroke-opacity="0.55" stroke-width="0.4" vector-effect="non-scaling-stroke" stroke-linejoin="round"/>
<path d="M301.0,0.0C314.9,-4.9 406.1,-9.3 420.0,0.0C433.9,9.3 422.2,68.9 420.0,80.0C417.8,91.1 404.4,88.6 401.0,95.0C397.6,101.4 392.4,128.0 391.0,135.0C389.6,142.0 392.5,153.2 389.0,155.0C385.5,156.8 364.9,152.3 361.0,150.0C357.1,147.7 359.5,143.2 356.0,135.0C352.5,126.8 337.4,90.8 331.0,80.0C324.6,69.2 304.5,51.3 301.0,42.0C297.5,32.7 287.1,4.9 301.0,0.0Z" fill="#c0c0c0" stroke="#5a5a5a" stroke-opacity="0.55" stroke-width="0.4" vector-effect="non-scaling-stroke" stroke-linejoin="round"/>
<path d="M420.0,0.0C441.0,-9.3 579.0,-30.3 600.0,0.0C621.0,30.3 613.5,232.0 600.0,260.0C586.5,288.0 500.2,242.7 484.0,240.0C467.8,237.3 465.4,240.8 461.0,237.0C456.6,233.2 453.0,211.1 446.0,207.0C439.0,202.9 407.6,208.1 401.0,202.0C394.4,195.9 390.2,162.8 389.0,155.0C387.8,147.2 389.6,142.0 391.0,135.0C392.4,128.0 397.6,101.4 401.0,95.0C404.4,88.6 417.8,91.1 420.0,80.0C422.2,68.9 399.0,9.3 420.0,0.0Z" fill="#fffc00" stroke="#5a5a5a" stroke-opacity="0.55" stroke-width="0.4" vector-effect="non-scaling-stroke" stroke-linejoin="round"/>
<path d="M290.0,0.0C316.8,-4.7 493.2,-14.0 520.0,0.0C546.8,14.0 527.6,103.7 520.0,120.0C512.4,136.3 464.3,137.4 455.0,140.0C445.7,142.6 446.3,146.0 440.0,142.0C433.7,138.0 412.0,114.2 401.0,106.0C390.0,97.8 358.2,78.3 346.0,72.0C333.8,65.7 302.5,55.7 296.0,52.0C289.5,48.3 290.7,46.1 290.0,40.0C289.3,33.9 263.2,4.7 290.0,0.0Z" fill="#ffff32" stroke="#5a5a5a" stroke-opacity="0.55" stroke-width="0.4" vector-effect="non-scaling-stroke" stroke-linejoin="round"/>
<path d="M361.0,150.0C366.6,145.7 384.3,148.9 389.0,155.0C393.7,161.1 402.5,193.6 401.0,202.0C399.5,210.4 382.4,227.6 376.0,227.0C369.6,226.4 350.1,201.1 346.0,197.0C341.9,192.9 339.2,197.5 341.0,192.0C342.8,186.5 355.4,154.3 361.0,150.0Z" fill="#ffff32" stroke="#5a5a5a" stroke-opacity="0.55" stroke-width="0.4" vector-effect="non-scaling-stroke" stroke-linejoin="round"/>
<path d="M376.0,227.0C377.8,221.8 392.8,204.3 401.0,202.0C409.2,199.7 439.0,202.9 446.0,207.0C453.0,211.1 463.9,231.2 461.0,237.0C458.1,242.8 429.8,255.8 421.0,257.0C412.2,258.2 391.2,250.5 386.0,247.0C380.8,243.5 374.2,232.2 376.0,227.0Z" fill="#ffff90" stroke="#5a5a5a" stroke-opacity="0.55" stroke-width="0.4" vector-effect="non-scaling-stroke" stroke-linejoin="round"/>
<path d="M411.0,257.0C409.8,254.7 415.2,259.3 421.0,257.0C426.8,254.7 453.6,239.0 461.0,237.0C468.4,235.0 467.8,238.5 484.0,240.0C500.2,241.5 586.5,243.0 600.0,250.0C613.5,257.0 615.6,298.0 600.0,300.0C584.4,302.0 485.7,269.7 466.0,267.0C446.3,264.3 437.4,278.2 431.0,277.0C424.6,275.8 412.2,259.3 411.0,257.0Z" fill="#ffff13" stroke="#5a5a5a" stroke-opacity="0.55" stroke-width="0.4" vector-effect="non-scaling-stroke" stroke-linejoin="round"/>
<path d="M371.0,272.0C371.6,254.2 381.3,248.8 386.0,247.0C390.7,245.2 405.8,253.5 411.0,257.0C416.2,260.5 424.6,275.8 431.0,277.0C437.4,278.2 446.3,264.3 466.0,267.0C485.7,269.7 584.4,284.5 600.0,300.0C615.6,315.5 625.5,388.3 600.0,400.0C574.5,411.7 407.7,414.9 381.0,400.0C354.3,385.1 370.4,289.9 371.0,272.0Z" fill="#ffff00" stroke="#5a5a5a" stroke-opacity="0.55" stroke-width="0.4" vector-effect="non-scaling-stroke" stroke-linejoin="round"/>
<path d="M97.0,227.0C99.3,223.3 108.2,216.4 115.0,215.0C121.8,213.6 149.8,212.7 155.0,215.0C160.2,217.3 158.2,231.3 160.0,235.0C161.8,238.7 165.3,245.0 170.0,247.0C174.7,249.0 190.0,248.0 200.0,252.0C210.0,256.0 244.8,274.6 256.0,281.0C267.2,287.4 287.8,301.1 296.0,307.0C304.2,312.9 320.9,321.1 326.0,332.0C331.1,342.9 366.9,392.1 340.0,400.0C313.1,407.9 123.6,417.9 95.0,400.0C66.4,382.1 94.8,267.2 95.0,247.0C95.2,226.8 94.7,230.7 97.0,227.0Z" fill="#ffe200" stroke="#5a5a5a" stroke-opacity="0.55" stroke-width="0.4" vector-effect="non-scaling-stroke" stroke-linejoin="round"/>
<path d="M95.0,247.0C101.4,246.7 137.8,266.8 150.0,272.0C162.2,277.2 187.6,286.8 200.0,292.0C212.4,297.2 244.3,311.4 256.0,317.0C267.7,322.6 290.2,330.3 300.0,340.0C309.8,349.7 363.3,393.0 340.0,400.0C316.7,407.0 128.0,413.2 100.0,400.0C72.0,386.8 100.6,301.6 100.0,287.0C99.4,272.4 95.6,279.7 95.0,275.0C94.4,270.3 88.6,247.3 95.0,247.0Z" fill="#ffff61" stroke="#5a5a5a" stroke-opacity="0.55" stroke-width="0.4" vector-effect="non-scaling-stroke" stroke-linejoin="round"/>
<path d="M256.0,222.0C254.8,216.8 260.5,204.9 271.0,202.0C281.5,199.1 333.8,194.1 346.0,197.0C358.2,199.9 371.3,221.2 376.0,227.0C380.7,232.8 386.6,241.8 386.0,247.0C385.4,252.2 373.9,266.8 371.0,272.0C368.1,277.2 364.1,288.7 361.0,292.0C357.9,295.3 348.7,302.3 344.0,300.0C339.3,297.7 328.4,278.2 321.0,272.0C313.6,265.8 288.6,252.8 281.0,247.0C273.4,241.2 257.2,227.2 256.0,222.0Z" fill="#ffff52" stroke="#5a5a5a" stroke-opacity="0.55" stroke-width="0.4" vector-effect="non-scaling-stroke" stroke-linejoin="round"/>
<path d="M240.0,200.0C240.0,193.9 261.2,194.5 266.0,200.0C270.8,205.5 281.0,240.9 281.0,247.0C281.0,253.1 270.8,257.5 266.0,252.0C261.2,246.5 240.0,206.1 240.0,200.0Z" fill="#c0c0c0" stroke="#5a5a5a" stroke-opacity="0.55" stroke-width="0.4" vector-effect="non-scaling-stroke" stroke-linejoin="round"/>
<path d="M195.0,192.0C197.9,189.7 212.9,198.5 220.0,202.0C227.1,205.5 248.9,216.8 256.0,222.0C263.1,227.2 273.4,241.2 281.0,247.0C288.6,252.8 313.6,265.8 321.0,272.0C328.4,278.2 341.9,294.2 344.0,300.0C346.1,305.8 341.1,318.3 339.0,322.0C336.9,325.7 331.0,333.8 326.0,332.0C321.0,330.2 304.2,312.9 296.0,307.0C287.8,301.1 267.2,287.4 256.0,281.0C244.8,274.6 207.1,258.9 200.0,252.0C192.9,245.1 195.6,229.0 195.0,222.0C194.4,215.0 192.1,194.3 195.0,192.0Z" fill="#ffff08" stroke="#5a5a5a" stroke-opacity="0.55" stroke-width="0.4" vector-effect="non-scaling-stroke" stroke-linejoin="round"/>
<path d="M155.0,215.0C155.8,210.0 162.3,194.7 167.0,192.0C171.7,189.3 191.7,188.5 195.0,192.0C198.3,195.5 194.4,215.0 195.0,222.0C195.6,229.0 202.9,249.1 200.0,252.0C197.1,254.9 174.7,249.0 170.0,247.0C165.3,245.0 161.8,238.7 160.0,235.0C158.2,231.3 154.2,220.0 155.0,215.0Z" fill="#ffff85" stroke="#5a5a5a" stroke-opacity="0.55" stroke-width="0.4" vector-effect="non-scaling-stroke" stroke-linejoin="round"/>
</g>
<path d="M28.0,215.0C29.3,207.2 29.7,197.5 35.0,185.0C40.3,172.5 49.2,155.8 60.0,140.0C70.8,124.2 88.3,103.8 100.0,90.0C111.7,76.2 119.2,65.8 130.0,57.0C140.8,48.2 151.7,41.3 165.0,37.0C178.3,32.7 194.8,31.7 210.0,31.0C225.2,30.3 241.7,31.5 256.0,33.0C270.3,34.5 281.0,35.5 296.0,40.0C311.0,44.5 328.5,50.8 346.0,60.0C363.5,69.2 384.3,83.3 401.0,95.0C417.7,106.7 433.5,116.7 446.0,130.0C458.5,143.3 469.3,160.8 476.0,175.0C482.7,189.2 484.7,204.2 486.0,215.0C487.3,225.8 487.3,231.3 484.0,240.0C480.7,248.7 474.8,259.5 466.0,267.0C457.2,274.5 445.2,281.2 431.0,285.0C416.8,288.8 394.3,287.5 381.0,290.0C367.7,292.5 358.0,294.7 351.0,300.0C344.0,305.3 344.0,314.2 339.0,322.0C334.0,329.8 329.8,341.5 321.0,347.0C312.2,352.5 296.8,355.0 286.0,355.0C275.2,355.0 274.5,354.2 256.0,347.0C237.5,339.8 201.0,322.0 175.0,312.0C149.0,302.0 120.8,295.3 100.0,287.0C79.2,278.7 62.2,271.2 50.0,262.0C37.8,252.8 30.7,239.8 27.0,232.0C23.3,224.2 26.7,222.8 28.0,215.0Z" fill="none" stroke="#8a8a8a" stroke-opacity="0.7" stroke-width="0.45" vector-effect="non-scaling-stroke"/>
</g>
<g transform="translate(526.564,322.561) scale(-0.13256,0.13256)">
<clipPath id="c12"><path d="M25.0,225.0C25.0,209.2 27.5,188.3 35.0,170.0C42.5,151.7 54.2,130.8 70.0,115.0C85.8,99.2 105.0,86.7 130.0,75.0C155.0,63.3 191.7,51.7 220.0,45.0C248.3,38.3 276.7,35.0 300.0,35.0C323.3,35.0 341.7,36.7 360.0,45.0C378.3,53.3 396.7,70.8 410.0,85.0C423.3,99.2 430.8,114.2 440.0,130.0C449.2,145.8 459.2,165.0 465.0,180.0C470.8,195.0 475.0,209.2 475.0,220.0C475.0,230.8 474.2,237.5 465.0,245.0C455.8,252.5 439.2,258.3 420.0,265.0C400.8,271.7 371.7,278.3 350.0,285.0C328.3,291.7 308.3,298.3 290.0,305.0C271.7,311.7 255.0,320.0 240.0,325.0C225.0,330.0 210.0,337.5 200.0,335.0C190.0,332.5 190.0,316.7 180.0,310.0C170.0,303.3 158.3,298.3 140.0,295.0C121.7,291.7 87.5,295.0 70.0,290.0C52.5,285.0 42.5,275.8 35.0,265.0C27.5,254.2 25.0,240.8 25.0,225.0Z"/></clipPath>
<g clip-path="url(#c12)">
<path d="M25.0,225.0C25.0,209.2 27.5,188.3 35.0,170.0C42.5,151.7 54.2,130.8 70.0,115.0C85.8,99.2 105.0,86.7 130.0,75.0C155.0,63.3 191.7,51.7 220.0,45.0C248.3,38.3 276.7,35.0 300.0,35.0C323.3,35.0 341.7,36.7 360.0,45.0C378.3,53.3 396.7,70.8 410.0,85.0C423.3,99.2 430.8,114.2 440.0,130.0C449.2,145.8 459.2,165.0 465.0,180.0C470.8,195.0 475.0,209.2 475.0,220.0C475.0,230.8 474.2,237.5 465.0,245.0C455.8,252.5 439.2,258.3 420.0,265.0C400.8,271.7 371.7,278.3 350.0,285.0C328.3,291.7 308.3,298.3 290.0,305.0C271.7,311.7 255.0,320.0 240.0,325.0C225.0,330.0 210.0,337.5 200.0,335.0C190.0,332.5 190.0,316.7 180.0,310.0C170.0,303.3 158.3,298.3 140.0,295.0C121.7,291.7 87.5,295.0 70.0,290.0C52.5,285.0 42.5,275.8 35.0,265.0C27.5,254.2 25.0,240.8 25.0,225.0Z" fill="#c0c0c0"/>
<path d="M0.0,0.0C25.7,-28.0 193.8,-11.7 220.0,0.0C246.2,11.7 230.2,86.0 225.0,100.0C219.8,114.0 187.2,114.8 175.0,120.0C162.8,125.2 129.9,138.0 120.0,145.0C110.1,152.0 95.8,173.6 90.0,180.0C84.2,186.4 73.5,193.0 70.0,200.0C66.5,207.0 68.2,235.3 60.0,240.0C51.8,244.7 7.0,268.0 0.0,240.0C-7.0,212.0 -25.7,28.0 0.0,0.0Z" fill="#ffff32" stroke="#5a5a5a" stroke-opacity="0.55" stroke-width="0.4" vector-effect="non-scaling-stroke" stroke-linejoin="round"/>
<path d="M220.0,0.0C230.2,-12.2 300.6,-11.7 312.0,0.0C323.4,11.7 328.1,87.8 318.0,100.0C307.9,112.2 236.4,116.7 225.0,105.0C213.6,93.3 209.8,12.2 220.0,0.0Z" fill="#c0c0c0" stroke="#5a5a5a" stroke-opacity="0.55" stroke-width="0.4" vector-effect="non-scaling-stroke" stroke-linejoin="round"/>
<path d="M312.0,0.0C335.6,-11.7 495.7,-11.7 520.0,0.0C544.3,11.7 529.3,84.8 520.0,100.0C510.7,115.2 451.7,122.4 440.0,130.0C428.3,137.6 425.2,156.8 420.0,165.0C414.8,173.2 402.6,194.2 395.0,200.0C387.4,205.8 360.8,218.5 355.0,215.0C349.2,211.5 348.5,178.8 345.0,170.0C341.5,161.2 328.1,148.2 325.0,140.0C321.9,131.8 319.5,116.3 318.0,100.0C316.5,83.7 288.4,11.7 312.0,0.0Z" fill="#c0c0c0" stroke="#5a5a5a" stroke-opacity="0.55" stroke-width="0.4" vector-effect="non-scaling-stroke" stroke-linejoin="round"/>
<path d="M440.0,130.0C451.7,122.4 510.7,90.1 520.0,100.0C529.3,109.9 525.8,202.2 520.0,215.0C514.2,227.8 479.3,211.8 470.0,210.0C460.7,208.2 448.2,200.6 440.0,200.0C431.8,199.4 402.3,209.1 400.0,205.0C397.7,200.9 415.3,173.8 420.0,165.0C424.7,156.2 428.3,137.6 440.0,130.0Z" fill="#c0c0c0" stroke="#5a5a5a" stroke-opacity="0.55" stroke-width="0.4" vector-effect="non-scaling-stroke" stroke-linejoin="round"/>
<path d="M395.0,205.0C400.8,202.1 431.2,199.4 440.0,200.0C448.8,200.6 460.7,208.2 470.0,210.0C479.3,211.8 514.2,211.5 520.0,215.0C525.8,218.5 527.0,237.1 520.0,240.0C513.0,242.9 471.7,240.6 460.0,240.0C448.3,239.4 428.2,236.8 420.0,235.0C411.8,233.2 392.9,228.5 390.0,225.0C387.1,221.5 389.2,207.9 395.0,205.0Z" fill="#c0c0c0" stroke="#5a5a5a" stroke-opacity="0.55" stroke-width="0.4" vector-effect="non-scaling-stroke" stroke-linejoin="round"/>
<path d="M340.0,245.0C348.2,238.6 380.7,226.2 390.0,225.0C399.3,223.8 411.8,233.2 420.0,235.0C428.2,236.8 448.3,239.4 460.0,240.0C471.7,240.6 513.0,233.0 520.0,240.0C527.0,247.0 531.7,297.1 520.0,300.0C508.3,302.9 439.8,266.8 420.0,265.0C400.2,263.2 361.7,283.2 350.0,285.0C338.3,286.8 321.2,284.7 320.0,280.0C318.8,275.3 331.8,251.4 340.0,245.0Z" fill="#ffff6d" stroke="#5a5a5a" stroke-opacity="0.55" stroke-width="0.4" vector-effect="non-scaling-stroke" stroke-linejoin="round"/>
<path d="M175.0,120.0C179.7,113.9 208.3,109.4 225.0,108.0C241.7,106.6 306.3,104.3 318.0,108.0C329.7,111.7 327.1,135.1 325.0,140.0C322.9,144.9 311.1,148.8 300.0,150.0C288.9,151.2 243.4,148.8 230.0,150.0C216.6,151.2 191.4,163.5 185.0,160.0C178.6,156.5 170.3,126.1 175.0,120.0Z" fill="#ffff68" stroke="#5a5a5a" stroke-opacity="0.55" stroke-width="0.4" vector-effect="non-scaling-stroke" stroke-linejoin="round"/>
<path d="M95.0,185.0C96.2,179.8 110.7,156.7 120.0,150.0C129.3,143.3 167.4,126.8 175.0,128.0C182.6,129.2 190.2,154.5 185.0,160.0C179.8,165.5 138.8,170.9 130.0,175.0C121.2,179.1 114.1,193.8 110.0,195.0C105.9,196.2 93.8,190.2 95.0,185.0Z" fill="#c0c0c0" stroke="#5a5a5a" stroke-opacity="0.55" stroke-width="0.4" vector-effect="non-scaling-stroke" stroke-linejoin="round"/>
<path d="M60.0,240.0C58.2,233.6 65.9,206.4 70.0,200.0C74.1,193.6 90.3,185.6 95.0,185.0C99.7,184.4 109.4,189.8 110.0,195.0C110.6,200.2 102.9,223.0 100.0,230.0C97.1,237.0 89.7,253.8 85.0,255.0C80.3,256.2 61.8,246.4 60.0,240.0Z" fill="#c0c0c0" stroke="#5a5a5a" stroke-opacity="0.55" stroke-width="0.4" vector-effect="non-scaling-stroke" stroke-linejoin="round"/>
<path d="M0.0,240.0C7.0,221.3 50.1,238.2 60.0,240.0C69.9,241.8 80.3,251.5 85.0,255.0C89.7,258.5 92.4,264.8 100.0,270.0C107.6,275.2 140.7,295.3 150.0,300.0C159.3,304.7 176.5,298.3 180.0,310.0C183.5,321.7 201.0,389.5 180.0,400.0C159.0,410.5 21.0,418.7 0.0,400.0C-21.0,381.3 -7.0,258.7 0.0,240.0Z" fill="#ffff21" stroke="#5a5a5a" stroke-opacity="0.55" stroke-width="0.4" vector-effect="non-scaling-stroke" stroke-linejoin="round"/>
<path d="M295.0,150.0C297.9,147.1 319.2,137.7 325.0,140.0C330.8,142.3 341.5,161.2 345.0,170.0C348.5,178.8 355.0,206.2 355.0,215.0C355.0,223.8 348.5,241.5 345.0,245.0C341.5,248.5 327.9,250.2 325.0,245.0C322.1,239.8 322.9,209.3 320.0,200.0C317.1,190.7 302.9,170.8 300.0,165.0C297.1,159.2 292.1,152.9 295.0,150.0Z" fill="#c0c0c0" stroke="#5a5a5a" stroke-opacity="0.55" stroke-width="0.4" vector-effect="non-scaling-stroke" stroke-linejoin="round"/>
<path d="M250.0,300.0C253.5,296.5 308.9,281.4 320.0,275.0C331.1,268.6 341.5,243.8 345.0,245.0C348.5,246.2 356.4,278.0 350.0,285.0C343.6,292.0 301.7,303.2 290.0,305.0C278.3,306.8 246.5,303.5 250.0,300.0Z" fill="#c0c0c0" stroke="#5a5a5a" stroke-opacity="0.55" stroke-width="0.4" vector-effect="non-scaling-stroke" stroke-linejoin="round"/>
<path d="M190.0,345.0C195.8,335.4 228.3,323.5 240.0,318.0C251.7,312.5 277.2,302.4 290.0,298.0C302.8,293.6 334.8,284.2 350.0,280.0C365.2,275.8 400.2,264.9 420.0,262.0C439.8,259.1 508.3,238.9 520.0,255.0C531.7,271.1 558.5,383.1 520.0,400.0C481.5,416.9 228.5,406.4 190.0,400.0C151.5,393.6 184.2,354.6 190.0,345.0Z" fill="#ffff44" stroke="#5a5a5a" stroke-opacity="0.55" stroke-width="0.4" vector-effect="non-scaling-stroke" stroke-linejoin="round"/>
<path d="M60.0,232.0C60.0,221.5 70.0,204.5 80.0,195.0C90.0,185.5 105.0,180.8 120.0,175.0C135.0,169.2 151.7,163.8 170.0,160.0C188.3,156.2 210.0,154.0 230.0,152.0C250.0,150.0 275.8,146.7 290.0,148.0C304.2,149.3 309.2,151.3 315.0,160.0C320.8,168.7 324.2,186.7 325.0,200.0C325.8,213.3 323.3,228.3 320.0,240.0C316.7,251.7 313.3,260.8 305.0,270.0C296.7,279.2 280.8,287.5 270.0,295.0C259.2,302.5 251.7,308.3 240.0,315.0C228.3,321.7 210.0,335.5 200.0,335.0C190.0,334.5 188.3,319.5 180.0,312.0C171.7,304.5 161.7,296.7 150.0,290.0C138.3,283.3 121.7,277.3 110.0,272.0C98.3,266.7 88.3,264.7 80.0,258.0C71.7,251.3 60.0,242.5 60.0,232.0Z" fill="#c0c0c0" stroke="#5a5a5a" stroke-opacity="0.55" stroke-width="0.4" vector-effect="non-scaling-stroke"/>
<path d="M135,238 C140,200 190,178 250,180 C300,182 325,205 325,235" fill="none" stroke="#5a5a5a" stroke-opacity="0.55" stroke-width="0.4" vector-effect="non-scaling-stroke"/>
</g>
<path d="M25.0,225.0C25.0,209.2 27.5,188.3 35.0,170.0C42.5,151.7 54.2,130.8 70.0,115.0C85.8,99.2 105.0,86.7 130.0,75.0C155.0,63.3 191.7,51.7 220.0,45.0C248.3,38.3 276.7,35.0 300.0,35.0C323.3,35.0 341.7,36.7 360.0,45.0C378.3,53.3 396.7,70.8 410.0,85.0C423.3,99.2 430.8,114.2 440.0,130.0C449.2,145.8 459.2,165.0 465.0,180.0C470.8,195.0 475.0,209.2 475.0,220.0C475.0,230.8 474.2,237.5 465.0,245.0C455.8,252.5 439.2,258.3 420.0,265.0C400.8,271.7 371.7,278.3 350.0,285.0C328.3,291.7 308.3,298.3 290.0,305.0C271.7,311.7 255.0,320.0 240.0,325.0C225.0,330.0 210.0,337.5 200.0,335.0C190.0,332.5 190.0,316.7 180.0,310.0C170.0,303.3 158.3,298.3 140.0,295.0C121.7,291.7 87.5,295.0 70.0,290.0C52.5,285.0 42.5,275.8 35.0,265.0C27.5,254.2 25.0,240.8 25.0,225.0Z" fill="none" stroke="#8a8a8a" stroke-opacity="0.7" stroke-width="0.45" vector-effect="non-scaling-stroke"/>
</g>
<g transform="translate(539.731,272.032) scale(0.12477)">
<clipPath id="c13"><path d="M28.0,215.0C29.3,207.2 29.7,197.5 35.0,185.0C40.3,172.5 49.2,155.8 60.0,140.0C70.8,124.2 88.3,103.8 100.0,90.0C111.7,76.2 119.2,65.8 130.0,57.0C140.8,48.2 151.7,41.3 165.0,37.0C178.3,32.7 194.8,31.7 210.0,31.0C225.2,30.3 241.7,31.5 256.0,33.0C270.3,34.5 281.0,35.5 296.0,40.0C311.0,44.5 328.5,50.8 346.0,60.0C363.5,69.2 384.3,83.3 401.0,95.0C417.7,106.7 433.5,116.7 446.0,130.0C458.5,143.3 469.3,160.8 476.0,175.0C482.7,189.2 484.7,204.2 486.0,215.0C487.3,225.8 487.3,231.3 484.0,240.0C480.7,248.7 474.8,259.5 466.0,267.0C457.2,274.5 445.2,281.2 431.0,285.0C416.8,288.8 394.3,287.5 381.0,290.0C367.7,292.5 358.0,294.7 351.0,300.0C344.0,305.3 344.0,314.2 339.0,322.0C334.0,329.8 329.8,341.5 321.0,347.0C312.2,352.5 296.8,355.0 286.0,355.0C275.2,355.0 274.5,354.2 256.0,347.0C237.5,339.8 201.0,322.0 175.0,312.0C149.0,302.0 120.8,295.3 100.0,287.0C79.2,278.7 62.2,271.2 50.0,262.0C37.8,252.8 30.7,239.8 27.0,232.0C23.3,224.2 26.7,222.8 28.0,215.0Z"/></clipPath>
<g clip-path="url(#c13)">
<path d="M28.0,215.0C29.3,207.2 29.7,197.5 35.0,185.0C40.3,172.5 49.2,155.8 60.0,140.0C70.8,124.2 88.3,103.8 100.0,90.0C111.7,76.2 119.2,65.8 130.0,57.0C140.8,48.2 151.7,41.3 165.0,37.0C178.3,32.7 194.8,31.7 210.0,31.0C225.2,30.3 241.7,31.5 256.0,33.0C270.3,34.5 281.0,35.5 296.0,40.0C311.0,44.5 328.5,50.8 346.0,60.0C363.5,69.2 384.3,83.3 401.0,95.0C417.7,106.7 433.5,116.7 446.0,130.0C458.5,143.3 469.3,160.8 476.0,175.0C482.7,189.2 484.7,204.2 486.0,215.0C487.3,225.8 487.3,231.3 484.0,240.0C480.7,248.7 474.8,259.5 466.0,267.0C457.2,274.5 445.2,281.2 431.0,285.0C416.8,288.8 394.3,287.5 381.0,290.0C367.7,292.5 358.0,294.7 351.0,300.0C344.0,305.3 344.0,314.2 339.0,322.0C334.0,329.8 329.8,341.5 321.0,347.0C312.2,352.5 296.8,355.0 286.0,355.0C275.2,355.0 274.5,354.2 256.0,347.0C237.5,339.8 201.0,322.0 175.0,312.0C149.0,302.0 120.8,295.3 100.0,287.0C79.2,278.7 62.2,271.2 50.0,262.0C37.8,252.8 30.7,239.8 27.0,232.0C23.3,224.2 26.7,222.8 28.0,215.0Z" fill="#c0c0c0"/>
<path d="M0.0,190.0C3.1,200.7 20.0,190.0 27.0,192.0C34.0,194.0 51.8,202.9 60.0,207.0C68.2,211.1 90.6,226.1 97.0,227.0C103.4,227.9 108.8,216.4 115.0,215.0C121.2,213.6 143.9,217.7 150.0,215.0C156.1,212.3 165.8,199.6 167.0,192.0C168.2,184.4 160.8,159.0 160.0,150.0C159.2,141.0 158.8,122.0 160.0,115.0C161.2,108.0 172.3,92.9 170.0,90.0C167.7,87.1 148.2,90.0 140.0,90.0C131.8,90.0 109.3,93.5 100.0,90.0C90.7,86.5 71.7,58.8 60.0,60.0C48.3,61.2 7.0,84.8 0.0,100.0C-7.0,115.2 -3.1,179.3 0.0,190.0Z" fill="#c0c0c0" stroke="#5a5a5a" stroke-opacity="0.55" stroke-width="0.4" vector-effect="non-scaling-stroke" stroke-linejoin="round"/>
<path d="M60.0,60.0C57.7,70.5 90.7,86.5 100.0,90.0C109.3,93.5 131.8,90.0 140.0,90.0C148.2,90.0 163.9,91.8 170.0,90.0C176.1,88.2 189.7,85.5 192.0,75.0C194.3,64.5 198.4,8.8 190.0,0.0C181.6,-8.8 135.2,-7.0 120.0,0.0C104.8,7.0 62.3,49.5 60.0,60.0Z" fill="#c0c0c0" stroke="#5a5a5a" stroke-opacity="0.55" stroke-width="0.4" vector-effect="non-scaling-stroke" stroke-linejoin="round"/>
<path d="M170.0,90.0C173.7,85.3 186.8,76.2 192.0,75.0C197.2,73.8 208.8,77.1 215.0,80.0C221.2,82.9 239.8,93.0 245.0,100.0C250.2,107.0 257.6,129.5 260.0,140.0C262.4,150.5 264.7,182.8 266.0,190.0C267.3,197.2 272.2,199.4 271.0,202.0C269.8,204.6 261.9,212.0 256.0,212.0C250.1,212.0 227.1,204.3 220.0,202.0C212.9,199.7 201.2,193.2 195.0,192.0C188.8,190.8 171.1,196.9 167.0,192.0C162.9,187.1 160.8,159.0 160.0,150.0C159.2,141.0 158.8,122.0 160.0,115.0C161.2,108.0 166.3,94.7 170.0,90.0Z" fill="#c0c0c0" stroke="#5a5a5a" stroke-opacity="0.55" stroke-width="0.4" vector-effect="non-scaling-stroke" stroke-linejoin="round"/>
<path d="M190.0,0.0C192.7,-8.8 212.1,-3.6 215.0,0.0C217.9,3.6 210.2,23.4 215.0,31.0C219.8,38.6 248.9,55.2 256.0,65.0C263.1,74.8 271.9,100.2 276.0,115.0C280.1,129.8 291.6,181.8 291.0,192.0C290.4,202.2 273.9,202.2 271.0,202.0C268.1,201.8 267.3,197.2 266.0,190.0C264.7,182.8 262.4,150.5 260.0,140.0C257.6,129.5 250.2,107.0 245.0,100.0C239.8,93.0 221.2,82.9 215.0,80.0C208.8,77.1 194.9,84.3 192.0,75.0C189.1,65.7 187.3,8.8 190.0,0.0Z" fill="#c0c0c0" stroke="#5a5a5a" stroke-opacity="0.55" stroke-width="0.4" vector-effect="non-scaling-stroke" stroke-linejoin="round"/>
<path d="M215.0,0.0C225.0,-3.6 291.0,-4.9 301.0,0.0C311.0,4.9 297.5,32.7 301.0,42.0C304.5,51.3 324.6,69.2 331.0,80.0C337.4,90.8 352.5,126.8 356.0,135.0C359.5,143.2 362.8,143.3 361.0,150.0C359.2,156.7 349.2,187.1 341.0,192.0C332.8,196.9 298.6,201.0 291.0,192.0C283.4,183.0 280.1,129.8 276.0,115.0C271.9,100.2 263.1,74.8 256.0,65.0C248.9,55.2 219.8,38.6 215.0,31.0C210.2,23.4 205.0,3.6 215.0,0.0Z" fill="#c0c0c0" stroke="#5a5a5a" stroke-opacity="0.55" stroke-width="0.4" vector-effect="non-scaling-stroke" stroke-linejoin="round"/>
<path d="M301.0,0.0C314.9,-4.9 406.1,-9.3 420.0,0.0C433.9,9.3 422.2,68.9 420.0,80.0C417.8,91.1 404.4,88.6 401.0,95.0C397.6,101.4 392.4,128.0 391.0,135.0C389.6,142.0 392.5,153.2 389.0,155.0C385.5,156.8 364.9,152.3 361.0,150.0C357.1,147.7 359.5,143.2 356.0,135.0C352.5,126.8 337.4,90.8 331.0,80.0C324.6,69.2 304.5,51.3 301.0,42.0C297.5,32.7 287.1,4.9 301.0,0.0Z" fill="#c0c0c0" stroke="#5a5a5a" stroke-opacity="0.55" stroke-width="0.4" vector-effect="non-scaling-stroke" stroke-linejoin="round"/>
<path d="M420.0,0.0C441.0,-9.3 579.0,-30.3 600.0,0.0C621.0,30.3 613.5,232.0 600.0,260.0C586.5,288.0 500.2,242.7 484.0,240.0C467.8,237.3 465.4,240.8 461.0,237.0C456.6,233.2 453.0,211.1 446.0,207.0C439.0,202.9 407.6,208.1 401.0,202.0C394.4,195.9 390.2,162.8 389.0,155.0C387.8,147.2 389.6,142.0 391.0,135.0C392.4,128.0 397.6,101.4 401.0,95.0C404.4,88.6 417.8,91.1 420.0,80.0C422.2,68.9 399.0,9.3 420.0,0.0Z" fill="#c0c0c0" stroke="#5a5a5a" stroke-opacity="0.55" stroke-width="0.4" vector-effect="non-scaling-stroke" stroke-linejoin="round"/>
<path d="M290.0,0.0C316.8,-4.7 493.2,-14.0 520.0,0.0C546.8,14.0 527.6,103.7 520.0,120.0C512.4,136.3 464.3,137.4 455.0,140.0C445.7,142.6 446.3,146.0 440.0,142.0C433.7,138.0 412.0,114.2 401.0,106.0C390.0,97.8 358.2,78.3 346.0,72.0C333.8,65.7 302.5,55.7 296.0,52.0C289.5,48.3 290.7,46.1 290.0,40.0C289.3,33.9 263.2,4.7 290.0,0.0Z" fill="#c0c0c0" stroke="#5a5a5a" stroke-opacity="0.55" stroke-width="0.4" vector-effect="non-scaling-stroke" stroke-linejoin="round"/>
<path d="M361.0,150.0C366.6,145.7 384.3,148.9 389.0,155.0C393.7,161.1 402.5,193.6 401.0,202.0C399.5,210.4 382.4,227.6 376.0,227.0C369.6,226.4 350.1,201.1 346.0,197.0C341.9,192.9 339.2,197.5 341.0,192.0C342.8,186.5 355.4,154.3 361.0,150.0Z" fill="#c0c0c0" stroke="#5a5a5a" stroke-opacity="0.55" stroke-width="0.4" vector-effect="non-scaling-stroke" stroke-linejoin="round"/>
<path d="M376.0,227.0C377.8,221.8 392.8,204.3 401.0,202.0C409.2,199.7 439.0,202.9 446.0,207.0C453.0,211.1 463.9,231.2 461.0,237.0C458.1,242.8 429.8,255.8 421.0,257.0C412.2,258.2 391.2,250.5 386.0,247.0C380.8,243.5 374.2,232.2 376.0,227.0Z" fill="#c0c0c0" stroke="#5a5a5a" stroke-opacity="0.55" stroke-width="0.4" vector-effect="non-scaling-stroke" stroke-linejoin="round"/>
<path d="M411.0,257.0C409.8,254.7 415.2,259.3 421.0,257.0C426.8,254.7 453.6,239.0 461.0,237.0C468.4,235.0 467.8,238.5 484.0,240.0C500.2,241.5 586.5,243.0 600.0,250.0C613.5,257.0 615.6,298.0 600.0,300.0C584.4,302.0 485.7,269.7 466.0,267.0C446.3,264.3 437.4,278.2 431.0,277.0C424.6,275.8 412.2,259.3 411.0,257.0Z" fill="#c0c0c0" stroke="#5a5a5a" stroke-opacity="0.55" stroke-width="0.4" vector-effect="non-scaling-stroke" stroke-linejoin="round"/>
<path d="M371.0,272.0C371.6,254.2 381.3,248.8 386.0,247.0C390.7,245.2 405.8,253.5 411.0,257.0C416.2,260.5 424.6,275.8 431.0,277.0C437.4,278.2 446.3,264.3 466.0,267.0C485.7,269.7 584.4,284.5 600.0,300.0C615.6,315.5 625.5,388.3 600.0,400.0C574.5,411.7 407.7,414.9 381.0,400.0C354.3,385.1 370.4,289.9 371.0,272.0Z" fill="#c0c0c0" stroke="#5a5a5a" stroke-opacity="0.55" stroke-width="0.4" vector-effect="non-scaling-stroke" stroke-linejoin="round"/>
<path d="M97.0,227.0C99.3,223.3 108.2,216.4 115.0,215.0C121.8,213.6 149.8,212.7 155.0,215.0C160.2,217.3 158.2,231.3 160.0,235.0C161.8,238.7 165.3,245.0 170.0,247.0C174.7,249.0 190.0,248.0 200.0,252.0C210.0,256.0 244.8,274.6 256.0,281.0C267.2,287.4 287.8,301.1 296.0,307.0C304.2,312.9 320.9,321.1 326.0,332.0C331.1,342.9 366.9,392.1 340.0,400.0C313.1,407.9 123.6,417.9 95.0,400.0C66.4,382.1 94.8,267.2 95.0,247.0C95.2,226.8 94.7,230.7 97.0,227.0Z" fill="#c0c0c0" stroke="#5a5a5a" stroke-opacity="0.55" stroke-width="0.4" vector-effect="non-scaling-stroke" stroke-linejoin="round"/>
<path d="M95.0,247.0C101.4,246.7 137.8,266.8 150.0,272.0C162.2,277.2 187.6,286.8 200.0,292.0C212.4,297.2 244.3,311.4 256.0,317.0C267.7,322.6 290.2,330.3 300.0,340.0C309.8,349.7 363.3,393.0 340.0,400.0C316.7,407.0 128.0,413.2 100.0,400.0C72.0,386.8 100.6,301.6 100.0,287.0C99.4,272.4 95.6,279.7 95.0,275.0C94.4,270.3 88.6,247.3 95.0,247.0Z" fill="#c0c0c0" stroke="#5a5a5a" stroke-opacity="0.55" stroke-width="0.4" vector-effect="non-scaling-stroke" stroke-linejoin="round"/>
<path d="M256.0,222.0C254.8,216.8 260.5,204.9 271.0,202.0C281.5,199.1 333.8,194.1 346.0,197.0C358.2,199.9 371.3,221.2 376.0,227.0C380.7,232.8 386.6,241.8 386.0,247.0C385.4,252.2 373.9,266.8 371.0,272.0C368.1,277.2 364.1,288.7 361.0,292.0C357.9,295.3 348.7,302.3 344.0,300.0C339.3,297.7 328.4,278.2 321.0,272.0C313.6,265.8 288.6,252.8 281.0,247.0C273.4,241.2 257.2,227.2 256.0,222.0Z" fill="#c0c0c0" stroke="#5a5a5a" stroke-opacity="0.55" stroke-width="0.4" vector-effect="non-scaling-stroke" stroke-linejoin="round"/>
<path d="M240.0,200.0C240.0,193.9 261.2,194.5 266.0,200.0C270.8,205.5 281.0,240.9 281.0,247.0C281.0,253.1 270.8,257.5 266.0,252.0C261.2,246.5 240.0,206.1 240.0,200.0Z" fill="#c0c0c0" stroke="#5a5a5a" stroke-opacity="0.55" stroke-width="0.4" vector-effect="non-scaling-stroke" stroke-linejoin="round"/>
<path d="M195.0,192.0C197.9,189.7 212.9,198.5 220.0,202.0C227.1,205.5 248.9,216.8 256.0,222.0C263.1,227.2 273.4,241.2 281.0,247.0C288.6,252.8 313.6,265.8 321.0,272.0C328.4,278.2 341.9,294.2 344.0,300.0C346.1,305.8 341.1,318.3 339.0,322.0C336.9,325.7 331.0,333.8 326.0,332.0C321.0,330.2 304.2,312.9 296.0,307.0C287.8,301.1 267.2,287.4 256.0,281.0C244.8,274.6 207.1,258.9 200.0,252.0C192.9,245.1 195.6,229.0 195.0,222.0C194.4,215.0 192.1,194.3 195.0,192.0Z" fill="#c0c0c0" stroke="#5a5a5a" stroke-opacity="0.55" stroke-width="0.4" vector-effect="non-scaling-stroke" stroke-linejoin="round"/>
<path d="M155.0,215.0C155.8,210.0 162.3,194.7 167.0,192.0C171.7,189.3 191.7,188.5 195.0,192.0C198.3,195.5 194.4,215.0 195.0,222.0C195.6,229.0 202.9,249.1 200.0,252.0C197.1,254.9 174.7,249.0 170.0,247.0C165.3,245.0 161.8,238.7 160.0,235.0C158.2,231.3 154.2,220.0 155.0,215.0Z" fill="#c0c0c0" stroke="#5a5a5a" stroke-opacity="0.55" stroke-width="0.4" vector-effect="non-scaling-stroke" stroke-linejoin="round"/>
</g>
<path d="M28.0,215.0C29.3,207.2 29.7,197.5 35.0,185.0C40.3,172.5 49.2,155.8 60.0,140.0C70.8,124.2 88.3,103.8 100.0,90.0C111.7,76.2 119.2,65.8 130.0,57.0C140.8,48.2 151.7,41.3 165.0,37.0C178.3,32.7 194.8,31.7 210.0,31.0C225.2,30.3 241.7,31.5 256.0,33.0C270.3,34.5 281.0,35.5 296.0,40.0C311.0,44.5 328.5,50.8 346.0,60.0C363.5,69.2 384.3,83.3 401.0,95.0C417.7,106.7 433.5,116.7 446.0,130.0C458.5,143.3 469.3,160.8 476.0,175.0C482.7,189.2 484.7,204.2 486.0,215.0C487.3,225.8 487.3,231.3 484.0,240.0C480.7,248.7 474.8,259.5 466.0,267.0C457.2,274.5 445.2,281.2 431.0,285.0C416.8,288.8 394.3,287.5 381.0,290.0C367.7,292.5 358.0,294.7 351.0,300.0C344.0,305.3 344.0,314.2 339.0,322.0C334.0,329.8 329.8,341.5 321.0,347.0C312.2,352.5 296.8,355.0 286.0,355.0C275.2,355.0 274.5,354.2 256.0,347.0C237.5,339.8 201.0,322.0 175.0,312.0C149.0,302.0 120.8,295.3 100.0,287.0C79.2,278.7 62.2,271.2 50.0,262.0C37.8,252.8 30.7,239.8 27.0,232.0C23.3,224.2 26.7,222.8 28.0,215.0Z" fill="none" stroke="#8a8a8a" stroke-opacity="0.7" stroke-width="0.45" vector-effect="non-scaling-stroke"/>
</g>
<g transform="translate(609.786,271.961) scale(0.13256)">
<clipPath id="c14"><path d="M25.0,225.0C25.0,209.2 27.5,188.3 35.0,170.0C42.5,151.7 54.2,130.8 70.0,115.0C85.8,99.2 105.0,86.7 130.0,75.0C155.0,63.3 191.7,51.7 220.0,45.0C248.3,38.3 276.7,35.0 300.0,35.0C323.3,35.0 341.7,36.7 360.0,45.0C378.3,53.3 396.7,70.8 410.0,85.0C423.3,99.2 430.8,114.2 440.0,130.0C449.2,145.8 459.2,165.0 465.0,180.0C470.8,195.0 475.0,209.2 475.0,220.0C475.0,230.8 474.2,237.5 465.0,245.0C455.8,252.5 439.2,258.3 420.0,265.0C400.8,271.7 371.7,278.3 350.0,285.0C328.3,291.7 308.3,298.3 290.0,305.0C271.7,311.7 255.0,320.0 240.0,325.0C225.0,330.0 210.0,337.5 200.0,335.0C190.0,332.5 190.0,316.7 180.0,310.0C170.0,303.3 158.3,298.3 140.0,295.0C121.7,291.7 87.5,295.0 70.0,290.0C52.5,285.0 42.5,275.8 35.0,265.0C27.5,254.2 25.0,240.8 25.0,225.0Z"/></clipPath>
<g clip-path="url(#c14)">
<path d="M25.0,225.0C25.0,209.2 27.5,188.3 35.0,170.0C42.5,151.7 54.2,130.8 70.0,115.0C85.8,99.2 105.0,86.7 130.0,75.0C155.0,63.3 191.7,51.7 220.0,45.0C248.3,38.3 276.7,35.0 300.0,35.0C323.3,35.0 341.7,36.7 360.0,45.0C378.3,53.3 396.7,70.8 410.0,85.0C423.3,99.2 430.8,114.2 440.0,130.0C449.2,145.8 459.2,165.0 465.0,180.0C470.8,195.0 475.0,209.2 475.0,220.0C475.0,230.8 474.2,237.5 465.0,245.0C455.8,252.5 439.2,258.3 420.0,265.0C400.8,271.7 371.7,278.3 350.0,285.0C328.3,291.7 308.3,298.3 290.0,305.0C271.7,311.7 255.0,320.0 240.0,325.0C225.0,330.0 210.0,337.5 200.0,335.0C190.0,332.5 190.0,316.7 180.0,310.0C170.0,303.3 158.3,298.3 140.0,295.0C121.7,291.7 87.5,295.0 70.0,290.0C52.5,285.0 42.5,275.8 35.0,265.0C27.5,254.2 25.0,240.8 25.0,225.0Z" fill="#c0c0c0"/>
<path d="M0.0,0.0C25.7,-28.0 193.8,-11.7 220.0,0.0C246.2,11.7 230.2,86.0 225.0,100.0C219.8,114.0 187.2,114.8 175.0,120.0C162.8,125.2 129.9,138.0 120.0,145.0C110.1,152.0 95.8,173.6 90.0,180.0C84.2,186.4 73.5,193.0 70.0,200.0C66.5,207.0 68.2,235.3 60.0,240.0C51.8,244.7 7.0,268.0 0.0,240.0C-7.0,212.0 -25.7,28.0 0.0,0.0Z" fill="#c0c0c0" stroke="#5a5a5a" stroke-opacity="0.55" stroke-width="0.4" vector-effect="non-scaling-stroke" stroke-linejoin="round"/>
<path d="M220.0,0.0C230.2,-12.2 300.6,-11.7 312.0,0.0C323.4,11.7 328.1,87.8 318.0,100.0C307.9,112.2 236.4,116.7 225.0,105.0C213.6,93.3 209.8,12.2 220.0,0.0Z" fill="#c0c0c0" stroke="#5a5a5a" stroke-opacity="0.55" stroke-width="0.4" vector-effect="non-scaling-stroke" stroke-linejoin="round"/>
<path d="M312.0,0.0C335.6,-11.7 495.7,-11.7 520.0,0.0C544.3,11.7 529.3,84.8 520.0,100.0C510.7,115.2 451.7,122.4 440.0,130.0C428.3,137.6 425.2,156.8 420.0,165.0C414.8,173.2 402.6,194.2 395.0,200.0C387.4,205.8 360.8,218.5 355.0,215.0C349.2,211.5 348.5,178.8 345.0,170.0C341.5,161.2 328.1,148.2 325.0,140.0C321.9,131.8 319.5,116.3 318.0,100.0C316.5,83.7 288.4,11.7 312.0,0.0Z" fill="#c0c0c0" stroke="#5a5a5a" stroke-opacity="0.55" stroke-width="0.4" vector-effect="non-scaling-stroke" stroke-linejoin="round"/>
<path d="M440.0,130.0C451.7,122.4 510.7,90.1 520.0,100.0C529.3,109.9 525.8,202.2 520.0,215.0C514.2,227.8 479.3,211.8 470.0,210.0C460.7,208.2 448.2,200.6 440.0,200.0C431.8,199.4 402.3,209.1 400.0,205.0C397.7,200.9 415.3,173.8 420.0,165.0C424.7,156.2 428.3,137.6 440.0,130.0Z" fill="#c0c0c0" stroke="#5a5a5a" stroke-opacity="0.55" stroke-width="0.4" vector-effect="non-scaling-stroke" stroke-linejoin="round"/>
<path d="M395.0,205.0C400.8,202.1 431.2,199.4 440.0,200.0C448.8,200.6 460.7,208.2 470.0,210.0C479.3,211.8 514.2,211.5 520.0,215.0C525.8,218.5 527.0,237.1 520.0,240.0C513.0,242.9 471.7,240.6 460.0,240.0C448.3,239.4 428.2,236.8 420.0,235.0C411.8,233.2 392.9,228.5 390.0,225.0C387.1,221.5 389.2,207.9 395.0,205.0Z" fill="#c0c0c0" stroke="#5a5a5a" stroke-opacity="0.55" stroke-width="0.4" vector-effect="non-scaling-stroke" stroke-linejoin="round"/>
<path d="M340.0,245.0C348.2,238.6 380.7,226.2 390.0,225.0C399.3,223.8 411.8,233.2 420.0,235.0C428.2,236.8 448.3,239.4 460.0,240.0C471.7,240.6 513.0,233.0 520.0,240.0C527.0,247.0 531.7,297.1 520.0,300.0C508.3,302.9 439.8,266.8 420.0,265.0C400.2,263.2 361.7,283.2 350.0,285.0C338.3,286.8 321.2,284.7 320.0,280.0C318.8,275.3 331.8,251.4 340.0,245.0Z" fill="#c0c0c0" stroke="#5a5a5a" stroke-opacity="0.55" stroke-width="0.4" vector-effect="non-scaling-stroke" stroke-linejoin="round"/>
<path d="M175.0,120.0C179.7,113.9 208.3,109.4 225.0,108.0C241.7,106.6 306.3,104.3 318.0,108.0C329.7,111.7 327.1,135.1 325.0,140.0C322.9,144.9 311.1,148.8 300.0,150.0C288.9,151.2 243.4,148.8 230.0,150.0C216.6,151.2 191.4,163.5 185.0,160.0C178.6,156.5 170.3,126.1 175.0,120.0Z" fill="#c0c0c0" stroke="#5a5a5a" stroke-opacity="0.55" stroke-width="0.4" vector-effect="non-scaling-stroke" stroke-linejoin="round"/>
<path d="M95.0,185.0C96.2,179.8 110.7,156.7 120.0,150.0C129.3,143.3 167.4,126.8 175.0,128.0C182.6,129.2 190.2,154.5 185.0,160.0C179.8,165.5 138.8,170.9 130.0,175.0C121.2,179.1 114.1,193.8 110.0,195.0C105.9,196.2 93.8,190.2 95.0,185.0Z" fill="#c0c0c0" stroke="#5a5a5a" stroke-opacity="0.55" stroke-width="0.4" vector-effect="non-scaling-stroke" stroke-linejoin="round"/>
<path d="M60.0,240.0C58.2,233.6 65.9,206.4 70.0,200.0C74.1,193.6 90.3,185.6 95.0,185.0C99.7,184.4 109.4,189.8 110.0,195.0C110.6,200.2 102.9,223.0 100.0,230.0C97.1,237.0 89.7,253.8 85.0,255.0C80.3,256.2 61.8,246.4 60.0,240.0Z" fill="#c0c0c0" stroke="#5a5a5a" stroke-opacity="0.55" stroke-width="0.4" vector-effect="non-scaling-stroke" stroke-linejoin="round"/>
<path d="M0.0,240.0C7.0,221.3 50.1,238.2 60.0,240.0C69.9,241.8 80.3,251.5 85.0,255.0C89.7,258.5 92.4,264.8 100.0,270.0C107.6,275.2 140.7,295.3 150.0,300.0C159.3,304.7 176.5,298.3 180.0,310.0C183.5,321.7 201.0,389.5 180.0,400.0C159.0,410.5 21.0,418.7 0.0,400.0C-21.0,381.3 -7.0,258.7 0.0,240.0Z" fill="#c0c0c0" stroke="#5a5a5a" stroke-opacity="0.55" stroke-width="0.4" vector-effect="non-scaling-stroke" stroke-linejoin="round"/>
<path d="M295.0,150.0C297.9,147.1 319.2,137.7 325.0,140.0C330.8,142.3 341.5,161.2 345.0,170.0C348.5,178.8 355.0,206.2 355.0,215.0C355.0,223.8 348.5,241.5 345.0,245.0C341.5,248.5 327.9,250.2 325.0,245.0C322.1,239.8 322.9,209.3 320.0,200.0C317.1,190.7 302.9,170.8 300.0,165.0C297.1,159.2 292.1,152.9 295.0,150.0Z" fill="#c0c0c0" stroke="#5a5a5a" stroke-opacity="0.55" stroke-width="0.4" vector-effect="non-scaling-stroke" stroke-linejoin="round"/>
<path d="M250.0,300.0C253.5,296.5 308.9,281.4 320.0,275.0C331.1,268.6 341.5,243.8 345.0,245.0C348.5,246.2 356.4,278.0 350.0,285.0C343.6,292.0 301.7,303.2 290.0,305.0C278.3,306.8 246.5,303.5 250.0,300.0Z" fill="#c0c0c0" stroke="#5a5a5a" stroke-opacity="0.55" stroke-width="0.4" vector-effect="non-scaling-stroke" stroke-linejoin="round"/>
<path d="M190.0,345.0C195.8,335.4 228.3,323.5 240.0,318.0C251.7,312.5 277.2,302.4 290.0,298.0C302.8,293.6 334.8,284.2 350.0,280.0C365.2,275.8 400.2,264.9 420.0,262.0C439.8,259.1 508.3,238.9 520.0,255.0C531.7,271.1 558.5,383.1 520.0,400.0C481.5,416.9 228.5,406.4 190.0,400.0C151.5,393.6 184.2,354.6 190.0,345.0Z" fill="#c0c0c0" stroke="#5a5a5a" stroke-opacity="0.55" stroke-width="0.4" vector-effect="non-scaling-stroke" stroke-linejoin="round"/>
<path d="M60.0,232.0C60.0,221.5 70.0,204.5 80.0,195.0C90.0,185.5 105.0,180.8 120.0,175.0C135.0,169.2 151.7,163.8 170.0,160.0C188.3,156.2 210.0,154.0 230.0,152.0C250.0,150.0 275.8,146.7 290.0,148.0C304.2,149.3 309.2,151.3 315.0,160.0C320.8,168.7 324.2,186.7 325.0,200.0C325.8,213.3 323.3,228.3 320.0,240.0C316.7,251.7 313.3,260.8 305.0,270.0C296.7,279.2 280.8,287.5 270.0,295.0C259.2,302.5 251.7,308.3 240.0,315.0C228.3,321.7 210.0,335.5 200.0,335.0C190.0,334.5 188.3,319.5 180.0,312.0C171.7,304.5 161.7,296.7 150.0,290.0C138.3,283.3 121.7,277.3 110.0,272.0C98.3,266.7 88.3,264.7 80.0,258.0C71.7,251.3 60.0,242.5 60.0,232.0Z" fill="#c0c0c0" stroke="#5a5a5a" stroke-opacity="0.55" stroke-width="0.4" vector-effect="non-scaling-stroke"/>
<path d="M135,238 C140,200 190,178 250,180 C300,182 325,205 325,235" fill="none" stroke="#5a5a5a" stroke-opacity="0.55" stroke-width="0.4" vector-effect="non-scaling-stroke"/>
</g>
<path d="M25.0,225.0C25.0,209.2 27.5,188.3 35.0,170.0C42.5,151.7 54.2,130.8 70.0,115.0C85.8,99.2 105.0,86.7 130.0,75.0C155.0,63.3 191.7,51.7 220.0,45.0C248.3,38.3 276.7,35.0 300.0,35.0C323.3,35.0 341.7,36.7 360.0,45.0C378.3,53.3 396.7,70.8 410.0,85.0C423.3,99.2 430.8,114.2 440.0,130.0C449.2,145.8 459.2,165.0 465.0,180.0C470.8,195.0 475.0,209.2 475.0,220.0C475.0,230.8 474.2,237.5 465.0,245.0C455.8,252.5 439.2,258.3 420.0,265.0C400.8,271.7 371.7,278.3 350.0,285.0C328.3,291.7 308.3,298.3 290.0,305.0C271.7,311.7 255.0,320.0 240.0,325.0C225.0,330.0 210.0,337.5 200.0,335.0C190.0,332.5 190.0,316.7 180.0,310.0C170.0,303.3 158.3,298.3 140.0,295.0C121.7,291.7 87.5,295.0 70.0,290.0C52.5,285.0 42.5,275.8 35.0,265.0C27.5,254.2 25.0,240.8 25.0,225.0Z" fill="none" stroke="#8a8a8a" stroke-opacity="0.7" stroke-width="0.45" vector-effect="non-scaling-stroke"/>
</g>
<g transform="translate(603.736,322.632) scale(-0.12477,0.12477)">
<clipPath id="c15"><path d="M28.0,215.0C29.3,207.2 29.7,197.5 35.0,185.0C40.3,172.5 49.2,155.8 60.0,140.0C70.8,124.2 88.3,103.8 100.0,90.0C111.7,76.2 119.2,65.8 130.0,57.0C140.8,48.2 151.7,41.3 165.0,37.0C178.3,32.7 194.8,31.7 210.0,31.0C225.2,30.3 241.7,31.5 256.0,33.0C270.3,34.5 281.0,35.5 296.0,40.0C311.0,44.5 328.5,50.8 346.0,60.0C363.5,69.2 384.3,83.3 401.0,95.0C417.7,106.7 433.5,116.7 446.0,130.0C458.5,143.3 469.3,160.8 476.0,175.0C482.7,189.2 484.7,204.2 486.0,215.0C487.3,225.8 487.3,231.3 484.0,240.0C480.7,248.7 474.8,259.5 466.0,267.0C457.2,274.5 445.2,281.2 431.0,285.0C416.8,288.8 394.3,287.5 381.0,290.0C367.7,292.5 358.0,294.7 351.0,300.0C344.0,305.3 344.0,314.2 339.0,322.0C334.0,329.8 329.8,341.5 321.0,347.0C312.2,352.5 296.8,355.0 286.0,355.0C275.2,355.0 274.5,354.2 256.0,347.0C237.5,339.8 201.0,322.0 175.0,312.0C149.0,302.0 120.8,295.3 100.0,287.0C79.2,278.7 62.2,271.2 50.0,262.0C37.8,252.8 30.7,239.8 27.0,232.0C23.3,224.2 26.7,222.8 28.0,215.0Z"/></clipPath>
<g clip-path="url(#c15)">
<path d="M28.0,215.0C29.3,207.2 29.7,197.5 35.0,185.0C40.3,172.5 49.2,155.8 60.0,140.0C70.8,124.2 88.3,103.8 100.0,90.0C111.7,76.2 119.2,65.8 130.0,57.0C140.8,48.2 151.7,41.3 165.0,37.0C178.3,32.7 194.8,31.7 210.0,31.0C225.2,30.3 241.7,31.5 256.0,33.0C270.3,34.5 281.0,35.5 296.0,40.0C311.0,44.5 328.5,50.8 346.0,60.0C363.5,69.2 384.3,83.3 401.0,95.0C417.7,106.7 433.5,116.7 446.0,130.0C458.5,143.3 469.3,160.8 476.0,175.0C482.7,189.2 484.7,204.2 486.0,215.0C487.3,225.8 487.3,231.3 484.0,240.0C480.7,248.7 474.8,259.5 466.0,267.0C457.2,274.5 445.2,281.2 431.0,285.0C416.8,288.8 394.3,287.5 381.0,290.0C367.7,292.5 358.0,294.7 351.0,300.0C344.0,305.3 344.0,314.2 339.0,322.0C334.0,329.8 329.8,341.5 321.0,347.0C312.2,352.5 296.8,355.0 286.0,355.0C275.2,355.0 274.5,354.2 256.0,347.0C237.5,339.8 201.0,322.0 175.0,312.0C149.0,302.0 120.8,295.3 100.0,287.0C79.2,278.7 62.2,271.2 50.0,262.0C37.8,252.8 30.7,239.8 27.0,232.0C23.3,224.2 26.7,222.8 28.0,215.0Z" fill="#c0c0c0"/>
<path d="M0.0,190.0C3.1,200.7 20.0,190.0 27.0,192.0C34.0,194.0 51.8,202.9 60.0,207.0C68.2,211.1 90.6,226.1 97.0,227.0C103.4,227.9 108.8,216.4 115.0,215.0C121.2,213.6 143.9,217.7 150.0,215.0C156.1,212.3 165.8,199.6 167.0,192.0C168.2,184.4 160.8,159.0 160.0,150.0C159.2,141.0 158.8,122.0 160.0,115.0C161.2,108.0 172.3,92.9 170.0,90.0C167.7,87.1 148.2,90.0 140.0,90.0C131.8,90.0 109.3,93.5 100.0,90.0C90.7,86.5 71.7,58.8 60.0,60.0C48.3,61.2 7.0,84.8 0.0,100.0C-7.0,115.2 -3.1,179.3 0.0,190.0Z" fill="#c0c0c0" stroke="#5a5a5a" stroke-opacity="0.55" stroke-width="0.4" vector-effect="non-scaling-stroke" stroke-linejoin="round"/>
<path d="M60.0,60.0C57.7,70.5 90.7,86.5 100.0,90.0C109.3,93.5 131.8,90.0 140.0,90.0C148.2,90.0 163.9,91.8 170.0,90.0C176.1,88.2 189.7,85.5 192.0,75.0C194.3,64.5 198.4,8.8 190.0,0.0C181.6,-8.8 135.2,-7.0 120.0,0.0C104.8,7.0 62.3,49.5 60.0,60.0Z" fill="#c0c0c0" stroke="#5a5a5a" stroke-opacity="0.55" stroke-width="0.4" vector-effect="non-scaling-stroke" stroke-linejoin="round"/>
<path d="M170.0,90.0C173.7,85.3 186.8,76.2 192.0,75.0C197.2,73.8 208.8,77.1 215.0,80.0C221.2,82.9 239.8,93.0 245.0,100.0C250.2,107.0 257.6,129.5 260.0,140.0C262.4,150.5 264.7,182.8 266.0,190.0C267.3,197.2 272.2,199.4 271.0,202.0C269.8,204.6 261.9,212.0 256.0,212.0C250.1,212.0 227.1,204.3 220.0,202.0C212.9,199.7 201.2,193.2 195.0,192.0C188.8,190.8 171.1,196.9 167.0,192.0C162.9,187.1 160.8,159.0 160.0,150.0C159.2,141.0 158.8,122.0 160.0,115.0C161.2,108.0 166.3,94.7 170.0,90.0Z" fill="#c0c0c0" stroke="#5a5a5a" stroke-opacity="0.55" stroke-width="0.4" vector-effect="non-scaling-stroke" stroke-linejoin="round"/>
<path d="M190.0,0.0C192.7,-8.8 212.1,-3.6 215.0,0.0C217.9,3.6 210.2,23.4 215.0,31.0C219.8,38.6 248.9,55.2 256.0,65.0C263.1,74.8 271.9,100.2 276.0,115.0C280.1,129.8 291.6,181.8 291.0,192.0C290.4,202.2 273.9,202.2 271.0,202.0C268.1,201.8 267.3,197.2 266.0,190.0C264.7,182.8 262.4,150.5 260.0,140.0C257.6,129.5 250.2,107.0 245.0,100.0C239.8,93.0 221.2,82.9 215.0,80.0C208.8,77.1 194.9,84.3 192.0,75.0C189.1,65.7 187.3,8.8 190.0,0.0Z" fill="#c0c0c0" stroke="#5a5a5a" stroke-opacity="0.55" stroke-width="0.4" vector-effect="non-scaling-stroke" stroke-linejoin="round"/>
<path d="M215.0,0.0C225.0,-3.6 291.0,-4.9 301.0,0.0C311.0,4.9 297.5,32.7 301.0,42.0C304.5,51.3 324.6,69.2 331.0,80.0C337.4,90.8 352.5,126.8 356.0,135.0C359.5,143.2 362.8,143.3 361.0,150.0C359.2,156.7 349.2,187.1 341.0,192.0C332.8,196.9 298.6,201.0 291.0,192.0C283.4,183.0 280.1,129.8 276.0,115.0C271.9,100.2 263.1,74.8 256.0,65.0C248.9,55.2 219.8,38.6 215.0,31.0C210.2,23.4 205.0,3.6 215.0,0.0Z" fill="#c0c0c0" stroke="#5a5a5a" stroke-opacity="0.55" stroke-width="0.4" vector-effect="non-scaling-stroke" stroke-linejoin="round"/>
<path d="M301.0,0.0C314.9,-4.9 406.1,-9.3 420.0,0.0C433.9,9.3 422.2,68.9 420.0,80.0C417.8,91.1 404.4,88.6 401.0,95.0C397.6,101.4 392.4,128.0 391.0,135.0C389.6,142.0 392.5,153.2 389.0,155.0C385.5,156.8 364.9,152.3 361.0,150.0C357.1,147.7 359.5,143.2 356.0,135.0C352.5,126.8 337.4,90.8 331.0,80.0C324.6,69.2 304.5,51.3 301.0,42.0C297.5,32.7 287.1,4.9 301.0,0.0Z" fill="#c0c0c0" stroke="#5a5a5a" stroke-opacity="0.55" stroke-width="0.4" vector-effect="non-scaling-stroke" stroke-linejoin="round"/>
<path d="M420.0,0.0C441.0,-9.3 579.0,-30.3 600.0,0.0C621.0,30.3 613.5,232.0 600.0,260.0C586.5,288.0 500.2,242.7 484.0,240.0C467.8,237.3 465.4,240.8 461.0,237.0C456.6,233.2 453.0,211.1 446.0,207.0C439.0,202.9 407.6,208.1 401.0,202.0C394.4,195.9 390.2,162.8 389.0,155.0C387.8,147.2 389.6,142.0 391.0,135.0C392.4,128.0 397.6,101.4 401.0,95.0C404.4,88.6 417.8,91.1 420.0,80.0C422.2,68.9 399.0,9.3 420.0,0.0Z" fill="#c0c0c0" stroke="#5a5a5a" stroke-opacity="0.55" stroke-width="0.4" vector-effect="non-scaling-stroke" stroke-linejoin="round"/>
<path d="M290.0,0.0C316.8,-4.7 493.2,-14.0 520.0,0.0C546.8,14.0 527.6,103.7 520.0,120.0C512.4,136.3 464.3,137.4 455.0,140.0C445.7,142.6 446.3,146.0 440.0,142.0C433.7,138.0 412.0,114.2 401.0,106.0C390.0,97.8 358.2,78.3 346.0,72.0C333.8,65.7 302.5,55.7 296.0,52.0C289.5,48.3 290.7,46.1 290.0,40.0C289.3,33.9 263.2,4.7 290.0,0.0Z" fill="#c0c0c0" stroke="#5a5a5a" stroke-opacity="0.55" stroke-width="0.4" vector-effect="non-scaling-stroke" stroke-linejoin="round"/>
<path d="M361.0,150.0C366.6,145.7 384.3,148.9 389.0,155.0C393.7,161.1 402.5,193.6 401.0,202.0C399.5,210.4 382.4,227.6 376.0,227.0C369.6,226.4 350.1,201.1 346.0,197.0C341.9,192.9 339.2,197.5 341.0,192.0C342.8,186.5 355.4,154.3 361.0,150.0Z" fill="#c0c0c0" stroke="#5a5a5a" stroke-opacity="0.55" stroke-width="0.4" vector-effect="non-scaling-stroke" stroke-linejoin="round"/>
<path d="M376.0,227.0C377.8,221.8 392.8,204.3 401.0,202.0C409.2,199.7 439.0,202.9 446.0,207.0C453.0,211.1 463.9,231.2 461.0,237.0C458.1,242.8 429.8,255.8 421.0,257.0C412.2,258.2 391.2,250.5 386.0,247.0C380.8,243.5 374.2,232.2 376.0,227.0Z" fill="#c0c0c0" stroke="#5a5a5a" stroke-opacity="0.55" stroke-width="0.4" vector-effect="non-scaling-stroke" stroke-linejoin="round"/>
<path d="M411.0,257.0C409.8,254.7 415.2,259.3 421.0,257.0C426.8,254.7 453.6,239.0 461.0,237.0C468.4,235.0 467.8,238.5 484.0,240.0C500.2,241.5 586.5,243.0 600.0,250.0C613.5,257.0 615.6,298.0 600.0,300.0C584.4,302.0 485.7,269.7 466.0,267.0C446.3,264.3 437.4,278.2 431.0,277.0C424.6,275.8 412.2,259.3 411.0,257.0Z" fill="#c0c0c0" stroke="#5a5a5a" stroke-opacity="0.55" stroke-width="0.4" vector-effect="non-scaling-stroke" stroke-linejoin="round"/>
<path d="M371.0,272.0C371.6,254.2 381.3,248.8 386.0,247.0C390.7,245.2 405.8,253.5 411.0,257.0C416.2,260.5 424.6,275.8 431.0,277.0C437.4,278.2 446.3,264.3 466.0,267.0C485.7,269.7 584.4,284.5 600.0,300.0C615.6,315.5 625.5,388.3 600.0,400.0C574.5,411.7 407.7,414.9 381.0,400.0C354.3,385.1 370.4,289.9 371.0,272.0Z" fill="#c0c0c0" stroke="#5a5a5a" stroke-opacity="0.55" stroke-width="0.4" vector-effect="non-scaling-stroke" stroke-linejoin="round"/>
<path d="M97.0,227.0C99.3,223.3 108.2,216.4 115.0,215.0C121.8,213.6 149.8,212.7 155.0,215.0C160.2,217.3 158.2,231.3 160.0,235.0C161.8,238.7 165.3,245.0 170.0,247.0C174.7,249.0 190.0,248.0 200.0,252.0C210.0,256.0 244.8,274.6 256.0,281.0C267.2,287.4 287.8,301.1 296.0,307.0C304.2,312.9 320.9,321.1 326.0,332.0C331.1,342.9 366.9,392.1 340.0,400.0C313.1,407.9 123.6,417.9 95.0,400.0C66.4,382.1 94.8,267.2 95.0,247.0C95.2,226.8 94.7,230.7 97.0,227.0Z" fill="#c0c0c0" stroke="#5a5a5a" stroke-opacity="0.55" stroke-width="0.4" vector-effect="non-scaling-stroke" stroke-linejoin="round"/>
<path d="M95.0,247.0C101.4,246.7 137.8,266.8 150.0,272.0C162.2,277.2 187.6,286.8 200.0,292.0C212.4,297.2 244.3,311.4 256.0,317.0C267.7,322.6 290.2,330.3 300.0,340.0C309.8,349.7 363.3,393.0 340.0,400.0C316.7,407.0 128.0,413.2 100.0,400.0C72.0,386.8 100.6,301.6 100.0,287.0C99.4,272.4 95.6,279.7 95.0,275.0C94.4,270.3 88.6,247.3 95.0,247.0Z" fill="#c0c0c0" stroke="#5a5a5a" stroke-opacity="0.55" stroke-width="0.4" vector-effect="non-scaling-stroke" stroke-linejoin="round"/>
<path d="M256.0,222.0C254.8,216.8 260.5,204.9 271.0,202.0C281.5,199.1 333.8,194.1 346.0,197.0C358.2,199.9 371.3,221.2 376.0,227.0C380.7,232.8 386.6,241.8 386.0,247.0C385.4,252.2 373.9,266.8 371.0,272.0C368.1,277.2 364.1,288.7 361.0,292.0C357.9,295.3 348.7,302.3 344.0,300.0C339.3,297.7 328.4,278.2 321.0,272.0C313.6,265.8 288.6,252.8 281.0,247.0C273.4,241.2 257.2,227.2 256.0,222.0Z" fill="#c0c0c0" stroke="#5a5a5a" stroke-opacity="0.55" stroke-width="0.4" vector-effect="non-scaling-stroke" stroke-linejoin="round"/>
<path d="M240.0,200.0C240.0,193.9 261.2,194.5 266.0,200.0C270.8,205.5 281.0,240.9 281.0,247.0C281.0,253.1 270.8,257.5 266.0,252.0C261.2,246.5 240.0,206.1 240.0,200.0Z" fill="#c0c0c0" stroke="#5a5a5a" stroke-opacity="0.55" stroke-width="0.4" vector-effect="non-scaling-stroke" stroke-linejoin="round"/>
<path d="M195.0,192.0C197.9,189.7 212.9,198.5 220.0,202.0C227.1,205.5 248.9,216.8 256.0,222.0C263.1,227.2 273.4,241.2 281.0,247.0C288.6,252.8 313.6,265.8 321.0,272.0C328.4,278.2 341.9,294.2 344.0,300.0C346.1,305.8 341.1,318.3 339.0,322.0C336.9,325.7 331.0,333.8 326.0,332.0C321.0,330.2 304.2,312.9 296.0,307.0C287.8,301.1 267.2,287.4 256.0,281.0C244.8,274.6 207.1,258.9 200.0,252.0C192.9,245.1 195.6,229.0 195.0,222.0C194.4,215.0 192.1,194.3 195.0,192.0Z" fill="#c0c0c0" stroke="#5a5a5a" stroke-opacity="0.55" stroke-width="0.4" vector-effect="non-scaling-stroke" stroke-linejoin="round"/>
<path d="M155.0,215.0C155.8,210.0 162.3,194.7 167.0,192.0C171.7,189.3 191.7,188.5 195.0,192.0C198.3,195.5 194.4,215.0 195.0,222.0C195.6,229.0 202.9,249.1 200.0,252.0C197.1,254.9 174.7,249.0 170.0,247.0C165.3,245.0 161.8,238.7 160.0,235.0C158.2,231.3 154.2,220.0 155.0,215.0Z" fill="#c0c0c0" stroke="#5a5a5a" stroke-opacity="0.55" stroke-width="0.4" vector-effect="non-scaling-stroke" stroke-linejoin="round"/>
</g>
<path d="M28.0,215.0C29.3,207.2 29.7,197.5 35.0,185.0C40.3,172.5 49.2,155.8 60.0,140.0C70.8,124.2 88.3,103.8 100.0,90.0C111.7,76.2 119.2,65.8 130.0,57.0C140.8,48.2 151.7,41.3 165.0,37.0C178.3,32.7 194.8,31.7 210.0,31.0C225.2,30.3 241.7,31.5 256.0,33.0C270.3,34.5 281.0,35.5 296.0,40.0C311.0,44.5 328.5,50.8 346.0,60.0C363.5,69.2 384.3,83.3 401.0,95.0C417.7,106.7 433.5,116.7 446.0,130.0C458.5,143.3 469.3,160.8 476.0,175.0C482.7,189.2 484.7,204.2 486.0,215.0C487.3,225.8 487.3,231.3 484.0,240.0C480.7,248.7 474.8,259.5 466.0,267.0C457.2,274.5 445.2,281.2 431.0,285.0C416.8,288.8 394.3,287.5 381.0,290.0C367.7,292.5 358.0,294.7 351.0,300.0C344.0,305.3 344.0,314.2 339.0,322.0C334.0,329.8 329.8,341.5 321.0,347.0C312.2,352.5 296.8,355.0 286.0,355.0C275.2,355.0 274.5,354.2 256.0,347.0C237.5,339.8 201.0,322.0 175.0,312.0C149.0,302.0 120.8,295.3 100.0,287.0C79.2,278.7 62.2,271.2 50.0,262.0C37.8,252.8 30.7,239.8 27.0,232.0C23.3,224.2 26.7,222.8 28.0,215.0Z" fill="none" stroke="#8a8a8a" stroke-opacity="0.7" stroke-width="0.45" vector-effect="non-scaling-stroke"/>
</g>
<g transform="translate(676.064,322.561) scale(-0.13256,0.13256)">
<clipPath id="c16"><path d="M25.0,225.0C25.0,209.2 27.5,188.3 35.0,170.0C42.5,151.7 54.2,130.8 70.0,115.0C85.8,99.2 105.0,86.7 130.0,75.0C155.0,63.3 191.7,51.7 220.0,45.0C248.3,38.3 276.7,35.0 300.0,35.0C323.3,35.0 341.7,36.7 360.0,45.0C378.3,53.3 396.7,70.8 410.0,85.0C423.3,99.2 430.8,114.2 440.0,130.0C449.2,145.8 459.2,165.0 465.0,180.0C470.8,195.0 475.0,209.2 475.0,220.0C475.0,230.8 474.2,237.5 465.0,245.0C455.8,252.5 439.2,258.3 420.0,265.0C400.8,271.7 371.7,278.3 350.0,285.0C328.3,291.7 308.3,298.3 290.0,305.0C271.7,311.7 255.0,320.0 240.0,325.0C225.0,330.0 210.0,337.5 200.0,335.0C190.0,332.5 190.0,316.7 180.0,310.0C170.0,303.3 158.3,298.3 140.0,295.0C121.7,291.7 87.5,295.0 70.0,290.0C52.5,285.0 42.5,275.8 35.0,265.0C27.5,254.2 25.0,240.8 25.0,225.0Z"/></clipPath>
<g clip-path="url(#c16)">
<path d="M25.0,225.0C25.0,209.2 27.5,188.3 35.0,170.0C42.5,151.7 54.2,130.8 70.0,115.0C85.8,99.2 105.0,86.7 130.0,75.0C155.0,63.3 191.7,51.7 220.0,45.0C248.3,38.3 276.7,35.0 300.0,35.0C323.3,35.0 341.7,36.7 360.0,45.0C378.3,53.3 396.7,70.8 410.0,85.0C423.3,99.2 430.8,114.2 440.0,130.0C449.2,145.8 459.2,165.0 465.0,180.0C470.8,195.0 475.0,209.2 475.0,220.0C475.0,230.8 474.2,237.5 465.0,245.0C455.8,252.5 439.2,258.3 420.0,265.0C400.8,271.7 371.7,278.3 350.0,285.0C328.3,291.7 308.3,298.3 290.0,305.0C271.7,311.7 255.0,320.0 240.0,325.0C225.0,330.0 210.0,337.5 200.0,335.0C190.0,332.5 190.0,316.7 180.0,310.0C170.0,303.3 158.3,298.3 140.0,295.0C121.7,291.7 87.5,295.0 70.0,290.0C52.5,285.0 42.5,275.8 35.0,265.0C27.5,254.2 25.0,240.8 25.0,225.0Z" fill="#c0c0c0"/>
<path d="M0.0,0.0C25.7,-28.0 193.8,-11.7 220.0,0.0C246.2,11.7 230.2,86.0 225.0,100.0C219.8,114.0 187.2,114.8 175.0,120.0C162.8,125.2 129.9,138.0 120.0,145.0C110.1,152.0 95.8,173.6 90.0,180.0C84.2,186.4 73.5,193.0 70.0,200.0C66.5,207.0 68.2,235.3 60.0,240.0C51.8,244.7 7.0,268.0 0.0,240.0C-7.0,212.0 -25.7,28.0 0.0,0.0Z" fill="#c0c0c0" stroke="#5a5a5a" stroke-opacity="0.55" stroke-width="0.4" vector-effect="non-scaling-stroke" stroke-linejoin="round"/>
<path d="M220.0,0.0C230.2,-12.2 300.6,-11.7 312.0,0.0C323.4,11.7 328.1,87.8 318.0,100.0C307.9,112.2 236.4,116.7 225.0,105.0C213.6,93.3 209.8,12.2 220.0,0.0Z" fill="#c0c0c0" stroke="#5a5a5a" stroke-opacity="0.55" stroke-width="0.4" vector-effect="non-scaling-stroke" stroke-linejoin="round"/>
<path d="M312.0,0.0C335.6,-11.7 495.7,-11.7 520.0,0.0C544.3,11.7 529.3,84.8 520.0,100.0C510.7,115.2 451.7,122.4 440.0,130.0C428.3,137.6 425.2,156.8 420.0,165.0C414.8,173.2 402.6,194.2 395.0,200.0C387.4,205.8 360.8,218.5 355.0,215.0C349.2,211.5 348.5,178.8 345.0,170.0C341.5,161.2 328.1,148.2 325.0,140.0C321.9,131.8 319.5,116.3 318.0,100.0C316.5,83.7 288.4,11.7 312.0,0.0Z" fill="#c0c0c0" stroke="#5a5a5a" stroke-opacity="0.55" stroke-width="0.4" vector-effect="non-scaling-stroke" stroke-linejoin="round"/>
<path d="M440.0,130.0C451.7,122.4 510.7,90.1 520.0,100.0C529.3,109.9 525.8,202.2 520.0,215.0C514.2,227.8 479.3,211.8 470.0,210.0C460.7,208.2 448.2,200.6 440.0,200.0C431.8,199.4 402.3,209.1 400.0,205.0C397.7,200.9 415.3,173.8 420.0,165.0C424.7,156.2 428.3,137.6 440.0,130.0Z" fill="#c0c0c0" stroke="#5a5a5a" stroke-opacity="0.55" stroke-width="0.4" vector-effect="non-scaling-stroke" stroke-linejoin="round"/>
<path d="M395.0,205.0C400.8,202.1 431.2,199.4 440.0,200.0C448.8,200.6 460.7,208.2 470.0,210.0C479.3,211.8 514.2,211.5 520.0,215.0C525.8,218.5 527.0,237.1 520.0,240.0C513.0,242.9 471.7,240.6 460.0,240.0C448.3,239.4 428.2,236.8 420.0,235.0C411.8,233.2 392.9,228.5 390.0,225.0C387.1,221.5 389.2,207.9 395.0,205.0Z" fill="#c0c0c0" stroke="#5a5a5a" stroke-opacity="0.55" stroke-width="0.4" vector-effect="non-scaling-stroke" stroke-linejoin="round"/>
<path d="M340.0,245.0C348.2,238.6 380.7,226.2 390.0,225.0C399.3,223.8 411.8,233.2 420.0,235.0C428.2,236.8 448.3,239.4 460.0,240.0C471.7,240.6 513.0,233.0 520.0,240.0C527.0,247.0 531.7,297.1 520.0,300.0C508.3,302.9 439.8,266.8 420.0,265.0C400.2,263.2 361.7,283.2 350.0,285.0C338.3,286.8 321.2,284.7 320.0,280.0C318.8,275.3 331.8,251.4 340.0,245.0Z" fill="#c0c0c0" stroke="#5a5a5a" stroke-opacity="0.55" stroke-width="0.4" vector-effect="non-scaling-stroke" stroke-linejoin="round"/>
<path d="M175.0,120.0C179.7,113.9 208.3,109.4 225.0,108.0C241.7,106.6 306.3,104.3 318.0,108.0C329.7,111.7 327.1,135.1 325.0,140.0C322.9,144.9 311.1,148.8 300.0,150.0C288.9,151.2 243.4,148.8 230.0,150.0C216.6,151.2 191.4,163.5 185.0,160.0C178.6,156.5 170.3,126.1 175.0,120.0Z" fill="#c0c0c0" stroke="#5a5a5a" stroke-opacity="0.55" stroke-width="0.4" vector-effect="non-scaling-stroke" stroke-linejoin="round"/>
<path d="M95.0,185.0C96.2,179.8 110.7,156.7 120.0,150.0C129.3,143.3 167.4,126.8 175.0,128.0C182.6,129.2 190.2,154.5 185.0,160.0C179.8,165.5 138.8,170.9 130.0,175.0C121.2,179.1 114.1,193.8 110.0,195.0C105.9,196.2 93.8,190.2 95.0,185.0Z" fill="#c0c0c0" stroke="#5a5a5a" stroke-opacity="0.55" stroke-width="0.4" vector-effect="non-scaling-stroke" stroke-linejoin="round"/>
<path d="M60.0,240.0C58.2,233.6 65.9,206.4 70.0,200.0C74.1,193.6 90.3,185.6 95.0,185.0C99.7,184.4 109.4,189.8 110.0,195.0C110.6,200.2 102.9,223.0 100.0,230.0C97.1,237.0 89.7,253.8 85.0,255.0C80.3,256.2 61.8,246.4 60.0,240.0Z" fill="#c0c0c0" stroke="#5a5a5a" stroke-opacity="0.55" stroke-width="0.4" vector-effect="non-scaling-stroke" stroke-linejoin="round"/>
<path d="M0.0,240.0C7.0,221.3 50.1,238.2 60.0,240.0C69.9,241.8 80.3,251.5 85.0,255.0C89.7,258.5 92.4,264.8 100.0,270.0C107.6,275.2 140.7,295.3 150.0,300.0C159.3,304.7 176.5,298.3 180.0,310.0C183.5,321.7 201.0,389.5 180.0,400.0C159.0,410.5 21.0,418.7 0.0,400.0C-21.0,381.3 -7.0,258.7 0.0,240.0Z" fill="#c0c0c0" stroke="#5a5a5a" stroke-opacity="0.55" stroke-width="0.4" vector-effect="non-scaling-stroke" stroke-linejoin="round"/>
<path d="M295.0,150.0C297.9,147.1 319.2,137.7 325.0,140.0C330.8,142.3 341.5,161.2 345.0,170.0C348.5,178.8 355.0,206.2 355.0,215.0C355.0,223.8 348.5,241.5 345.0,245.0C341.5,248.5 327.9,250.2 325.0,245.0C322.1,239.8 322.9,209.3 320.0,200.0C317.1,190.7 302.9,170.8 300.0,165.0C297.1,159.2 292.1,152.9 295.0,150.0Z" fill="#c0c0c0" stroke="#5a5a5a" stroke-opacity="0.55" stroke-width="0.4" vector-effect="non-scaling-stroke" stroke-linejoin="round"/>
<path d="M250.0,300.0C253.5,296.5 308.9,281.4 320.0,275.0C331.1,268.6 341.5,243.8 345.0,245.0C348.5,246.2 356.4,278.0 350.0,285.0C343.6,292.0 301.7,303.2 290.0,305.0C278.3,306.8 246.5,303.5 250.0,300.0Z" fill="#c0c0c0" stroke="#5a5a5a" stroke-opacity="0.55" stroke-width="0.4" vector-effect="non-scaling-stroke" stroke-linejoin="round"/>
<path d="M190.0,345.0C195.8,335.4 228.3,323.5 240.0,318.0C251.7,312.5 277.2,302.4 290.0,298.0C302.8,293.6 334.8,284.2 350.0,280.0C365.2,275.8 400.2,264.9 420.0,262.0C439.8,259.1 508.3,238.9 520.0,255.0C531.7,271.1 558.5,383.1 520.0,400.0C481.5,416.9 228.5,406.4 190.0,400.0C151.5,393.6 184.2,354.6 190.0,345.0Z" fill="#c0c0c0" stroke="#5a5a5a" stroke-opacity="0.55" stroke-width="0.4" vector-effect="non-scaling-stroke" stroke-linejoin="round"/>
<path d="M60.0,232.0C60.0,221.5 70.0,204.5 80.0,195.0C90.0,185.5 105.0,180.8 120.0,175.0C135.0,169.2 151.7,163.8 170.0,160.0C188.3,156.2 210.0,154.0 230.0,152.0C250.0,150.0 275.8,146.7 290.0,148.0C304.2,149.3 309.2,151.3 315.0,160.0C320.8,168.7 324.2,186.7 325.0,200.0C325.8,213.3 323.3,228.3 320.0,240.0C316.7,251.7 313.3,260.8 305.0,270.0C296.7,279.2 280.8,287.5 270.0,295.0C259.2,302.5 251.7,308.3 240.0,315.0C228.3,321.7 210.0,335.5 200.0,335.0C190.0,334.5 188.3,319.5 180.0,312.0C171.7,304.5 161.7,296.7 150.0,290.0C138.3,283.3 121.7,277.3 110.0,272.0C98.3,266.7 88.3,264.7 80.0,258.0C71.7,251.3 60.0,242.5 60.0,232.0Z" fill="#c0c0c0" stroke="#5a5a5a" stroke-opacity="0.55" stroke-width="0.4" vector-effect="non-scaling-stroke"/>
<path d="M135,238 C140,200 190,178 250,180 C300,182 325,205 325,235" fill="none" stroke="#5a5a5a" stroke-opacity="0.55" stroke-width="0.4" vector-effect="non-scaling-stroke"/>
</g>
<path d="M25.0,225.0C25.0,209.2 27.5,188.3 35.0,170.0C42.5,151.7 54.2,130.8 70.0,115.0C85.8,99.2 105.0,86.7 130.0,75.0C155.0,63.3 191.7,51.7 220.0,45.0C248.3,38.3 276.7,35.0 300.0,35.0C323.3,35.0 341.7,36.7 360.0,45.0C378.3,53.3 396.7,70.8 410.0,85.0C423.3,99.2 430.8,114.2 440.0,130.0C449.2,145.8 459.2,165.0 465.0,180.0C470.8,195.0 475.0,209.2 475.0,220.0C475.0,230.8 474.2,237.5 465.0,245.0C455.8,252.5 439.2,258.3 420.0,265.0C400.8,271.7 371.7,278.3 350.0,285.0C328.3,291.7 308.3,298.3 290.0,305.0C271.7,311.7 255.0,320.0 240.0,325.0C225.0,330.0 210.0,337.5 200.0,335.0C190.0,332.5 190.0,316.7 180.0,310.0C170.0,303.3 158.3,298.3 140.0,295.0C121.7,291.7 87.5,295.0 70.0,290.0C52.5,285.0 42.5,275.8 35.0,265.0C27.5,254.2 25.0,240.8 25.0,225.0Z" fill="none" stroke="#8a8a8a" stroke-opacity="0.7" stroke-width="0.45" vector-effect="non-scaling-stroke"/>
</g>
<defs><linearGradient id="cbar" x1="0" y1="0" x2="0" y2="1"><stop offset="0" stop-color="#fffff2"/><stop offset="0.3" stop-color="#ffff96"/><stop offset="0.5" stop-color="#ffff00"/><stop offset="0.68" stop-color="#ffc200"/><stop offset="1" stop-color="#ff2000"/></linearGradient></defs>
<rect x="3.8" y="291" width="15.6" height="75.4" fill="url(#cbar)"/>
<path d="M3.8 315.3h2M17.4 315.3h2" stroke="#fff" stroke-opacity="0.7" stroke-width="0.5"/>
<path d="M3.8 340.4h2M17.4 340.4h2" stroke="#fff" stroke-opacity="0.7" stroke-width="0.5"/>
<text x="44.2" y="293.9" font-size="11.5" text-anchor="end" fill="#000">0.0</text>
<text x="44.2" y="317.6" font-size="11.5" text-anchor="end" fill="#000">-0.2</text>
<text x="44.2" y="342.9" font-size="11.5" text-anchor="end" fill="#000">-0.4</text>
<text x="44.2" y="367.2" font-size="11.5" text-anchor="end" fill="#000">-0.6</text>
<text x="2.4" y="275.9" font-size="11.4" fill="#000">Effect Size</text>
<text x="90.2" y="304.6" font-size="11.5" text-anchor="end" fill="#000">Right</text>
<text x="84.5" y="351.7" font-size="11.5" text-anchor="end" fill="#000">Left</text>
<text x="124.0" y="381" font-size="11.4" text-anchor="middle" fill="#000">Lateral</text>
<text x="280.0" y="381" font-size="11.4" text-anchor="middle" fill="#000">Lateral</text>
<text x="436.0" y="381" font-size="11.4" text-anchor="middle" fill="#000">Lateral</text>
<text x="583.2" y="381" font-size="11.4" text-anchor="middle" fill="#000">Lateral</text>
<text x="186.8" y="381" font-size="11.4" text-anchor="middle" fill="#000">Medial</text>
<text x="342.9" y="381" font-size="11.4" text-anchor="middle" fill="#000">Medial</text>
<text x="498.8" y="381" font-size="11.4" text-anchor="middle" fill="#000">Medial</text>
<text x="646.1" y="381" font-size="11.4" text-anchor="middle" fill="#000">Medial</text>
</svg>
</body></html>
